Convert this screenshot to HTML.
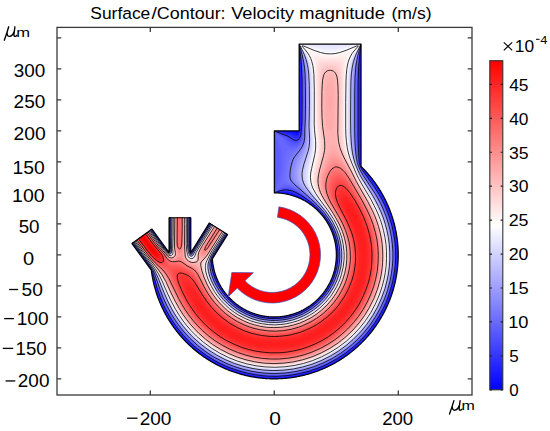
<!DOCTYPE html>
<html><head><meta charset="utf-8"><style>
html,body{margin:0;padding:0;background:#fff;}
svg{display:block;}
text{font-family:"Liberation Sans",sans-serif;fill:#000;}
</style></head><body>
<svg width="550" height="431" viewBox="0 0 550 431">
<rect width="550" height="431" fill="#fff"/>
<clipPath id="dom"><path d="M299.10 44.10 L361.10 44.10 L361.10 166.35 L361.66 166.90 L362.22 167.46 L362.78 168.02 L363.33 168.59 L363.87 169.15 L364.42 169.73 L364.96 170.30 L365.50 170.88 L366.03 171.46 L366.56 172.05 L367.08 172.64 L367.61 173.23 L368.12 173.83 L368.64 174.42 L369.15 175.03 L369.66 175.63 L370.16 176.24 L370.66 176.85 L371.15 177.47 L371.64 178.09 L372.13 178.71 L372.61 179.33 L373.09 179.96 L373.57 180.59 L374.04 181.22 L374.51 181.86 L374.97 182.50 L375.43 183.14 L375.88 183.79 L376.33 184.44 L376.78 185.09 L377.22 185.74 L377.66 186.40 L378.09 187.06 L378.52 187.72 L378.95 188.38 L379.37 189.05 L379.79 189.72 L380.20 190.40 L380.61 191.07 L381.01 191.75 L381.41 192.43 L381.81 193.11 L382.20 193.80 L382.59 194.49 L382.97 195.18 L383.35 195.87 L383.72 196.57 L384.09 197.26 L384.46 197.96 L384.82 198.67 L385.17 199.37 L385.52 200.08 L385.87 200.79 L386.21 201.50 L386.55 202.21 L386.88 202.93 L387.21 203.65 L387.54 204.37 L387.86 205.09 L388.17 205.81 L388.48 206.54 L388.79 207.27 L389.09 208.00 L389.38 208.73 L389.67 209.46 L389.96 210.20 L390.24 210.93 L390.52 211.67 L390.79 212.41 L391.06 213.16 L391.33 213.90 L391.58 214.65 L391.84 215.39 L392.09 216.14 L392.33 216.89 L392.57 217.65 L392.81 218.40 L393.04 219.16 L393.26 219.91 L393.48 220.67 L393.70 221.43 L393.91 222.19 L394.11 222.95 L394.32 223.72 L394.51 224.48 L394.70 225.25 L394.89 226.01 L395.07 226.78 L395.25 227.55 L395.42 228.32 L395.59 229.10 L395.75 229.87 L395.90 230.64 L396.06 231.42 L396.20 232.19 L396.35 232.97 L396.48 233.75 L396.61 234.52 L396.74 235.30 L396.86 236.08 L396.98 236.86 L397.09 237.65 L397.20 238.43 L397.30 239.21 L397.40 239.99 L397.49 240.78 L397.58 241.56 L397.66 242.35 L397.74 243.13 L397.81 243.92 L397.88 244.71 L397.94 245.49 L398.00 246.28 L398.05 247.07 L398.10 247.86 L398.14 248.65 L398.18 249.43 L398.21 250.22 L398.24 251.01 L398.26 251.80 L398.28 252.59 L398.29 253.38 L398.30 254.17 L398.30 254.96 L398.30 255.75 L398.29 256.54 L398.28 257.33 L398.26 258.12 L398.24 258.91 L398.21 259.69 L398.17 260.48 L398.14 261.27 L398.09 262.06 L398.04 262.85 L397.99 263.64 L397.93 264.42 L397.87 265.21 L397.80 266.00 L397.73 266.78 L397.65 267.57 L397.57 268.35 L397.48 269.14 L397.39 269.92 L397.29 270.71 L397.19 271.49 L397.08 272.27 L396.96 273.05 L396.85 273.83 L396.72 274.61 L396.60 275.39 L396.46 276.17 L396.32 276.95 L396.18 277.72 L396.03 278.50 L395.88 279.27 L395.72 280.05 L395.56 280.82 L395.39 281.59 L395.22 282.36 L395.04 283.13 L394.86 283.90 L394.67 284.67 L394.48 285.43 L394.29 286.20 L394.08 286.96 L393.88 287.72 L393.67 288.48 L393.45 289.24 L393.23 290.00 L393.00 290.76 L392.77 291.51 L392.54 292.27 L392.30 293.02 L392.05 293.77 L391.80 294.52 L391.55 295.26 L391.29 296.01 L391.02 296.75 L390.75 297.50 L390.48 298.24 L390.20 298.98 L389.92 299.71 L389.63 300.45 L389.34 301.18 L389.04 301.91 L388.74 302.64 L388.43 303.37 L388.12 304.10 L387.81 304.82 L387.49 305.54 L387.16 306.26 L386.83 306.98 L386.50 307.69 L386.16 308.41 L385.82 309.12 L385.47 309.83 L385.12 310.53 L384.76 311.24 L384.40 311.94 L384.04 312.64 L383.67 313.34 L383.29 314.03 L382.91 314.73 L382.53 315.42 L382.14 316.10 L381.75 316.79 L381.35 317.47 L380.95 318.15 L380.55 318.83 L380.14 319.51 L379.73 320.18 L379.31 320.85 L378.89 321.52 L378.46 322.18 L378.03 322.84 L377.60 323.50 L377.16 324.16 L376.71 324.81 L376.27 325.46 L375.82 326.11 L375.36 326.75 L374.90 327.40 L374.44 328.03 L373.97 328.67 L373.50 329.30 L373.02 329.93 L372.54 330.56 L372.06 331.19 L371.57 331.81 L371.08 332.42 L370.58 333.04 L370.08 333.65 L369.58 334.26 L369.07 334.86 L368.56 335.46 L368.05 336.06 L367.53 336.66 L367.01 337.25 L366.48 337.84 L365.95 338.42 L365.42 339.01 L364.88 339.58 L364.34 340.16 L363.79 340.73 L363.24 341.30 L362.69 341.86 L362.14 342.42 L361.58 342.98 L361.02 343.54 L360.45 344.09 L359.88 344.63 L359.31 345.18 L358.73 345.72 L358.15 346.25 L357.57 346.78 L356.98 347.31 L356.39 347.84 L355.80 348.36 L355.20 348.87 L354.60 349.39 L354.00 349.90 L353.39 350.40 L352.78 350.90 L352.17 351.40 L351.55 351.90 L350.93 352.39 L350.31 352.87 L349.69 353.35 L349.06 353.83 L348.43 354.30 L347.79 354.77 L347.15 355.24 L346.51 355.70 L345.87 356.16 L345.22 356.61 L344.58 357.06 L343.92 357.51 L343.27 357.95 L342.61 358.39 L341.95 358.82 L341.29 359.25 L340.62 359.67 L339.95 360.09 L339.28 360.51 L338.61 360.92 L337.93 361.33 L337.25 361.73 L336.57 362.13 L335.89 362.52 L335.20 362.91 L334.51 363.30 L333.82 363.68 L333.13 364.06 L332.43 364.43 L331.73 364.80 L331.03 365.16 L330.33 365.52 L329.62 365.87 L328.92 366.22 L328.21 366.57 L327.49 366.91 L326.78 367.25 L326.06 367.58 L325.34 367.91 L324.62 368.23 L323.90 368.55 L323.18 368.86 L322.45 369.17 L321.72 369.47 L320.99 369.77 L320.26 370.07 L319.52 370.36 L318.79 370.64 L318.05 370.93 L317.31 371.20 L316.57 371.47 L315.83 371.74 L315.08 372.00 L314.34 372.26 L313.59 372.51 L312.84 372.76 L312.09 373.00 L311.33 373.24 L310.58 373.47 L309.82 373.70 L309.07 373.93 L308.31 374.15 L307.55 374.36 L306.79 374.57 L306.02 374.77 L305.26 374.97 L304.50 375.17 L303.73 375.36 L302.96 375.54 L302.19 375.72 L301.42 375.90 L300.65 376.07 L299.88 376.23 L299.11 376.39 L298.33 376.55 L297.56 376.70 L296.78 376.84 L296.01 376.99 L295.23 377.12 L294.45 377.25 L293.67 377.38 L292.89 377.50 L292.11 377.61 L291.33 377.73 L290.54 377.83 L289.76 377.93 L288.98 378.03 L288.19 378.12 L287.41 378.21 L286.62 378.29 L285.84 378.36 L285.05 378.43 L284.26 378.50 L283.48 378.56 L282.69 378.62 L281.90 378.67 L281.11 378.71 L280.33 378.75 L279.54 378.79 L278.75 378.82 L277.96 378.85 L277.17 378.87 L276.38 378.88 L275.59 378.89 L274.80 378.90 L274.01 378.90 L273.22 378.90 L272.43 378.89 L271.64 378.87 L270.85 378.85 L270.06 378.83 L269.28 378.80 L268.49 378.76 L267.70 378.72 L266.91 378.68 L266.12 378.63 L265.33 378.58 L264.55 378.52 L263.76 378.45 L262.97 378.38 L262.19 378.31 L261.40 378.23 L260.62 378.14 L259.83 378.05 L259.05 377.96 L258.27 377.86 L257.48 377.75 L256.70 377.64 L255.92 377.53 L255.14 377.41 L254.36 377.29 L253.58 377.16 L252.80 377.02 L252.03 376.88 L251.25 376.74 L250.48 376.59 L249.70 376.44 L248.93 376.28 L248.16 376.11 L247.38 375.94 L246.61 375.77 L245.85 375.59 L245.08 375.41 L244.31 375.22 L243.55 375.03 L242.78 374.83 L242.02 374.62 L241.26 374.42 L240.50 374.20 L239.74 373.99 L238.98 373.76 L238.22 373.54 L237.47 373.30 L236.72 373.07 L235.96 372.83 L235.21 372.58 L234.47 372.33 L233.72 372.07 L232.97 371.81 L232.23 371.55 L231.49 371.28 L230.75 371.00 L230.01 370.72 L229.27 370.44 L228.54 370.15 L227.81 369.85 L227.08 369.56 L226.35 369.25 L225.62 368.94 L224.89 368.63 L224.17 368.32 L223.45 367.99 L222.73 367.67 L222.01 367.34 L221.30 367.00 L220.59 366.66 L219.88 366.32 L219.17 365.97 L218.46 365.62 L217.76 365.26 L217.06 364.90 L216.36 364.53 L215.66 364.16 L214.97 363.78 L214.27 363.40 L213.58 363.02 L212.90 362.63 L212.21 362.24 L211.53 361.84 L210.85 361.44 L210.17 361.03 L209.50 360.62 L208.83 360.21 L208.16 359.79 L207.49 359.36 L206.83 358.94 L206.17 358.50 L205.51 358.07 L204.85 357.63 L204.20 357.18 L203.55 356.74 L202.90 356.28 L202.26 355.83 L201.62 355.37 L200.98 354.90 L200.34 354.43 L199.71 353.96 L199.08 353.48 L198.46 353.00 L197.83 352.52 L197.21 352.03 L196.60 351.53 L195.98 351.04 L195.37 350.54 L194.77 350.03 L194.16 349.52 L193.56 349.01 L192.96 348.50 L192.37 347.98 L191.78 347.45 L191.19 346.93 L190.61 346.40 L190.03 345.86 L189.45 345.32 L188.87 344.78 L188.30 344.23 L187.74 343.68 L187.17 343.13 L186.61 342.58 L186.06 342.02 L185.50 341.45 L184.95 340.88 L184.41 340.31 L183.87 339.74 L183.33 339.16 L182.79 338.58 L182.26 338.00 L181.74 337.41 L181.21 336.82 L180.69 336.22 L180.18 335.63 L179.66 335.03 L179.16 334.42 L178.65 333.81 L178.15 333.20 L177.65 332.59 L177.16 331.97 L176.67 331.35 L176.19 330.73 L175.71 330.10 L175.23 329.47 L174.76 328.84 L174.29 328.21 L173.82 327.57 L173.36 326.93 L172.91 326.28 L172.45 325.64 L172.01 324.99 L171.56 324.33 L171.12 323.68 L170.69 323.02 L170.26 322.36 L169.83 321.69 L169.40 321.03 L168.99 320.36 L168.57 319.69 L168.16 319.01 L167.75 318.34 L167.35 317.66 L166.96 316.97 L166.56 316.29 L166.17 315.60 L165.79 314.91 L165.41 314.22 L165.03 313.53 L164.66 312.83 L164.30 312.13 L163.93 311.43 L163.58 310.72 L163.22 310.02 L162.87 309.31 L162.53 308.60 L162.19 307.89 L161.86 307.17 L161.53 306.45 L161.20 305.74 L160.88 305.01 L160.56 304.29 L160.25 303.57 L159.94 302.84 L159.64 302.11 L159.34 301.38 L159.05 300.65 L158.76 299.91 L158.47 299.17 L158.19 298.44 L157.92 297.70 L157.65 296.95 L157.38 296.21 L157.12 295.47 L156.87 294.72 L156.62 293.97 L156.37 293.22 L156.13 292.47 L155.89 291.72 L155.66 290.96 L155.43 290.20 L155.21 289.45 L154.99 288.69 L154.78 287.93 L154.57 287.17 L154.37 286.40 L154.17 285.64 L153.98 284.87 L153.79 284.11 L153.61 283.34 L153.43 282.57 L153.25 281.80 L153.08 281.03 L152.92 280.26 L152.76 279.48 L152.61 278.71 L152.46 277.93 L152.31 277.16 L152.17 276.38 L152.04 275.60 L151.91 274.82 L151.79 274.04 L151.67 273.26 L151.55 272.48 L151.44 271.70 L151.34 270.92 L151.24 270.13 L131.93 243.56 L152.00 228.98 L169.02 252.42 L169.02 217.70 L190.85 217.70 L190.85 252.42 L209.17 223.09 L227.58 234.59 L212.43 258.84 L212.46 259.32 L212.49 259.80 L212.53 260.28 L212.58 260.76 L212.62 261.24 L212.68 261.71 L212.73 262.19 L212.79 262.67 L212.85 263.15 L212.92 263.62 L212.99 264.10 L213.06 264.58 L213.14 265.05 L213.22 265.53 L213.30 266.00 L213.39 266.47 L213.48 266.94 L213.58 267.42 L213.68 267.89 L213.78 268.36 L213.88 268.83 L213.99 269.29 L214.11 269.76 L214.22 270.23 L214.35 270.69 L214.47 271.16 L214.60 271.62 L214.73 272.09 L214.86 272.55 L215.00 273.01 L215.15 273.47 L215.29 273.93 L215.44 274.38 L215.59 274.84 L215.75 275.30 L215.91 275.75 L216.07 276.20 L216.24 276.65 L216.41 277.10 L216.59 277.55 L216.76 278.00 L216.94 278.44 L217.13 278.89 L217.32 279.33 L217.51 279.77 L217.70 280.21 L217.90 280.65 L218.10 281.09 L218.31 281.52 L218.52 281.96 L218.73 282.39 L218.94 282.82 L219.16 283.25 L219.38 283.68 L219.61 284.10 L219.84 284.53 L220.07 284.95 L220.30 285.37 L220.54 285.79 L220.78 286.20 L221.03 286.62 L221.27 287.03 L221.53 287.44 L221.78 287.85 L222.04 288.25 L222.30 288.66 L222.56 289.06 L222.83 289.46 L223.10 289.86 L223.37 290.26 L223.65 290.65 L223.92 291.04 L224.21 291.43 L224.49 291.82 L224.78 292.21 L225.07 292.59 L225.36 292.97 L225.66 293.35 L225.96 293.73 L226.26 294.10 L226.57 294.47 L226.88 294.84 L227.19 295.21 L227.50 295.57 L227.82 295.93 L228.14 296.29 L228.46 296.65 L228.79 297.00 L229.12 297.36 L229.45 297.71 L229.78 298.05 L230.12 298.40 L230.46 298.74 L230.80 299.08 L231.14 299.41 L231.49 299.75 L231.84 300.08 L232.19 300.41 L232.55 300.73 L232.90 301.05 L233.26 301.37 L233.62 301.69 L233.99 302.01 L234.35 302.32 L234.72 302.63 L235.10 302.93 L235.47 303.23 L235.85 303.53 L236.22 303.83 L236.61 304.12 L236.99 304.42 L237.37 304.70 L237.76 304.99 L238.15 305.27 L238.54 305.55 L238.94 305.83 L239.33 306.10 L239.73 306.37 L240.13 306.64 L240.53 306.90 L240.94 307.16 L241.35 307.42 L241.75 307.67 L242.17 307.92 L242.58 308.17 L242.99 308.41 L243.41 308.66 L243.83 308.89 L244.25 309.13 L244.67 309.36 L245.09 309.59 L245.52 309.81 L245.94 310.04 L246.37 310.25 L246.80 310.47 L247.24 310.68 L247.67 310.89 L248.10 311.09 L248.54 311.30 L248.98 311.49 L249.42 311.69 L249.86 311.88 L250.30 312.07 L250.75 312.25 L251.19 312.43 L251.64 312.61 L252.09 312.79 L252.54 312.96 L252.99 313.12 L253.44 313.29 L253.90 313.45 L254.35 313.60 L254.81 313.76 L255.27 313.91 L255.72 314.05 L256.18 314.19 L256.65 314.33 L257.11 314.47 L257.57 314.60 L258.03 314.73 L258.50 314.85 L258.96 314.97 L259.43 315.09 L259.90 315.20 L260.37 315.31 L260.84 315.42 L261.31 315.52 L261.78 315.62 L262.25 315.72 L262.72 315.81 L263.19 315.90 L263.67 315.98 L264.14 316.06 L264.62 316.14 L265.09 316.21 L265.57 316.28 L266.05 316.35 L266.52 316.41 L267.00 316.47 L267.48 316.52 L267.96 316.57 L268.44 316.62 L268.91 316.67 L269.39 316.71 L269.87 316.74 L270.35 316.77 L270.83 316.80 L271.32 316.83 L271.80 316.85 L272.28 316.87 L272.76 316.88 L273.24 316.89 L273.72 316.90 L274.20 316.90 L274.68 316.90 L275.16 316.89 L275.64 316.89 L276.13 316.87 L276.61 316.86 L277.09 316.84 L277.57 316.81 L278.05 316.79 L278.53 316.76 L279.01 316.72 L279.49 316.68 L279.97 316.64 L280.45 316.59 L280.92 316.55 L281.40 316.49 L281.88 316.43 L282.36 316.37 L282.84 316.31 L283.31 316.24 L283.79 316.17 L284.26 316.09 L284.74 316.02 L285.21 315.93 L285.68 315.85 L286.16 315.76 L286.63 315.66 L287.10 315.56 L287.57 315.46 L288.04 315.36 L288.51 315.25 L288.98 315.14 L289.44 315.02 L289.91 314.90 L290.38 314.78 L290.84 314.65 L291.30 314.52 L291.76 314.39 L292.23 314.25 L292.69 314.11 L293.15 313.97 L293.60 313.82 L294.06 313.67 L294.52 313.51 L294.97 313.35 L295.42 313.19 L295.87 313.03 L296.32 312.86 L296.77 312.68 L297.22 312.51 L297.67 312.33 L298.11 312.14 L298.56 311.96 L299.00 311.77 L299.44 311.57 L299.88 311.38 L300.32 311.18 L300.75 310.97 L301.19 310.77 L301.62 310.56 L302.05 310.34 L302.48 310.13 L302.91 309.91 L303.33 309.68 L303.76 309.45 L304.18 309.22 L304.60 308.99 L305.02 308.75 L305.44 308.51 L305.85 308.27 L306.27 308.02 L306.68 307.77 L307.09 307.52 L307.49 307.27 L307.90 307.01 L308.30 306.74 L308.70 306.48 L309.10 306.21 L309.50 305.94 L309.89 305.66 L310.29 305.39 L310.68 305.11 L311.07 304.82 L311.45 304.53 L311.84 304.25 L312.22 303.95 L312.60 303.66 L312.98 303.36 L313.35 303.06 L313.72 302.75 L314.09 302.44 L314.46 302.13 L314.83 301.82 L315.19 301.50 L315.55 301.19 L315.91 300.86 L316.26 300.54 L316.62 300.21 L316.97 299.88 L317.31 299.55 L317.66 299.22 L318.00 298.88 L318.34 298.54 L318.68 298.19 L319.01 297.85 L319.35 297.50 L319.68 297.15 L320.00 296.80 L320.33 296.44 L320.65 296.08 L320.97 295.72 L321.28 295.36 L321.59 294.99 L321.90 294.62 L322.21 294.25 L322.51 293.88 L322.82 293.50 L323.11 293.13 L323.41 292.75 L323.70 292.36 L323.99 291.98 L324.28 291.59 L324.56 291.20 L324.84 290.81 L325.12 290.42 L325.39 290.02 L325.66 289.63 L325.93 289.23 L326.19 288.83 L326.46 288.42 L326.72 288.02 L326.97 287.61 L327.22 287.20 L327.47 286.79 L327.72 286.37 L327.96 285.96 L328.20 285.54 L328.44 285.12 L328.67 284.70 L328.90 284.28 L329.13 283.85 L329.35 283.43 L329.57 283.00 L329.78 282.57 L330.00 282.14 L330.21 281.70 L330.41 281.27 L330.62 280.83 L330.82 280.39 L331.01 279.96 L331.20 279.51 L331.39 279.07 L331.58 278.63 L331.76 278.18 L331.94 277.74 L332.12 277.29 L332.29 276.84 L332.46 276.39 L332.62 275.94 L332.78 275.48 L332.94 275.03 L333.10 274.57 L333.25 274.12 L333.39 273.66 L333.54 273.20 L333.68 272.74 L333.82 272.28 L333.95 271.81 L334.08 271.35 L334.20 270.89 L334.33 270.42 L334.44 269.95 L334.56 269.49 L334.67 269.02 L334.78 268.55 L334.88 268.08 L334.98 267.61 L335.08 267.14 L335.17 266.67 L335.26 266.19 L335.35 265.72 L335.43 265.25 L335.51 264.77 L335.58 264.30 L335.65 263.82 L335.72 263.34 L335.79 262.87 L335.85 262.39 L335.90 261.91 L335.95 261.43 L336.00 260.95 L336.05 260.48 L336.09 260.00 L336.13 259.52 L336.16 259.04 L336.19 258.56 L336.22 258.08 L336.24 257.60 L336.26 257.11 L336.28 256.63 L336.29 256.15 L336.30 255.67 L336.30 255.19 L336.30 254.71 L336.30 254.23 L336.29 253.75 L336.28 253.27 L336.26 252.78 L336.25 252.30 L336.22 251.82 L336.20 251.34 L336.17 250.86 L336.14 250.38 L336.10 249.90 L336.06 249.42 L336.01 248.94 L335.97 248.47 L335.91 247.99 L335.86 247.51 L335.80 247.03 L335.74 246.55 L335.67 246.08 L335.60 245.60 L335.52 245.13 L335.45 244.65 L335.37 244.18 L335.28 243.70 L335.19 243.23 L335.10 242.76 L335.00 242.29 L334.90 241.82 L334.80 241.35 L334.69 240.88 L334.58 240.41 L334.47 239.94 L334.35 239.47 L334.23 239.01 L334.10 238.54 L333.98 238.08 L333.84 237.62 L333.71 237.16 L333.57 236.70 L333.42 236.24 L333.28 235.78 L333.13 235.32 L332.97 234.87 L332.82 234.41 L332.66 233.96 L332.49 233.50 L332.32 233.05 L332.15 232.60 L331.98 232.16 L331.80 231.71 L331.62 231.26 L331.43 230.82 L331.24 230.38 L331.05 229.94 L330.86 229.50 L330.66 229.06 L330.46 228.62 L330.25 228.19 L330.04 227.75 L329.83 227.32 L329.61 226.89 L329.39 226.46 L329.17 226.04 L328.95 225.61 L328.72 225.19 L328.48 224.77 L328.25 224.35 L328.01 223.93 L327.77 223.51 L327.52 223.10 L327.27 222.69 L327.02 222.28 L326.77 221.87 L326.51 221.46 L326.25 221.06 L325.98 220.66 L325.72 220.26 L325.45 219.86 L325.17 219.46 L324.90 219.07 L324.62 218.68 L324.33 218.29 L324.05 217.90 L323.76 217.51 L323.47 217.13 L323.17 216.75 L322.88 216.37 L322.58 216.00 L322.27 215.62 L321.97 215.25 L321.66 214.88 L321.35 214.52 L321.03 214.15 L320.71 213.79 L320.39 213.43 L320.07 213.08 L319.74 212.72 L319.41 212.37 L319.08 212.02 L318.75 211.68 L318.41 211.33 L318.07 210.99 L317.73 210.65 L317.39 210.32 L317.04 209.98 L316.69 209.65 L316.34 209.33 L315.98 209.00 L315.62 208.68 L315.26 208.36 L314.90 208.04 L314.54 207.73 L314.17 207.42 L313.80 207.11 L313.43 206.81 L313.05 206.50 L312.68 206.20 L312.30 205.91 L311.92 205.61 L311.53 205.32 L311.15 205.04 L310.76 204.75 L310.37 204.47 L309.98 204.19 L309.58 203.92 L309.18 203.65 L308.79 203.38 L308.38 203.11 L307.98 202.85 L307.58 202.59 L307.17 202.33 L306.76 202.08 L306.35 201.83 L305.94 201.58 L305.52 201.34 L305.11 201.09 L304.69 200.86 L304.27 200.62 L303.84 200.39 L303.42 200.16 L303.00 199.94 L302.57 199.72 L302.14 199.50 L301.71 199.29 L301.28 199.08 L300.84 198.87 L300.41 198.66 L299.97 198.46 L299.53 198.27 L299.09 198.07 L298.65 197.88 L298.20 197.69 L297.76 197.51 L297.31 197.33 L296.87 197.15 L296.42 196.98 L295.97 196.81 L295.52 196.64 L295.06 196.48 L294.61 196.32 L294.15 196.16 L293.70 196.01 L293.24 195.86 L292.78 195.72 L292.32 195.58 L291.86 195.44 L291.40 195.30 L290.93 195.17 L290.47 195.05 L290.01 194.92 L289.54 194.80 L289.07 194.69 L288.61 194.57 L288.14 194.46 L287.67 194.36 L287.20 194.26 L286.73 194.16 L286.25 194.06 L285.78 193.97 L285.31 193.89 L284.83 193.80 L284.36 193.72 L283.88 193.65 L283.41 193.57 L282.93 193.50 L282.46 193.44 L281.98 193.38 L281.50 193.32 L281.02 193.27 L280.54 193.22 L280.07 193.17 L279.59 193.13 L279.11 193.09 L278.63 193.05 L278.15 193.02 L277.67 192.99 L277.19 192.97 L276.71 192.95 L276.22 192.93 L275.74 192.92 L275.26 192.91 L274.78 192.90 L274.30 192.90 L274.30 130.90 L299.10 130.90Z"/></clipPath>
<g clip-path="url(#dom)">
<path d="M299.10 44.10 L361.10 44.10 L361.10 166.35 L361.66 166.90 L362.22 167.46 L362.78 168.02 L363.33 168.59 L363.87 169.15 L364.42 169.73 L364.96 170.30 L365.50 170.88 L366.03 171.46 L366.56 172.05 L367.08 172.64 L367.61 173.23 L368.12 173.83 L368.64 174.42 L369.15 175.03 L369.66 175.63 L370.16 176.24 L370.66 176.85 L371.15 177.47 L371.64 178.09 L372.13 178.71 L372.61 179.33 L373.09 179.96 L373.57 180.59 L374.04 181.22 L374.51 181.86 L374.97 182.50 L375.43 183.14 L375.88 183.79 L376.33 184.44 L376.78 185.09 L377.22 185.74 L377.66 186.40 L378.09 187.06 L378.52 187.72 L378.95 188.38 L379.37 189.05 L379.79 189.72 L380.20 190.40 L380.61 191.07 L381.01 191.75 L381.41 192.43 L381.81 193.11 L382.20 193.80 L382.59 194.49 L382.97 195.18 L383.35 195.87 L383.72 196.57 L384.09 197.26 L384.46 197.96 L384.82 198.67 L385.17 199.37 L385.52 200.08 L385.87 200.79 L386.21 201.50 L386.55 202.21 L386.88 202.93 L387.21 203.65 L387.54 204.37 L387.86 205.09 L388.17 205.81 L388.48 206.54 L388.79 207.27 L389.09 208.00 L389.38 208.73 L389.67 209.46 L389.96 210.20 L390.24 210.93 L390.52 211.67 L390.79 212.41 L391.06 213.16 L391.33 213.90 L391.58 214.65 L391.84 215.39 L392.09 216.14 L392.33 216.89 L392.57 217.65 L392.81 218.40 L393.04 219.16 L393.26 219.91 L393.48 220.67 L393.70 221.43 L393.91 222.19 L394.11 222.95 L394.32 223.72 L394.51 224.48 L394.70 225.25 L394.89 226.01 L395.07 226.78 L395.25 227.55 L395.42 228.32 L395.59 229.10 L395.75 229.87 L395.90 230.64 L396.06 231.42 L396.20 232.19 L396.35 232.97 L396.48 233.75 L396.61 234.52 L396.74 235.30 L396.86 236.08 L396.98 236.86 L397.09 237.65 L397.20 238.43 L397.30 239.21 L397.40 239.99 L397.49 240.78 L397.58 241.56 L397.66 242.35 L397.74 243.13 L397.81 243.92 L397.88 244.71 L397.94 245.49 L398.00 246.28 L398.05 247.07 L398.10 247.86 L398.14 248.65 L398.18 249.43 L398.21 250.22 L398.24 251.01 L398.26 251.80 L398.28 252.59 L398.29 253.38 L398.30 254.17 L398.30 254.96 L398.30 255.75 L398.29 256.54 L398.28 257.33 L398.26 258.12 L398.24 258.91 L398.21 259.69 L398.17 260.48 L398.14 261.27 L398.09 262.06 L398.04 262.85 L397.99 263.64 L397.93 264.42 L397.87 265.21 L397.80 266.00 L397.73 266.78 L397.65 267.57 L397.57 268.35 L397.48 269.14 L397.39 269.92 L397.29 270.71 L397.19 271.49 L397.08 272.27 L396.96 273.05 L396.85 273.83 L396.72 274.61 L396.60 275.39 L396.46 276.17 L396.32 276.95 L396.18 277.72 L396.03 278.50 L395.88 279.27 L395.72 280.05 L395.56 280.82 L395.39 281.59 L395.22 282.36 L395.04 283.13 L394.86 283.90 L394.67 284.67 L394.48 285.43 L394.29 286.20 L394.08 286.96 L393.88 287.72 L393.67 288.48 L393.45 289.24 L393.23 290.00 L393.00 290.76 L392.77 291.51 L392.54 292.27 L392.30 293.02 L392.05 293.77 L391.80 294.52 L391.55 295.26 L391.29 296.01 L391.02 296.75 L390.75 297.50 L390.48 298.24 L390.20 298.98 L389.92 299.71 L389.63 300.45 L389.34 301.18 L389.04 301.91 L388.74 302.64 L388.43 303.37 L388.12 304.10 L387.81 304.82 L387.49 305.54 L387.16 306.26 L386.83 306.98 L386.50 307.69 L386.16 308.41 L385.82 309.12 L385.47 309.83 L385.12 310.53 L384.76 311.24 L384.40 311.94 L384.04 312.64 L383.67 313.34 L383.29 314.03 L382.91 314.73 L382.53 315.42 L382.14 316.10 L381.75 316.79 L381.35 317.47 L380.95 318.15 L380.55 318.83 L380.14 319.51 L379.73 320.18 L379.31 320.85 L378.89 321.52 L378.46 322.18 L378.03 322.84 L377.60 323.50 L377.16 324.16 L376.71 324.81 L376.27 325.46 L375.82 326.11 L375.36 326.75 L374.90 327.40 L374.44 328.03 L373.97 328.67 L373.50 329.30 L373.02 329.93 L372.54 330.56 L372.06 331.19 L371.57 331.81 L371.08 332.42 L370.58 333.04 L370.08 333.65 L369.58 334.26 L369.07 334.86 L368.56 335.46 L368.05 336.06 L367.53 336.66 L367.01 337.25 L366.48 337.84 L365.95 338.42 L365.42 339.01 L364.88 339.58 L364.34 340.16 L363.79 340.73 L363.24 341.30 L362.69 341.86 L362.14 342.42 L361.58 342.98 L361.02 343.54 L360.45 344.09 L359.88 344.63 L359.31 345.18 L358.73 345.72 L358.15 346.25 L357.57 346.78 L356.98 347.31 L356.39 347.84 L355.80 348.36 L355.20 348.87 L354.60 349.39 L354.00 349.90 L353.39 350.40 L352.78 350.90 L352.17 351.40 L351.55 351.90 L350.93 352.39 L350.31 352.87 L349.69 353.35 L349.06 353.83 L348.43 354.30 L347.79 354.77 L347.15 355.24 L346.51 355.70 L345.87 356.16 L345.22 356.61 L344.58 357.06 L343.92 357.51 L343.27 357.95 L342.61 358.39 L341.95 358.82 L341.29 359.25 L340.62 359.67 L339.95 360.09 L339.28 360.51 L338.61 360.92 L337.93 361.33 L337.25 361.73 L336.57 362.13 L335.89 362.52 L335.20 362.91 L334.51 363.30 L333.82 363.68 L333.13 364.06 L332.43 364.43 L331.73 364.80 L331.03 365.16 L330.33 365.52 L329.62 365.87 L328.92 366.22 L328.21 366.57 L327.49 366.91 L326.78 367.25 L326.06 367.58 L325.34 367.91 L324.62 368.23 L323.90 368.55 L323.18 368.86 L322.45 369.17 L321.72 369.47 L320.99 369.77 L320.26 370.07 L319.52 370.36 L318.79 370.64 L318.05 370.93 L317.31 371.20 L316.57 371.47 L315.83 371.74 L315.08 372.00 L314.34 372.26 L313.59 372.51 L312.84 372.76 L312.09 373.00 L311.33 373.24 L310.58 373.47 L309.82 373.70 L309.07 373.93 L308.31 374.15 L307.55 374.36 L306.79 374.57 L306.02 374.77 L305.26 374.97 L304.50 375.17 L303.73 375.36 L302.96 375.54 L302.19 375.72 L301.42 375.90 L300.65 376.07 L299.88 376.23 L299.11 376.39 L298.33 376.55 L297.56 376.70 L296.78 376.84 L296.01 376.99 L295.23 377.12 L294.45 377.25 L293.67 377.38 L292.89 377.50 L292.11 377.61 L291.33 377.73 L290.54 377.83 L289.76 377.93 L288.98 378.03 L288.19 378.12 L287.41 378.21 L286.62 378.29 L285.84 378.36 L285.05 378.43 L284.26 378.50 L283.48 378.56 L282.69 378.62 L281.90 378.67 L281.11 378.71 L280.33 378.75 L279.54 378.79 L278.75 378.82 L277.96 378.85 L277.17 378.87 L276.38 378.88 L275.59 378.89 L274.80 378.90 L274.01 378.90 L273.22 378.90 L272.43 378.89 L271.64 378.87 L270.85 378.85 L270.06 378.83 L269.28 378.80 L268.49 378.76 L267.70 378.72 L266.91 378.68 L266.12 378.63 L265.33 378.58 L264.55 378.52 L263.76 378.45 L262.97 378.38 L262.19 378.31 L261.40 378.23 L260.62 378.14 L259.83 378.05 L259.05 377.96 L258.27 377.86 L257.48 377.75 L256.70 377.64 L255.92 377.53 L255.14 377.41 L254.36 377.29 L253.58 377.16 L252.80 377.02 L252.03 376.88 L251.25 376.74 L250.48 376.59 L249.70 376.44 L248.93 376.28 L248.16 376.11 L247.38 375.94 L246.61 375.77 L245.85 375.59 L245.08 375.41 L244.31 375.22 L243.55 375.03 L242.78 374.83 L242.02 374.62 L241.26 374.42 L240.50 374.20 L239.74 373.99 L238.98 373.76 L238.22 373.54 L237.47 373.30 L236.72 373.07 L235.96 372.83 L235.21 372.58 L234.47 372.33 L233.72 372.07 L232.97 371.81 L232.23 371.55 L231.49 371.28 L230.75 371.00 L230.01 370.72 L229.27 370.44 L228.54 370.15 L227.81 369.85 L227.08 369.56 L226.35 369.25 L225.62 368.94 L224.89 368.63 L224.17 368.32 L223.45 367.99 L222.73 367.67 L222.01 367.34 L221.30 367.00 L220.59 366.66 L219.88 366.32 L219.17 365.97 L218.46 365.62 L217.76 365.26 L217.06 364.90 L216.36 364.53 L215.66 364.16 L214.97 363.78 L214.27 363.40 L213.58 363.02 L212.90 362.63 L212.21 362.24 L211.53 361.84 L210.85 361.44 L210.17 361.03 L209.50 360.62 L208.83 360.21 L208.16 359.79 L207.49 359.36 L206.83 358.94 L206.17 358.50 L205.51 358.07 L204.85 357.63 L204.20 357.18 L203.55 356.74 L202.90 356.28 L202.26 355.83 L201.62 355.37 L200.98 354.90 L200.34 354.43 L199.71 353.96 L199.08 353.48 L198.46 353.00 L197.83 352.52 L197.21 352.03 L196.60 351.53 L195.98 351.04 L195.37 350.54 L194.77 350.03 L194.16 349.52 L193.56 349.01 L192.96 348.50 L192.37 347.98 L191.78 347.45 L191.19 346.93 L190.61 346.40 L190.03 345.86 L189.45 345.32 L188.87 344.78 L188.30 344.23 L187.74 343.68 L187.17 343.13 L186.61 342.58 L186.06 342.02 L185.50 341.45 L184.95 340.88 L184.41 340.31 L183.87 339.74 L183.33 339.16 L182.79 338.58 L182.26 338.00 L181.74 337.41 L181.21 336.82 L180.69 336.22 L180.18 335.63 L179.66 335.03 L179.16 334.42 L178.65 333.81 L178.15 333.20 L177.65 332.59 L177.16 331.97 L176.67 331.35 L176.19 330.73 L175.71 330.10 L175.23 329.47 L174.76 328.84 L174.29 328.21 L173.82 327.57 L173.36 326.93 L172.91 326.28 L172.45 325.64 L172.01 324.99 L171.56 324.33 L171.12 323.68 L170.69 323.02 L170.26 322.36 L169.83 321.69 L169.40 321.03 L168.99 320.36 L168.57 319.69 L168.16 319.01 L167.75 318.34 L167.35 317.66 L166.96 316.97 L166.56 316.29 L166.17 315.60 L165.79 314.91 L165.41 314.22 L165.03 313.53 L164.66 312.83 L164.30 312.13 L163.93 311.43 L163.58 310.72 L163.22 310.02 L162.87 309.31 L162.53 308.60 L162.19 307.89 L161.86 307.17 L161.53 306.45 L161.20 305.74 L160.88 305.01 L160.56 304.29 L160.25 303.57 L159.94 302.84 L159.64 302.11 L159.34 301.38 L159.05 300.65 L158.76 299.91 L158.47 299.17 L158.19 298.44 L157.92 297.70 L157.65 296.95 L157.38 296.21 L157.12 295.47 L156.87 294.72 L156.62 293.97 L156.37 293.22 L156.13 292.47 L155.89 291.72 L155.66 290.96 L155.43 290.20 L155.21 289.45 L154.99 288.69 L154.78 287.93 L154.57 287.17 L154.37 286.40 L154.17 285.64 L153.98 284.87 L153.79 284.11 L153.61 283.34 L153.43 282.57 L153.25 281.80 L153.08 281.03 L152.92 280.26 L152.76 279.48 L152.61 278.71 L152.46 277.93 L152.31 277.16 L152.17 276.38 L152.04 275.60 L151.91 274.82 L151.79 274.04 L151.67 273.26 L151.55 272.48 L151.44 271.70 L151.34 270.92 L151.24 270.13 L131.93 243.56 L152.00 228.98 L169.02 252.42 L169.02 217.70 L190.85 217.70 L190.85 252.42 L209.17 223.09 L227.58 234.59 L212.43 258.84 L212.46 259.32 L212.49 259.80 L212.53 260.28 L212.58 260.76 L212.62 261.24 L212.68 261.71 L212.73 262.19 L212.79 262.67 L212.85 263.15 L212.92 263.62 L212.99 264.10 L213.06 264.58 L213.14 265.05 L213.22 265.53 L213.30 266.00 L213.39 266.47 L213.48 266.94 L213.58 267.42 L213.68 267.89 L213.78 268.36 L213.88 268.83 L213.99 269.29 L214.11 269.76 L214.22 270.23 L214.35 270.69 L214.47 271.16 L214.60 271.62 L214.73 272.09 L214.86 272.55 L215.00 273.01 L215.15 273.47 L215.29 273.93 L215.44 274.38 L215.59 274.84 L215.75 275.30 L215.91 275.75 L216.07 276.20 L216.24 276.65 L216.41 277.10 L216.59 277.55 L216.76 278.00 L216.94 278.44 L217.13 278.89 L217.32 279.33 L217.51 279.77 L217.70 280.21 L217.90 280.65 L218.10 281.09 L218.31 281.52 L218.52 281.96 L218.73 282.39 L218.94 282.82 L219.16 283.25 L219.38 283.68 L219.61 284.10 L219.84 284.53 L220.07 284.95 L220.30 285.37 L220.54 285.79 L220.78 286.20 L221.03 286.62 L221.27 287.03 L221.53 287.44 L221.78 287.85 L222.04 288.25 L222.30 288.66 L222.56 289.06 L222.83 289.46 L223.10 289.86 L223.37 290.26 L223.65 290.65 L223.92 291.04 L224.21 291.43 L224.49 291.82 L224.78 292.21 L225.07 292.59 L225.36 292.97 L225.66 293.35 L225.96 293.73 L226.26 294.10 L226.57 294.47 L226.88 294.84 L227.19 295.21 L227.50 295.57 L227.82 295.93 L228.14 296.29 L228.46 296.65 L228.79 297.00 L229.12 297.36 L229.45 297.71 L229.78 298.05 L230.12 298.40 L230.46 298.74 L230.80 299.08 L231.14 299.41 L231.49 299.75 L231.84 300.08 L232.19 300.41 L232.55 300.73 L232.90 301.05 L233.26 301.37 L233.62 301.69 L233.99 302.01 L234.35 302.32 L234.72 302.63 L235.10 302.93 L235.47 303.23 L235.85 303.53 L236.22 303.83 L236.61 304.12 L236.99 304.42 L237.37 304.70 L237.76 304.99 L238.15 305.27 L238.54 305.55 L238.94 305.83 L239.33 306.10 L239.73 306.37 L240.13 306.64 L240.53 306.90 L240.94 307.16 L241.35 307.42 L241.75 307.67 L242.17 307.92 L242.58 308.17 L242.99 308.41 L243.41 308.66 L243.83 308.89 L244.25 309.13 L244.67 309.36 L245.09 309.59 L245.52 309.81 L245.94 310.04 L246.37 310.25 L246.80 310.47 L247.24 310.68 L247.67 310.89 L248.10 311.09 L248.54 311.30 L248.98 311.49 L249.42 311.69 L249.86 311.88 L250.30 312.07 L250.75 312.25 L251.19 312.43 L251.64 312.61 L252.09 312.79 L252.54 312.96 L252.99 313.12 L253.44 313.29 L253.90 313.45 L254.35 313.60 L254.81 313.76 L255.27 313.91 L255.72 314.05 L256.18 314.19 L256.65 314.33 L257.11 314.47 L257.57 314.60 L258.03 314.73 L258.50 314.85 L258.96 314.97 L259.43 315.09 L259.90 315.20 L260.37 315.31 L260.84 315.42 L261.31 315.52 L261.78 315.62 L262.25 315.72 L262.72 315.81 L263.19 315.90 L263.67 315.98 L264.14 316.06 L264.62 316.14 L265.09 316.21 L265.57 316.28 L266.05 316.35 L266.52 316.41 L267.00 316.47 L267.48 316.52 L267.96 316.57 L268.44 316.62 L268.91 316.67 L269.39 316.71 L269.87 316.74 L270.35 316.77 L270.83 316.80 L271.32 316.83 L271.80 316.85 L272.28 316.87 L272.76 316.88 L273.24 316.89 L273.72 316.90 L274.20 316.90 L274.68 316.90 L275.16 316.89 L275.64 316.89 L276.13 316.87 L276.61 316.86 L277.09 316.84 L277.57 316.81 L278.05 316.79 L278.53 316.76 L279.01 316.72 L279.49 316.68 L279.97 316.64 L280.45 316.59 L280.92 316.55 L281.40 316.49 L281.88 316.43 L282.36 316.37 L282.84 316.31 L283.31 316.24 L283.79 316.17 L284.26 316.09 L284.74 316.02 L285.21 315.93 L285.68 315.85 L286.16 315.76 L286.63 315.66 L287.10 315.56 L287.57 315.46 L288.04 315.36 L288.51 315.25 L288.98 315.14 L289.44 315.02 L289.91 314.90 L290.38 314.78 L290.84 314.65 L291.30 314.52 L291.76 314.39 L292.23 314.25 L292.69 314.11 L293.15 313.97 L293.60 313.82 L294.06 313.67 L294.52 313.51 L294.97 313.35 L295.42 313.19 L295.87 313.03 L296.32 312.86 L296.77 312.68 L297.22 312.51 L297.67 312.33 L298.11 312.14 L298.56 311.96 L299.00 311.77 L299.44 311.57 L299.88 311.38 L300.32 311.18 L300.75 310.97 L301.19 310.77 L301.62 310.56 L302.05 310.34 L302.48 310.13 L302.91 309.91 L303.33 309.68 L303.76 309.45 L304.18 309.22 L304.60 308.99 L305.02 308.75 L305.44 308.51 L305.85 308.27 L306.27 308.02 L306.68 307.77 L307.09 307.52 L307.49 307.27 L307.90 307.01 L308.30 306.74 L308.70 306.48 L309.10 306.21 L309.50 305.94 L309.89 305.66 L310.29 305.39 L310.68 305.11 L311.07 304.82 L311.45 304.53 L311.84 304.25 L312.22 303.95 L312.60 303.66 L312.98 303.36 L313.35 303.06 L313.72 302.75 L314.09 302.44 L314.46 302.13 L314.83 301.82 L315.19 301.50 L315.55 301.19 L315.91 300.86 L316.26 300.54 L316.62 300.21 L316.97 299.88 L317.31 299.55 L317.66 299.22 L318.00 298.88 L318.34 298.54 L318.68 298.19 L319.01 297.85 L319.35 297.50 L319.68 297.15 L320.00 296.80 L320.33 296.44 L320.65 296.08 L320.97 295.72 L321.28 295.36 L321.59 294.99 L321.90 294.62 L322.21 294.25 L322.51 293.88 L322.82 293.50 L323.11 293.13 L323.41 292.75 L323.70 292.36 L323.99 291.98 L324.28 291.59 L324.56 291.20 L324.84 290.81 L325.12 290.42 L325.39 290.02 L325.66 289.63 L325.93 289.23 L326.19 288.83 L326.46 288.42 L326.72 288.02 L326.97 287.61 L327.22 287.20 L327.47 286.79 L327.72 286.37 L327.96 285.96 L328.20 285.54 L328.44 285.12 L328.67 284.70 L328.90 284.28 L329.13 283.85 L329.35 283.43 L329.57 283.00 L329.78 282.57 L330.00 282.14 L330.21 281.70 L330.41 281.27 L330.62 280.83 L330.82 280.39 L331.01 279.96 L331.20 279.51 L331.39 279.07 L331.58 278.63 L331.76 278.18 L331.94 277.74 L332.12 277.29 L332.29 276.84 L332.46 276.39 L332.62 275.94 L332.78 275.48 L332.94 275.03 L333.10 274.57 L333.25 274.12 L333.39 273.66 L333.54 273.20 L333.68 272.74 L333.82 272.28 L333.95 271.81 L334.08 271.35 L334.20 270.89 L334.33 270.42 L334.44 269.95 L334.56 269.49 L334.67 269.02 L334.78 268.55 L334.88 268.08 L334.98 267.61 L335.08 267.14 L335.17 266.67 L335.26 266.19 L335.35 265.72 L335.43 265.25 L335.51 264.77 L335.58 264.30 L335.65 263.82 L335.72 263.34 L335.79 262.87 L335.85 262.39 L335.90 261.91 L335.95 261.43 L336.00 260.95 L336.05 260.48 L336.09 260.00 L336.13 259.52 L336.16 259.04 L336.19 258.56 L336.22 258.08 L336.24 257.60 L336.26 257.11 L336.28 256.63 L336.29 256.15 L336.30 255.67 L336.30 255.19 L336.30 254.71 L336.30 254.23 L336.29 253.75 L336.28 253.27 L336.26 252.78 L336.25 252.30 L336.22 251.82 L336.20 251.34 L336.17 250.86 L336.14 250.38 L336.10 249.90 L336.06 249.42 L336.01 248.94 L335.97 248.47 L335.91 247.99 L335.86 247.51 L335.80 247.03 L335.74 246.55 L335.67 246.08 L335.60 245.60 L335.52 245.13 L335.45 244.65 L335.37 244.18 L335.28 243.70 L335.19 243.23 L335.10 242.76 L335.00 242.29 L334.90 241.82 L334.80 241.35 L334.69 240.88 L334.58 240.41 L334.47 239.94 L334.35 239.47 L334.23 239.01 L334.10 238.54 L333.98 238.08 L333.84 237.62 L333.71 237.16 L333.57 236.70 L333.42 236.24 L333.28 235.78 L333.13 235.32 L332.97 234.87 L332.82 234.41 L332.66 233.96 L332.49 233.50 L332.32 233.05 L332.15 232.60 L331.98 232.16 L331.80 231.71 L331.62 231.26 L331.43 230.82 L331.24 230.38 L331.05 229.94 L330.86 229.50 L330.66 229.06 L330.46 228.62 L330.25 228.19 L330.04 227.75 L329.83 227.32 L329.61 226.89 L329.39 226.46 L329.17 226.04 L328.95 225.61 L328.72 225.19 L328.48 224.77 L328.25 224.35 L328.01 223.93 L327.77 223.51 L327.52 223.10 L327.27 222.69 L327.02 222.28 L326.77 221.87 L326.51 221.46 L326.25 221.06 L325.98 220.66 L325.72 220.26 L325.45 219.86 L325.17 219.46 L324.90 219.07 L324.62 218.68 L324.33 218.29 L324.05 217.90 L323.76 217.51 L323.47 217.13 L323.17 216.75 L322.88 216.37 L322.58 216.00 L322.27 215.62 L321.97 215.25 L321.66 214.88 L321.35 214.52 L321.03 214.15 L320.71 213.79 L320.39 213.43 L320.07 213.08 L319.74 212.72 L319.41 212.37 L319.08 212.02 L318.75 211.68 L318.41 211.33 L318.07 210.99 L317.73 210.65 L317.39 210.32 L317.04 209.98 L316.69 209.65 L316.34 209.33 L315.98 209.00 L315.62 208.68 L315.26 208.36 L314.90 208.04 L314.54 207.73 L314.17 207.42 L313.80 207.11 L313.43 206.81 L313.05 206.50 L312.68 206.20 L312.30 205.91 L311.92 205.61 L311.53 205.32 L311.15 205.04 L310.76 204.75 L310.37 204.47 L309.98 204.19 L309.58 203.92 L309.18 203.65 L308.79 203.38 L308.38 203.11 L307.98 202.85 L307.58 202.59 L307.17 202.33 L306.76 202.08 L306.35 201.83 L305.94 201.58 L305.52 201.34 L305.11 201.09 L304.69 200.86 L304.27 200.62 L303.84 200.39 L303.42 200.16 L303.00 199.94 L302.57 199.72 L302.14 199.50 L301.71 199.29 L301.28 199.08 L300.84 198.87 L300.41 198.66 L299.97 198.46 L299.53 198.27 L299.09 198.07 L298.65 197.88 L298.20 197.69 L297.76 197.51 L297.31 197.33 L296.87 197.15 L296.42 196.98 L295.97 196.81 L295.52 196.64 L295.06 196.48 L294.61 196.32 L294.15 196.16 L293.70 196.01 L293.24 195.86 L292.78 195.72 L292.32 195.58 L291.86 195.44 L291.40 195.30 L290.93 195.17 L290.47 195.05 L290.01 194.92 L289.54 194.80 L289.07 194.69 L288.61 194.57 L288.14 194.46 L287.67 194.36 L287.20 194.26 L286.73 194.16 L286.25 194.06 L285.78 193.97 L285.31 193.89 L284.83 193.80 L284.36 193.72 L283.88 193.65 L283.41 193.57 L282.93 193.50 L282.46 193.44 L281.98 193.38 L281.50 193.32 L281.02 193.27 L280.54 193.22 L280.07 193.17 L279.59 193.13 L279.11 193.09 L278.63 193.05 L278.15 193.02 L277.67 192.99 L277.19 192.97 L276.71 192.95 L276.22 192.93 L275.74 192.92 L275.26 192.91 L274.78 192.90 L274.30 192.90 L274.30 130.90 L299.10 130.90Z" fill="#0000ff"/>
<path d="M266.2 378.6l16.3 -0.0l1.5 -0.2l0.8 -0.3l4.6 -0.3l1.6 -0.2l0.8 -0.3l3.1 -0.3l1.5 -0.5l3.1 -0.4l0.8 -0.4l3.1 -0.4l0.8 -0.4l2.3 -0.4l13.9 -4.6l3.9 -1.9l1.6 -0.4l7.7 -3.9l1.6 -1.2l2.3 -1.1l1.5 -1.2l2.4 -1.1l3.8 -2.8l0.8 -0.3l2.3 -2.1l0.8 -0.3l3.1 -2.7l0.8 -0.4l3.9 -3.5l0.7 -0.3l3.9 -3.8l4.6 -4.7l0.3 -0.8l3.6 -3.8l0.3 -0.8l2.8 -3.1l0.3 -0.8l2.0 -2.3l0.3 -0.8l2.8 -3.9l1.1 -2.3l1.2 -1.5l1.1 -2.4l1.2 -1.5l3.2 -6.2l0.7 -1.6l0.4 -1.5l1.9 -3.9l4.7 -13.9l0.4 -2.4l0.3 -0.7l0.5 -3.1l0.3 -0.8l0.5 -3.1l0.3 -0.8l0.4 -3.9l0.4 -0.7l0.2 -1.6l0.1 -3.9l0.6 -3.1l0.1 -8.5l-0.1 -7.7l-0.6 -3.1l-0.1 -3.9l-0.2 -1.6l-0.4 -0.7l-0.4 -3.9l-0.4 -0.8l-0.4 -3.1l-0.3 -0.8l-0.5 -3.1l-0.3 -0.7l-0.4 -2.4l-4.7 -13.9l-1.9 -3.9l-0.4 -1.5l-0.7 -1.6l-3.2 -6.2l-1.2 -1.5l-1.1 -2.4l-1.2 -1.5l-1.1 -2.3l-2.8 -3.9l-0.3 -0.8l-2.0 -2.3l-0.4 -0.8l-2.7 -3.1l-0.3 -0.8l-3.6 -3.8l-0.3 -0.8l-4.6 -4.9l-0.4 -0.5l-0.1 -7.8l-0.1 -33.3l0.0 -52.7l0.2 -31.0l-0.4 -0.4l-61.2 0.0l-0.4 0.4l0.3 45.7l-0.0 37.2l-0.2 6.2l-0.5 0.7l-0.7 0.8l-2.4 -0.6l-2.3 -0.1l-18.6 -0.4l-0.3 0.4l-0.0 61.2l0.3 0.4l5.4 -0.1l1.6 0.3l3.9 0.4l0.7 0.3l3.1 0.5l4.7 1.5l4.6 1.6l6.2 3.1l3.9 2.8l0.8 0.3l1.5 1.3l0.8 0.3l3.9 3.6l0.8 0.3l0.6 0.5l2.5 2.5l0.4 0.6l0.3 0.7l3.6 3.9l0.2 0.8l1.4 1.5l0.2 0.8l1.3 1.6l0.2 0.7l1.3 1.6l0.2 0.8l0.6 0.7l0.2 0.8l0.6 0.8l0.2 0.8l1.3 2.3l0.3 1.5l0.5 0.8l0.3 1.6l0.5 0.7l0.3 1.6l0.4 0.8l0.4 1.5l0.4 0.8l0.2 2.3l0.6 1.6l0.2 3.1l0.6 2.3l0.1 5.4l-0.1 6.2l-0.6 2.3l-0.2 3.1l-0.6 1.6l-0.2 2.3l-0.4 0.8l-0.4 1.5l-1.1 3.1l-0.4 1.6l-0.4 0.8l-0.4 1.5l-1.3 2.3l-0.2 0.8l-0.6 0.8l-0.2 0.8l-0.5 0.7l-0.3 0.8l-1.2 1.6l-0.3 0.7l-1.3 1.6l-0.2 0.8l-1.3 1.5l-0.3 0.8l-3.6 3.9l-0.2 0.7l-0.5 0.6l-2.5 2.5l-0.6 0.5l-0.8 0.3l-3.9 3.6l-0.8 0.2l-1.5 1.3l-0.8 0.3l-1.5 1.3l-0.8 0.2l-1.6 1.3l-0.7 0.2l-0.8 0.6l-0.8 0.2l-0.8 0.6l-0.7 0.2l-2.4 1.3l-1.5 0.3l-0.8 0.4l-1.5 0.4l-3.1 1.2l-1.6 0.3l-0.8 0.4l-2.3 0.3l-1.5 0.5l-3.1 0.3l-2.4 0.6l-11.6 -0.0l-2.3 -0.6l-3.1 -0.3l-1.6 -0.5l-2.3 -0.3l-0.8 -0.4l-1.5 -0.3l-3.1 -1.2l-1.6 -0.4l-0.7 -0.4l-1.6 -0.3l-2.3 -1.3l-0.8 -0.2l-0.8 -0.6l-0.7 -0.2l-0.8 -0.6l-0.8 -0.2l-1.5 -1.3l-0.8 -0.2l-1.6 -1.3l-0.7 -0.3l-1.6 -1.3l-0.8 -0.2l-3.8 -3.6l-0.8 -0.3l-0.6 -0.5l-2.5 -2.5l-0.5 -0.6l-0.2 -0.7l-3.6 -3.9l-0.3 -0.8l-1.3 -1.5l-0.3 -0.8l-1.2 -1.6l-0.3 -0.7l-1.3 -1.6l-0.2 -0.8l-0.6 -0.7l-0.2 -0.8l-2.0 -3.9l-0.4 -1.5l-0.4 -0.8l-0.4 -1.6l-0.4 -0.7l-0.4 -1.6l-1.1 -3.1l-0.3 -2.3l-0.5 -1.6l-0.2 -3.1l-0.6 -2.3l0.1 -1.5l0.6 -0.8l0.1 -0.8l0.6 -0.8l0.2 -0.7l1.4 -1.6l0.1 -0.8l0.4 -0.5l1.0 -1.0l0.2 -0.8l0.6 -0.8l0.1 -0.7l1.4 -1.6l0.2 -0.8l1.4 -1.5l0.1 -0.8l0.7 -0.8l0.1 -0.7l1.4 -1.6l0.2 -0.8l1.4 -1.5l0.1 -0.8l0.7 -0.8l0.1 -0.7l1.4 -1.6l0.1 -0.8l1.6 -1.5l-0.0 -0.8l0.8 -0.8l-0.4 -0.3l-0.8 -0.0l-1.5 -1.6l-0.8 0.0l-1.5 -1.6l-0.8 0.1l-0.8 -0.8l-0.8 -0.0l-1.5 -1.6l-0.8 0.0l-1.5 -1.5l-0.8 -0.0l-0.8 -0.8l-0.8 -0.0l-1.5 -1.5l-0.8 -0.1l-1.5 -1.4l-0.8 -0.0l-1.9 1.8l-0.0 0.8l-1.4 1.6l-0.2 0.7l-0.6 0.8l-0.2 0.8l-1.4 1.5l-0.1 0.8l-1.4 1.6l-0.2 0.7l-0.6 0.8l-0.1 0.8l-1.4 1.5l-0.2 0.8l-0.4 0.5l-1.0 1.1l-0.1 0.7l-0.7 0.8l-0.1 0.8l-1.4 1.5l-0.2 0.8l-0.4 0.5l-1.0 1.1l-0.1 0.7l-0.7 0.8l-0.1 0.8l-1.4 1.5l-0.1 0.8l-0.4 0.5l-1.1 1.1l-0.1 0.7l-0.6 0.8l-0.1 0.8l-0.5 0.5l-0.3 -0.5l-0.1 -1.6l0.0 -35.6l-0.3 -0.4l-21.0 0.0l-0.3 0.4l-0.0 36.4l-0.4 0.4l-1.2 -1.2l-0.1 -0.7l-1.5 -1.6l-0.1 -0.8l-2.2 -2.3l-0.1 -0.8l-2.2 -2.3l-0.2 -0.8l-1.4 -1.5l-0.1 -0.8l-2.2 -2.3l-0.1 -0.8l-1.5 -1.5l-0.1 -0.8l-1.8 -1.8l-0.4 -0.5l-0.1 -0.8l-2.2 -2.3l-0.0 -0.8l-0.4 -0.4l-1.5 0.0l-1.6 1.5l-0.8 0.0l-2.3 2.4l-0.7 -0.0l-2.4 2.3l-0.7 -0.0l-1.6 1.5l-0.8 0.0l-2.3 2.4l-0.8 -0.0l-2.3 2.3l-0.8 0.0l-1.9 1.9l1.6 1.6l0.1 0.8l2.2 2.3l0.1 0.8l1.4 1.5l0.2 0.8l2.2 2.3l0.1 0.8l2.2 2.3l0.1 0.8l1.4 1.5l0.2 0.8l2.2 2.3l0.1 0.8l2.2 2.3l0.1 0.8l1.4 1.6l0.2 0.7l2.1 2.4l0.2 0.7l0.6 0.8l0.2 1.6l0.6 0.7l0.2 3.1l0.6 1.6l0.2 2.3l0.6 1.6l0.2 2.3l0.5 1.5l0.5 2.4l1.1 3.1l0.4 1.5l0.4 0.8l0.4 1.5l0.4 0.8l0.3 1.6l0.5 0.7l0.3 1.6l0.4 0.8l0.4 1.5l2.0 3.9l0.4 1.5l0.7 1.6l3.1 6.2l1.2 1.5l1.1 2.4l1.3 1.5l1.1 2.3l2.8 3.9l0.3 0.8l2.0 2.3l0.3 0.8l2.8 3.1l0.3 0.8l3.0 3.2l0.6 0.6l0.3 0.8l2.1 2.3l6.3 6.2l0.8 0.3l3.9 3.5l0.8 0.4l3.1 2.7l0.7 0.3l2.4 2.1l0.7 0.3l3.9 2.8l2.3 1.1l1.6 1.2l2.3 1.1l1.6 1.2l7.7 3.9l1.6 0.4l3.8 1.9l14.0 4.6l2.3 0.4l0.8 0.4l3.1 0.4l0.8 0.4l3.1 0.4l1.5 0.5l3.1 0.3l0.8 0.3l1.5 0.2l4.7 0.3l0.8 0.3l1.5 0.2z" fill="#0808ff" fill-rule="evenodd"/>
<path d="M261.5 377.7l6.2 0.7l14.7 -0.1l3.1 -0.5l4.7 -0.3l5.4 -0.9l10.9 -2.4l13.9 -4.6l7.0 -3.0l6.2 -3.2l1.5 -1.1l6.2 -3.6l4.7 -3.1l7.7 -6.1l2.2 -2.0l2.5 -1.9l3.1 -3.0l4.2 -4.4l1.2 -1.7l2.7 -3.0l5.4 -7.0l3.1 -4.6l3.6 -6.2l1.1 -1.6l3.2 -6.2l3.0 -6.9l4.7 -14.0l1.6 -7.0l1.6 -9.3l0.3 -4.6l0.6 -3.9l0.1 -7.7l-0.1 -7.0l-0.6 -3.9l-0.3 -4.6l-1.7 -9.3l-1.6 -7.0l-4.6 -14.0l-3.1 -6.9l-3.2 -6.2l-4.6 -7.8l-3.2 -4.6l-5.3 -7.0l-2.7 -3.0l-1.8 -2.4l-3.6 -4.0l-0.5 -0.7l-0.2 -3.9l-0.1 -12.4l-0.1 -55.0l0.1 -26.3l0.4 -27.2l-0.4 -0.3l-61.2 -0.0l-0.4 0.3l0.5 41.1l-0.1 40.3l-0.3 7.8l-0.5 1.2l-0.8 1.0l-0.7 0.2l-1.6 -0.8l-2.3 -0.3l-17.8 -0.9l-0.8 0.0l-0.4 0.3l0.0 61.3l0.4 0.3l5.4 -0.2l4.7 0.6l4.6 0.8l3.9 1.2l5.4 2.0l4.7 2.3l1.5 0.8l7.0 4.7l3.9 3.5l1.5 1.0l2.3 2.4l1.0 1.5l3.5 3.9l0.3 0.7l2.8 3.9l0.3 0.8l1.2 1.5l3.1 6.2l3.0 9.3l0.5 3.1l0.3 0.8l0.5 3.9l0.4 1.5l0.1 5.5l-0.1 6.2l-0.4 1.5l-0.5 3.9l-0.3 0.8l-0.5 3.1l-3.0 9.3l-3.1 6.2l-2.7 3.8l-0.3 0.8l-1.3 1.6l-0.3 0.7l-3.5 3.9l-1.0 1.5l-2.3 2.4l-1.5 1.0l-3.9 3.5l-0.8 0.3l-3.9 2.8l-0.7 0.3l-1.6 1.2l-6.2 3.0l-9.3 3.1l-3.1 0.5l-0.8 0.3l-3.8 0.5l-1.6 0.4l-11.6 -0.0l-1.6 -0.4l-3.8 -0.5l-0.8 -0.3l-3.1 -0.5l-9.3 -3.1l-1.6 -0.7l-4.6 -2.3l-3.9 -2.7l-0.8 -0.4l-1.5 -1.2l-0.8 -0.3l-3.9 -3.5l-1.5 -1.0l-2.3 -2.4l-1.0 -1.5l-3.5 -3.9l-0.4 -0.7l-1.2 -1.6l-0.3 -0.8l-2.7 -3.8l-3.1 -6.2l-3.1 -9.3l-1.5 -9.3l0.1 -1.6l1.2 -2.3l0.3 -0.8l1.2 -1.5l0.3 -0.8l1.3 -1.6l1.0 -2.3l1.3 -1.5l0.3 -0.8l1.2 -1.6l1.1 -2.3l1.3 -1.5l0.2 -0.8l1.3 -1.6l1.1 -2.3l1.3 -1.5l0.2 -0.8l1.6 -1.6l-0.0 -0.7l0.8 -0.8l-0.3 -0.3l-0.8 -0.0l-1.6 -1.6l-0.7 0.0l-1.6 -1.6l-0.8 0.0l-0.7 -0.8l-0.8 0.0l-1.6 -1.5l-0.7 -0.0l-1.6 -1.6l-0.8 0.0l-0.7 -0.7l-0.8 -0.0l-1.6 -1.6l-0.7 -0.0l-1.6 -1.4l-0.8 0.0l-1.8 1.8l0.0 0.8l-1.3 1.5l-0.3 0.8l-0.5 0.8l-0.3 0.7l-1.2 1.6l-0.3 0.8l-1.3 1.5l-1.0 2.3l-1.3 1.6l-0.3 0.8l-1.3 1.5l-0.2 0.8l-0.6 0.8l-0.2 0.7l-1.3 1.6l-0.3 0.8l-1.2 1.5l-0.3 0.8l-0.6 0.8l-0.2 0.7l-1.3 1.6l-0.2 0.8l-1.4 1.5l-0.2 0.8l-0.6 0.8l-0.1 0.7l-0.5 0.6l-0.4 -0.6l-0.1 -2.3l0.0 -34.9l-0.3 -0.3l-20.9 0.0l-0.4 0.3l0.1 36.5l-0.5 0.4l-1.2 -1.2l-0.2 -0.8l-1.4 -1.5l-0.2 -0.8l-2.1 -2.3l-0.2 -0.8l-2.1 -2.3l-0.3 -0.8l-1.3 -1.6l-0.2 -0.7l-2.1 -2.4l-0.2 -0.7l-1.4 -1.6l-0.2 -0.8l-1.6 -1.7l-0.5 -0.6l-0.2 -0.8l-2.1 -2.3l-0.0 -0.8l-0.3 -0.3l-1.6 0.0l-1.5 1.5l-0.8 0.0l-2.3 2.3l-0.8 0.0l-2.3 2.4l-0.8 -0.0l-1.5 1.5l-0.8 0.0l-2.3 2.3l-0.8 0.0l-2.3 2.4l-0.8 -0.0l-1.9 1.9l1.6 1.5l0.3 0.8l2.0 2.3l0.2 0.8l1.3 1.6l0.3 0.7l1.6 1.8l0.5 0.6l0.2 0.7l2.1 2.4l0.2 0.7l1.3 1.6l0.3 0.8l2.1 2.3l0.2 0.8l2.1 2.3l0.2 0.8l1.4 1.5l0.2 0.8l2.1 2.3l0.2 0.8l0.5 0.8l0.4 1.5l0.4 0.8l0.5 3.9l0.3 0.7l0.5 3.1l0.3 0.8l0.5 3.1l0.8 3.1l4.7 14.0l1.9 3.8l1.2 3.1l3.2 6.2l6.2 10.1l3.9 5.4l8.3 10.1l6.0 5.9l2.4 1.9l3.0 2.7l7.0 5.4l8.5 5.5l5.5 3.1l3.1 1.6l8.5 3.8l13.9 4.6l10.9 2.4l5.4 0.9l3.1 0.2z" fill="#0d0dff" fill-rule="evenodd"/>
<path d="M263.8 377.8l2.3 0.3l3.1 0.2l8.5 0.0l4.7 -0.2l7.7 -0.8l5.5 -0.9l10.8 -2.3l11.6 -3.8l9.3 -3.9l4.7 -2.4l7.7 -4.6l4.7 -3.0l4.6 -3.4l4.7 -3.7l4.6 -3.9l2.4 -2.3l4.0 -4.1l4.6 -5.4l5.4 -7.0l2.6 -3.9l3.8 -6.2l2.3 -3.8l2.3 -4.7l3.9 -9.3l3.8 -11.6l1.6 -7.0l1.6 -9.3l0.9 -8.5l0.1 -7.8l-0.1 -6.9l-1.0 -9.3l-1.5 -8.6l-1.6 -6.9l-4.7 -14.0l-3.1 -7.0l-2.3 -4.6l-4.6 -7.8l-3.0 -4.6l-7.1 -9.3l-7.2 -8.5l-0.5 -0.8l-0.1 -0.8l-0.3 -10.1l-0.2 -24.0l0.1 -58.1l0.6 -28.7l0.0 -3.1l-0.3 -0.3l-61.3 -0.0l-0.3 0.3l0.5 23.3l0.2 17.0l-0.1 41.1l-0.1 5.4l-0.3 2.3l-0.6 1.9l-0.8 1.0l-0.8 0.3l-2.3 -1.0l-2.3 -0.4l-17.1 -1.3l-0.7 0.0l-0.4 0.3l0.0 61.2l0.4 0.4l5.4 -0.3l4.6 0.3l3.9 0.7l4.7 1.3l5.4 2.1l4.6 2.3l3.9 2.4l5.4 3.8l3.1 2.9l1.7 1.2l2.2 2.2l1.2 1.7l3.3 3.8l3.2 4.7l1.5 2.3l3.0 6.2l3.1 9.3l1.7 9.3l0.1 5.4l-0.1 6.2l-1.7 9.3l-3.1 9.3l-3.0 6.2l-5.3 7.9l-2.7 3.0l-1.2 1.7l-2.2 2.2l-1.7 1.2l-3.8 3.3l-4.7 3.2l-2.3 1.5l-6.2 3.0l-9.3 3.1l-3.9 0.8l-6.2 0.9l-10.8 -0.1l-9.3 -1.6l-9.3 -3.1l-1.6 -0.7l-4.6 -2.3l-7.0 -4.6l-3.9 -3.4l-1.7 -1.2l-2.2 -2.2l-1.2 -1.7l-3.4 -3.9l-4.6 -7.0l-3.0 -6.2l-2.4 -6.9l-0.7 -2.4l-1.4 -8.5l0.0 -2.3l1.5 -3.1l2.7 -3.9l1.1 -2.3l2.8 -3.9l1.1 -2.3l2.8 -3.9l1.1 -2.3l1.3 -1.7l0.2 -0.6l1.6 -1.6l0.0 -0.8l0.8 -0.7l-0.3 -0.3l-0.7 -0.0l-1.6 -1.6l-0.8 -0.0l-1.5 -1.6l-0.8 0.0l-0.8 -0.8l-0.7 0.0l-1.6 -1.5l-0.8 -0.0l-1.5 -1.6l-0.8 0.0l-0.8 -0.7l-0.7 -0.1l-1.6 -1.5l-0.8 -0.0l-1.5 -1.3l-0.8 -0.0l-1.7 1.7l-0.0 0.7l-1.3 1.6l-1.1 2.3l-2.8 3.9l-1.1 2.3l-2.8 3.9l-1.1 2.3l-2.7 3.9l-1.2 2.3l-2.8 3.9l-0.8 1.5l-0.2 0.8l-0.5 0.7l-0.5 -0.7l-0.1 -3.1l-0.0 -31.0l0.1 -3.1l-0.3 -0.3l-19.4 -0.0l-1.5 0.0l-0.4 0.3l0.2 3.1l-0.1 30.2l-0.0 3.1l-0.5 0.5l-1.3 -1.2l-0.2 -0.8l-1.4 -1.6l-0.2 -0.7l-1.6 -1.7l-0.5 -0.7l-0.3 -0.7l-2.0 -2.4l-0.3 -0.7l-1.3 -1.6l-0.3 -0.8l-2.0 -2.3l-0.2 -0.7l-1.4 -1.6l-0.3 -0.8l-1.4 -1.6l-0.6 -0.7l-0.3 -0.8l-2.0 -2.3l0.0 -0.8l-0.2 -0.3l-1.6 0.0l-1.5 1.5l-0.8 0.0l-2.3 2.3l-0.8 0.0l-2.3 2.3l-0.8 0.0l-1.6 1.6l-0.7 -0.0l-2.4 2.3l-0.7 0.0l-2.4 2.4l-0.7 -0.0l-1.9 1.9l1.6 1.5l0.3 0.7l2.0 2.4l0.3 0.7l1.3 1.6l0.3 0.8l1.5 1.7l0.5 0.6l0.3 0.8l2.0 2.3l0.3 0.8l1.3 1.6l0.3 0.7l2.0 2.4l0.3 0.7l2.0 2.4l0.3 0.6l1.3 1.7l0.3 0.8l2.0 2.3l0.7 1.5l0.8 2.4l0.6 3.8l2.5 10.9l3.9 11.6l3.9 9.3l2.3 4.7l4.6 7.7l3.1 4.7l3.4 4.6l3.7 4.7l5.4 6.2l4.9 4.8l5.4 4.5l7.0 5.4l3.9 2.7l6.2 3.8l3.8 2.2l4.7 2.4l9.3 3.9l11.6 3.8l10.9 2.3l6.2 1.0l4.6 0.4z" fill="#1212ff" fill-rule="evenodd"/>
<path d="M265.4 377.8l7.8 0.3l9.2 -0.2l8.6 -1.0l4.6 -0.7l10.9 -2.4l11.6 -3.8l9.3 -3.9l7.0 -3.7l10.2 -6.3l9.1 -7.1l4.7 -4.0l3.1 -2.9l2.9 -3.1l4.0 -4.6l7.2 -9.3l6.2 -10.1l3.7 -7.0l3.9 -9.3l3.8 -11.6l1.6 -7.0l1.5 -8.5l1.0 -9.3l0.2 -7.8l-0.2 -6.9l-1.0 -9.3l-1.5 -8.6l-1.6 -6.9l-2.3 -7.0l-2.5 -7.0l-3.0 -7.0l-2.4 -4.6l-3.6 -6.2l-4.0 -6.2l-5.4 -7.2l-8.5 -10.4l-0.6 -1.0l-0.1 -0.8l-0.3 -3.9l-0.2 -7.7l-0.2 -28.7l0.1 -52.7l0.9 -27.9l-0.0 -3.1l-0.4 -0.3l-61.2 -0.0l-0.4 0.3l0.8 23.3l0.2 16.2l-0.1 41.1l-0.2 6.2l-0.3 2.3l-0.8 2.6l-0.8 1.0l-0.7 0.3l-0.8 -0.1l-2.3 -1.1l-2.3 -0.5l-15.5 -1.6l-1.6 -0.1l-0.3 0.3l0.0 61.2l0.3 0.3l5.4 -0.4l4.7 0.3l3.9 0.5l4.6 1.3l5.4 2.2l4.7 2.4l3.9 2.4l4.6 3.3l5.7 4.8l2.1 2.0l4.0 5.0l3.7 5.4l1.5 2.3l3.1 6.2l3.1 9.3l1.6 9.3l0.2 5.4l-0.2 6.2l-1.6 9.3l-3.1 9.3l-3.0 6.2l-5.5 8.1l-3.8 4.6l-2.1 2.1l-4.6 3.8l-3.4 2.5l-4.7 3.0l-4.6 2.3l-3.9 1.5l-7.0 2.3l-4.6 0.9l-5.4 0.8l-6.2 0.1l-4.7 -0.2l-9.3 -1.6l-7.0 -2.3l-3.8 -1.5l-4.7 -2.3l-7.0 -4.6l-5.7 -4.7l-2.0 -2.1l-4.8 -5.7l-4.6 -7.0l-3.0 -6.2l-2.4 -6.9l-0.7 -2.4l-0.7 -3.8l-0.7 -4.7l0.1 -2.3l1.5 -3.1l2.6 -3.9l1.2 -2.3l2.7 -3.9l1.2 -2.3l2.7 -3.9l1.2 -2.3l1.2 -1.6l0.3 -0.7l1.6 -1.6l0.1 -0.8l0.7 -0.7l-0.2 -0.3l-0.8 -0.0l-1.5 -1.6l-0.8 -0.0l-1.6 -1.6l-0.7 0.0l-0.8 -0.8l-0.8 0.0l-1.5 -1.5l-0.8 -0.0l-1.6 -1.6l-0.7 0.0l-0.8 -0.7l-0.8 -0.1l-1.5 -1.5l-0.8 -0.0l-1.6 -1.3l-0.7 0.0l-1.7 1.7l0.0 0.7l-1.2 1.6l-1.2 2.3l-2.7 3.9l-1.2 2.3l-2.7 3.9l-1.2 2.3l-2.7 3.9l-1.1 2.3l-2.8 3.9l-1.1 2.3l-0.6 0.7l-0.5 -0.7l-0.1 -3.1l-0.1 -31.0l0.2 -3.1l-0.3 -0.3l-18.6 -0.0l-2.3 0.0l-0.3 0.3l0.2 3.1l-0.1 29.5l-0.0 3.8l-0.6 0.5l-1.3 -1.2l-0.2 -0.8l-1.4 -1.6l-0.3 -0.7l-4.3 -5.5l-0.3 -0.7l-1.3 -1.6l-0.3 -0.8l-2.0 -2.3l-0.3 -0.8l-1.3 -1.5l-0.3 -0.8l-4.3 -5.4l0.0 -0.8l-0.2 -0.2l-1.5 -0.0l-1.6 1.4l-0.8 0.0l-2.3 2.3l-0.8 0.0l-2.3 2.3l-0.8 0.0l-1.5 1.6l-0.8 -0.0l-2.3 2.3l-0.8 0.0l-2.3 2.4l-0.8 -0.0l-1.8 1.9l1.6 1.5l0.2 0.6l2.1 2.5l0.4 0.8l1.2 1.5l0.3 0.8l4.3 5.4l0.4 0.8l1.2 1.6l0.4 0.7l1.9 2.4l0.4 0.7l1.9 2.4l2.0 3.1l1.9 2.3l0.7 1.5l0.8 2.4l0.7 3.8l1.7 7.8l1.6 5.4l4.0 11.6l3.8 8.6l3.9 6.9l5.5 8.8l7.0 9.1l6.2 6.9l3.8 3.7l4.7 4.0l9.1 7.1l10.3 6.3l6.9 3.7l9.3 3.9l11.7 3.8l10.8 2.4l4.7 0.7l7.7 0.9z" fill="#1818ff" fill-rule="evenodd"/>
<path d="M267.7 377.7l11.6 0.1l9.3 -0.9l10.9 -1.7l3.8 -0.9l5.5 -1.5l9.3 -3.1l5.4 -2.2l5.4 -2.4l9.3 -5.3l3.9 -2.4l5.3 -3.7l8.7 -7.0l3.1 -2.7l3.4 -3.5l7.4 -8.5l5.3 -7.0l6.3 -10.1l3.6 -7.0l4.0 -9.3l3.8 -11.6l1.6 -7.0l1.5 -8.5l1.0 -10.1l0.2 -6.9l-0.2 -7.0l-1.0 -9.3l-1.6 -8.5l-1.6 -7.0l-2.2 -7.0l-2.5 -7.0l-3.1 -6.9l-2.4 -4.7l-3.6 -6.2l-4.0 -6.2l-5.1 -6.8l-8.5 -10.6l-0.7 -1.2l-0.2 -1.5l-0.4 -7.0l-0.3 -13.2l-0.0 -51.9l0.2 -25.6l0.9 -22.5l0.0 -3.1l-0.3 -0.3l-61.2 -0.0l-0.4 0.3l1.0 27.9l0.2 31.8l-0.2 24.8l-0.3 3.9l-0.7 3.1l-0.4 0.9l-0.8 1.0l-0.8 0.4l-0.7 -0.0l-3.1 -1.5l-2.3 -0.5l-14.8 -2.0l-1.5 -0.1l-0.3 0.2l0.0 61.3l0.3 0.2l5.4 -0.5l3.9 0.0l3.9 0.5l3.8 0.9l4.7 1.7l5.4 2.6l5.2 3.1l4.9 3.5l5.9 5.0l1.8 1.9l4.8 5.9l3.2 4.6l1.4 2.3l2.4 4.7l1.8 4.6l1.9 6.2l1.0 4.7l0.7 4.6l0.2 7.8l-0.3 4.6l-0.7 4.7l-1.3 5.4l-2.6 7.8l-3.0 6.2l-4.6 6.9l-4.9 5.9l-1.8 1.9l-4.6 3.9l-3.6 2.6l-4.7 3.0l-4.6 2.3l-4.7 1.8l-6.2 1.9l-4.6 1.0l-5.5 0.8l-6.2 0.1l-4.6 -0.2l-4.7 -0.7l-6.2 -1.4l-6.9 -2.3l-3.9 -1.7l-3.1 -1.6l-7.0 -4.6l-5.9 -4.9l-1.8 -1.8l-5.0 -6.0l-4.5 -6.9l-3.1 -6.2l-2.4 -7.0l-0.8 -3.1l-1.2 -7.8l0.1 -2.3l1.5 -3.1l2.6 -3.9l1.2 -2.3l2.7 -3.9l1.2 -2.3l2.7 -3.9l2.7 -4.6l1.7 -1.6l0.0 -0.7l0.8 -0.8l-0.2 -0.2l-0.8 -0.1l-1.6 -1.6l-0.7 0.0l-1.6 -1.6l-0.8 0.0l-0.7 -0.7l-0.8 -0.0l-1.6 -1.6l-0.7 0.0l-1.6 -1.5l-0.8 -0.1l-0.7 -0.7l-0.8 -0.0l-1.6 -1.5l-0.7 -0.1l-0.8 -0.7l-0.8 -0.5l-0.8 0.0l-1.5 1.6l-0.0 0.8l-1.2 1.5l-1.3 2.3l-2.6 3.9l-1.2 2.3l-2.7 3.9l-1.2 2.3l-2.7 3.9l-1.2 2.3l-2.7 3.9l-1.2 2.3l-0.6 0.8l-0.5 -0.8l-0.3 -3.8l0.0 -30.3l0.3 -3.1l-0.3 -0.2l-17.8 -0.1l-3.1 0.1l-0.3 0.2l0.2 3.1l-0.0 28.7l-0.1 4.7l-0.6 0.5l-1.3 -1.3l-0.2 -0.6l-1.4 -1.7l-0.4 -0.8l-4.3 -5.4l-0.4 -0.8l-1.6 -2.3l-1.9 -2.4l-2.0 -3.1l-4.1 -5.4l-0.0 -0.8l-0.2 -0.2l-1.6 0.0l-1.5 1.4l-0.8 0.0l-2.3 2.3l-0.8 0.1l-2.3 2.3l-0.8 -0.0l-1.5 1.5l-0.8 0.0l-2.3 2.4l-0.8 -0.0l-2.3 2.3l-0.8 0.0l-1.8 1.9l1.6 1.5l0.2 0.5l2.2 2.6l1.9 3.1l4.3 5.5l1.9 3.1l4.3 5.4l2.0 3.1l1.8 2.3l0.8 1.6l0.8 2.3l2.5 11.6l1.5 5.4l2.4 7.0l1.7 4.7l2.4 5.4l2.2 4.6l2.2 3.9l4.7 7.8l3.8 5.3l7.0 8.6l4.9 5.4l2.8 2.7l7.0 5.9l7.0 5.3l10.0 6.2l3.9 2.2l4.7 2.2l5.4 2.3l4.6 1.7l7.0 2.3l5.4 1.5l7.8 1.6l4.6 0.8l10.1 1.0z" fill="#1d1dff" fill-rule="evenodd"/>
<path d="M262.3 377.0l7.8 0.6l10.8 -0.1l10.1 -1.0l5.4 -0.9l7.0 -1.5l10.0 -3.0l4.7 -1.6l5.4 -2.2l8.6 -4.1l10.0 -6.0l5.0 -3.5l4.0 -3.1l8.1 -6.9l3.9 -4.0l3.1 -3.4l6.9 -8.6l3.5 -5.0l2.4 -3.9l5.3 -9.3l2.5 -5.4l2.1 -5.4l3.2 -9.3l2.1 -8.6l1.6 -8.5l0.9 -7.7l0.3 -6.2l-0.0 -9.3l-0.8 -7.8l-1.1 -7.7l-1.8 -8.6l-2.1 -6.9l-2.4 -7.0l-2.2 -5.4l-3.3 -7.0l-4.4 -7.8l-4.1 -6.2l-4.8 -6.5l-8.5 -10.7l-0.7 -1.4l-0.3 -1.5l-0.5 -7.0l-0.3 -13.9l-0.0 -54.3l0.2 -23.2l1.2 -21.7l-0.0 -3.1l-0.4 -0.4l-61.2 0.0l-0.3 0.4l-0.0 3.8l1.1 21.0l0.3 20.9l-0.2 37.2l-0.2 4.6l-0.8 3.9l-0.7 1.7l-0.8 0.9l-0.7 0.4l-0.8 0.0l-0.8 -0.2l-2.3 -1.2l-2.5 -0.8l-14.0 -2.3l-2.1 -0.3l-0.2 0.3l-0.0 61.2l0.2 0.2l5.4 -0.7l3.9 -0.0l3.9 0.3l4.6 1.2l3.9 1.5l5.4 2.6l5.5 3.3l4.6 3.4l4.7 4.0l3.1 3.0l4.9 6.0l3.1 4.6l2.3 3.9l2.2 4.7l1.9 5.4l1.4 4.6l1.5 8.6l0.1 8.5l-0.1 3.1l-0.7 4.6l-0.8 3.9l-0.8 3.1l-3.1 8.5l-3.4 6.5l-4.7 6.7l-3.8 4.6l-3.1 2.9l-4.7 3.8l-4.6 3.1l-2.4 1.4l-4.6 2.4l-4.7 1.8l-6.2 1.9l-4.6 0.9l-6.2 0.9l-5.4 0.0l-4.7 -0.1l-4.6 -0.8l-6.2 -1.3l-7.0 -2.4l-3.9 -1.6l-4.9 -2.8l-5.2 -3.4l-6.1 -5.1l-2.9 -3.1l-3.8 -4.6l-4.6 -7.0l-3.0 -6.2l-2.4 -7.0l-1.1 -4.6l-0.8 -6.2l0.1 -2.4l1.4 -3.1l10.4 -16.2l1.3 -2.4l1.5 -2.3l1.7 -1.5l-0.0 -0.8l0.8 -0.8l-0.2 -0.2l-0.8 -0.0l-1.5 -1.7l-0.8 0.1l-1.6 -1.6l-0.7 -0.0l-0.8 -0.8l-0.8 -0.0l-1.5 -1.6l-0.8 0.0l-1.6 -1.5l-0.7 -0.0l-0.8 -0.8l-0.8 0.0l-1.5 -1.5l-0.8 -0.0l-0.8 -0.8l-0.8 -0.3l-2.3 2.3l-1.1 1.4l-5.2 8.6l-2.6 3.8l-1.2 2.4l-2.7 3.8l-1.2 2.4l-4.6 7.0l-0.5 -0.8l-0.3 -4.7l-0.0 -29.4l0.2 -0.8l0.1 -2.3l-0.3 -0.3l-17.8 -0.1l-3.1 0.1l-0.2 0.3l0.0 2.3l0.2 0.8l-0.0 28.6l-0.2 4.7l-0.6 0.5l-1.3 -1.3l-0.2 -0.5l-1.9 -2.6l-4.2 -5.4l-5.9 -8.5l-4.2 -5.5l0.1 -0.7l-0.2 -0.2l-1.5 -0.0l-1.6 1.3l-0.8 0.1l-2.3 2.3l-0.8 -0.0l-2.3 2.3l-0.8 0.0l-1.5 1.6l-0.8 -0.0l-2.3 2.3l-0.8 -0.0l-2.3 2.4l-0.8 -0.1l-1.8 1.9l1.7 1.6l1.7 2.1l2.7 4.1l4.1 5.4l2.1 3.1l4.2 5.4l3.8 5.4l1.6 3.9l2.6 11.6l2.3 7.8l3.4 9.3l3.8 8.5l5.2 9.3l4.1 6.2l5.0 6.7l3.9 4.7l3.7 4.1l6.7 6.2l4.6 3.9l6.7 5.0l10.1 6.3l6.9 3.7l9.3 3.9l11.7 3.8l10.8 2.4l9.3 1.3z" fill="#2222ff" fill-rule="evenodd"/>
<path d="M263.8 377.0l5.4 0.4l5.4 0.1l5.5 -0.2l4.6 -0.3l7.0 -0.8l4.6 -0.8l10.1 -2.3l11.6 -3.8l9.3 -3.9l7.0 -3.7l10.1 -6.3l7.0 -5.3l4.0 -3.3l5.3 -4.9l5.4 -5.9l3.9 -4.6l4.7 -6.3l6.4 -10.1l3.6 -7.0l4.0 -9.3l3.8 -11.6l1.5 -6.2l1.5 -8.5l0.9 -7.8l0.4 -7.7l-0.1 -7.8l-0.7 -7.7l-1.3 -8.6l-1.7 -7.7l-2.0 -7.0l-2.5 -7.0l-2.2 -5.4l-3.3 -7.0l-4.5 -7.7l-3.9 -6.0l-4.7 -6.4l-8.5 -10.9l-0.7 -1.5l-0.5 -2.3l-0.5 -7.8l-0.3 -13.9l-0.0 -55.8l0.3 -21.0l1.3 -20.9l-0.0 -3.1l-0.3 -0.3l-61.3 -0.0l-0.3 0.3l0.1 3.9l1.2 20.9l0.4 20.2l-0.2 37.2l-0.3 5.4l-0.9 4.6l-0.7 1.7l-0.8 0.8l-0.8 0.4l-0.8 0.1l-1.5 -0.5l-2.3 -1.3l-2.4 -0.8l-13.7 -2.7l-1.8 -0.2l-0.2 0.2l0.0 61.2l0.2 0.2l4.7 -0.7l4.6 -0.3l3.9 0.3l3.9 0.9l4.6 1.8l5.5 2.7l5.4 3.3l4.6 3.4l4.7 4.0l3.1 3.0l5.1 6.2l3.2 4.7l2.2 3.9l2.2 4.6l1.9 5.4l1.4 4.7l1.4 8.5l0.2 8.5l-0.1 3.1l-0.7 4.7l-0.8 3.9l-0.8 3.1l-3.1 8.5l-1.5 3.1l-2.1 3.6l-3.3 4.9l-1.3 1.7l-3.9 4.6l-3.1 2.9l-4.6 3.8l-4.7 3.1l-2.3 1.4l-4.7 2.4l-4.6 1.7l-6.2 1.9l-4.7 1.0l-6.2 0.8l-5.4 0.1l-4.6 -0.2l-7.0 -1.1l-3.9 -1.0l-7.0 -2.3l-3.8 -1.7l-5.2 -2.8l-4.9 -3.3l-6.2 -5.2l-3.0 -3.1l-3.8 -4.7l-4.6 -7.0l-2.3 -4.6l-2.4 -6.2l-1.5 -5.4l-0.8 -4.7l-0.2 -4.6l0.1 -0.8l1.4 -3.1l12.4 -19.8l0.8 -1.2l1.7 -1.5l0.0 -0.8l0.8 -0.7l-0.2 -0.2l-0.7 -0.1l-1.6 -1.6l-0.8 0.0l-1.5 -1.6l-0.8 0.0l-0.8 -0.8l-0.7 0.0l-1.6 -1.5l-0.8 -0.0l-1.5 -1.6l-0.8 0.0l-0.8 -0.7l-0.7 -0.0l-1.6 -1.6l-0.8 -0.0l-0.7 -0.7l-0.8 -0.3l-2.3 2.4l-1.0 1.3l-13.0 20.9l-4.6 7.1l-0.6 -0.9l-0.3 -4.6l-0.0 -29.5l0.2 -0.8l0.1 -2.3l-0.2 -0.2l-17.1 -0.1l-3.8 0.1l-0.3 0.2l0.1 2.3l0.3 0.8l-0.1 27.9l-0.2 5.4l-0.6 0.6l-1.4 -1.3l-2.1 -3.1l-4.2 -5.5l-6.0 -8.5l-4.0 -5.4l-0.1 -0.9l-1.6 -0.0l-1.5 1.3l-0.8 0.0l-2.3 2.3l-0.8 0.0l-2.3 2.3l-0.8 0.0l-1.6 1.6l-0.7 -0.0l-2.4 2.3l-0.7 0.0l-2.4 2.4l-0.7 -0.0l-1.8 1.9l1.7 1.5l1.6 2.0l2.8 4.2l3.4 4.4l10.8 15.0l1.6 3.9l2.7 11.6l2.4 7.7l3.4 9.3l3.8 8.6l5.2 9.3l4.1 6.2l4.8 6.3l3.8 4.7l4.7 5.0l6.0 5.7l4.7 3.8l6.3 4.8l10.1 6.3l7.0 3.7l9.3 3.9l11.6 3.8l10.1 2.3l4.6 0.8l7.0 0.8z" fill="#2727ff" fill-rule="evenodd"/>
<path d="M266.9 377.0l10.1 0.2l9.3 -0.6l10.0 -1.5l7.0 -1.4l5.4 -1.5l9.4 -3.1l5.4 -2.2l5.4 -2.6l9.3 -5.2l8.5 -5.7l8.6 -6.8l6.4 -6.1l4.2 -4.6l3.9 -4.7l5.2 -6.9l5.8 -9.3l3.7 -7.0l3.9 -9.3l3.8 -11.6l1.6 -6.2l1.5 -8.6l0.9 -7.7l0.4 -8.5l-0.2 -7.8l-1.0 -10.1l-0.9 -5.4l-1.7 -7.7l-2.1 -7.0l-2.4 -7.0l-2.2 -5.4l-3.4 -7.0l-4.2 -7.3l-3.9 -6.0l-4.9 -6.8l-8.2 -10.7l-0.9 -1.7l-0.5 -2.4l-0.6 -7.7l-0.3 -14.0l-0.1 -56.5l0.4 -21.0l1.5 -20.1l-0.0 -3.1l-0.3 -0.3l-61.2 -0.0l-0.4 0.3l0.1 3.9l1.4 20.1l0.4 17.8l-0.1 39.6l-0.3 5.4l-0.9 5.4l-0.2 1.0l-0.8 1.4l-0.8 0.8l-0.8 0.4l-0.7 0.1l-1.6 -0.4l-3.1 -1.7l-2.2 -0.8l-13.4 -3.1l-1.4 -0.2l-0.2 0.2l-0.0 61.2l0.2 0.2l0.7 -0.1l3.9 -0.8l4.7 -0.4l3.8 0.2l3.9 0.9l4.7 1.8l5.4 2.8l5.4 3.4l4.7 3.4l4.6 4.0l3.1 3.0l5.3 6.4l3.1 4.7l2.2 3.8l2.2 4.7l1.9 5.4l1.4 4.7l1.5 8.5l0.2 3.9l-0.1 5.4l-0.4 4.6l-0.8 4.7l-1.7 6.2l-2.6 7.0l-1.4 3.1l-2.3 3.8l-3.1 4.7l-3.8 4.6l-2.4 2.6l-2.3 2.2l-4.6 3.7l-4.7 3.2l-3.9 2.2l-4.6 2.1l-5.4 1.9l-4.7 1.4l-5.4 1.0l-5.4 0.6l-5.5 0.0l-3.8 -0.2l-7.0 -1.1l-4.7 -1.2l-6.2 -2.1l-3.8 -1.6l-5.5 -3.0l-4.6 -3.2l-4.7 -3.7l-3.1 -3.0l-3.8 -4.5l-3.2 -4.2l-2.9 -4.7l-2.4 -4.6l-1.8 -4.7l-1.5 -4.6l-0.8 -3.9l-0.7 -6.2l0.2 -2.3l0.6 -1.6l1.6 -2.9l10.7 -17.2l1.7 -2.6l1.7 -1.3l-0.0 -0.8l0.8 -0.8l-0.9 -0.2l-1.6 -1.6l-0.8 -0.0l-1.5 -1.6l-0.8 0.0l-0.8 -0.8l-0.7 0.0l-1.6 -1.5l-0.8 -0.0l-1.5 -1.6l-0.8 0.0l-0.8 -0.8l-0.7 0.0l-1.6 -1.5l-0.8 -0.0l-0.7 -0.7l-0.8 -0.2l-2.7 2.8l-13.5 21.7l-4.7 7.1l-0.6 -0.9l-0.4 -4.7l-0.0 -29.4l0.3 -0.8l0.1 -2.3l-0.2 -0.2l-16.3 -0.1l-4.6 0.1l-0.2 0.2l0.1 2.3l0.2 0.8l-0.0 27.9l-0.3 5.4l-0.6 0.6l-1.5 -1.4l-2.1 -3.1l-4.2 -5.4l-6.0 -8.5l-2.9 -3.9l-1.1 -1.5l-0.0 -0.9l-1.6 -0.0l-1.5 1.3l-0.8 0.0l-2.3 2.3l-0.8 0.0l-2.3 2.3l-0.8 0.0l-1.6 1.6l-0.7 -0.0l-2.4 2.3l-0.7 0.0l-2.4 2.4l-0.7 -0.0l-1.8 1.8l1.7 1.6l1.6 1.9l2.9 4.3l10.4 13.9l3.8 5.5l1.5 3.8l3.1 12.4l3.8 11.7l3.1 7.7l2.5 5.4l3.0 5.5l4.7 7.5l3.3 4.9l6.7 8.3l5.5 5.9l5.4 5.0l4.6 3.8l7.0 5.2l9.3 5.9l5.4 2.9l5.5 2.5l10.0 3.8l10.1 3.0l11.6 2.2l10.1 1.1z" fill="#2d2dff" fill-rule="evenodd"/>
<path d="M270.8 377.0l9.3 -0.1l4.6 -0.3l7.0 -0.9l4.7 -0.7l6.9 -1.5l7.8 -2.2l4.6 -1.6l6.2 -2.4l7.0 -3.2l9.3 -5.2l8.6 -5.7l8.5 -6.9l6.2 -5.8l4.2 -4.6l3.8 -4.6l5.2 -7.0l5.9 -9.3l3.7 -7.0l2.0 -4.4l1.9 -4.9l2.4 -7.0l1.4 -4.6l1.6 -6.2l1.5 -8.5l0.8 -7.0l0.5 -9.3l-0.1 -6.2l-0.7 -7.8l-1.3 -9.3l-1.7 -7.7l-2.1 -7.0l-2.4 -7.0l-2.3 -5.4l-3.0 -6.2l-4.3 -7.7l-4.0 -6.2l-13.0 -17.5l-1.0 -1.9l-0.6 -3.1l-0.6 -8.5l-0.4 -14.0l0.0 -56.6l0.5 -19.3l1.6 -20.2l0.0 -3.1l-0.3 -0.3l-61.2 -0.0l-0.3 0.3l0.0 3.9l1.6 19.4l0.5 17.8l-0.2 40.3l-0.3 5.4l-0.9 6.2l-0.6 1.6l-0.6 0.8l-0.8 0.7l-0.7 0.4l-1.6 0.1l-1.5 -0.7l-3.1 -1.7l-2.4 -0.9l-12.7 -3.4l-1.2 -0.2l-0.2 0.2l0.0 61.2l0.2 0.2l1.2 -0.2l4.2 -1.0l3.9 -0.4l3.9 0.2l3.8 0.9l4.7 1.7l5.4 2.9l5.4 3.4l4.7 3.5l4.6 4.0l3.1 3.0l5.5 6.6l3.1 4.7l2.2 3.9l2.2 4.6l1.9 5.4l1.3 4.7l1.1 5.4l0.5 3.9l0.1 8.5l-0.5 4.7l-0.8 4.6l-1.6 6.2l-2.6 7.0l-1.5 3.1l-2.2 3.9l-3.1 4.6l-3.8 4.7l-2.5 2.7l-2.4 2.2l-4.6 3.7l-4.7 3.2l-3.8 2.2l-4.7 2.1l-5.4 1.9l-5.4 1.5l-5.5 1.0l-4.6 0.4l-5.4 0.1l-3.9 -0.2l-7.0 -1.1l-4.6 -1.2l-6.2 -2.1l-3.9 -1.7l-5.4 -2.9l-4.7 -3.2l-4.6 -3.7l-3.1 -2.9l-3.9 -4.5l-3.4 -4.5l-2.9 -4.7l-2.3 -4.6l-1.8 -4.7l-1.5 -4.6l-0.9 -3.9l-0.5 -4.6l-0.0 -3.1l0.7 -2.4l1.7 -3.1l12.2 -19.3l1.8 -1.6l0.1 -0.8l0.8 -0.7l-0.9 -0.2l-1.6 -1.7l-0.7 0.0l-1.6 -1.6l-0.8 0.0l-0.7 -0.8l-0.8 0.0l-1.6 -1.5l-0.7 -0.0l-1.6 -1.6l-0.8 0.0l-0.7 -0.7l-0.8 -0.0l-1.6 -1.5l-0.7 -0.1l-0.8 -0.7l-0.8 -0.1l-2.5 2.7l-13.6 21.7l-4.8 7.2l-0.6 -1.0l-0.4 -2.3l-0.1 -3.1l0.0 -28.7l0.4 -0.8l0.1 -2.3l-0.2 -0.2l-16.3 -0.1l-4.6 0.1l-0.2 0.2l0.1 2.3l0.3 0.8l-0.0 27.1l-0.3 6.2l-0.7 0.6l-1.5 -1.3l-15.3 -21.0l-1.0 -1.5l-0.0 -0.8l-1.6 -0.1l-1.5 1.3l-0.8 0.0l-2.3 2.3l-0.8 0.0l-2.3 2.3l-0.8 0.0l-1.5 1.6l-0.8 0.0l-2.3 2.3l-0.8 0.0l-2.3 2.4l-0.8 0.0l-1.7 1.9l1.7 1.5l1.5 1.8l17.2 23.8l1.6 3.9l3.1 12.4l3.8 11.6l3.1 7.7l2.6 5.5l2.9 5.4l4.5 7.2l3.9 5.5l6.6 8.2l5.8 6.2l4.6 4.2l4.7 3.9l3.8 3.0l4.7 3.2l8.5 5.2l4.7 2.5l5.9 2.8l4.9 1.9l7.0 2.5l4.6 1.4l6.2 1.5l9.3 1.6l6.2 0.8l7.0 0.4z" fill="#3232ff" fill-rule="evenodd"/>
<path d="M263.1 376.3l6.2 0.4l4.7 0.1l4.6 -0.0l6.2 -0.4l10.9 -1.5l8.5 -1.8l9.3 -2.8l10.1 -3.9l5.4 -2.5l4.6 -2.5l4.7 -2.7l5.1 -3.4l7.3 -5.4l4.6 -3.9l4.3 -3.9l5.8 -6.2l7.0 -8.6l5.7 -8.4l5.2 -9.3l2.5 -5.5l2.2 -5.4l3.2 -9.3l2.2 -8.5l1.5 -8.5l0.9 -7.0l0.4 -7.8l-0.0 -6.9l-0.5 -7.0l-1.5 -10.1l-1.6 -7.7l-1.5 -5.5l-2.4 -7.2l-2.7 -6.7l-3.0 -6.2l-2.9 -5.4l-4.8 -7.8l-3.3 -4.6l-10.5 -14.2l-1.3 -2.9l-0.5 -3.1l-0.6 -9.3l-0.4 -13.9l0.0 -55.8l0.2 -10.9l0.4 -8.5l1.7 -19.4l0.0 -3.1l-0.2 -0.3l-61.3 0.0l-0.3 0.3l0.1 3.9l1.2 11.6l0.5 7.8l0.5 16.2l-0.0 40.3l-0.3 6.2l-0.9 7.0l-0.8 2.1l-0.7 1.1l-1.6 1.0l-1.5 0.2l-1.6 -0.6l-3.1 -1.9l-2.5 -1.1l-12.8 -3.9l-1.0 -0.1l-0.1 0.1l-0.0 61.2l0.1 0.2l1.0 -0.2l3.7 -1.0l4.6 -0.8l3.9 0.2l3.9 0.9l4.6 1.8l5.5 2.9l5.4 3.5l4.6 3.5l4.7 4.0l5.0 5.2l3.7 4.6l3.1 4.7l2.2 3.9l2.5 5.4l1.6 4.6l1.5 5.5l0.9 4.6l0.5 3.9l0.1 3.9l-0.0 4.6l-0.5 4.7l-0.8 4.6l-1.6 6.2l-2.6 7.0l-1.5 3.1l-2.2 3.9l-3.1 4.6l-3.7 4.7l-2.8 2.9l-2.3 2.2l-4.7 3.7l-4.6 3.1l-3.9 2.2l-4.6 2.2l-5.5 1.9l-5.4 1.5l-5.4 0.9l-4.7 0.5l-6.2 0.0l-5.4 -0.5l-5.4 -0.9l-3.9 -1.0l-6.2 -2.1l-3.9 -1.7l-5.4 -3.0l-4.6 -3.1l-4.7 -3.7l-3.1 -2.9l-3.9 -4.5l-3.5 -4.7l-2.9 -4.7l-1.6 -3.1l-1.7 -3.8l-2.1 -6.2l-1.1 -4.7l-0.5 -4.6l0.1 -3.1l0.7 -2.4l1.8 -3.2l12.0 -19.2l0.4 -0.5l1.6 -1.1l-0.0 -0.8l0.8 -0.7l-0.9 -0.2l-1.5 -1.7l-0.8 0.0l-1.5 -1.6l-0.8 0.0l-0.8 -0.7l-0.8 -0.0l-1.5 -1.6l-0.8 -0.0l-1.5 -1.5l-0.8 -0.1l-0.8 -0.7l-0.8 -0.0l-1.5 -1.5l-0.8 -0.1l-0.8 -0.6l-0.7 -0.1l-2.5 2.6l-13.6 21.7l-4.9 7.3l-0.6 -1.1l-0.2 -0.8l-0.3 -4.6l0.0 -28.7l0.4 -0.8l0.1 -2.3l-0.1 -0.1l-15.5 -0.2l-5.5 0.2l-0.1 0.1l0.1 2.3l0.4 0.8l-0.1 27.1l-0.3 6.2l-0.7 0.7l-1.6 -1.4l-6.4 -8.6l-6.6 -9.3l-3.0 -3.8l-0.5 -0.8l0.2 -0.8l-1.5 -0.0l-1.6 1.2l-0.7 0.1l-2.4 2.2l-0.7 0.0l-2.4 2.4l-0.7 -0.0l-1.6 1.5l-0.8 0.0l-2.3 2.4l-0.8 -0.0l-2.3 2.3l-0.8 0.0l-1.6 1.9l2.4 2.2l14.2 19.5l3.8 5.4l1.6 3.9l3.2 12.4l3.0 9.3l3.7 9.3l2.9 6.2l5.2 9.3l5.8 8.5l6.2 7.7l5.0 5.5l5.9 5.4l8.5 7.0l9.3 6.1l3.9 2.3l6.2 3.2l4.6 2.2l4.7 1.8l6.2 2.2l5.4 1.6l10.1 2.3l10.8 1.6z" fill="#3737ff" fill-rule="evenodd"/>
<path d="M264.6 376.2l10.1 0.4l10.0 -0.5l7.0 -0.8l4.7 -0.8l10.1 -2.3l10.0 -3.2l5.4 -2.2l5.1 -2.2l7.3 -3.9l9.3 -5.9l7.0 -5.2l4.4 -3.6l4.9 -4.6l5.4 -5.8l7.0 -8.7l5.9 -8.8l5.2 -9.3l2.2 -4.7l2.2 -5.4l3.3 -10.1l2.0 -7.7l1.6 -8.6l0.8 -6.9l0.4 -7.8l-0.0 -7.0l-0.5 -6.9l-1.4 -10.1l-1.7 -7.8l-1.5 -5.4l-2.4 -7.0l-2.7 -6.9l-3.0 -6.2l-3.0 -5.5l-4.8 -7.7l-3.2 -4.7l-7.9 -10.5l-2.3 -3.3l-1.2 -2.4l-0.8 -3.9l-0.7 -9.3l-0.4 -14.0l0.0 -56.5l0.2 -10.1l0.4 -8.5l2.0 -19.4l-0.0 -3.1l-0.3 -0.3l-61.2 0.0l-0.3 0.3l0.0 3.9l1.4 11.6l0.6 7.7l0.5 16.3l-0.0 40.3l-0.3 6.2l-1.0 7.8l-0.9 2.1l-0.8 1.1l-1.6 1.0l-1.5 0.1l-1.6 -0.5l-3.6 -2.3l-3.5 -1.5l-11.5 -3.9l-0.8 -0.0l-0.0 61.2l0.8 0.0l3.2 -1.0l3.1 -0.8l2.3 -0.3l3.9 0.1l3.8 0.8l4.7 1.9l5.4 2.9l5.4 3.6l4.7 3.6l4.6 4.0l5.2 5.4l3.7 4.6l3.1 4.7l2.2 3.8l2.5 5.5l1.6 4.6l1.5 5.4l0.9 4.7l0.4 3.9l0.2 3.8l-0.0 4.7l-0.5 4.6l-0.8 4.7l-1.6 6.2l-2.6 7.0l-1.5 3.1l-2.1 3.8l-3.2 4.7l-3.0 3.9l-2.9 3.1l-3.1 3.0l-4.6 3.7l-4.7 3.1l-3.8 2.2l-4.7 2.1l-5.4 1.9l-5.4 1.5l-4.7 0.8l-5.4 0.6l-6.2 0.0l-5.4 -0.4l-5.5 -1.0l-3.8 -1.0l-6.2 -2.1l-3.9 -1.7l-5.4 -2.9l-4.7 -3.1l-4.6 -3.7l-3.2 -3.0l-3.8 -4.4l-3.7 -4.9l-2.9 -4.7l-1.6 -3.1l-2.3 -5.4l-1.5 -4.7l-1.1 -4.6l-0.5 -4.7l0.1 -3.1l0.8 -2.3l1.8 -3.4l12.0 -19.1l0.4 -0.6l1.6 -1.0l0.0 -0.7l0.8 -0.8l-0.8 -0.1l-1.6 -1.7l-0.7 0.0l-1.6 -1.6l-0.8 0.0l-0.7 -0.8l-0.8 0.0l-1.6 -1.5l-0.7 -0.0l-1.6 -1.6l-0.8 0.0l-0.7 -0.7l-0.8 -0.0l-1.6 -1.5l-0.7 -0.1l-0.8 -0.6l-0.8 0.0l-2.4 2.5l-13.6 21.7l-4.9 7.4l-0.7 -1.2l-0.2 -0.8l-0.3 -4.6l-0.0 -28.7l0.4 -0.9l0.1 -2.2l-0.1 -0.1l-14.7 -0.2l-4.7 0.1l-1.7 0.2l0.2 2.2l0.4 0.9l-0.1 27.1l-0.3 6.2l-0.8 0.7l-1.6 -1.5l-6.4 -8.5l-7.5 -10.4l-1.5 -2.0l-2.2 -2.3l-0.9 0.5l-0.8 0.7l-0.8 0.0l-2.3 2.3l-0.8 0.0l-2.3 2.4l-0.8 -0.0l-1.5 1.5l-0.8 0.0l-2.3 2.3l-0.8 0.0l-2.3 2.4l-0.8 0.0l-1.6 1.8l2.4 2.1l9.3 13.0l5.0 6.6l3.7 5.5l1.6 3.8l3.4 12.4l3.0 9.3l3.4 8.8l3.2 6.7l5.2 9.3l5.6 8.2l6.5 8.1l5.1 5.5l6.6 6.1l4.2 3.5l6.2 4.6l9.3 5.9l7.8 4.0l4.6 2.1l6.2 2.4l9.3 3.0l10.1 2.3l4.7 0.8l7.7 0.9z" fill="#3c3cff" fill-rule="evenodd"/>
<path d="M268.5 376.2l8.5 0.1l9.3 -0.6l5.4 -0.7l7.8 -1.4l9.3 -2.3l9.3 -3.2l5.0 -2.0l5.1 -2.4l9.3 -5.1l8.5 -5.7l8.7 -7.0l6.0 -5.6l4.7 -5.0l3.3 -4.1l5.3 -7.0l5.9 -9.3l4.1 -7.8l2.0 -4.6l2.1 -5.4l3.3 -10.1l1.7 -6.9l1.4 -7.8l0.8 -7.0l0.5 -9.3l-0.2 -6.2l-0.5 -6.9l-1.4 -9.3l-1.6 -7.8l-1.9 -6.6l-2.3 -6.6l-2.5 -6.2l-2.9 -6.2l-3.0 -5.4l-4.8 -7.7l-13.2 -18.3l-1.3 -2.7l-0.6 -2.3l-0.3 -2.3l-0.7 -9.3l-0.4 -14.0l-0.0 -55.8l0.5 -16.2l0.8 -9.3l1.4 -11.7l0.1 -3.8l-0.3 -0.3l-61.2 -0.0l-0.3 0.3l0.1 3.8l1.3 10.9l0.8 8.5l0.6 16.3l0.1 22.5l-0.2 17.8l-0.3 6.2l-0.6 6.2l-0.5 2.3l-1.0 2.3l-1.6 1.5l-1.5 0.6l-1.6 -0.1l-1.5 -0.7l-3.1 -2.1l-2.8 -1.5l-12.1 -4.6l-0.7 -0.0l0.0 61.2l0.7 -0.0l2.5 -1.0l3.1 -0.9l3.1 -0.6l3.1 -0.1l3.9 0.7l3.8 1.4l4.7 2.4l4.6 2.9l6.2 4.5l6.2 5.2l3.1 3.1l3.1 3.6l4.5 5.9l2.8 4.7l2.3 4.6l2.4 6.2l1.8 6.2l0.9 4.7l0.4 3.8l0.2 3.9l-0.1 4.7l-0.4 4.6l-0.8 4.7l-1.9 6.9l-1.3 3.9l-1.7 3.9l-1.6 3.1l-2.8 4.6l-1.7 2.4l-3.7 4.6l-2.9 3.1l-2.6 2.4l-4.6 3.7l-4.7 3.1l-3.8 2.2l-5.5 2.4l-6.2 2.1l-4.6 1.2l-4.7 0.8l-6.9 0.5l-5.5 -0.1l-4.6 -0.5l-5.4 -1.1l-7.0 -2.0l-4.7 -1.8l-4.6 -2.3l-4.7 -2.9l-5.1 -3.8l-4.4 -3.9l-3.6 -3.9l-4.7 -6.2l-2.8 -4.6l-3.0 -6.2l-2.0 -5.4l-1.3 -5.5l-0.6 -4.6l0.1 -3.9l0.7 -2.3l0.8 -1.6l13.0 -20.9l2.9 -3.1l-0.8 -0.1l-1.6 -1.7l-0.7 0.0l-1.6 -1.6l-0.8 0.0l-0.7 -0.8l-0.8 0.0l-1.6 -1.5l-0.7 -0.0l-1.6 -1.6l-0.8 0.0l-0.7 -0.7l-0.8 -0.0l-1.6 -1.5l-0.7 -0.1l-0.8 -0.6l-0.8 0.1l-2.2 2.4l-13.7 21.7l-4.0 6.2l-1.0 1.2l-0.7 -1.2l-0.2 -0.8l-0.4 -4.7l0.0 -28.6l0.5 -1.3l0.0 -1.9l-3.9 -0.2l-10.0 -0.0l-4.7 0.0l-2.4 0.3l0.1 1.8l0.5 1.3l-0.1 27.1l-0.3 6.2l-0.9 0.7l-0.9 -0.7l-0.7 -0.8l-4.2 -5.4l-10.7 -14.7l-2.9 -3.1l-1.5 1.2l-0.8 0.0l-2.3 2.3l-0.8 0.0l-2.3 2.3l-0.8 0.0l-1.5 1.6l-0.8 -0.0l-2.3 2.3l-0.8 0.0l-2.3 2.4l-0.8 0.0l-1.6 1.8l0.8 0.8l0.8 0.4l0.8 0.8l9.3 12.9l5.1 6.8l3.7 5.4l1.7 3.9l4.1 14.7l3.2 9.5l3.1 7.6l2.6 5.4l3.0 5.4l4.3 7.0l3.8 5.4l6.4 8.0l5.7 6.0l5.0 4.6l4.1 3.4l8.5 6.3l8.5 5.3l5.4 2.8l5.1 2.4l5.8 2.3l6.2 2.2l10.1 2.7l9.3 1.7l6.2 0.8l5.4 0.4z" fill="#4242ff" fill-rule="evenodd"/>
<path d="M261.5 375.4l7.0 0.6l4.6 0.1l4.7 -0.0l6.2 -0.4l8.5 -1.0l7.0 -1.3l3.9 -0.9l10.0 -3.0l9.3 -3.5l5.5 -2.5l5.3 -2.9l7.8 -4.8l8.6 -6.2l4.6 -3.8l4.1 -3.8l6.6 -6.9l6.8 -8.6l5.7 -8.5l5.2 -9.3l2.5 -5.4l1.9 -4.7l3.2 -9.3l2.2 -8.5l1.4 -7.7l0.9 -7.0l0.5 -7.8l-0.0 -6.9l-0.5 -7.8l-1.0 -7.0l-1.6 -8.5l-1.9 -7.0l-2.0 -6.2l-3.0 -7.7l-2.6 -5.4l-3.6 -6.8l-4.5 -7.2l-3.7 -5.4l-7.3 -9.9l-2.3 -3.5l-1.7 -3.7l-0.8 -4.6l-0.8 -10.1l-0.3 -13.2l0.0 -55.8l0.6 -16.2l0.9 -9.3l1.5 -10.9l0.1 -3.9l-0.3 -0.2l-61.2 -0.0l-0.3 0.2l0.1 3.9l1.5 10.9l0.7 7.7l0.5 7.0l0.2 8.5l0.1 20.9l-0.1 20.2l-0.3 6.2l-1.0 9.3l-0.9 2.3l-1.3 1.7l-1.5 1.0l-0.8 0.2l-1.6 -0.1l-1.5 -0.6l-4.4 -3.0l-2.9 -1.5l-10.9 -4.7l-0.5 0.0l0.0 61.3l0.5 -0.0l5.0 -2.0l3.1 -0.8l3.9 -0.2l3.1 0.5l3.9 1.2l4.6 2.4l5.4 3.4l6.2 4.5l6.2 5.3l3.1 3.1l3.1 3.5l4.6 6.2l3.7 6.2l2.1 4.6l2.0 5.5l1.5 5.4l0.9 4.6l0.4 3.9l0.2 3.9l-0.0 4.6l-0.5 4.7l-0.8 4.6l-1.8 7.0l-1.4 3.9l-1.7 3.9l-1.6 3.1l-2.8 4.6l-5.3 7.0l-2.9 3.1l-2.8 2.6l-4.6 3.7l-4.7 3.1l-4.6 2.5l-4.7 2.1l-4.6 1.6l-6.2 1.6l-4.7 0.8l-6.9 0.5l-4.7 -0.1l-5.4 -0.5l-5.4 -1.0l-7.0 -2.1l-4.7 -1.8l-4.6 -2.3l-4.7 -2.8l-5.4 -4.0l-4.3 -3.9l-3.6 -3.9l-4.5 -5.9l-3.0 -4.9l-3.0 -6.2l-2.0 -5.5l-1.3 -5.4l-0.6 -4.6l0.2 -3.9l0.7 -2.3l0.8 -1.6l13.0 -20.9l2.9 -3.1l-0.7 -0.1l-1.6 -1.7l-0.8 0.0l-1.5 -1.6l-0.8 0.0l-0.7 -0.8l-0.8 0.0l-1.6 -1.5l-0.7 -0.0l-1.6 -1.6l-0.8 0.0l-0.8 -0.8l-0.7 0.0l-1.6 -1.5l-0.8 0.0l-0.7 -0.6l-0.7 0.1l-2.3 2.3l-15.1 24.1l-2.6 3.8l-1.0 1.4l-0.4 -0.6l-0.6 -1.5l-0.4 -4.7l0.0 -28.7l0.6 -1.5l0.0 -1.6l-3.9 -0.2l-9.3 -0.1l-5.4 0.1l-2.4 0.2l0.1 1.6l0.5 1.5l-0.1 27.2l-0.3 6.2l-0.1 0.3l-0.8 0.4l-1.0 -0.7l-0.7 -0.8l-6.5 -8.5l-7.3 -10.3l-1.7 -2.1l-2.2 -2.2l-0.7 0.4l-0.8 0.7l-0.8 0.0l-2.3 2.3l-0.8 -0.0l-2.3 2.3l-0.8 0.0l-1.5 1.6l-0.8 -0.0l-2.3 2.3l-0.8 0.0l-2.3 2.4l-0.8 -0.0l-1.6 1.8l1.6 1.0l0.8 0.8l9.3 13.0l5.2 6.9l3.7 5.4l1.6 3.9l3.5 12.4l3.1 9.3l3.7 9.3l2.9 6.2l4.9 8.6l5.5 8.1l6.9 8.7l4.7 5.1l6.3 5.9l4.5 3.7l4.3 3.3l8.1 5.4l4.0 2.3l6.1 3.2l4.7 2.2l5.4 2.1l9.3 3.2l4.6 1.2l6.2 1.4l10.1 1.5z" fill="#4747ff" fill-rule="evenodd"/>
<path d="M263.8 375.5l10.8 0.5l10.1 -0.5l10.9 -1.5l8.5 -1.9l9.7 -2.9l9.7 -3.7l5.1 -2.5l4.9 -2.6l8.6 -5.3l8.1 -6.0l4.3 -3.5l4.5 -4.3l6.3 -6.7l6.4 -8.0l5.8 -8.5l2.2 -3.9l2.9 -5.4l2.5 -5.4l1.9 -4.7l3.2 -9.3l2.2 -8.5l1.5 -7.8l0.9 -6.9l0.4 -7.8l0.0 -7.0l-0.5 -7.7l-0.9 -7.0l-1.7 -8.5l-1.8 -7.0l-1.8 -5.4l-3.0 -7.8l-2.5 -5.4l-3.7 -7.0l-4.3 -6.9l-3.6 -5.5l-8.0 -10.8l-1.9 -3.0l-1.8 -4.0l-1.0 -5.4l-0.8 -10.1l-0.3 -13.2l0.0 -55.8l0.3 -8.5l0.4 -7.0l1.0 -9.3l1.6 -10.8l0.0 -3.9l-0.2 -0.2l-61.2 -0.0l-0.3 0.2l0.1 3.9l1.5 10.1l0.9 8.5l0.5 7.0l0.3 8.5l0.1 20.9l-0.2 20.2l-0.2 5.4l-0.8 8.5l-0.4 2.3l-0.8 2.0l-1.5 2.1l-1.6 0.9l-0.8 0.3l-1.5 0.0l-2.3 -0.9l-3.8 -2.8l-2.4 -1.6l-11.7 -5.4l0.0 61.2l4.7 -1.9l3.9 -1.3l3.1 -0.3l3.9 0.5l3.8 1.3l3.9 2.0l5.4 3.4l6.2 4.5l6.2 5.2l3.9 3.9l3.3 3.7l4.5 6.2l3.7 6.2l2.1 4.6l2.0 5.4l1.5 5.5l0.9 4.6l0.4 3.9l0.2 3.9l-0.0 4.6l-0.4 4.7l-0.8 4.6l-1.9 7.0l-1.4 3.9l-1.6 3.8l-1.6 3.1l-2.8 4.7l-5.3 7.0l-2.9 3.1l-3.0 2.8l-4.6 3.6l-4.7 3.1l-4.6 2.5l-4.7 2.1l-4.6 1.6l-6.2 1.6l-4.7 0.8l-7.0 0.5l-4.6 -0.1l-5.4 -0.5l-5.5 -1.0l-6.9 -2.1l-5.5 -2.1l-3.8 -2.0l-4.7 -2.8l-5.4 -4.0l-4.6 -4.0l-3.5 -3.9l-4.3 -5.7l-3.2 -5.2l-3.0 -6.2l-1.7 -4.6l-1.6 -6.2l-0.5 -3.9l0.2 -4.6l0.7 -2.4l0.8 -1.5l13.0 -20.9l2.8 -3.1l-0.5 -0.1l-1.6 -1.7l-0.8 -0.0l-1.5 -1.6l-0.8 -0.0l-0.8 -0.8l-0.7 -0.0l-1.6 -1.6l-0.8 0.0l-1.5 -1.5l-0.8 -0.0l-0.8 -0.8l-0.7 0.0l-1.6 -1.5l-0.8 -0.0l-0.7 -0.6l-0.6 0.1l-2.3 2.3l-15.1 24.0l-2.6 3.9l-1.1 1.4l-0.5 -0.6l-0.6 -1.6l-0.4 -5.4l0.0 -27.9l0.1 -0.8l0.6 -1.1l-0.0 -1.2l-3.9 -0.3l-8.5 0.0l-5.4 0.1l-3.2 0.2l0.1 1.2l0.5 1.1l0.1 0.8l-0.1 26.4l-0.2 5.4l-0.3 2.1l-0.8 0.2l-1.1 -0.8l-0.7 -0.7l-6.5 -8.6l-7.2 -10.1l-1.9 -2.3l-2.0 -2.0l-0.8 0.3l-0.7 0.7l-0.8 -0.0l-2.3 2.3l-0.8 -0.0l-2.3 2.3l-0.8 -0.0l-1.6 1.5l-0.7 0.0l-2.4 2.4l-0.7 -0.0l-2.4 2.4l-0.7 -0.0l-0.3 0.2l-1.1 1.6l0.6 0.2l1.5 1.5l9.3 13.0l5.3 7.0l3.7 5.4l1.1 2.3l1.1 3.1l3.8 13.2l3.5 10.1l4.0 9.2l4.5 8.6l4.4 7.0l3.8 5.4l5.9 7.3l5.4 5.8l5.5 5.1l3.8 3.2l7.7 5.7l4.7 3.1l4.7 2.8l8.2 4.2l3.4 1.5l6.2 2.5l9.5 3.0l9.9 2.3l4.6 0.7l7.0 0.9z" fill="#4c4cff" fill-rule="evenodd"/>
<path d="M266.9 375.4l8.5 0.3l10.1 -0.6l10.8 -1.5l6.1 -1.3l5.6 -1.5l9.3 -3.1l4.6 -1.9l4.7 -2.1l7.7 -4.1l3.9 -2.3l5.4 -3.6l5.4 -4.0l4.6 -3.8l5.9 -5.4l5.8 -6.3l3.2 -3.8l3.8 -5.1l5.4 -8.1l5.0 -9.3l2.2 -4.6l2.2 -5.4l1.6 -4.7l1.7 -5.4l2.0 -7.8l1.4 -7.7l0.8 -7.0l0.4 -8.5l-0.1 -6.2l-0.5 -7.8l-1.4 -9.3l-1.5 -6.9l-1.7 -6.2l-2.1 -6.2l-2.8 -7.0l-2.5 -5.4l-3.4 -6.2l-4.3 -7.0l-3.6 -5.4l-7.9 -10.9l-1.7 -2.7l-2.0 -4.3l-1.0 -5.4l-0.7 -9.3l-0.5 -13.9l0.1 -55.8l0.2 -8.6l0.5 -6.9l0.9 -8.6l1.8 -11.6l0.1 -3.9l-0.2 -0.2l-61.2 -0.0l-0.3 0.2l0.1 3.9l1.6 10.1l1.0 8.5l0.5 7.0l0.3 8.5l0.1 20.9l-0.1 20.2l-0.9 13.9l-0.6 3.1l-1.0 2.3l-1.5 1.9l-0.8 0.5l-1.6 0.7l-0.7 0.1l-1.6 -0.1l-2.3 -1.1l-4.3 -3.5l-2.4 -1.5l-10.4 -5.5l0.0 61.3l3.9 -2.0l4.7 -1.7l3.1 -0.3l3.8 0.5l3.9 1.3l3.9 2.0l5.4 3.5l6.2 4.6l6.2 5.2l3.9 3.9l3.4 3.9l4.6 6.2l3.2 5.4l2.6 5.4l2.0 5.5l1.5 5.4l0.8 4.6l0.5 3.9l0.2 3.9l-0.0 3.9l-0.7 6.9l-0.8 3.9l-1.6 6.2l-1.4 3.9l-1.7 3.9l-1.6 3.1l-2.8 4.6l-5.2 7.0l-3.0 3.2l-3.1 2.9l-4.6 3.6l-4.7 3.1l-4.6 2.5l-4.7 2.1l-4.6 1.6l-6.2 1.6l-4.7 0.8l-7.0 0.5l-5.4 -0.1l-5.4 -0.6l-4.7 -1.0l-6.9 -2.0l-5.5 -2.1l-3.8 -2.0l-4.7 -2.8l-5.4 -4.0l-4.7 -4.1l-3.6 -4.0l-4.1 -5.4l-3.4 -5.4l-3.0 -6.2l-1.7 -4.7l-1.5 -6.2l-0.5 -3.9l0.2 -4.6l0.7 -2.3l0.8 -1.6l13.0 -20.9l2.8 -3.1l-0.4 -0.1l-1.6 -1.7l-0.8 0.0l-1.5 -1.6l-0.8 0.0l-0.8 -0.8l-0.7 0.0l-1.6 -1.5l-0.8 -0.0l-1.5 -1.6l-0.8 0.0l-0.8 -0.7l-0.7 -0.0l-1.6 -1.5l-0.8 -0.1l-0.7 -0.6l-0.5 0.1l-2.3 2.3l-15.1 24.1l-2.6 3.8l-1.2 1.5l-0.6 -0.7l-0.5 -1.5l-0.5 -5.5l0.1 -28.6l0.7 -1.6l-0.0 -0.8l-3.9 -0.2l-7.7 -0.1l-6.2 0.1l-3.2 0.2l0.1 0.8l0.7 1.6l-0.0 0.7l-0.1 27.2l-0.4 6.2l-0.2 0.7l-0.8 0.1l-1.8 -1.6l-6.6 -8.5l-7.2 -10.1l-1.9 -2.3l-1.9 -2.0l-0.8 0.2l-0.7 0.7l-0.8 0.0l-2.3 2.3l-0.8 0.0l-2.3 2.3l-0.8 0.0l-1.6 1.6l-0.7 -0.0l-2.4 2.3l-0.7 0.0l-2.4 2.4l-0.7 0.0l-0.9 1.0l0.0 0.8l1.6 1.6l5.5 7.7l9.2 12.4l3.7 5.4l1.1 2.3l1.1 3.1l4.1 14.0l3.2 9.0l3.1 7.3l2.4 4.9l2.7 5.1l4.3 7.0l4.4 6.2l5.6 7.0l5.8 6.2l5.1 4.7l4.5 3.8l7.9 5.8l8.5 5.3l5.4 2.9l5.0 2.3l10.0 3.9l4.9 1.5l5.7 1.5l5.4 1.2l5.4 1.0l6.2 0.7l3.9 0.3z" fill="#5252ff" fill-rule="evenodd"/>
<path d="M270.8 375.4l9.3 -0.1l5.4 -0.4l6.2 -0.8l8.6 -1.5l10.0 -2.7l4.7 -1.6l6.2 -2.4l7.7 -3.6l8.6 -4.8l8.5 -5.7l8.2 -6.6l6.5 -6.2l3.9 -4.2l3.6 -4.4l5.7 -7.7l5.4 -8.6l2.8 -5.4l2.2 -4.6l3.5 -8.8l2.8 -9.0l1.6 -6.2l1.3 -7.8l0.9 -7.0l0.4 -9.3l-0.1 -5.4l-0.5 -7.7l-1.4 -9.3l-1.7 -7.8l-1.7 -6.0l-1.9 -5.6l-2.8 -6.9l-2.3 -4.9l-3.6 -6.8l-3.4 -5.5l-4.6 -6.9l-7.8 -10.8l-1.5 -2.5l-2.1 -4.5l-0.6 -2.4l-0.5 -3.8l-0.8 -10.1l-0.4 -13.2l-0.1 -32.5l0.1 -23.3l0.3 -8.5l0.5 -7.0l1.0 -7.7l2.0 -11.7l0.0 -3.8l-0.2 -0.3l-61.2 0.0l-0.3 0.3l0.2 4.6l1.8 10.1l1.0 7.7l0.5 7.0l0.3 7.8l0.1 17.8l-0.1 22.5l-0.9 15.5l-0.5 3.1l-0.6 1.7l-0.7 1.4l-1.6 1.8l-0.8 0.6l-1.5 0.7l-2.3 0.1l-1.6 -0.5l-1.5 -0.9l-3.9 -3.4l-3.3 -2.3l-6.5 -3.9l-2.6 -1.3l-0.0 60.8l6.2 -3.1l2.3 -0.9l3.1 -0.4l3.1 0.3l3.9 1.3l3.9 1.9l6.2 4.0l6.2 4.7l6.9 6.0l3.1 3.2l3.6 4.1l4.6 6.2l3.2 5.4l2.6 5.5l1.9 5.4l1.5 5.4l0.9 4.7l0.4 3.8l0.3 3.9l-0.1 3.9l-0.7 7.0l-0.7 3.8l-1.7 6.2l-1.3 3.9l-1.7 3.9l-1.6 3.1l-2.8 4.6l-5.2 7.0l-3.2 3.4l-3.1 2.9l-4.6 3.6l-4.7 3.1l-3.8 2.1l-5.5 2.4l-4.6 1.7l-6.2 1.6l-4.7 0.8l-6.9 0.5l-5.5 -0.2l-5.4 -0.6l-4.6 -0.9l-7.0 -2.0l-4.7 -1.8l-4.6 -2.3l-4.7 -2.8l-5.4 -3.9l-4.6 -4.2l-3.3 -3.4l-4.7 -6.2l-3.3 -5.4l-3.0 -6.2l-1.7 -4.7l-1.4 -5.4l-0.6 -4.6l0.0 -2.4l0.3 -2.3l0.7 -2.3l0.7 -1.6l13.0 -20.9l2.8 -3.1l-0.3 -0.0l-1.6 -1.8l-0.7 0.0l-1.6 -1.6l-0.8 0.0l-0.7 -0.8l-0.8 0.0l-1.6 -1.5l-0.7 -0.0l-1.6 -1.6l-0.8 0.0l-0.7 -0.7l-0.8 -0.0l-1.6 -1.5l-0.7 -0.0l-0.8 -0.6l-0.4 0.0l-2.3 2.4l-15.1 24.0l-2.6 3.9l-1.3 1.5l-0.6 -0.8l-0.6 -1.5l-0.4 -5.4l-0.0 -28.7l0.8 -2.3l-3.9 -0.3l-6.9 -0.0l-7.0 0.0l-3.1 0.3l0.8 2.3l-0.1 27.9l-0.4 6.2l-0.3 0.8l-0.8 0.0l-1.9 -1.6l-6.5 -8.5l-7.2 -10.1l-1.9 -2.3l-1.9 -1.9l-0.7 0.2l-0.8 0.6l-0.8 0.1l-2.3 2.2l-0.8 0.0l-2.3 2.3l-0.8 0.0l-1.5 1.6l-0.8 -0.0l-2.3 2.3l-0.8 0.0l-2.3 2.4l-0.8 0.0l-0.8 1.0l0.4 0.8l1.2 1.4l5.4 7.8l11.0 14.8l2.0 3.1l1.1 2.4l1.2 3.1l4.1 13.5l3.1 8.9l3.2 7.8l2.3 4.6l3.0 5.6l4.8 7.6l5.6 7.8l4.5 5.4l6.0 6.2l4.2 3.9l4.3 3.6l8.6 6.2l8.5 5.3l5.2 2.7l5.6 2.6l6.2 2.4l4.7 1.6l10.8 3.0l7.0 1.3l6.2 0.8l9.3 0.7z" fill="#5757ff" fill-rule="evenodd"/>
<path d="M262.3 374.6l11.6 0.6l10.9 -0.5l10.8 -1.5l7.8 -1.6l10.0 -3.0l9.3 -3.6l5.5 -2.6l4.6 -2.4l8.5 -5.3l8.6 -6.2l4.0 -3.4l4.2 -3.8l6.5 -6.9l6.3 -7.9l6.1 -8.9l4.9 -8.9l2.6 -5.4l1.8 -4.5l3.3 -9.5l2.2 -8.5l1.4 -7.7l0.9 -7.0l0.5 -7.8l-0.0 -6.2l-0.5 -8.5l-1.0 -7.0l-1.7 -8.5l-1.8 -7.0l-1.8 -5.2l-2.4 -6.4l-2.2 -5.0l-3.8 -7.4l-3.2 -5.4l-5.1 -7.8l-8.1 -11.2l-1.6 -2.7l-1.1 -2.3l-1.2 -3.1l-1.1 -6.2l-0.8 -10.1l-0.4 -14.0l-0.1 -35.6l0.2 -19.4l0.3 -7.7l0.6 -7.0l1.1 -8.5l2.0 -10.9l0.1 -3.9l-0.3 -0.2l-61.2 0.0l-0.2 0.2l-0.0 3.1l0.2 1.9l1.7 9.0l1.1 7.7l0.6 7.0l0.4 8.5l0.1 17.9l-0.1 22.4l-0.9 16.3l-0.6 3.1l-1.4 3.1l-1.7 2.0l-2.3 1.4l-1.6 0.2l-1.5 -0.1l-1.6 -0.5l-1.5 -1.0l-4.5 -4.3l-3.0 -2.3l-7.1 -4.7l-0.9 -0.3l-0.0 60.3l0.9 -0.3l4.5 -2.7l3.1 -1.3l3.1 -0.4l3.1 0.3l3.9 1.3l3.9 2.1l5.4 3.5l6.2 4.7l7.0 6.0l3.8 3.9l3.9 4.3l4.5 6.2l3.6 6.2l2.1 4.6l2.0 5.5l1.5 5.4l0.9 4.6l0.5 4.7l0.1 3.9l-0.0 3.8l-0.6 5.5l-0.6 3.8l-2.1 7.8l-1.5 3.9l-1.7 3.8l-4.0 7.1l-5.2 6.9l-3.4 3.6l-3.1 2.9l-4.6 3.6l-4.6 3.0l-4.7 2.6l-5.4 2.3l-4.7 1.5l-5.4 1.4l-4.7 0.8l-7.7 0.5l-4.7 -0.1l-5.4 -0.6l-7.0 -1.5l-5.4 -1.7l-5.4 -2.3l-5.4 -2.9l-3.9 -2.5l-4.7 -3.5l-4.3 -4.0l-3.6 -3.9l-4.1 -5.4l-3.3 -5.4l-3.0 -6.2l-1.7 -4.7l-1.3 -5.4l-0.6 -4.7l0.0 -2.3l0.3 -2.3l0.7 -2.3l0.8 -1.6l12.9 -20.9l2.8 -3.1l-0.2 -0.0l-1.6 -1.8l-0.7 0.0l-1.6 -1.6l-0.8 0.0l-0.7 -0.8l-0.8 0.0l-1.6 -1.5l-0.7 -0.0l-1.6 -1.6l-0.8 0.0l-0.7 -0.7l-0.8 -0.0l-1.6 -1.5l-0.7 -0.0l-0.8 -0.6l-0.2 0.0l-2.3 2.3l-15.2 24.1l-2.6 3.8l-1.4 1.7l-0.6 -0.9l-0.6 -1.5l-0.5 -5.5l0.0 -28.6l0.1 -0.9l0.7 -1.5l-3.8 -0.2l-6.2 -0.1l-6.9 0.1l-3.8 0.2l0.7 1.5l0.1 0.9l-0.0 16.2l-0.2 14.0l-0.3 3.9l-0.4 0.9l-0.8 -0.0l-1.9 -1.7l-6.6 -8.5l-7.2 -10.1l-3.7 -4.1l-0.7 0.1l-0.8 0.6l-0.8 0.0l-2.3 2.3l-0.8 0.0l-2.3 2.3l-0.8 0.0l-1.5 1.6l-0.8 -0.0l-2.3 2.3l-0.8 0.0l-2.3 2.4l-0.8 0.0l-0.3 0.2l-0.4 0.8l6.9 9.8l11.1 15.0l2.0 3.1l1.2 2.3l1.1 3.1l4.3 14.0l3.0 8.5l3.3 7.8l5.2 10.0l4.5 7.2l4.2 6.0l5.7 7.0l4.8 5.1l6.9 6.5l3.9 3.2l4.7 3.5l8.7 5.7l9.1 4.9l4.7 2.1l5.4 2.2l9.3 3.0l10.5 2.5l10.4 1.6z" fill="#5c5cff" fill-rule="evenodd"/>
<path d="M265.4 374.7l10.1 0.3l10.1 -0.5l10.8 -1.5l9.3 -2.2l8.5 -2.6l9.3 -3.7l4.7 -2.2l5.4 -2.9l8.9 -5.7l7.4 -5.4l3.9 -3.3l4.7 -4.4l6.1 -6.4l3.7 -4.5l3.3 -4.4l5.4 -8.1l5.0 -9.2l2.2 -4.6l2.1 -5.2l3.2 -9.6l2.2 -8.5l1.3 -7.0l1.0 -7.7l0.4 -7.8l-0.1 -6.2l-0.5 -7.7l-1.0 -7.8l-1.6 -7.7l-1.7 -6.2l-1.7 -5.4l-2.3 -6.1l-2.3 -5.3l-3.9 -7.6l-3.4 -5.8l-4.6 -7.0l-8.2 -11.7l-1.9 -3.0l-1.1 -2.4l-1.1 -3.1l-0.7 -3.1l-0.6 -3.8l-0.8 -10.1l-0.4 -14.0l-0.0 -35.6l0.2 -18.6l0.3 -7.8l0.5 -6.9l1.2 -8.6l2.2 -10.8l0.1 -3.9l-0.3 -0.2l-61.2 -0.0l-0.2 0.2l-0.0 3.1l0.2 1.7l1.9 9.2l1.1 7.7l0.6 7.0l0.4 7.7l0.2 16.3l-0.1 23.3l-0.9 17.8l-0.5 3.1l-1.1 3.1l-0.8 1.2l-1.6 1.7l-1.5 1.1l-1.6 0.6l-1.5 0.2l-1.6 -0.1l-1.5 -0.6l-1.6 -1.0l-4.4 -4.7l-2.6 -2.3l-6.0 -4.6l-1.7 -0.8l0.0 1.7l0.4 2.2l3.3 16.2l0.4 3.9l0.1 4.7l-0.2 6.2l-0.5 5.4l-0.9 5.4l-2.4 10.9l-0.2 1.3l0.0 1.8l1.7 -0.8l3.0 -2.0l3.1 -1.7l1.5 -0.4l1.6 -0.2l3.1 0.2l3.8 1.2l3.9 2.0l4.7 3.0l6.2 4.6l4.6 3.9l5.4 4.9l5.5 5.9l3.7 4.9l3.1 4.7l2.9 5.4l2.6 6.2l2.1 7.0l1.0 5.4l0.5 3.9l0.2 3.9l-0.1 3.8l-0.8 7.8l-0.7 3.9l-1.5 5.4l-1.4 3.9l-2.0 4.6l-4.0 7.0l-5.2 7.0l-3.5 3.7l-3.1 2.9l-4.7 3.6l-4.6 3.1l-4.7 2.5l-5.4 2.3l-4.7 1.6l-5.4 1.3l-4.6 0.8l-7.8 0.5l-4.6 -0.1l-5.5 -0.6l-6.9 -1.5l-5.5 -1.7l-6.2 -2.6l-4.6 -2.5l-4.7 -3.1l-3.8 -2.9l-4.6 -4.2l-3.6 -3.9l-4.0 -5.4l-3.4 -5.5l-2.6 -5.4l-1.8 -4.6l-1.6 -6.2l-0.5 -3.9l-0.0 -2.3l0.2 -2.4l0.6 -2.3l1.0 -2.3l12.9 -20.9l2.8 -3.1l-1.6 -1.8l-0.8 0.0l-1.6 -1.6l-0.7 -0.0l-0.8 -0.8l-0.8 0.0l-1.5 -1.6l-0.8 0.0l-1.6 -1.5l-0.7 -0.0l-0.8 -0.8l-0.8 0.0l-1.5 -1.4l-0.8 -0.1l-0.8 -0.5l-2.4 2.3l-15.2 24.0l-2.6 3.9l-1.5 1.8l-0.7 -1.0l-0.6 -1.6l-0.5 -4.6l0.0 -29.5l0.3 -1.4l0.3 -0.9l-3.4 -0.2l-6.2 -0.1l-7.0 0.1l-3.5 0.2l0.4 0.9l0.2 1.4l-0.1 23.3l-0.4 10.8l-0.2 0.8l-0.3 0.3l-0.8 -0.1l-2.0 -1.7l-6.6 -8.6l-7.2 -10.0l-3.5 -4.0l-0.8 -0.1l-0.8 0.7l-0.8 0.0l-2.3 2.3l-0.8 -0.0l-2.3 2.3l-0.8 0.0l-1.5 1.6l-0.8 -0.0l-2.3 2.3l-0.8 -0.0l-2.3 2.4l-0.8 0.0l-0.2 0.2l-0.4 0.8l6.8 9.7l11.2 15.1l2.0 3.1l1.2 2.3l1.1 3.1l4.7 14.8l3.1 8.5l3.8 8.8l4.7 8.8l4.5 7.2l4.8 6.5l4.8 5.9l5.1 5.4l4.9 4.6l3.8 3.2l8.1 6.1l8.9 5.7l5.5 2.9l4.6 2.2l10.1 4.0l10.1 2.9l4.6 1.1l6.2 1.1l9.3 1.1z" fill="#6161ff" fill-rule="evenodd"/>
<path d="M269.3 374.7l9.3 0.0l6.2 -0.3l5.4 -0.7l9.3 -1.6l10.1 -2.6l5.3 -1.8l5.6 -2.1l7.7 -3.6l8.5 -4.7l8.5 -5.7l8.0 -6.4l6.8 -6.4l4.1 -4.4l3.3 -3.9l5.7 -7.8l5.4 -8.5l4.7 -9.2l3.9 -9.4l2.7 -8.5l1.7 -7.0l1.4 -7.7l0.9 -7.0l0.4 -8.5l-0.1 -5.5l-0.5 -7.7l-1.1 -7.8l-1.5 -7.7l-3.1 -10.9l-2.3 -6.1l-2.4 -5.5l-3.5 -7.0l-3.6 -6.2l-4.5 -6.9l-8.5 -12.2l-2.0 -3.3l-2.3 -5.5l-0.7 -3.1l-0.7 -4.6l-0.7 -10.1l-0.4 -13.2l-0.1 -35.6l0.2 -18.6l0.3 -7.8l0.6 -6.9l1.3 -8.6l2.3 -10.8l0.1 -3.9l-0.2 -0.2l-61.3 0.0l-0.2 0.2l0.0 3.1l0.2 1.6l2.0 9.3l1.3 8.5l0.7 7.0l0.3 6.9l0.2 16.3l-0.1 23.3l-0.2 6.2l-0.6 6.9l-0.0 4.7l-0.6 3.9l-0.6 1.8l-1.1 2.0l-1.3 1.7l-1.5 1.3l-1.6 0.9l-1.5 0.6l-2.3 0.2l-1.6 -0.2l-1.5 -0.6l-1.6 -1.0l-1.3 -1.3l-2.8 -3.9l-2.0 -2.3l-4.2 -3.9l-2.0 -1.5l-0.2 -0.0l0.1 1.5l0.8 2.3l4.4 10.9l0.7 2.3l0.6 3.1l0.2 4.7l-0.5 9.3l-1.0 6.9l-1.4 5.5l-3.8 10.1l-0.1 1.5l0.2 -0.0l1.2 -0.8l3.4 -2.6l2.3 -1.2l1.5 -0.5l1.6 -0.1l3.1 0.3l3.9 1.4l4.6 2.5l5.4 3.8l6.2 4.9l7.8 6.8l3.1 3.2l3.5 4.0l4.6 6.2l3.7 6.2l2.6 5.4l1.9 5.4l1.5 5.5l0.9 4.6l0.5 4.7l0.2 3.8l-0.1 3.9l-0.5 5.4l-0.7 3.9l-2.1 7.8l-1.4 3.8l-1.7 3.9l-2.5 4.7l-2.0 3.1l-5.3 6.9l-6.2 6.1l-4.7 3.6l-4.6 3.1l-4.7 2.5l-5.4 2.3l-4.6 1.5l-6.2 1.5l-4.7 0.7l-7.0 0.5l-4.6 -0.2l-5.4 -0.5l-7.0 -1.5l-5.4 -1.7l-6.2 -2.6l-4.7 -2.5l-3.9 -2.5l-4.6 -3.5l-3.9 -3.5l-3.8 -4.0l-3.6 -4.7l-2.1 -3.1l-2.7 -4.6l-2.2 -4.7l-1.6 -3.9l-1.3 -4.6l-0.8 -3.9l-0.3 -3.9l0.3 -3.1l0.9 -3.1l2.0 -3.8l11.7 -18.6l2.7 -3.1l-1.5 -1.8l-0.8 0.0l-1.5 -1.6l-0.8 0.0l-0.8 -0.8l-0.8 0.0l-1.5 -1.5l-0.8 -0.0l-1.5 -1.6l-0.8 0.0l-0.8 -0.7l-0.8 -0.0l-1.5 -1.5l-0.8 -0.0l-0.8 -0.6l-2.3 2.3l-15.2 24.0l-3.4 5.0l-0.8 0.8l-0.7 -1.1l-0.6 -1.6l-0.5 -4.6l-0.0 -29.5l0.4 -2.3l-3.2 -0.2l-6.2 -0.1l-7.0 0.1l-3.2 0.2l0.4 2.3l-0.1 25.6l-0.4 8.5l-0.2 0.8l-0.4 0.3l-0.7 -0.0l-2.1 -1.8l-6.6 -8.6l-7.2 -10.0l-3.5 -3.9l-0.8 -0.1l-0.8 0.6l-0.7 0.0l-2.4 2.3l-0.7 -0.0l-2.4 2.3l-0.7 0.0l-1.6 1.6l-0.8 -0.0l-2.3 2.3l-0.8 0.0l-2.3 2.4l-0.8 0.0l-0.2 0.2l-0.3 0.8l1.3 1.6l1.6 2.5l3.8 5.4l11.4 15.3l1.9 3.1l1.2 2.3l1.2 3.1l4.5 14.2l3.1 8.5l3.9 8.9l4.6 8.9l4.7 7.3l5.4 7.5l4.6 5.5l5.5 5.7l4.6 4.3l3.9 3.3l8.5 6.3l8.5 5.2l5.2 2.8l4.9 2.3l10.9 4.1l10.8 3.1l10.1 1.8l5.4 0.7l6.2 0.4z" fill="#6767ff" fill-rule="evenodd"/>
<path d="M262.3 374.0l10.8 0.6l10.9 -0.4l9.3 -1.2l9.3 -1.9l9.4 -2.6l10.1 -3.9l9.9 -4.9l8.6 -5.2l8.5 -6.2l4.6 -3.8l3.4 -3.1l6.7 -7.0l6.3 -7.8l6.1 -9.0l4.9 -8.8l3.9 -8.5l2.1 -5.4l1.8 -5.5l2.2 -8.5l1.3 -7.0l1.0 -7.7l0.5 -7.8l-0.0 -6.2l-0.5 -8.5l-1.0 -7.0l-1.5 -7.7l-1.6 -6.2l-1.7 -5.4l-2.0 -5.5l-2.4 -5.5l-3.8 -7.6l-3.6 -6.2l-4.5 -7.0l-8.2 -11.9l-2.2 -3.6l-1.7 -3.9l-0.8 -2.3l-0.6 -3.1l-0.7 -4.7l-0.8 -10.0l-0.4 -14.0l0.0 -36.4l0.2 -17.1l0.4 -7.7l0.7 -7.0l1.4 -8.5l2.1 -9.4l0.2 -4.6l-0.2 -0.2l-61.2 0.0l-0.2 0.2l0.2 4.6l2.0 8.6l1.4 8.5l0.7 6.2l0.4 7.0l0.3 14.0l-0.1 23.2l-0.2 8.5l-0.8 15.5l-0.6 2.6l-1.2 2.9l-1.6 2.3l-1.8 1.7l-1.6 1.0l-2.3 1.0l-2.3 0.5l-3.9 0.6l-1.1 0.6l-0.6 0.8l-0.5 1.5l-0.4 2.4l-1.6 13.1l-0.8 5.5l-1.1 4.6l-1.9 6.2l0.2 0.3l3.9 -0.5l2.3 0.1l3.1 0.8l3.1 1.3l3.9 2.2l4.7 3.3l6.9 5.4l4.7 4.0l4.6 4.3l4.7 5.1l2.0 2.4l3.4 4.6l2.5 3.9l2.5 4.7l2.1 4.6l1.7 4.7l1.4 5.4l0.9 4.6l0.5 4.7l0.2 3.9l-0.1 3.8l-0.5 5.5l-0.8 4.6l-1.2 4.7l-1.6 4.6l-1.9 4.7l-1.6 3.1l-2.7 4.6l-5.3 7.1l-3.5 3.8l-3.3 3.1l-4.8 3.6l-4.6 3.0l-4.7 2.5l-5.4 2.4l-4.7 1.5l-6.2 1.5l-4.6 0.7l-7.0 0.5l-4.6 -0.2l-5.5 -0.6l-6.9 -1.5l-5.5 -1.7l-6.2 -2.6l-4.6 -2.4l-3.9 -2.5l-4.6 -3.5l-3.9 -3.5l-3.4 -3.4l-3.7 -4.7l-2.6 -3.9l-2.7 -4.6l-1.9 -3.9l-1.9 -4.6l-1.3 -4.7l-0.8 -3.9l-0.2 -3.8l0.3 -3.1l0.9 -3.1l2.0 -3.9l11.6 -18.6l1.2 -1.6l1.5 -1.5l-1.1 -1.6l-0.2 -0.2l-0.8 0.0l-1.6 -1.6l-0.7 0.0l-0.8 -0.8l-0.8 0.0l-1.5 -1.5l-0.8 -0.0l-1.6 -1.6l-0.7 0.0l-0.8 -0.7l-0.8 -0.0l-1.5 -1.5l-0.8 -0.0l-0.8 -0.5l-2.3 2.2l-15.1 24.1l-3.5 5.1l-0.8 0.7l-0.8 -1.0l-0.6 -1.7l-0.5 -4.7l-0.0 -29.4l0.3 -2.4l-3.0 -0.2l-6.2 -0.1l-7.0 0.1l-3.0 0.2l0.3 2.4l-0.2 26.3l-0.4 7.8l-0.1 0.7l-0.5 0.4l-0.8 -0.0l-2.1 -1.9l-6.6 -8.5l-7.3 -10.1l-3.4 -3.9l-0.7 -0.1l-0.8 0.6l-0.8 0.1l-2.3 2.2l-0.8 0.0l-2.3 2.3l-0.8 0.0l-1.5 1.6l-0.8 -0.0l-2.3 2.3l-0.8 0.0l-2.3 2.4l-0.8 0.0l-0.2 0.2l-0.2 0.8l1.3 1.6l1.4 2.4l15.3 20.8l2.8 4.7l1.8 4.6l4.5 14.0l2.8 7.4l3.4 8.1l5.1 9.7l3.9 6.3l4.6 6.6l5.4 6.7l4.7 5.0l7.1 6.7l3.7 3.1l4.7 3.6l8.7 5.7l9.1 4.9l4.7 2.2l5.4 2.2l9.3 3.0l10.1 2.5l10.8 1.6z" fill="#6c6cff" fill-rule="evenodd"/>
<path d="M263.8 373.9l10.1 0.5l10.8 -0.5l10.9 -1.5l8.5 -1.9l9.3 -2.8l9.3 -3.6l10.1 -5.1l8.5 -5.3l8.3 -6.2l3.7 -3.1l4.2 -3.8l6.6 -7.0l6.2 -7.8l5.8 -8.5l4.7 -8.5l3.9 -8.5l2.3 -6.1l1.6 -4.8l2.2 -8.5l1.3 -7.0l1.1 -7.7l0.4 -7.8l0.0 -6.2l-0.5 -8.5l-1.1 -7.8l-1.4 -6.9l-2.0 -7.6l-1.9 -5.6l-2.8 -7.1l-3.1 -6.6l-5.4 -9.7l-4.5 -6.8l-7.9 -11.5l-2.7 -4.8l-1.6 -3.9l-0.7 -2.3l-0.7 -3.9l-0.5 -3.9l-0.8 -10.0l-0.4 -13.2l-0.0 -36.4l0.2 -17.1l0.4 -7.7l0.7 -7.0l1.7 -9.3l2.1 -8.7l0.2 -4.5l-0.2 -0.2l-61.3 0.0l-0.1 0.2l0.1 4.5l2.0 7.9l1.6 8.5l0.7 6.2l0.5 7.8l0.3 13.9l-0.1 22.5l-0.2 8.5l-0.5 9.3l-0.2 7.0l-0.7 3.1l-0.8 2.3l-1.0 1.8l-1.6 2.0l-1.5 1.4l-1.6 1.2l-4.6 2.5l-1.6 1.0l-0.9 1.0l-0.9 1.5l-1.1 3.1l-0.7 3.9l-2.4 15.5l-0.0 3.1l0.2 0.8l0.7 0.8l5.9 2.7l3.9 2.2l3.9 2.6l5.4 4.2l7.0 5.8l5.4 5.0l7.0 7.7l3.5 4.6l3.0 4.7l2.5 4.6l2.1 4.7l1.7 4.6l1.4 5.5l0.9 4.6l0.6 5.4l0.0 6.2l-0.7 7.8l-0.8 3.9l-1.2 4.6l-2.3 6.2l-2.5 5.4l-2.3 3.9l-2.1 3.1l-4.2 5.4l-6.3 6.2l-4.9 3.9l-3.9 2.5l-4.7 2.6l-6.2 2.7l-5.4 1.8l-5.4 1.2l-4.7 0.7l-7.0 0.5l-4.6 -0.2l-6.2 -0.7l-6.2 -1.3l-5.4 -1.7l-5.5 -2.2l-4.6 -2.4l-4.7 -2.9l-4.6 -3.5l-3.1 -2.8l-4.3 -4.4l-3.7 -4.6l-2.2 -3.1l-2.8 -4.7l-2.2 -4.6l-1.9 -4.7l-1.3 -4.6l-0.8 -3.9l-0.2 -3.9l0.4 -3.1l0.8 -3.1l2.0 -3.8l11.7 -18.6l1.1 -1.6l1.6 -1.5l-1.1 -1.6l-0.2 -0.2l-0.8 0.0l-1.5 -1.6l-0.8 0.0l-0.8 -0.8l-0.8 0.0l-1.5 -1.5l-0.8 -0.0l-1.5 -1.6l-0.8 0.0l-0.8 -0.7l-0.7 -0.0l-1.6 -1.5l-0.8 -0.0l-0.8 -0.5l-2.1 2.2l-15.2 24.0l-3.6 5.4l-0.8 0.5l-0.7 -0.9l-0.7 -1.9l-0.6 -4.6l0.0 -29.5l0.3 -2.3l-2.9 -0.2l-6.2 -0.1l-7.0 0.1l-2.9 0.2l0.3 2.3l-0.2 27.2l-0.4 6.9l-0.1 0.8l-0.6 0.5l-0.7 -0.1l-2.2 -1.9l-4.4 -5.5l-9.5 -13.1l-1.2 -1.6l-2.3 -2.3l-0.6 -0.1l-0.8 0.6l-0.7 0.0l-2.4 2.3l-0.7 0.0l-2.4 2.3l-0.7 0.0l-1.6 1.6l-0.8 -0.0l-2.3 2.3l-0.8 0.0l-2.3 2.4l-0.8 0.0l-0.2 0.2l-0.0 0.8l1.2 1.5l1.4 2.4l15.4 20.9l2.7 4.6l1.9 4.7l4.8 14.5l3.0 8.0l3.4 7.7l4.9 9.3l4.2 6.7l4.6 6.5l5.0 6.2l5.1 5.4l6.7 6.2l4.1 3.4l4.8 3.6l9.2 5.9l9.4 4.9l3.8 1.7l6.2 2.5l9.0 2.8l10.0 2.3l11.2 1.6z" fill="#7171ff" fill-rule="evenodd"/>
<path d="M267.7 373.9l8.5 0.2l10.1 -0.6l10.8 -1.6l10.9 -2.7l9.0 -3.1l4.9 -2.0l4.7 -2.1l8.5 -4.6l8.6 -5.6l4.6 -3.5l3.8 -3.1l6.6 -6.2l6.6 -7.2l6.2 -8.1l5.5 -8.3l4.6 -8.7l1.9 -4.1l2.2 -5.4l3.1 -9.3l2.0 -7.8l1.2 -7.0l1.0 -7.7l0.4 -7.8l-0.0 -6.2l-0.5 -7.7l-1.2 -8.3l-1.5 -7.2l-1.9 -7.0l-2.0 -6.0l-2.9 -7.2l-3.0 -6.2l-5.2 -9.3l-12.5 -18.6l-2.6 -4.6l-1.5 -3.9l-0.7 -2.3l-0.8 -3.9l-0.6 -4.6l-0.8 -10.1l-0.4 -13.2l0.0 -36.4l0.3 -17.1l0.4 -6.9l0.7 -7.0l1.4 -7.8l2.6 -10.3l0.2 -4.4l-0.2 -0.2l-61.2 0.0l-0.2 0.2l0.2 4.4l2.1 8.0l1.6 8.5l0.8 6.2l0.5 7.0l0.3 13.2l-0.0 21.7l-0.2 9.3l-0.6 10.1l-0.1 7.7l-0.4 2.3l-0.7 2.4l-1.8 3.6l-1.5 2.0l-1.6 1.6l-4.6 3.6l-1.6 1.5l-1.2 1.6l-0.7 1.6l-1.3 3.8l-1.0 5.5l-1.2 8.5l-0.1 2.3l0.2 1.6l0.5 1.5l1.5 1.6l6.4 4.2l4.7 3.3l6.2 5.1l6.9 6.0l4.7 4.4l3.1 3.4l3.1 3.5l3.1 4.1l2.7 3.9l2.6 4.7l1.9 3.9l1.6 3.8l1.5 4.7l1.2 4.6l0.7 3.9l0.6 5.4l0.0 6.2l-0.6 7.0l-0.7 3.9l-1.0 3.9l-2.4 6.9l-2.8 6.2l-2.3 3.9l-2.0 3.1l-4.3 5.4l-6.2 6.2l-5.2 4.1l-3.9 2.5l-5.4 3.0l-5.5 2.3l-5.4 1.7l-5.4 1.3l-4.7 0.7l-6.9 0.4l-4.7 -0.1l-6.2 -0.7l-6.2 -1.4l-5.4 -1.7l-5.4 -2.2l-4.7 -2.4l-4.6 -2.8l-4.7 -3.5l-3.1 -2.8l-4.5 -4.6l-3.7 -4.6l-2.2 -3.1l-3.1 -5.4l-2.2 -4.7l-1.8 -4.6l-1.3 -4.7l-0.5 -3.1l-0.2 -3.9l0.4 -3.1l0.9 -3.1l2.0 -3.8l11.6 -18.6l1.1 -1.6l1.6 -1.5l-0.3 -0.8l-0.9 -1.0l-0.8 0.0l-1.5 -1.6l-0.8 0.0l-0.8 -0.8l-0.7 0.0l-1.6 -1.5l-0.8 -0.0l-1.5 -1.6l-0.8 0.0l-0.8 -0.7l-0.7 -0.0l-1.6 -1.5l-0.8 -0.0l-0.7 -0.4l-2.1 2.1l-15.2 24.0l-3.6 5.5l-0.8 0.5l-0.7 -0.5l-0.6 -1.6l-0.5 -2.3l-0.3 -3.1l-0.0 -29.5l0.2 -2.3l-2.8 -0.2l-6.2 -0.1l-7.0 0.1l-2.7 0.2l0.2 2.3l-0.2 27.2l-0.4 6.9l-0.1 0.8l-0.6 0.6l-0.8 -0.1l-1.4 -1.3l-2.8 -3.1l-4.7 -6.2l-7.3 -10.0l-1.2 -1.6l-2.3 -2.3l-0.5 -0.1l-0.7 0.6l-0.8 0.0l-2.3 2.3l-0.8 -0.0l-2.3 2.3l-0.8 0.0l-1.6 1.6l-0.7 -0.0l-2.4 2.3l-0.7 -0.0l-2.4 2.4l-0.7 0.0l-0.2 0.2l-0.0 0.8l1.2 1.5l1.4 2.4l15.4 20.9l2.8 4.6l1.9 4.7l4.9 14.7l2.8 7.4l3.9 8.8l4.6 8.7l4.3 6.9l5.0 6.9l4.7 5.6l5.4 5.7l4.6 4.4l3.9 3.3l8.5 6.3l8.6 5.3l10.1 5.1l10.0 3.9l4.8 1.5l6.1 1.6l10.0 2.0l6.2 0.8l4.7 0.3z" fill="#7676ff" fill-rule="evenodd"/>
<path d="M273.9 373.9l10.8 -0.5l8.6 -1.1l9.3 -1.9l10.0 -2.9l9.5 -3.7l9.5 -4.6l7.7 -4.7l8.2 -5.8l7.0 -5.9l3.9 -3.8l4.4 -4.6l5.6 -6.8l5.5 -7.7l4.6 -7.7l4.7 -9.4l3.7 -9.5l2.5 -8.5l1.6 -7.0l1.1 -7.0l0.7 -6.2l0.4 -8.5l-0.1 -6.2l-0.6 -7.4l-1.2 -8.1l-1.6 -7.0l-1.9 -6.9l-1.9 -5.5l-2.8 -7.0l-3.0 -6.2l-5.2 -9.3l-11.9 -17.7l-2.7 -4.7l-1.6 -3.9l-1.0 -3.1l-0.8 -3.9l-0.7 -4.6l-0.8 -10.1l-0.4 -14.0l0.0 -36.4l0.3 -16.3l0.5 -7.7l0.7 -6.2l1.6 -8.5l2.6 -9.7l0.2 -4.3l-0.2 -0.2l-59.7 0.0l-1.5 0.0l-0.2 0.2l0.2 4.3l2.6 9.7l1.5 7.7l0.7 6.2l0.4 6.2l0.4 12.4l-0.0 20.2l-0.2 12.4l-0.6 10.0l-0.0 7.0l-0.4 2.3l-0.5 2.4l-0.8 2.0l-1.0 1.8l-2.1 3.0l-6.2 6.3l-1.1 1.6l-1.1 2.3l-1.2 3.9l-1.2 6.2l-0.7 5.4l-0.0 2.3l0.2 1.6l0.9 2.3l1.4 1.6l8.2 6.4l6.2 5.1l6.2 5.4l6.2 5.9l6.0 6.6l4.1 5.4l2.5 3.9l2.6 4.7l2.1 4.6l1.2 3.1l1.3 3.9l1.1 4.6l0.8 3.9l0.5 5.4l0.1 6.2l-0.8 7.8l-1.8 7.7l-2.4 7.0l-3.0 6.2l-3.8 6.2l-4.3 5.5l-6.2 6.2l-5.4 4.2l-3.9 2.5l-5.4 2.9l-5.5 2.4l-4.6 1.5l-6.2 1.5l-4.7 0.7l-6.2 0.4l-4.6 -0.1l-6.2 -0.6l-5.4 -1.1l-6.2 -1.8l-5.5 -2.1l-4.6 -2.3l-4.7 -2.8l-5.4 -4.0l-3.1 -2.7l-4.7 -4.9l-3.7 -4.6l-2.1 -3.1l-2.8 -4.7l-2.3 -4.6l-1.8 -4.7l-1.4 -4.6l-0.7 -3.9l-0.1 -3.9l0.4 -3.1l0.9 -3.1l2.0 -4.0l11.7 -18.6l1.0 -1.4l1.5 -1.5l-0.2 -0.8l-0.8 -1.0l-0.8 0.1l-1.5 -1.7l-0.8 0.0l-0.8 -0.8l-0.7 0.0l-1.6 -1.5l-0.8 -0.0l-1.5 -1.6l-0.8 0.0l-0.8 -0.7l-0.7 -0.0l-1.6 -1.5l-0.8 0.0l-0.7 -0.4l-2.0 2.1l-15.2 24.0l-3.6 5.5l-0.9 0.6l-0.8 -0.6l-0.6 -1.6l-0.5 -2.3l-0.3 -2.3l-0.0 -30.3l0.1 -2.3l-8.8 -0.2l-6.2 -0.0l-3.4 0.2l0.2 2.3l-0.2 27.9l-0.5 7.0l-0.7 0.7l-0.8 -0.2l-1.5 -1.3l-2.8 -3.1l-4.7 -6.2l-7.3 -10.0l-1.2 -1.6l-2.2 -2.3l-0.5 -0.1l-0.7 0.6l-0.8 0.1l-2.3 2.2l-0.8 0.0l-2.3 2.3l-0.8 0.0l-1.6 1.6l-0.7 -0.0l-2.4 2.3l-0.7 0.0l-2.4 2.4l-0.7 0.1l-0.2 0.1l0.1 0.8l1.2 1.5l1.4 2.4l15.4 20.9l2.8 4.6l1.9 4.7l5.3 15.5l3.1 8.0l3.8 8.5l4.7 8.5l4.6 7.2l5.5 7.3l4.6 5.4l6.2 6.2l3.4 3.1l4.7 3.9l5.1 3.8l4.8 3.2l4.5 2.8l5.0 2.6l5.1 2.5l4.6 2.0l5.4 2.0l4.7 1.5l6.2 1.7l5.4 1.2l5.4 1.0l6.2 0.8l10.9 0.5z" fill="#7c7cff" fill-rule="evenodd"/>
<path d="M263.1 373.1l10.9 0.5l10.0 -0.4l10.1 -1.3l9.2 -1.9l9.4 -2.8l9.3 -3.6l10.1 -5.0l8.0 -4.9l8.2 -6.0l7.0 -6.0l7.8 -7.9l6.2 -7.6l6.0 -8.9l4.8 -8.6l3.9 -8.5l2.3 -5.9l1.6 -4.9l2.3 -8.5l1.3 -7.0l1.0 -7.8l0.5 -7.7l-0.0 -6.2l-0.6 -8.5l-0.9 -7.0l-1.4 -7.0l-1.8 -7.0l-2.0 -6.2l-3.1 -7.7l-2.5 -5.4l-2.9 -5.5l-2.7 -4.6l-12.0 -18.2l-2.9 -5.1l-1.9 -4.6l-0.9 -3.1l-0.8 -3.9l-0.7 -5.4l-0.8 -10.1l-0.3 -13.2l-0.0 -35.6l0.3 -16.3l0.5 -7.7l0.8 -7.0l1.6 -7.8l2.7 -9.7l0.2 -4.2l-0.2 -0.2l-59.6 0.0l-1.6 0.0l-0.1 0.2l0.1 4.2l2.6 9.0l1.6 7.7l0.8 6.2l0.6 7.0l0.3 11.6l0.0 19.4l-0.2 13.2l-0.5 10.0l-0.0 7.8l-0.3 2.3l-0.5 2.3l-1.5 3.9l-2.1 3.3l-5.7 6.8l-1.4 2.3l-1.0 2.3l-1.2 3.9l-1.0 5.4l-0.4 4.7l0.1 3.1l0.8 2.3l1.6 2.3l17.5 15.3l7.7 7.3l6.3 6.9l4.5 6.2l2.0 3.1l2.6 4.6l2.1 4.7l1.5 3.9l1.4 4.6l0.9 3.9l0.7 3.9l0.4 4.6l0.1 6.2l-0.8 7.8l-1.7 7.7l-2.5 7.0l-3.0 6.2l-3.8 6.2l-4.5 5.7l-6.2 6.2l-4.6 3.6l-3.9 2.6l-5.4 3.0l-5.4 2.4l-4.7 1.6l-6.2 1.5l-4.6 0.8l-7.0 0.5l-4.7 -0.1l-6.2 -0.6l-5.4 -1.1l-6.2 -1.8l-5.4 -2.1l-4.7 -2.3l-5.4 -3.3l-4.6 -3.4l-3.1 -2.7l-4.7 -4.7l-3.4 -4.3l-2.7 -3.8l-2.7 -4.7l-2.3 -4.6l-1.9 -4.7l-1.3 -4.6l-0.7 -3.9l-0.1 -3.9l0.6 -3.9l1.1 -3.1l3.0 -5.4l10.4 -16.6l0.9 -1.2l1.6 -1.6l-0.1 -0.7l-0.8 -1.0l-0.8 0.0l-1.6 -1.6l-0.7 0.0l-0.8 -0.8l-0.8 0.0l-1.5 -1.5l-0.8 -0.0l-1.6 -1.6l-0.7 0.0l-0.8 -0.7l-0.8 -0.0l-1.5 -1.5l-0.8 -0.0l-0.8 -0.3l-1.9 2.0l-15.1 24.0l-3.6 5.4l-0.3 0.4l-0.8 0.4l-0.8 -0.6l-0.6 -1.7l-0.5 -2.3l-0.3 -2.4l0.1 -32.5l-8.7 -0.3l-6.2 0.1l-3.3 0.2l0.1 17.0l-0.2 13.2l-0.4 7.0l-0.9 0.8l-0.8 -0.2l-2.3 -2.1l-2.0 -2.4l-4.7 -6.2l-7.3 -10.1l-1.2 -1.5l-2.3 -2.3l-0.3 -0.1l-0.8 0.6l-0.8 0.0l-2.3 2.3l-0.8 -0.0l-2.3 2.3l-0.8 -0.0l-1.5 1.6l-0.8 -0.0l-2.3 2.3l-0.8 -0.0l-2.3 2.4l-0.9 0.2l0.1 0.8l1.3 1.5l1.8 3.1l14.9 20.2l2.8 4.6l2.0 4.7l5.1 14.9l3.1 8.0l3.9 8.6l4.3 8.0l4.2 6.6l4.7 6.5l4.6 5.7l4.7 4.9l6.9 6.6l4.6 3.8l4.2 3.1l9.1 5.9l9.3 4.9l9.3 3.9l9.3 3.0l10.0 2.4l10.9 1.6z" fill="#8181ff" fill-rule="evenodd"/>
<path d="M266.2 373.1l9.3 0.3l10.8 -0.6l10.1 -1.5l10.1 -2.4l8.6 -2.8l9.3 -3.9l9.2 -4.7l8.3 -5.3l8.0 -6.0l7.1 -6.4l6.8 -7.3l6.2 -7.8l5.5 -8.2l2.3 -3.9l2.8 -5.4l2.2 -4.6l2.0 -4.8l3.1 -9.2l2.0 -7.7l1.4 -7.0l1.0 -7.8l0.4 -7.7l0.0 -6.2l-0.5 -8.5l-1.1 -7.8l-1.4 -7.0l-1.9 -6.9l-2.1 -6.2l-2.8 -7.0l-2.8 -5.9l-5.3 -9.6l-12.5 -19.0l-2.3 -4.3l-1.8 -4.6l-1.0 -3.1l-0.8 -3.9l-0.8 -5.4l-0.8 -10.1l-0.3 -13.9l-0.0 -35.7l0.3 -16.3l0.6 -7.7l0.8 -6.2l1.8 -8.5l2.7 -9.1l0.2 -4.1l-0.2 -0.2l-58.9 0.0l-2.3 0.0l-0.1 0.2l0.1 4.1l2.7 9.1l1.7 7.7l0.8 5.4l0.6 7.0l0.4 10.9l0.0 17.8l-0.1 14.7l-0.6 11.6l0.1 7.8l-0.7 4.6l-0.8 2.4l-1.0 2.3l-1.5 2.7l-5.9 8.1l-1.2 2.4l-0.9 2.3l-1.1 3.9l-0.8 4.6l-0.3 3.9l0.3 3.1l0.4 1.5l0.8 1.6l1.8 2.3l3.2 3.1l13.7 12.5l6.2 6.0l6.5 7.1l5.0 7.0l1.9 3.1l2.6 4.6l1.7 3.9l1.5 3.9l1.4 4.6l0.9 3.9l0.6 3.9l0.5 4.6l0.0 6.2l-0.7 7.8l-0.8 3.8l-1.2 4.7l-2.2 6.2l-1.8 3.9l-1.6 3.1l-4.0 6.2l-4.1 5.1l-6.1 6.2l-4.7 3.6l-4.6 3.1l-4.7 2.5l-6.2 2.7l-4.6 1.5l-6.2 1.5l-4.7 0.7l-7.0 0.4l-4.6 -0.2l-6.2 -0.7l-6.2 -1.3l-5.4 -1.6l-5.5 -2.3l-5.4 -2.8l-4.6 -2.9l-4.7 -3.6l-3.8 -3.4l-3.7 -3.9l-3.7 -4.6l-2.1 -3.1l-2.7 -4.7l-2.3 -4.6l-1.8 -4.7l-1.4 -4.6l-0.6 -3.9l-0.1 -3.9l0.6 -3.9l1.1 -3.1l3.0 -5.4l10.5 -16.7l2.4 -2.8l-0.0 -0.6l-0.8 -1.0l-0.8 0.0l-1.5 -1.6l-0.8 0.0l-0.8 -0.8l-0.8 0.0l-1.5 -1.5l-0.8 -0.0l-1.5 -1.6l-0.8 0.0l-0.8 -0.7l-0.8 -0.0l-1.5 -1.5l-1.6 -0.3l-1.8 2.0l-15.1 24.0l-3.6 5.4l-0.4 0.6l-0.8 0.3l-0.7 -0.6l-0.8 -1.8l-0.5 -2.3l-0.3 -2.4l0.0 -32.5l-8.5 -0.3l-9.4 0.3l-0.1 30.2l-0.4 7.0l-0.8 0.8l-0.9 -0.2l-2.5 -2.2l-2.0 -2.3l-13.2 -17.8l-2.3 -2.3l-0.2 -0.1l-0.8 0.6l-0.7 0.1l-2.4 2.2l-0.7 0.0l-2.4 2.3l-0.7 0.0l-1.6 1.6l-0.8 -0.0l-2.3 2.3l-0.8 0.0l-2.3 2.4l-0.9 0.2l0.1 0.7l1.3 1.6l1.4 2.3l15.4 21.0l2.4 3.8l2.4 5.5l5.8 16.4l3.1 7.8l3.5 7.5l4.3 7.9l4.3 6.9l5.0 6.7l4.6 5.6l5.3 5.5l4.0 3.9l3.9 3.3l8.5 6.4l8.5 5.3l10.1 5.1l10.1 4.0l10.1 2.9l4.6 1.1l5.4 1.0l6.2 0.8l3.9 0.3z" fill="#8686ff" fill-rule="evenodd"/>
<path d="M270.8 373.1l4.7 0.1l5.4 -0.3l4.6 -0.3l5.5 -0.7l9.2 -1.7l9.6 -2.5l9.8 -3.6l8.6 -4.0l8.5 -4.8l8.0 -5.5l7.5 -5.9l6.9 -6.7l3.5 -3.6l3.3 -3.9l5.8 -7.8l5.3 -8.4l4.6 -9.0l3.9 -9.5l2.8 -8.7l1.8 -7.8l1.2 -6.9l0.8 -6.2l0.4 -8.6l-0.1 -6.2l-0.6 -7.7l-1.0 -7.0l-1.4 -7.0l-1.9 -6.9l-2.0 -6.0l-2.9 -7.2l-2.6 -5.4l-5.4 -9.8l-11.6 -17.7l-1.6 -2.8l-1.6 -3.1l-1.9 -4.6l-0.9 -3.1l-1.0 -4.7l-0.8 -5.4l-0.8 -10.8l-0.3 -13.2l0.0 -35.7l0.4 -15.5l0.5 -6.9l0.9 -7.0l1.9 -8.5l2.9 -9.2l0.2 -4.0l-0.2 -0.2l-58.9 0.0l-2.3 0.0l-0.2 0.2l0.2 4.0l2.6 8.4l1.9 7.7l0.9 6.2l0.7 7.0l0.3 10.9l0.1 15.5l-0.2 16.2l-0.5 12.4l0.1 7.8l-0.6 4.6l-1.4 4.4l-2.4 4.4l-4.5 6.7l-1.2 2.4l-1.2 3.1l-1.0 3.8l-0.8 4.7l-0.2 3.1l0.3 3.1l0.5 1.5l0.7 1.6l2.3 3.1l22.2 21.3l5.8 6.6l5.1 7.0l1.9 3.1l2.5 4.6l2.0 4.7l1.2 3.1l1.2 3.8l1.1 4.7l0.6 3.9l0.5 4.6l0.0 7.0l-0.8 7.7l-1.9 7.8l-2.5 7.0l-3.1 6.2l-3.9 6.2l-4.3 5.4l-6.2 6.1l-4.7 3.6l-4.6 3.1l-5.4 2.8l-5.5 2.3l-5.4 1.8l-6.2 1.4l-5.4 0.7l-5.4 0.3l-4.7 -0.2l-6.2 -0.7l-6.2 -1.3l-5.4 -1.7l-6.2 -2.5l-4.7 -2.5l-4.6 -2.9l-4.7 -3.5l-3.8 -3.6l-3.9 -4.0l-3.6 -4.6l-2.1 -3.1l-3.2 -5.5l-2.2 -4.6l-1.7 -4.7l-1.1 -3.8l-0.6 -3.9l-0.1 -3.9l0.5 -3.1l1.2 -3.9l3.0 -5.4l11.4 -18.1l1.5 -2.0l-0.7 -0.9l-0.8 -0.0l-1.5 -1.7l-0.8 0.0l-0.8 -0.8l-0.7 0.0l-1.6 -1.5l-0.8 -0.0l-1.5 -1.6l-0.8 0.0l-0.8 -0.7l-0.7 -0.0l-1.6 -1.5l-1.5 -0.2l-1.8 1.9l-8.6 13.9l-10.0 15.5l-0.6 0.7l-0.7 0.4l-0.8 -0.6l-0.3 -0.5l-0.7 -2.3l-0.6 -4.6l-0.0 -31.8l-8.5 -0.3l-9.2 0.3l-0.2 29.4l-0.4 7.8l-0.6 0.8l-0.4 0.1l-0.8 -0.2l-2.5 -2.3l-4.5 -5.4l-10.7 -14.7l-2.3 -2.3l-0.9 0.6l-0.8 -0.0l-2.3 2.2l-0.8 0.0l-2.3 2.3l-0.8 0.0l-1.6 1.6l-0.7 -0.0l-2.4 2.3l-0.7 0.0l-2.4 2.4l-0.9 0.2l0.2 0.7l1.4 1.6l1.4 2.3l3.8 5.5l11.6 15.5l2.3 3.8l2.5 5.5l5.8 16.2l3.7 9.2l3.8 7.9l4.0 7.2l4.4 6.7l4.9 6.6l4.6 5.5l5.6 5.8l4.2 3.8l4.2 3.5l4.6 3.5l4.5 3.1l4.0 2.6l4.7 2.6l5.0 2.6l5.1 2.3l6.0 2.3l4.6 1.6l11.1 2.9l5.4 1.0l5.4 0.8l10.1 0.7z" fill="#8b8bff" fill-rule="evenodd"/>
<path d="M263.1 372.4l10.9 0.5l10.0 -0.4l10.1 -1.3l9.3 -2.0l9.3 -2.7l9.3 -3.6l9.3 -4.7l3.9 -2.2l4.6 -2.9l7.8 -5.6l7.1 -6.2l7.6 -7.7l6.3 -7.8l6.1 -8.8l4.6 -8.3l4.0 -8.4l2.2 -5.9l1.7 -5.0l2.0 -7.7l1.5 -7.0l1.0 -8.1l0.5 -7.4l0.0 -7.0l-0.4 -7.7l-1.1 -7.8l-1.3 -7.0l-1.9 -6.9l-2.0 -6.1l-2.8 -7.1l-2.6 -5.6l-5.4 -9.9l-12.4 -19.1l-2.6 -4.9l-2.2 -5.5l-0.9 -3.1l-0.9 -4.6l-0.8 -5.4l-0.7 -10.1l-0.4 -13.2l0.1 -35.6l0.3 -15.5l0.6 -7.8l0.9 -6.2l1.8 -7.7l3.2 -10.1l0.2 -3.9l-0.2 -0.1l-58.9 -0.0l-2.3 -0.0l-0.1 0.1l0.1 3.9l2.8 8.5l2.1 8.5l0.9 6.2l0.6 6.2l0.4 10.1l0.1 14.0l-0.2 17.8l-0.5 13.2l0.1 7.7l-0.5 4.7l-1.4 4.6l-2.1 4.2l-4.4 7.4l-1.4 3.1l-0.9 2.4l-1.0 3.8l-0.6 3.9l-0.1 3.1l0.3 3.1l1.1 3.1l1.0 1.6l1.8 2.3l4.5 4.6l10.6 10.2l6.0 6.1l5.6 6.4l5.4 7.6l2.7 4.6l1.6 3.1l1.6 3.9l1.5 3.9l1.5 5.4l0.6 3.1l1.0 7.7l0.0 7.0l-0.8 7.8l-1.9 7.7l-2.5 7.0l-3.0 6.2l-4.0 6.2l-4.2 5.4l-6.3 6.2l-4.8 3.7l-4.7 3.1l-5.4 2.8l-5.4 2.3l-5.4 1.8l-6.2 1.4l-5.5 0.6l-5.4 0.3l-4.6 -0.1l-6.2 -0.7l-6.2 -1.3l-5.5 -1.7l-6.2 -2.6l-4.6 -2.4l-4.7 -2.9l-4.6 -3.5l-3.4 -3.1l-4.4 -4.5l-3.2 -4.0l-2.7 -3.9l-3.1 -5.4l-2.2 -4.7l-1.5 -3.9l-1.3 -4.6l-0.7 -3.9l-0.0 -3.9l0.5 -3.1l1.3 -3.8l1.6 -3.1l1.9 -3.1l11.0 -17.7l1.4 -1.7l-0.6 -0.9l-0.8 -0.0l-1.6 -1.7l-0.7 0.0l-0.8 -0.8l-0.8 0.0l-1.5 -1.5l-0.8 -0.0l-1.6 -1.5l-0.7 -0.1l-0.8 -0.7l-0.8 0.0l-1.5 -1.5l-1.6 -0.1l-1.7 1.8l-8.6 14.0l-10.0 15.5l-0.6 0.8l-0.8 0.3l-0.8 -0.5l-0.3 -0.6l-0.9 -3.1l-0.4 -3.1l-0.2 -4.7l0.1 -27.9l-8.3 -0.2l-9.1 0.2l-0.2 27.9l-0.4 9.3l-0.5 0.8l-0.7 0.2l-0.8 -0.2l-2.6 -2.3l-4.4 -5.5l-10.8 -14.7l-2.3 -2.3l-0.8 0.6l-0.8 -0.0l-2.3 2.2l-0.8 0.0l-2.3 2.3l-0.8 0.0l-1.5 1.6l-0.8 -0.0l-2.3 2.3l-0.8 0.0l-2.3 2.5l-0.9 0.1l0.1 0.6l1.5 1.7l1.4 2.4l3.9 5.4l11.5 15.5l2.4 3.9l2.8 6.2l6.0 16.5l3.1 7.6l3.6 7.6l4.1 7.5l3.9 6.1l4.8 6.6l4.5 5.4l4.6 4.9l7.2 6.7l3.8 3.1l4.5 3.4l8.6 5.6l9.4 5.0l9.2 3.9l4.6 1.6l4.8 1.5l9.9 2.3l10.9 1.6z" fill="#9191ff" fill-rule="evenodd"/>
<path d="M265.4 372.3l10.1 0.3l10.1 -0.5l10.0 -1.4l9.8 -2.3l8.0 -2.5l9.3 -3.7l9.3 -4.7l8.7 -5.4l8.3 -6.2l6.9 -6.2l7.1 -7.4l6.2 -7.8l5.9 -8.8l4.7 -8.5l4.1 -9.3l3.2 -9.3l2.1 -7.8l1.3 -6.9l1.0 -7.8l0.5 -7.7l-0.1 -7.0l-0.5 -7.8l-0.9 -6.9l-1.4 -7.0l-1.9 -7.0l-1.7 -5.4l-2.8 -7.0l-2.8 -6.2l-5.2 -9.6l-12.4 -19.1l-1.6 -2.7l-1.3 -2.7l-2.1 -5.4l-0.9 -3.1l-1.0 -4.7l-0.8 -6.2l-0.8 -10.0l-0.3 -14.0l0.0 -34.9l0.5 -15.5l0.6 -7.7l1.0 -6.2l1.7 -7.0l3.4 -10.1l0.2 -3.8l-0.2 -0.2l-58.9 0.0l-2.3 0.0l-0.1 0.2l0.1 3.8l2.9 8.6l2.1 7.7l0.9 5.4l0.7 7.0l0.4 9.3l0.2 13.2l-0.2 18.6l-0.5 14.7l0.2 8.5l-0.6 4.7l-1.4 4.6l-1.6 3.5l-4.5 8.2l-2.1 5.4l-0.9 3.9l-0.6 3.8l-0.0 3.1l0.3 2.4l1.0 3.1l0.9 1.5l1.8 2.3l4.9 5.5l15.5 15.4l5.4 6.3l5.5 7.7l2.7 4.7l1.6 3.1l1.7 3.8l1.4 3.9l1.3 4.7l0.9 3.8l0.9 7.8l0.1 6.2l-0.8 7.7l-1.7 7.8l-2.4 7.0l-2.9 6.2l-2.3 3.8l-2.1 3.1l-4.3 5.5l-6.2 6.2l-5.0 3.9l-4.7 3.0l-5.4 2.9l-5.4 2.3l-4.7 1.5l-6.2 1.4l-5.4 0.8l-6.2 0.4l-4.6 -0.2l-6.2 -0.7l-5.5 -1.1l-6.2 -1.9l-6.2 -2.5l-4.6 -2.4l-4.7 -3.0l-4.6 -3.5l-3.1 -2.7l-4.7 -4.8l-3.4 -4.3l-2.7 -3.9l-2.7 -4.6l-2.6 -5.4l-1.5 -3.9l-1.3 -4.7l-0.7 -3.8l0.0 -3.9l0.6 -3.1l1.3 -3.9l3.4 -6.2l11.2 -17.8l1.2 -1.6l-0.3 -0.7l-0.9 -0.2l-1.6 -1.6l-0.8 0.0l-0.7 -0.8l-0.8 0.0l-1.6 -1.6l-0.7 0.0l-1.6 -1.5l-0.8 0.0l-0.7 -0.7l-0.8 -0.0l-1.6 -1.5l-1.5 -0.1l-1.6 1.8l-5.2 8.5l-13.4 20.9l-0.7 1.0l-0.8 0.3l-0.8 -0.5l-0.4 -0.8l-0.9 -3.1l-0.5 -3.1l-0.1 -4.6l0.1 -27.9l-8.3 -0.3l-9.0 0.3l-0.1 27.9l-0.5 9.3l-0.4 0.8l-0.8 0.3l-0.8 -0.3l-2.7 -2.4l-4.4 -5.4l-10.8 -14.7l-2.2 -2.3l-0.8 0.5l-0.8 0.1l-2.3 2.2l-0.8 -0.0l-2.3 2.3l-0.8 -0.0l-1.5 1.5l-0.8 0.0l-2.3 2.4l-0.8 -0.0l-2.3 2.4l-0.9 0.2l0.1 0.5l1.6 1.8l1.4 2.3l3.9 5.4l11.5 15.5l2.8 4.7l2.4 5.4l5.9 16.0l3.1 7.6l3.8 8.2l3.9 7.0l3.9 6.2l5.1 6.9l4.5 5.5l5.2 5.4l7.6 7.0l3.9 3.1l4.7 3.4l8.5 5.4l10.1 5.1l9.7 3.9l9.7 2.9l4.6 1.1l5.4 1.0l10.1 1.2z" fill="#9696ff" fill-rule="evenodd"/>
<path d="M270.0 372.3l4.6 0.1l5.5 -0.2l5.4 -0.4l4.6 -0.5l9.3 -1.7l10.1 -2.6l4.9 -1.7l5.2 -2.0l8.5 -4.0l7.8 -4.4l8.5 -5.8l7.7 -6.2l7.0 -6.8l6.2 -6.9l6.0 -8.1l4.9 -7.7l4.8 -9.3l3.8 -9.3l2.7 -8.5l1.9 -7.7l1.2 -7.1l0.8 -6.9l0.3 -7.8l-0.1 -6.2l-0.6 -7.7l-1.0 -7.0l-1.4 -7.0l-1.7 -6.2l-2.0 -6.2l-2.5 -6.3l-2.9 -6.1l-5.0 -9.3l-12.0 -18.6l-3.0 -5.4l-2.4 -6.2l-1.0 -3.1l-1.1 -5.4l-0.8 -6.2l-0.8 -10.9l-0.3 -13.2l0.1 -34.1l0.4 -15.5l0.6 -6.9l1.1 -7.0l2.0 -7.8l3.4 -9.4l0.1 -3.7l-0.1 -0.2l-58.9 0.0l-2.5 0.2l0.1 3.7l3.4 9.4l1.8 7.0l1.1 6.2l0.7 6.2l0.4 8.5l0.1 12.4l-0.1 19.4l-0.5 14.7l0.2 9.3l-0.5 4.7l-1.1 4.3l-1.6 3.8l-4.5 8.9l-1.2 3.1l-1.0 3.1l-0.7 3.1l-0.4 3.1l-0.0 3.1l0.2 2.4l0.7 2.3l0.8 1.5l2.6 3.9l4.9 5.4l14.9 15.3l5.4 6.3l3.5 4.8l1.9 3.1l3.8 7.0l2.0 4.6l1.1 3.1l1.3 4.7l0.9 3.8l0.9 7.8l0.1 7.0l-0.9 7.7l-1.8 7.8l-2.2 6.2l-3.3 6.9l-3.9 6.2l-4.3 5.5l-6.2 6.2l-4.9 3.8l-4.2 2.8l-5.5 3.0l-5.4 2.3l-5.4 1.8l-6.2 1.5l-5.5 0.8l-6.2 0.3l-5.4 -0.2l-6.2 -0.8l-5.4 -1.2l-5.4 -1.6l-5.5 -2.2l-5.4 -2.8l-4.6 -2.9l-4.7 -3.4l-3.1 -2.8l-4.6 -4.6l-3.1 -3.9l-2.8 -3.9l-3.2 -5.4l-2.2 -4.7l-1.9 -4.6l-1.3 -4.7l-0.6 -3.8l-0.0 -3.1l0.4 -3.1l1.2 -3.9l1.5 -3.1l1.8 -3.1l11.6 -18.6l1.2 -1.6l-0.2 -0.7l-0.9 -0.2l-1.5 -1.6l-0.8 0.0l-0.8 -0.8l-0.8 0.0l-1.5 -1.6l-0.8 0.0l-1.5 -1.5l-0.8 0.0l-0.8 -0.7l-0.8 -0.0l-1.5 -1.5l-1.6 -0.0l-1.4 1.7l-5.2 8.5l-13.5 21.1l-0.8 1.0l-0.8 0.2l-0.7 -0.5l-0.6 -0.9l-0.9 -3.1l-0.4 -3.1l-0.1 -4.6l0.0 -27.9l-8.1 -0.3l-8.9 0.3l-0.2 28.6l-0.4 8.6l-0.6 0.9l-0.8 0.3l-0.7 -0.3l-2.8 -2.5l-4.4 -5.4l-10.8 -14.7l-2.2 -2.3l-0.8 0.5l-0.7 0.0l-2.4 2.3l-0.7 -0.0l-2.4 2.3l-0.7 -0.0l-1.6 1.5l-0.8 0.0l-2.3 2.4l-0.8 -0.0l-2.3 2.4l-0.9 0.2l0.1 0.5l1.7 1.8l1.4 2.3l3.9 5.4l11.0 14.8l3.4 5.4l2.4 5.4l6.0 16.3l3.6 8.5l3.7 7.8l4.0 7.1l4.5 6.8l4.8 6.4l4.7 5.4l5.9 6.0l4.1 3.9l3.8 3.1l8.6 6.3l4.7 2.9l3.9 2.2l5.0 2.6l5.1 2.3l10.0 3.7l10.9 2.9l5.4 1.1l5.4 0.8l10.1 0.8z" fill="#9b9bff" fill-rule="evenodd"/>
<path d="M262.3 371.6l10.8 0.6l10.1 -0.3l9.3 -1.1l9.3 -1.9l9.7 -2.8l9.7 -3.7l9.7 -4.8l7.7 -4.6l8.2 -5.9l6.8 -5.8l7.9 -7.9l6.2 -7.6l6.2 -8.9l4.7 -8.3l4.2 -9.1l2.0 -5.1l1.6 -5.0l2.1 -7.7l1.4 -7.0l1.1 -7.8l0.5 -7.7l-0.0 -7.0l-0.5 -7.7l-0.9 -7.0l-1.5 -7.5l-1.7 -6.5l-2.0 -6.2l-2.5 -6.4l-2.7 -6.0l-5.5 -10.0l-11.4 -17.9l-2.1 -3.4l-1.3 -2.8l-2.4 -6.2l-1.2 -3.8l-1.1 -5.5l-0.9 -6.2l-0.7 -10.0l-0.3 -14.0l0.1 -34.1l0.5 -15.5l0.7 -7.0l1.0 -6.2l2.1 -7.7l3.5 -9.5l0.0 -3.8l-58.9 -0.0l-2.4 0.1l0.1 3.7l3.5 9.5l2.1 7.7l1.0 5.5l0.6 6.2l0.4 8.5l0.2 11.6l-0.1 19.4l-0.5 15.5l0.3 9.3l-0.5 4.6l-1.1 4.7l-1.5 3.9l-4.4 9.3l-1.8 5.4l-0.7 3.1l-0.4 3.1l-0.1 3.1l0.3 2.3l0.6 2.3l0.7 1.6l1.4 2.3l1.7 2.3l4.1 4.7l12.8 13.2l4.6 5.3l4.3 5.5l3.7 5.4l3.7 7.0l1.7 3.9l1.4 3.9l2.1 7.7l0.6 3.9l0.4 4.6l0.1 7.0l-0.8 7.8l-1.9 7.7l-2.5 7.0l-3.0 6.2l-3.9 6.2l-4.3 5.5l-6.2 6.2l-4.8 3.8l-4.5 3.0l-5.4 2.9l-5.5 2.4l-4.6 1.6l-6.2 1.5l-4.7 0.7l-6.9 0.5l-5.5 -0.1l-6.2 -0.7l-6.2 -1.3l-5.4 -1.6l-5.4 -2.2l-5.4 -2.8l-4.7 -2.9l-4.6 -3.5l-3.4 -2.9l-4.5 -4.7l-3.2 -3.9l-2.7 -3.8l-2.8 -4.7l-2.7 -5.4l-1.8 -4.7l-1.3 -4.6l-0.6 -3.9l0.0 -3.9l0.9 -3.8l1.1 -3.1l2.9 -5.5l9.5 -15.0l2.1 -3.6l1.2 -1.5l-0.0 -0.8l-0.9 -0.1l-1.6 -1.6l-0.8 -0.0l-0.7 -0.8l-0.8 -0.0l-1.6 -1.6l-0.7 0.0l-1.6 -1.5l-0.8 -0.0l-0.7 -0.8l-0.8 0.0l-1.6 -1.4l-1.5 -0.0l-1.4 1.6l-5.2 8.5l-13.6 21.4l-0.7 0.9l-0.8 0.2l-0.8 -0.4l-0.6 -1.1l-0.9 -3.1l-0.4 -3.1l-0.2 -4.7l0.1 -27.9l-8.1 -0.2l-8.8 0.2l-0.2 28.7l-0.4 8.5l-0.3 0.8l-0.3 0.3l-0.8 0.2l-0.8 -0.3l-2.8 -2.5l-1.8 -2.1l-5.0 -6.5l-8.4 -11.6l-2.1 -2.1l-0.8 0.4l-0.8 0.0l-2.3 2.3l-0.8 -0.0l-2.3 2.3l-0.8 -0.0l-1.5 1.5l-0.8 0.0l-2.3 2.4l-0.8 -0.0l-2.3 2.4l-0.9 0.1l0.1 0.5l1.7 1.8l1.4 2.3l6.2 8.6l8.8 11.6l3.3 5.4l2.9 6.2l5.9 16.1l3.1 7.4l3.9 8.0l3.9 7.0l3.8 5.9l4.7 6.4l4.6 5.6l4.7 4.9l7.5 6.9l8.0 6.2l8.4 5.5l8.9 4.6l9.0 3.9l9.3 3.1l10.1 2.4l10.1 1.5z" fill="#a0a0ff" fill-rule="evenodd"/>
<path d="M265.4 371.6l10.1 0.3l10.1 -0.5l10.0 -1.4l9.9 -2.3l8.7 -2.8l9.3 -3.8l9.3 -4.8l7.8 -4.9l8.2 -6.2l6.9 -6.2l7.3 -7.7l6.1 -7.8l5.6 -8.4l4.7 -8.6l4.0 -9.3l3.2 -9.3l2.0 -7.8l1.3 -7.0l0.9 -6.9l0.4 -7.8l-0.0 -7.0l-0.5 -7.7l-1.0 -7.0l-1.4 -7.0l-1.9 -6.9l-1.7 -5.5l-2.5 -6.2l-2.9 -6.3l-5.4 -9.9l-11.6 -18.3l-3.1 -5.8l-2.4 -6.2l-1.2 -3.8l-1.3 -6.2l-0.8 -6.2l-0.7 -10.1l-0.3 -14.0l0.1 -34.1l0.5 -14.7l0.7 -7.0l1.1 -6.2l2.1 -7.7l3.7 -9.6l0.0 -3.7l-61.3 0.1l0.1 3.6l3.4 8.8l2.3 7.8l1.0 5.4l0.7 6.2l0.5 7.7l0.2 10.9l-0.1 20.1l-0.4 17.1l0.3 9.3l-0.5 5.4l-1.2 4.7l-1.6 4.1l-3.9 9.0l-1.7 5.5l-0.7 3.1l-0.3 3.1l-0.0 2.3l0.2 2.3l0.6 2.3l0.7 1.6l1.3 2.3l1.6 2.3l4.6 5.5l11.6 12.1l5.4 6.2l4.7 6.2l3.1 4.9l3.7 7.0l1.6 3.9l1.3 3.8l2.0 7.8l0.9 7.7l0.1 7.0l-0.9 7.8l-0.8 3.8l-1.2 4.7l-2.3 6.2l-3.4 7.0l-4.0 6.2l-4.4 5.4l-5.8 5.7l-4.7 3.7l-4.6 3.1l-5.4 2.9l-5.5 2.3l-5.4 1.8l-5.4 1.3l-4.7 0.8l-6.9 0.5l-5.5 -0.2l-6.2 -0.6l-6.2 -1.4l-5.4 -1.6l-6.2 -2.5l-4.6 -2.4l-4.7 -2.9l-4.6 -3.5l-3.6 -3.1l-4.6 -4.7l-3.1 -3.9l-2.7 -3.8l-3.2 -5.5l-2.3 -4.6l-1.8 -4.7l-1.3 -4.6l-0.6 -3.9l0.1 -3.9l0.9 -3.8l1.1 -3.1l2.9 -5.5l9.6 -15.2l2.0 -3.4l1.2 -1.5l0.1 -0.8l-0.9 -0.1l-1.6 -1.6l-0.8 -0.0l-0.7 -0.8l-0.8 -0.0l-1.6 -1.6l-0.7 -0.0l-1.6 -1.5l-0.8 -0.0l-0.7 -0.8l-0.8 0.0l-1.6 -1.4l-1.5 0.0l-1.3 1.6l-5.1 8.5l-13.8 21.6l-0.7 0.8l-0.8 0.2l-0.8 -0.4l-0.7 -1.2l-1.0 -3.9l-0.3 -2.3l-0.2 -4.7l0.1 -27.9l-8.0 -0.2l-8.7 0.2l-0.2 29.5l-0.4 7.7l-0.2 0.8l-0.5 0.4l-0.8 0.2l-0.8 -0.3l-2.9 -2.6l-1.7 -2.0l-5.1 -6.6l-8.4 -11.6l-2.0 -2.1l-0.8 0.4l-0.8 0.0l-2.3 2.2l-0.8 0.0l-2.3 2.3l-0.8 0.0l-1.5 1.6l-0.8 -0.0l-2.3 2.3l-0.8 0.0l-2.3 2.5l-0.9 0.1l0.1 0.4l1.8 1.9l1.3 2.1l4.0 5.7l11.1 14.7l3.3 5.4l2.9 6.2l5.8 15.5l3.3 7.8l3.7 7.7l4.4 7.8l4.1 6.3l4.7 6.3l4.4 5.2l4.9 5.1l3.8 3.7l3.9 3.4l8.5 6.4l8.6 5.3l9.3 4.7l9.7 4.0l9.6 2.8l10.1 2.2l10.1 1.2z" fill="#a6a6ff" fill-rule="evenodd"/>
<path d="M269.3 371.6l9.3 0.0l10.3 -0.8l9.9 -1.7l10.0 -2.6l9.6 -3.4l8.5 -3.9l8.3 -4.6l8.2 -5.5l7.8 -6.2l7.2 -7.0l6.3 -6.9l5.8 -7.8l5.0 -7.9l4.7 -9.1l3.8 -9.1l2.8 -8.8l1.7 -6.9l1.3 -7.0l0.8 -7.0l0.4 -7.7l-0.1 -7.0l-0.6 -7.8l-1.0 -6.9l-1.4 -7.0l-1.7 -6.2l-2.1 -6.2l-2.4 -6.1l-2.6 -5.5l-5.0 -9.3l-11.8 -18.6l-1.8 -3.1l-1.5 -3.1l-2.4 -6.2l-1.4 -4.7l-1.2 -5.4l-0.8 -6.2l-0.7 -10.1l-0.3 -13.9l0.1 -34.1l0.5 -14.8l0.7 -6.9l1.3 -7.0l2.4 -7.8l3.5 -8.8l0.0 -3.7l-61.3 0.1l0.1 3.6l3.6 8.8l2.2 7.0l1.1 5.4l0.9 7.0l0.4 7.8l0.2 10.0l-0.0 20.2l-0.5 17.8l0.4 9.3l-0.4 5.4l-1.1 4.7l-1.3 4.0l-4.2 9.9l-1.6 5.5l-0.8 5.4l-0.0 2.3l0.2 2.3l0.6 2.4l1.0 2.3l1.3 2.3l1.7 2.3l4.5 5.5l10.4 11.1l5.8 6.7l4.7 6.2l2.9 4.6l3.3 6.2l1.7 3.9l1.4 3.9l1.3 4.6l0.9 3.9l0.9 7.8l0.1 6.9l-0.9 7.8l-1.8 7.7l-2.2 6.2l-2.9 6.2l-2.2 3.9l-2.0 3.1l-4.8 6.0l-6.2 6.2l-4.6 3.6l-4.7 3.1l-5.4 2.9l-5.4 2.4l-5.4 1.7l-6.2 1.5l-4.7 0.7l-6.2 0.4l-5.4 -0.2l-6.2 -0.6l-5.5 -1.2l-6.2 -1.8l-6.2 -2.5l-4.6 -2.4l-4.7 -2.9l-4.6 -3.4l-3.8 -3.4l-4.6 -4.7l-3.1 -3.8l-2.7 -3.9l-3.2 -5.4l-2.2 -4.7l-1.9 -4.6l-1.2 -4.7l-0.6 -3.9l0.1 -3.8l0.6 -3.1l1.4 -3.9l2.9 -5.4l9.8 -15.5l1.8 -3.1l1.3 -1.7l0.1 -0.7l-0.9 -0.1l-1.6 -1.6l-0.7 -0.0l-0.8 -0.8l-0.8 -0.0l-1.5 -1.6l-0.8 0.0l-1.6 -1.5l-0.7 -0.0l-0.8 -0.8l-0.8 0.1l-1.5 -1.5l-1.5 0.1l-1.2 1.5l-1.3 2.4l-16.8 26.3l-0.8 1.6l-0.9 0.8l-0.8 0.2l-0.8 -0.4l-0.8 -1.4l-0.8 -3.1l-0.5 -3.1l-0.1 -4.7l0.0 -27.9l-7.8 -0.2l-8.6 0.2l-0.3 29.5l-0.3 7.7l-0.3 0.8l-0.6 0.6l-0.8 0.1l-0.8 -0.3l-2.9 -2.7l-1.7 -1.9l-5.2 -6.6l-8.3 -11.7l-2.0 -2.0l-0.8 0.3l-0.8 0.0l-2.3 2.3l-0.7 -0.0l-2.4 2.3l-0.8 -0.0l-1.5 1.5l-0.8 0.0l-2.3 2.4l-0.8 -0.0l-2.3 2.4l-0.9 0.1l0.1 0.4l1.9 2.0l1.2 1.9l6.2 8.6l9.0 11.9l2.9 4.7l3.1 6.2l6.7 17.6l3.1 7.2l3.9 7.9l3.9 6.8l4.6 7.0l4.7 6.2l4.6 5.4l5.5 5.5l3.8 3.6l3.9 3.2l8.6 6.3l4.6 2.9l4.5 2.5l9.6 4.7l9.9 3.7l10.9 3.0l10.0 1.7l4.7 0.6l5.4 0.3z" fill="#ababff" fill-rule="evenodd"/>
<path d="M262.3 370.8l10.8 0.6l10.1 -0.3l9.3 -1.1l9.3 -1.9l9.7 -2.8l9.7 -3.8l9.3 -4.5l8.0 -4.9l8.3 -5.9l6.9 -6.1l7.8 -7.9l6.2 -7.6l6.0 -8.9l4.7 -8.5l4.0 -8.9l2.0 -5.1l1.5 -4.6l2.0 -7.8l1.4 -6.9l1.0 -7.8l0.4 -7.0l0.0 -6.9l-0.5 -7.8l-0.9 -7.0l-1.5 -7.3l-1.7 -6.6l-2.0 -6.2l-2.4 -6.2l-2.5 -5.4l-5.3 -9.9l-11.6 -18.4l-2.0 -3.5l-1.5 -3.1l-2.4 -6.2l-1.5 -4.7l-1.3 -6.2l-0.9 -6.9l-0.7 -10.9l-0.2 -14.7l0.1 -31.8l0.6 -14.7l0.8 -7.0l1.0 -5.4l1.3 -4.7l1.1 -3.1l4.0 -9.7l0.0 -3.5l-61.3 0.1l0.1 3.4l2.9 6.6l2.0 5.5l1.5 5.4l0.9 4.6l0.7 5.5l0.4 6.2l0.4 17.8l-0.1 16.3l-0.4 15.5l0.4 10.0l-0.3 4.7l-0.5 3.1l-1.0 3.9l-4.7 12.4l-1.6 5.4l-0.6 3.1l-0.3 3.1l0.1 2.3l0.3 2.3l0.7 2.4l1.0 2.3l3.1 4.6l3.8 4.7l10.7 11.7l5.4 6.3l4.4 6.0l3.4 5.4l3.6 7.0l2.6 7.0l1.9 7.7l1.0 7.8l0.0 7.0l-0.8 7.7l-1.8 7.8l-2.5 6.9l-3.4 7.0l-4.0 6.2l-4.4 5.5l-6.2 6.1l-4.7 3.7l-4.6 3.0l-5.4 2.9l-5.5 2.4l-4.6 1.5l-6.2 1.6l-5.4 0.8l-6.2 0.4l-5.5 -0.1l-6.2 -0.7l-5.4 -1.1l-5.4 -1.6l-5.4 -2.1l-5.5 -2.6l-4.6 -2.8l-5.4 -4.0l-3.3 -2.8l-4.6 -4.7l-3.2 -3.8l-3.3 -4.7l-3.2 -5.4l-2.3 -4.7l-1.8 -4.6l-1.3 -4.7l-0.5 -3.8l0.1 -3.9l0.7 -3.1l1.4 -3.9l2.9 -5.4l9.8 -15.6l1.7 -3.0l1.4 -1.7l0.1 -0.6l-0.8 -0.1l-1.6 -1.7l-0.8 0.0l-0.7 -0.8l-0.8 0.0l-1.6 -1.5l-0.7 -0.0l-1.6 -1.6l-0.8 0.0l-0.7 -0.7l-0.8 0.0l-1.6 -1.4l-1.3 0.0l-1.2 1.6l-5.2 8.5l-12.4 19.4l-1.3 2.3l-1.0 1.0l-0.8 0.2l-0.8 -0.4l-0.6 -0.8l-1.2 -3.9l-0.3 -2.3l-0.2 -4.7l-0.0 -28.6l-7.8 -0.2l-8.5 0.2l-0.1 24.0l-0.5 13.2l-0.2 0.7l-0.7 0.7l-0.8 0.1l-0.8 -0.3l-3.0 -2.8l-2.1 -2.3l-5.9 -7.8l-7.2 -10.0l-1.9 -2.0l-0.8 0.3l-0.8 -0.0l-2.3 2.2l-0.8 0.0l-2.3 2.3l-0.8 0.0l-1.5 1.6l-0.8 -0.0l-2.3 2.3l-0.8 0.0l-2.3 2.5l-0.9 0.1l0.1 0.3l1.9 2.0l7.7 10.8l8.8 11.7l2.9 4.6l3.1 6.2l6.6 17.0l3.1 7.3l3.9 7.9l3.9 6.9l3.8 5.9l4.7 6.4l3.9 4.6l4.9 5.2l7.4 7.0l7.8 6.0l8.5 5.6l8.9 4.7l9.0 3.9l9.3 3.1l10.0 2.4l10.1 1.5z" fill="#b0b0ff" fill-rule="evenodd"/>
<path d="M264.6 370.8l10.1 0.4l10.0 -0.5l9.3 -1.2l9.3 -2.0l9.3 -2.8l9.3 -3.7l9.3 -4.7l8.0 -4.9l7.5 -5.5l7.1 -6.1l7.7 -7.9l6.1 -7.6l5.8 -8.5l4.7 -8.6l4.2 -9.3l3.3 -9.3l2.0 -7.7l1.4 -7.0l1.0 -7.7l0.4 -7.0l0.0 -7.0l-0.5 -7.7l-0.9 -7.0l-1.3 -7.0l-1.9 -7.0l-1.9 -5.7l-2.3 -6.0l-2.8 -6.1l-4.9 -9.3l-11.7 -18.5l-2.2 -4.0l-1.4 -3.1l-2.8 -6.9l-1.2 -3.9l-1.3 -6.2l-0.9 -7.0l-0.7 -10.8l-0.3 -14.0l0.2 -32.5l0.6 -14.8l0.8 -6.9l1.2 -6.2l2.2 -7.0l4.3 -9.8l-0.0 -3.5l-61.3 0.1l0.1 3.4l2.6 5.9l2.5 6.2l1.4 4.7l1.0 4.6l0.6 4.7l0.6 6.2l0.4 14.7l-0.1 18.6l-0.4 17.8l0.5 10.1l-0.2 4.6l-0.6 3.9l-1.0 3.9l-4.5 12.4l-1.5 5.4l-0.7 5.4l-0.0 2.4l0.3 2.3l0.7 2.3l0.9 2.3l1.4 2.4l2.1 3.1l3.8 4.6l9.5 10.6l6.2 7.2l4.4 6.2l2.9 4.7l3.5 7.0l2.6 6.9l2.0 7.8l0.9 7.7l0.0 7.0l-0.8 7.8l-1.8 7.7l-2.5 7.0l-3.4 7.0l-3.9 6.2l-4.6 5.7l-6.2 6.1l-4.7 3.6l-4.6 3.1l-5.5 2.9l-5.4 2.3l-5.4 1.8l-6.2 1.4l-5.4 0.8l-6.2 0.3l-5.5 -0.2l-5.4 -0.6l-6.2 -1.3l-5.4 -1.6l-5.4 -2.2l-5.5 -2.7l-4.6 -2.9l-4.7 -3.4l-3.5 -3.1l-4.6 -4.6l-3.2 -3.9l-3.3 -4.6l-2.7 -4.7l-2.7 -5.4l-1.8 -4.7l-1.3 -4.6l-0.5 -3.9l0.1 -3.9l0.7 -3.1l1.4 -3.8l3.4 -6.2l9.5 -15.1l1.6 -2.8l1.5 -1.7l0.1 -0.6l-0.9 -0.1l-1.5 -1.6l-0.8 -0.0l-0.8 -0.8l-0.7 -0.0l-1.6 -1.6l-0.8 0.0l-1.5 -1.5l-0.8 -0.0l-0.8 -0.8l-0.7 0.1l-1.6 -1.5l-1.2 0.1l-1.2 1.5l-5.2 8.5l-12.4 19.4l-1.3 2.3l-0.4 0.6l-0.8 0.6l-0.7 0.1l-0.8 -0.3l-0.7 -1.0l-1.2 -3.8l-0.3 -2.4l-0.3 -4.6l0.1 -28.7l-7.7 -0.2l-8.4 0.2l-0.2 24.0l-0.4 13.2l-0.3 1.0l-0.8 0.6l-0.7 0.1l-0.8 -0.4l-3.1 -2.8l-2.1 -2.4l-6.0 -7.7l-7.1 -10.1l-1.9 -1.9l-0.7 0.2l-0.8 0.0l-2.3 2.3l-0.8 -0.0l-2.3 2.3l-0.8 -0.0l-1.6 1.5l-0.7 0.0l-2.4 2.4l-0.7 -0.0l-2.4 2.4l-0.8 0.1l0.1 0.3l2.0 2.0l7.7 10.9l8.8 11.6l3.4 5.4l3.3 7.0l5.8 14.9l3.8 9.0l3.9 7.7l3.7 6.4l4.1 6.2l4.6 6.2l4.0 4.6l5.2 5.5l7.6 6.9l8.3 6.2l8.2 5.3l9.3 4.7l9.8 4.0l8.8 2.7l10.1 2.2l10.1 1.3z" fill="#b5b5ff" fill-rule="evenodd"/>
<path d="M268.5 370.8l9.3 0.1l10.1 -0.7l10.0 -1.7l9.4 -2.4l9.1 -3.1l8.8 -3.8l8.6 -4.7l8.3 -5.4l7.8 -6.1l6.9 -6.6l6.2 -6.7l6.2 -8.1l5.3 -8.2l4.5 -8.5l4.0 -9.3l2.8 -8.5l1.9 -7.8l1.2 -6.2l0.9 -6.9l0.4 -7.8l-0.0 -7.0l-0.6 -7.7l-0.9 -7.0l-1.5 -7.0l-1.7 -6.3l-2.0 -6.1l-2.4 -6.2l-2.5 -5.4l-5.0 -9.3l-11.3 -18.1l-2.1 -3.6l-1.5 -3.1l-3.1 -7.7l-1.4 -4.7l-1.3 -6.2l-0.9 -7.0l-0.7 -10.8l-0.2 -14.7l0.2 -31.0l0.5 -14.8l0.9 -6.9l1.3 -6.2l1.1 -3.9l1.5 -3.9l4.1 -9.1l0.0 -3.4l-61.3 0.1l0.1 3.3l2.8 6.0l2.2 5.4l1.6 4.7l0.9 3.9l0.8 4.6l0.6 5.4l0.5 14.0l0.0 19.4l-0.4 19.3l0.5 10.9l-0.1 4.6l-0.6 3.9l-0.9 3.9l-4.3 12.4l-1.5 5.4l-0.7 5.4l0.0 2.4l0.3 2.3l0.6 2.3l1.0 2.3l1.2 2.4l2.1 3.1l3.6 4.6l9.9 11.2l5.5 6.5l4.6 6.3l3.2 5.5l3.4 6.9l2.3 6.2l2.0 7.8l0.9 7.7l0.1 7.0l-0.9 7.8l-1.8 7.7l-2.4 7.0l-3.4 7.0l-3.9 6.2l-4.9 6.0l-6.2 6.1l-4.7 3.6l-4.6 3.0l-5.4 2.9l-6.2 2.6l-5.5 1.7l-6.2 1.3l-5.4 0.7l-5.4 0.3l-4.7 -0.1l-6.2 -0.7l-6.2 -1.3l-5.4 -1.6l-5.4 -2.2l-5.4 -2.7l-4.7 -2.8l-5.4 -4.1l-3.8 -3.4l-4.0 -4.1l-3.6 -4.5l-2.7 -3.8l-3.1 -5.5l-2.3 -4.6l-1.8 -4.7l-1.2 -4.6l-0.6 -3.9l0.2 -3.9l0.7 -3.1l1.4 -3.8l3.4 -6.2l9.3 -14.8l1.8 -3.1l1.6 -1.8l0.1 -0.5l-0.8 -0.0l-1.6 -1.7l-0.8 0.0l-0.7 -0.8l-0.8 -0.0l-1.6 -1.6l-0.7 0.0l-1.6 -1.5l-0.8 0.0l-0.7 -0.7l-0.8 -0.0l-1.6 -1.5l-1.0 0.1l-1.3 1.5l-5.2 8.5l-12.4 19.4l-1.2 2.3l-0.6 0.8l-0.7 0.6l-0.8 0.1l-0.8 -0.3l-0.8 -1.2l-1.1 -3.8l-0.5 -3.1l-0.2 -4.7l0.1 -27.9l-7.6 -0.2l-8.2 0.2l-0.2 23.3l-0.4 13.9l-0.5 1.2l-0.7 0.5l-0.8 0.1l-0.8 -0.4l-3.2 -2.9l-2.1 -2.4l-5.9 -7.7l-7.2 -10.1l-1.7 -1.9l-1.6 0.3l-2.3 2.2l-0.8 -0.0l-2.3 2.3l-0.8 -0.0l-1.5 1.5l-0.8 0.0l-2.3 2.4l-0.8 -0.0l-2.3 2.4l-0.8 0.1l2.1 2.3l7.7 10.9l8.3 10.8l3.9 6.2l3.4 7.0l6.4 16.2l3.1 7.1l3.8 7.8l4.0 6.9l4.6 6.8l4.6 6.2l4.7 5.3l5.4 5.5l3.9 3.6l3.8 3.2l8.6 6.2l8.5 5.0l9.6 4.7l9.8 3.7l10.0 2.8l10.1 1.9l4.7 0.5l5.4 0.4z" fill="#bbbbff" fill-rule="evenodd"/>
<path d="M262.3 370.1l10.1 0.6l10.0 -0.3l10.1 -1.1l9.3 -1.9l9.3 -2.7l9.3 -3.6l4.7 -2.1l5.4 -2.8l7.7 -4.7l7.8 -5.6l7.0 -6.1l7.7 -7.8l6.2 -7.6l5.9 -8.6l4.8 -8.5l4.1 -9.0l1.8 -5.0l1.6 -4.6l2.0 -7.8l1.4 -7.0l0.9 -6.9l0.5 -7.8l0.0 -7.0l-0.4 -7.7l-1.0 -7.0l-1.4 -7.0l-1.6 -6.2l-2.0 -6.2l-2.4 -6.2l-2.6 -5.6l-3.0 -6.0l-2.7 -4.6l-11.5 -18.6l-1.7 -3.1l-1.4 -3.1l-2.8 -7.0l-1.4 -4.7l-1.4 -6.2l-1.0 -7.7l-0.6 -10.9l-0.2 -15.5l0.1 -31.0l0.3 -7.7l0.4 -6.2l0.9 -7.0l1.4 -6.2l2.5 -7.0l4.3 -9.1l0.0 -3.3l-61.3 0.0l0.1 3.3l3.3 6.8l1.7 3.9l1.6 4.6l1.2 4.7l0.8 4.6l0.5 4.7l0.6 12.4l0.1 20.1l-0.4 21.0l0.5 10.8l-0.1 4.7l-0.4 3.8l-0.9 3.9l-4.3 13.2l-1.4 5.4l-0.6 5.4l0.1 2.4l0.4 2.3l0.6 2.3l1.0 2.3l1.3 2.4l2.1 3.1l3.6 4.6l8.8 10.1l5.8 7.0l4.5 6.2l3.2 5.4l3.4 7.0l2.3 6.2l1.9 7.7l1.0 7.8l0.0 6.9l-0.4 4.7l-0.5 3.9l-1.9 7.7l-2.6 7.0l-3.5 7.0l-4.0 6.2l-4.4 5.4l-6.3 6.1l-4.7 3.6l-4.6 3.0l-5.4 2.9l-6.2 2.6l-5.5 1.7l-6.2 1.3l-5.4 0.7l-5.4 0.3l-5.4 -0.2l-6.2 -0.7l-6.2 -1.4l-5.5 -1.7l-5.4 -2.2l-5.4 -2.8l-4.7 -2.9l-4.6 -3.5l-3.3 -2.9l-4.5 -4.7l-3.2 -3.9l-3.3 -4.6l-3.1 -5.4l-2.3 -4.7l-1.8 -4.6l-1.3 -4.7l-0.5 -3.9l0.2 -3.8l1.0 -3.9l1.6 -3.9l3.0 -5.4l9.3 -14.7l1.8 -3.1l1.7 -1.9l0.1 -0.5l-0.8 -0.0l-1.6 -1.7l-0.8 0.0l-0.7 -0.8l-0.8 0.0l-1.6 -1.5l-0.7 -0.0l-1.6 -1.6l-0.8 0.0l-0.7 -0.7l-0.8 -0.0l-1.6 -1.4l-0.9 -0.0l-1.4 1.7l-5.1 8.4l-11.8 18.6l-2.2 3.8l-1.0 0.8l-0.8 0.1l-0.8 -0.3l-1.0 -1.3l-1.0 -3.9l-0.5 -3.1l-0.2 -4.7l0.1 -27.9l-7.5 -0.2l-8.1 0.2l-0.2 23.3l-0.4 13.9l-0.2 0.8l-0.4 0.6l-0.7 0.5l-0.8 -0.0l-0.8 -0.4l-3.3 -3.0l-2.1 -2.3l-5.9 -7.8l-6.5 -8.9l-0.6 -1.2l-1.7 -1.8l-1.6 0.2l-2.3 2.2l-0.8 -0.0l-2.3 2.3l-0.8 -0.0l-1.5 1.5l-0.8 0.0l-2.3 2.4l-0.8 0.0l-2.3 2.5l-0.8 0.0l2.1 2.4l7.8 10.8l8.3 10.9l3.9 6.2l2.1 3.8l1.7 3.9l5.9 14.8l3.3 7.7l3.6 7.3l4.3 7.4l4.1 6.2l4.1 5.4l3.9 4.7l5.1 5.4l7.2 6.7l7.8 5.9l8.0 5.2l9.0 4.8l8.6 3.8l9.3 3.1l10.0 2.4l10.1 1.5z" fill="#c0c0ff" fill-rule="evenodd"/>
<path d="M264.6 370.0l10.1 0.4l10.0 -0.5l9.3 -1.2l9.3 -2.0l9.3 -2.9l9.3 -3.7l9.3 -4.7l7.8 -4.8l7.7 -5.7l7.0 -6.2l7.3 -7.5l6.2 -7.7l5.8 -8.5l4.6 -8.6l4.2 -9.3l3.2 -9.3l2.0 -7.7l1.2 -6.2l1.0 -7.8l0.5 -6.9l-0.0 -7.0l-0.5 -7.8l-1.0 -6.9l-1.4 -7.0l-1.6 -6.2l-2.0 -6.2l-2.4 -6.1l-2.5 -5.5l-4.9 -9.3l-11.5 -18.6l-2.2 -3.9l-1.4 -3.1l-3.4 -8.5l-1.4 -4.7l-1.3 -6.2l-0.9 -7.0l-0.7 -10.8l-0.2 -15.5l0.1 -30.2l0.3 -8.6l0.4 -6.2l0.8 -6.2l1.3 -6.2l2.5 -6.9l4.9 -10.1l-0.0 -3.2l-61.3 0.1l0.1 3.1l3.5 7.0l1.7 3.8l1.4 3.9l1.3 4.7l0.9 4.6l0.6 4.7l0.6 11.6l0.1 19.4l-0.3 23.2l0.5 10.9l-0.0 4.6l-0.4 3.9l-1.0 4.6l-3.9 12.4l-1.4 5.5l-0.6 5.4l0.0 2.3l0.4 2.3l0.6 2.4l0.9 2.3l1.3 2.3l2.0 3.1l3.5 4.7l8.4 9.7l6.2 7.6l4.2 5.9l3.7 6.2l3.3 7.0l2.2 6.2l1.7 7.0l0.9 7.7l0.1 7.0l-0.8 7.7l-1.8 7.8l-2.5 7.0l-3.3 6.9l-3.9 6.2l-4.6 5.7l-6.2 6.2l-5.4 4.3l-4.6 3.0l-5.5 2.8l-5.4 2.4l-4.6 1.5l-6.2 1.5l-5.5 0.8l-6.2 0.4l-5.4 -0.1l-6.2 -0.7l-5.4 -1.1l-5.4 -1.5l-5.5 -2.1l-5.4 -2.6l-5.4 -3.2l-4.7 -3.4l-3.8 -3.4l-4.7 -4.7l-3.5 -4.2l-2.7 -3.9l-3.3 -5.4l-2.6 -5.4l-1.8 -4.7l-1.3 -4.6l-0.5 -3.9l0.2 -3.9l1.1 -3.9l1.5 -3.8l2.6 -4.7l11.6 -18.6l1.8 -2.0l0.1 -0.3l-0.9 -0.1l-1.5 -1.6l-0.8 -0.0l-0.8 -0.8l-0.7 -0.0l-1.6 -1.6l-0.8 0.0l-1.5 -1.5l-0.8 -0.0l-0.8 -0.8l-0.7 0.0l-1.6 -1.4l-0.8 0.0l-1.5 2.0l-16.3 25.8l-2.7 4.8l-1.2 0.9l-0.7 0.1l-0.8 -0.3l-0.8 -0.8l-0.3 -0.7l-0.9 -3.1l-0.5 -3.1l-0.3 -4.6l0.1 -28.7l-7.4 -0.2l-8.1 0.2l-0.1 22.5l-0.4 14.7l-0.2 0.8l-0.5 0.7l-0.8 0.4l-0.7 0.0l-0.8 -0.4l-3.4 -3.1l-1.4 -1.5l-6.6 -8.5l-6.4 -8.9l-0.7 -1.2l-1.7 -1.8l-1.5 0.1l-2.3 2.2l-0.8 0.0l-2.3 2.3l-0.8 0.0l-1.6 1.6l-0.7 -0.0l-2.4 2.3l-0.7 0.1l-2.4 2.4l-0.7 0.1l2.2 2.3l7.8 10.9l8.3 10.8l3.9 6.2l2.1 3.9l1.8 3.9l5.9 14.7l3.6 8.3l3.9 7.6l3.9 6.7l4.0 6.1l4.5 5.9l4.2 4.9l5.1 5.3l7.0 6.3l3.9 3.1l4.6 3.4l8.3 5.2l9.1 4.6l9.5 3.9l9.5 2.9l9.3 2.0l10.1 1.3z" fill="#c5c5ff" fill-rule="evenodd"/>
<path d="M268.5 370.0l9.3 0.1l10.1 -0.7l10.0 -1.7l9.3 -2.4l9.1 -3.1l8.8 -3.9l8.5 -4.6l8.3 -5.4l7.2 -5.7l7.2 -6.7l6.4 -7.0l5.9 -7.7l5.3 -8.3l4.6 -8.8l3.9 -9.2l2.8 -8.6l1.9 -7.6l1.1 -6.4l0.9 -6.9l0.4 -7.8l-0.1 -7.0l-0.6 -6.9l-0.9 -7.0l-1.5 -7.0l-1.6 -6.1l-1.8 -5.5l-2.5 -6.2l-2.7 -6.0l-5.4 -10.0l-11.2 -18.1l-3.1 -6.2l-3.1 -7.8l-1.5 -4.6l-1.6 -7.0l-1.0 -7.0l-0.7 -10.8l-0.2 -16.3l0.2 -31.0l0.3 -7.7l0.4 -6.2l0.9 -6.2l1.5 -6.2l2.3 -6.2l5.1 -10.1l0.0 -3.2l-61.2 0.1l0.0 3.1l5.1 10.1l1.6 3.8l1.4 4.7l0.8 3.9l0.7 4.6l0.8 11.6l0.1 19.4l-0.3 24.8l0.6 10.9l-0.0 5.4l-0.5 3.9l-0.8 3.8l-4.0 13.2l-1.3 5.4l-0.5 4.7l0.1 2.3l0.3 2.3l0.6 2.4l0.9 2.3l1.2 2.3l1.9 3.1l4.1 5.4l8.1 9.6l6.1 7.5l4.3 6.2l3.1 5.4l3.3 7.0l2.2 6.2l1.7 7.0l0.9 7.7l0.1 7.0l-0.8 7.7l-1.8 7.8l-2.4 7.0l-3.4 6.9l-4.0 6.4l-4.6 5.8l-6.2 6.2l-4.7 3.7l-4.6 3.0l-5.5 3.0l-6.2 2.7l-4.6 1.5l-6.2 1.5l-5.4 0.8l-6.2 0.4l-5.5 -0.1l-6.2 -0.7l-6.2 -1.3l-5.4 -1.6l-6.2 -2.5l-5.4 -2.8l-4.7 -2.8l-4.6 -3.5l-3.8 -3.4l-4.5 -4.6l-3.2 -3.9l-2.7 -3.9l-3.3 -5.4l-2.3 -4.7l-2.1 -5.4l-1.3 -4.6l-0.5 -3.9l0.1 -3.1l0.7 -3.1l1.8 -4.7l2.9 -5.4l11.6 -18.6l1.9 -2.0l0.1 -0.3l-0.8 -0.0l-1.6 -1.7l-0.8 -0.0l-0.7 -0.8l-0.8 -0.0l-1.6 -1.6l-0.7 0.0l-1.6 -1.5l-0.8 -0.0l-0.7 -0.7l-0.8 -0.0l-1.6 -1.5l-0.2 0.0l-2.1 2.3l-16.2 25.6l-2.6 4.7l-0.6 0.7l-0.7 0.4l-0.8 0.1l-0.8 -0.3l-0.8 -0.9l-0.4 -0.8l-0.8 -3.1l-0.6 -3.1l-0.3 -4.6l0.1 -28.7l-7.3 -0.2l-7.9 0.2l-0.2 22.5l-0.5 12.4l0.1 2.3l-0.1 0.8l-0.7 0.9l-0.7 0.4l-0.8 -0.1l-0.8 -0.3l-3.5 -3.3l-1.4 -1.5l-6.6 -8.5l-6.3 -8.7l-0.8 -1.4l-1.5 -1.7l-1.6 0.1l-2.3 2.2l-0.8 -0.0l-2.3 2.3l-0.8 -0.0l-1.5 1.5l-0.8 0.0l-2.3 2.4l-0.8 -0.0l-2.3 2.4l-0.8 0.1l2.3 2.3l7.8 10.8l8.3 10.9l4.0 6.2l3.6 7.0l6.5 16.2l3.1 7.0l4.0 7.8l4.5 7.7l4.2 6.2l4.4 5.8l4.5 5.1l5.6 5.6l3.8 3.6l3.9 3.2l8.5 6.1l8.0 4.7l9.9 4.8l9.3 3.6l10.0 2.8l10.1 1.9l10.1 0.9z" fill="#cacaff" fill-rule="evenodd"/>
<path d="M262.3 369.3l10.1 0.6l10.0 -0.3l9.3 -1.0l9.3 -1.9l10.1 -2.8l8.5 -3.3l9.4 -4.5l8.5 -5.1l8.0 -5.8l6.7 -5.7l7.7 -7.8l6.2 -7.6l5.8 -8.3l4.8 -8.6l4.2 -9.1l3.4 -9.5l2.0 -7.6l1.4 -7.1l1.0 -7.0l0.5 -7.7l-0.0 -7.0l-0.5 -7.7l-1.0 -7.0l-1.4 -7.0l-1.6 -6.2l-2.0 -6.2l-2.5 -6.2l-2.4 -5.3l-5.5 -10.2l-11.4 -18.6l-3.1 -6.2l-3.4 -8.5l-1.6 -5.4l-1.5 -7.0l-0.9 -7.0l-0.6 -11.6l-0.1 -17.1l0.2 -27.9l0.2 -7.7l0.5 -6.2l1.0 -7.0l1.6 -6.2l2.5 -6.2l5.0 -9.5l0.0 -2.9l-61.2 0.0l0.0 2.9l5.7 11.1l1.6 3.8l0.9 3.1l0.9 3.9l0.8 4.7l0.8 10.8l0.2 18.6l-0.3 26.4l0.7 12.4l-0.1 4.6l-0.4 3.9l-0.9 4.6l-3.8 13.2l-1.1 4.7l-0.5 5.4l0.1 2.3l0.4 2.3l0.6 2.4l1.0 2.3l1.2 2.3l1.9 3.1l4.1 5.4l12.8 15.5l4.4 6.2l3.6 6.2l3.3 7.0l2.2 6.2l1.7 7.0l0.9 7.7l0.1 7.0l-0.8 7.8l-1.8 7.7l-2.4 7.0l-3.4 7.0l-2.3 3.8l-2.1 3.1l-4.4 5.5l-6.2 6.1l-4.7 3.7l-4.6 3.1l-5.4 2.9l-5.5 2.4l-5.4 1.8l-6.2 1.5l-5.4 0.8l-6.2 0.4l-5.5 -0.1l-6.2 -0.7l-6.2 -1.3l-5.4 -1.6l-5.4 -2.1l-5.4 -2.7l-4.7 -2.8l-5.4 -3.9l-3.9 -3.5l-4.0 -4.0l-3.2 -3.9l-3.4 -4.7l-3.2 -5.4l-2.6 -5.4l-1.8 -4.7l-1.3 -4.6l-0.5 -3.9l0.1 -3.1l0.8 -3.1l1.8 -4.6l2.9 -5.5l11.6 -18.6l2.1 -2.3l-0.8 -0.0l-1.6 -1.7l-0.8 0.0l-0.7 -0.8l-0.8 0.0l-1.6 -1.5l-0.7 -0.0l-1.6 -1.6l-0.8 0.0l-0.7 -0.7l-0.8 -0.0l-1.6 -1.4l-2.2 2.3l-15.7 24.8l-1.9 3.1l-1.1 2.3l-0.8 0.9l-0.7 0.4l-0.8 0.1l-0.8 -0.3l-1.0 -1.1l-1.1 -3.9l-0.6 -3.1l-0.3 -4.6l0.1 -28.7l-7.2 -0.2l-7.8 0.2l-0.2 22.5l-0.5 12.4l0.1 2.3l-0.1 0.8l-0.8 1.1l-0.7 0.3l-0.8 -0.0l-0.8 -0.4l-5.0 -4.9l-5.5 -7.0l-7.3 -10.1l-0.9 -1.5l-1.4 -1.6l-1.6 -0.0l-2.3 2.2l-0.8 -0.0l-2.3 2.3l-0.8 -0.0l-1.5 1.5l-0.8 0.0l-2.3 2.4l-0.8 0.0l-2.3 2.5l-0.8 0.0l2.9 3.1l7.2 9.9l9.0 11.8l2.5 3.9l2.7 4.6l1.9 3.9l6.4 15.7l3.1 7.0l3.1 6.3l3.1 5.6l4.0 6.5l5.0 7.0l4.5 5.4l5.1 5.4l6.9 6.4l7.8 6.1l8.2 5.3l8.8 4.8l8.8 3.8l9.2 3.1l9.9 2.4l10.1 1.5z" fill="#d0d0ff" fill-rule="evenodd"/>
<path d="M264.6 369.2l10.1 0.4l10.0 -0.5l9.3 -1.2l9.3 -2.1l9.3 -2.8l8.6 -3.4l9.3 -4.7l8.2 -5.1l8.0 -5.9l7.0 -6.3l7.0 -7.2l6.1 -7.7l5.5 -8.2l4.7 -8.5l4.0 -8.9l3.2 -9.3l2.0 -7.7l1.2 -6.2l1.0 -7.8l0.5 -7.0l-0.0 -6.9l-0.5 -7.8l-1.0 -7.0l-1.4 -6.9l-1.6 -6.2l-2.0 -6.1l-2.2 -5.6l-2.5 -5.4l-5.4 -10.2l-11.6 -19.1l-3.1 -6.3l-3.4 -8.6l-1.7 -5.4l-1.5 -7.0l-0.9 -6.9l-0.7 -12.4l-0.1 -18.6l0.2 -27.2l0.3 -6.9l0.5 -6.2l0.9 -6.2l1.4 -5.5l2.5 -6.2l5.6 -10.5l-0.0 -2.7l-61.3 0.1l0.1 2.6l6.0 11.3l1.6 3.9l1.2 3.9l0.8 3.8l0.6 3.9l0.8 10.1l0.3 17.8l-0.4 27.9l0.8 12.4l0.0 4.7l-0.3 3.8l-0.9 4.7l-3.7 13.2l-1.2 5.4l-0.4 4.6l0.1 2.4l0.3 2.3l0.7 2.3l0.9 2.3l1.1 2.4l1.9 3.1l4.0 5.4l13.2 16.3l4.2 6.2l3.6 6.2l3.2 6.9l2.1 6.2l1.6 7.0l0.8 7.0l0.0 7.0l-0.3 4.6l-0.6 3.9l-1.8 7.7l-2.6 7.0l-3.4 7.0l-4.0 6.2l-4.7 5.7l-6.2 6.1l-4.6 3.7l-4.7 3.0l-5.4 3.0l-5.4 2.3l-5.4 1.9l-6.2 1.4l-5.5 0.8l-6.2 0.5l-5.4 -0.2l-6.2 -0.6l-5.4 -1.1l-6.2 -1.8l-5.4 -2.2l-5.5 -2.6l-5.4 -3.3l-4.6 -3.5l-3.9 -3.4l-4.3 -4.3l-3.2 -3.9l-3.3 -4.6l-3.2 -5.4l-2.7 -5.5l-1.8 -4.6l-1.2 -4.7l-0.5 -3.8l0.1 -3.1l0.8 -3.1l1.8 -4.7l3.4 -6.2l11.2 -17.8l2.1 -2.3l-0.8 -0.1l-1.5 -1.6l-0.8 -0.0l-0.8 -0.8l-0.7 -0.0l-1.6 -1.6l-0.8 0.0l-1.5 -1.5l-0.8 -0.0l-0.8 -0.8l-0.7 0.1l-1.6 -1.3l-2.1 2.1l-15.7 24.8l-1.8 3.1l-1.3 2.7l-0.8 0.8l-0.8 0.4l-0.7 0.0l-0.8 -0.3l-1.2 -1.2l-0.5 -1.6l-1.1 -5.4l-0.3 -4.7l0.0 -28.6l-7.0 -0.2l-7.8 0.2l-0.2 23.2l-0.4 11.6l0.1 2.4l-0.2 1.0l-0.8 1.0l-0.8 0.3l-0.7 -0.1l-0.8 -0.4l-5.1 -4.9l-6.1 -7.8l-6.6 -9.2l-1.0 -1.6l-1.4 -1.6l-1.5 -0.1l-2.3 2.3l-0.8 -0.1l-2.3 2.3l-0.8 0.0l-1.6 1.6l-0.7 -0.0l-2.4 2.3l-0.7 0.1l-2.4 2.4l-0.6 0.1l2.9 3.1l7.0 9.7l9.2 12.0l3.5 5.4l2.1 3.9l1.9 3.8l6.6 16.1l3.1 6.9l3.9 7.6l3.9 6.6l4.2 6.2l4.3 5.7l4.4 5.2l4.9 4.9l7.4 6.7l8.1 6.0l7.7 4.9l9.3 4.7l9.3 3.8l9.3 2.8l9.3 2.1l10.1 1.3z" fill="#d5d5ff" fill-rule="evenodd"/>
<path d="M269.3 369.2l9.3 0.0l10.1 -0.8l9.3 -1.6l9.3 -2.3l8.8 -3.1l9.0 -4.0l8.3 -4.5l8.2 -5.4l7.5 -6.0l7.0 -6.6l6.2 -6.8l5.9 -7.8l5.0 -7.7l4.6 -8.8l3.8 -9.0l2.8 -8.6l1.9 -7.7l1.2 -6.2l0.8 -7.0l0.4 -7.7l-0.1 -7.0l-0.5 -7.0l-1.0 -7.0l-1.5 -6.9l-1.6 -5.9l-1.9 -5.8l-2.1 -5.4l-2.9 -6.2l-5.4 -10.1l-11.0 -17.9l-1.9 -3.8l-1.4 -3.1l-3.4 -8.5l-2.0 -6.2l-1.4 -7.0l-0.9 -6.9l-0.7 -12.4l-0.1 -20.2l0.3 -25.6l0.3 -6.9l0.4 -5.5l1.1 -6.9l1.5 -5.5l1.6 -3.8l1.5 -3.1l4.4 -7.4l0.7 -1.8l0.0 -2.5l-61.2 0.0l0.0 2.5l0.8 1.8l5.1 8.9l1.8 3.9l1.3 3.9l0.9 3.8l0.7 3.9l0.8 10.1l0.3 17.0l-0.3 29.5l0.8 12.4l0.0 5.4l-0.3 3.9l-0.9 4.6l-3.6 13.2l-1.0 4.7l-0.5 4.6l0.1 2.3l0.4 2.4l0.5 2.3l1.3 3.1l3.1 5.4l3.9 5.4l12.5 15.5l4.2 6.2l3.5 6.2l3.2 7.0l2.1 6.2l1.6 7.0l0.8 7.0l0.1 3.8l-0.1 3.9l-0.9 7.8l-1.8 7.7l-2.5 7.0l-3.5 7.0l-4.2 6.5l-4.6 5.7l-6.2 6.1l-4.7 3.6l-4.6 3.0l-6.2 3.3l-5.4 2.3l-5.5 1.8l-5.4 1.2l-5.4 0.8l-6.2 0.4l-5.4 -0.1l-6.2 -0.7l-5.5 -1.0l-6.2 -1.8l-5.4 -2.2l-6.2 -3.1l-4.6 -2.8l-4.7 -3.4l-3.9 -3.4l-4.5 -4.6l-3.2 -3.9l-3.3 -4.6l-3.2 -5.5l-2.6 -5.4l-1.8 -4.6l-1.3 -4.7l-0.5 -3.9l0.2 -3.1l0.8 -3.1l1.8 -4.6l3.4 -6.2l10.7 -17.1l0.5 -0.7l2.3 -2.4l-0.8 0.0l-1.6 -1.6l-0.7 -0.0l-0.8 -0.8l-0.8 -0.0l-1.5 -1.6l-0.8 -0.0l-1.6 -1.5l-0.7 -0.0l-0.8 -0.8l-0.8 0.0l-0.8 -0.7l-0.7 -0.5l-2.0 2.1l-15.9 25.1l-1.6 2.8l-1.5 2.9l-0.7 0.8l-0.8 0.4l-0.8 -0.0l-0.8 -0.3l-0.7 -0.6l-0.6 -0.9l-1.2 -4.6l-0.4 -2.3l-0.2 -4.7l-0.0 -28.7l-6.9 -0.1l-7.7 0.1l-0.2 23.3l-0.4 10.8l0.1 3.1l-0.4 1.6l-0.7 0.7l-0.8 0.2l-0.8 -0.1l-0.8 -0.4l-5.1 -5.1l-6.1 -7.7l-6.6 -9.0l-1.1 -1.9l-1.2 -1.5l-1.6 -0.1l-2.3 2.2l-0.8 0.0l-2.3 2.3l-0.8 0.0l-1.5 1.6l-0.8 -0.0l-2.3 2.3l-0.8 0.0l-2.3 2.5l-0.5 0.0l2.3 2.4l7.5 10.3l8.7 11.4l4.0 6.2l2.2 3.8l1.9 3.9l6.4 15.5l3.9 8.5l3.9 7.4l3.9 6.5l4.3 6.3l4.2 5.4l4.6 5.3l5.6 5.6l4.3 3.8l3.8 3.1l8.8 6.2l8.1 4.7l9.7 4.6l9.3 3.4l10.1 2.7l9.9 1.7l9.5 0.8z" fill="#dadaff" fill-rule="evenodd"/>
<path d="M262.3 368.5l10.1 0.6l9.3 -0.2l9.3 -1.0l9.3 -1.8l10.0 -2.8l8.8 -3.4l9.7 -4.6l7.9 -4.7l7.7 -5.5l7.2 -6.1l7.6 -7.7l6.2 -7.4l5.6 -8.1l4.8 -8.6l4.3 -9.3l3.3 -9.3l2.1 -7.7l1.4 -7.0l1.0 -7.0l0.4 -6.9l0.1 -7.0l-0.5 -7.8l-0.9 -6.9l-1.5 -7.6l-1.5 -5.8l-2.0 -6.0l-2.1 -5.4l-2.7 -6.2l-5.4 -10.1l-11.3 -18.6l-1.6 -3.1l-1.8 -3.9l-3.7 -9.3l-1.7 -5.4l-1.5 -7.0l-1.0 -7.7l-0.4 -6.2l-0.3 -7.8l0.0 -25.6l0.3 -19.3l0.8 -11.7l1.2 -6.9l1.6 -5.5l2.5 -5.4l5.0 -8.3l0.8 -2.2l0.0 -1.9l-61.2 0.0l-0.0 1.9l0.8 2.2l5.0 8.3l1.9 3.9l1.4 3.9l1.0 3.8l0.7 3.9l0.6 4.7l0.3 5.4l0.4 17.0l-0.3 29.5l0.2 4.6l0.7 8.6l0.0 5.4l-0.3 3.9l-0.8 4.6l-3.5 13.2l-1.1 5.4l-0.4 4.7l0.2 2.3l0.3 2.3l0.7 2.3l0.9 2.4l1.2 2.3l1.8 3.1l3.9 5.4l12.8 16.3l3.7 5.4l3.9 7.0l3.1 7.0l1.8 5.4l1.6 7.0l0.8 6.9l0.1 3.9l-0.1 3.9l-0.9 7.7l-1.8 7.8l-2.6 7.0l-3.4 6.9l-2.3 3.9l-2.2 3.1l-4.5 5.6l-6.2 6.0l-4.7 3.6l-4.6 3.0l-5.5 2.9l-6.2 2.7l-4.6 1.5l-6.2 1.5l-5.4 0.8l-6.2 0.4l-5.5 -0.2l-6.2 -0.6l-6.2 -1.3l-5.4 -1.6l-5.4 -2.1l-5.4 -2.6l-4.7 -2.8l-5.4 -3.9l-4.1 -3.6l-4.6 -4.6l-3.2 -3.9l-3.3 -4.7l-3.2 -5.4l-2.6 -5.4l-1.8 -4.7l-1.2 -4.6l-0.5 -3.9l0.2 -3.1l0.7 -3.1l2.3 -5.4l3.0 -5.4l10.8 -17.1l0.5 -0.8l2.2 -2.3l-0.6 0.0l-1.6 -1.7l-0.8 0.0l-0.7 -0.8l-0.8 0.0l-1.6 -1.5l-0.7 -0.0l-1.6 -1.6l-0.8 0.0l-0.7 -0.7l-0.8 0.0l-0.8 -0.7l-0.8 -0.4l-1.9 2.0l-15.9 25.2l-1.5 2.7l-1.5 3.1l-0.9 0.8l-0.7 0.3l-0.8 0.1l-0.8 -0.3l-0.8 -0.6l-0.7 -1.1l-1.2 -4.6l-0.3 -2.4l-0.3 -4.6l0.1 -28.7l-6.9 -0.2l-7.5 0.2l-0.2 23.3l-0.4 10.8l0.1 3.1l-0.4 1.6l-0.9 0.8l-0.7 0.2l-0.8 -0.1l-0.8 -0.4l-5.3 -5.2l-6.1 -7.7l-6.4 -8.9l-1.2 -2.0l-1.3 -1.5l-1.4 -0.1l-2.3 2.2l-0.8 0.0l-2.3 2.3l-0.8 0.0l-1.5 1.6l-0.8 -0.0l-2.3 2.3l-0.8 0.0l-2.3 2.5l-0.4 0.0l2.2 2.3l7.5 10.3l8.8 11.4l4.5 7.0l1.8 3.1l2.3 4.7l5.8 14.1l3.9 8.5l3.9 7.5l3.9 6.5l3.8 5.7l3.9 5.1l3.9 4.6l5.1 5.3l7.3 6.7l7.7 5.9l8.3 5.2l8.8 4.6l8.5 3.6l8.5 2.8l9.3 2.3l10.1 1.5z" fill="#dfdfff" fill-rule="evenodd"/>
<path d="M265.4 368.5l9.3 0.3l10.1 -0.4l10.1 -1.4l9.2 -2.1l8.6 -2.7l9.3 -3.8l9.0 -4.7l8.0 -5.0l7.7 -5.8l6.9 -6.2l7.1 -7.5l5.7 -7.2l5.2 -7.8l4.7 -8.5l4.1 -9.3l3.2 -9.3l1.9 -7.5l1.4 -7.2l0.8 -7.0l0.4 -7.0l-0.1 -7.0l-0.4 -6.9l-1.0 -7.0l-1.4 -7.0l-1.7 -6.2l-1.8 -5.4l-2.1 -5.4l-2.4 -5.5l-5.6 -10.7l-9.1 -14.8l-3.1 -5.5l-1.9 -3.8l-3.5 -8.6l-1.7 -4.6l-1.5 -5.4l-1.2 -6.2l-0.8 -6.2l-0.6 -13.2l-0.1 -24.8l0.3 -20.9l0.3 -6.2l0.5 -5.5l1.2 -6.9l1.6 -5.5l1.4 -3.1l1.6 -3.1l5.0 -7.6l0.2 -0.9l-0.2 -0.8l0.7 -2.3l-61.2 0.0l0.8 2.3l-0.3 0.8l0.3 0.9l3.5 5.3l2.3 3.9l1.5 3.1l1.4 3.9l0.9 3.1l0.7 3.8l1.0 9.3l0.4 17.1l-0.3 31.0l0.2 4.6l0.8 8.6l0.0 5.4l-0.3 3.9l-0.7 4.6l-3.6 14.0l-0.9 4.6l-0.4 4.7l0.5 4.6l0.6 2.3l0.9 2.4l1.1 2.3l1.8 3.1l3.8 5.4l9.8 12.4l3.4 4.7l3.6 5.4l3.4 6.2l3.1 7.0l2.0 6.2l1.5 6.9l0.7 6.2l0.0 7.0l-0.3 4.7l-0.6 3.8l-1.8 7.8l-2.5 7.0l-1.8 3.8l-2.1 3.9l-4.0 6.2l-4.8 5.8l-6.0 5.8l-4.9 3.8l-4.6 3.1l-5.4 2.9l-5.5 2.3l-5.4 1.8l-6.2 1.5l-5.4 0.8l-6.2 0.4l-5.4 -0.2l-6.2 -0.6l-6.2 -1.3l-5.5 -1.6l-5.4 -2.1l-5.4 -2.6l-5.4 -3.3l-4.7 -3.4l-3.9 -3.3l-4.6 -4.7l-3.6 -4.3l-3.3 -4.7l-3.2 -5.4l-2.6 -5.4l-1.8 -4.7l-1.2 -4.6l-0.5 -3.9l0.2 -3.1l0.8 -3.1l1.6 -3.9l1.5 -3.1l2.2 -3.8l11.4 -18.2l1.5 -2.0l-1.5 -1.7l-0.7 0.0l-0.8 -0.8l-0.8 0.0l-1.5 -1.5l-0.8 -0.0l-1.6 -1.6l-0.7 0.0l-0.8 -0.7l-0.8 0.0l-0.8 -0.7l-0.7 -0.3l-1.8 1.9l-15.2 24.0l-2.2 3.9l-1.5 3.1l-1.0 1.1l-0.8 0.2l-0.8 0.0l-0.8 -0.2l-0.7 -0.6l-0.8 -1.1l-0.6 -1.7l-1.0 -5.5l-0.3 -4.6l0.2 -20.9l-0.2 -7.8l-6.6 -0.2l-7.5 0.2l-0.2 22.5l-0.4 11.6l0.1 3.1l-0.3 1.6l-1.0 1.0l-0.8 0.1l-0.8 -0.1l-0.8 -0.4l-5.4 -5.3l-6.1 -7.7l-6.3 -8.8l-1.3 -2.1l-1.3 -1.5l-1.3 -0.1l-2.3 2.2l-0.8 0.0l-2.3 2.3l-0.8 -0.0l-1.5 1.6l-0.8 -0.0l-2.3 2.3l-0.8 0.0l-2.3 2.5l-0.3 0.0l2.3 2.3l7.3 10.1l8.9 11.6l4.6 7.0l2.2 3.9l1.9 3.9l6.4 15.2l3.7 8.0l4.1 7.7l3.7 6.3l4.0 5.7l3.9 5.1l4.0 4.7l5.3 5.4l7.0 6.2l8.3 6.2l7.9 4.9l9.3 4.7l9.3 3.8l9.3 2.8l9.3 2.0l10.1 1.2z" fill="#e5e5ff" fill-rule="evenodd"/>
<path d="M270.0 368.5l9.3 -0.0l10.1 -0.9l9.3 -1.7l9.3 -2.4l9.3 -3.4l8.8 -4.0l8.2 -4.7l7.8 -5.2l6.9 -5.7l7.8 -7.5l6.2 -7.0l5.2 -7.1l4.9 -7.8l4.6 -9.1l3.6 -8.7l2.6 -8.5l1.7 -7.0l1.2 -7.0l0.7 -6.9l0.3 -7.0l-0.2 -7.0l-0.5 -7.0l-1.0 -6.2l-1.4 -6.9l-1.6 -5.5l-2.0 -6.2l-2.2 -5.4l-2.4 -5.4l-5.0 -9.4l-11.1 -18.5l-3.5 -7.0l-4.1 -10.1l-1.8 -5.4l-1.6 -7.0l-1.0 -6.9l-0.6 -10.9l-0.2 -17.0l0.2 -28.7l0.3 -7.8l0.5 -6.2l0.6 -4.6l0.7 -3.1l0.8 -3.1l1.2 -3.1l2.8 -5.4l5.2 -8.0l0.1 -0.6l-0.4 -0.7l-0.3 -2.4l-3.8 0.0l0.5 3.1l-13.2 1.6l-9.3 0.9l-4.6 0.1l-4.4 -0.2l-20.4 -2.4l0.5 -3.1l-3.8 0.0l-0.2 2.4l-0.5 0.7l0.2 0.8l5.6 8.5l1.7 3.1l1.5 3.9l0.9 3.1l0.9 3.9l0.6 4.6l0.4 5.5l0.4 16.2l-0.2 31.8l1.1 14.0l-0.0 5.4l-0.3 3.9l-0.8 4.6l-3.3 13.2l-1.0 4.6l-0.4 4.7l0.5 4.6l0.6 2.4l1.1 3.1l3.0 5.4l3.8 5.4l9.4 12.1l3.1 4.2l3.5 5.4l3.4 6.2l2.8 6.2l2.3 7.0l1.4 6.2l0.8 7.0l0.1 3.8l-0.1 3.9l-0.8 7.8l-1.9 7.7l-2.5 7.0l-1.8 3.9l-2.0 3.8l-4.0 6.2l-4.4 5.5l-6.1 5.9l-4.7 3.7l-4.6 3.1l-5.4 3.0l-6.2 2.7l-5.5 1.8l-6.2 1.5l-5.4 0.8l-6.2 0.4l-5.4 -0.1l-6.2 -0.7l-5.4 -1.1l-6.2 -1.7l-6.2 -2.5l-5.5 -2.7l-4.6 -2.8l-4.9 -3.6l-3.6 -3.1l-4.7 -4.7l-3.2 -3.8l-3.4 -4.7l-3.2 -5.4l-2.7 -5.4l-1.9 -4.7l-1.5 -5.4l-0.5 -3.9l0.2 -3.1l0.8 -3.1l1.7 -3.8l3.7 -7.0l11.6 -18.5l1.3 -1.7l-0.5 -0.7l-0.8 -0.9l-0.8 -0.0l-0.8 -0.8l-0.8 -0.0l-1.5 -1.6l-0.8 -0.0l-1.5 -1.5l-0.8 -0.0l-0.8 -0.8l-0.8 0.0l-0.7 -0.7l-0.8 -0.2l-1.7 1.8l-16.0 25.6l-1.3 2.3l-1.4 3.1l-0.5 0.7l-0.8 0.6l-0.8 0.3l-1.5 -0.3l-0.8 -0.5l-0.8 -1.1l-0.5 -1.2l-1.2 -6.2l-0.2 -4.7l0.1 -20.9l-0.1 -7.8l-6.6 -0.1l-7.4 0.1l-0.2 22.5l-0.3 11.6l0.1 3.1l-0.3 1.6l-0.4 0.6l-0.8 0.5l-0.8 0.2l-0.8 -0.2l-0.7 -0.4l-5.5 -5.4l-6.1 -7.7l-6.3 -8.6l-1.4 -2.3l-1.2 -1.5l-1.2 -0.1l-2.4 2.2l-0.7 0.0l-2.4 2.3l-0.7 0.0l-1.6 1.6l-0.8 -0.0l-2.3 2.3l-0.8 0.0l-2.4 2.5l2.2 2.4l7.9 10.8l8.4 10.9l5.1 7.7l1.7 3.1l2.3 4.7l5.8 13.8l3.9 8.4l3.9 7.4l4.1 6.8l4.3 6.2l4.2 5.4l4.9 5.4l5.5 5.5l7.3 6.2l8.7 6.2l8.3 4.7l9.6 4.6l5.1 1.9l4.6 1.6l10.1 2.6l9.4 1.6l10.0 0.8z" fill="#eaeaff" fill-rule="evenodd"/>
<path d="M263.1 367.7l10.1 0.5l10.1 -0.3l9.2 -1.1l9.3 -2.0l9.3 -2.7l9.3 -3.7l9.3 -4.6l7.8 -4.8l7.7 -5.6l7.0 -6.2l7.4 -7.5l5.8 -7.3l5.6 -8.2l4.7 -8.6l4.2 -9.3l3.2 -9.3l1.8 -6.9l1.4 -7.6l0.9 -7.2l0.4 -6.9l-0.1 -7.0l-0.5 -7.0l-0.9 -7.0l-1.5 -6.9l-1.4 -5.5l-1.8 -5.4l-2.0 -5.4l-2.4 -5.4l-5.4 -10.4l-9.7 -16.0l-2.6 -4.6l-1.9 -3.9l-3.9 -9.3l-1.8 -4.7l-1.6 -5.4l-1.3 -6.2l-0.8 -6.2l-0.6 -10.8l-0.1 -17.1l0.2 -27.9l0.3 -7.7l0.4 -6.2l1.1 -7.0l0.8 -3.1l1.1 -3.1l1.4 -3.1l1.3 -2.3l2.5 -3.9l2.8 -3.7l0.8 -1.6l-0.0 -0.2l-0.8 -1.0l-0.8 -0.6l-0.2 0.9l0.1 0.8l-19.6 3.8l-4.3 0.6l-3.1 0.2l-3.9 -0.0l-5.4 -0.7l-20.0 -3.9l0.0 -0.8l-0.2 -0.9l-0.7 0.6l-0.8 1.1l0.8 1.7l3.3 4.5l2.4 3.8l1.6 3.1l1.0 2.4l1.2 3.8l0.8 3.9l0.6 4.7l0.4 4.6l0.4 16.3l-0.2 31.8l0.2 4.6l0.9 10.1l0.1 5.4l-0.3 3.9l-0.7 4.6l-3.4 14.0l-0.9 4.6l-0.3 4.7l0.5 4.6l1.5 4.7l2.9 5.4l3.7 5.4l12.4 16.3l3.5 5.4l3.4 6.2l2.8 6.2l2.1 6.2l1.4 6.2l0.9 7.0l0.2 3.9l-0.1 3.9l-0.7 7.7l-1.8 7.8l-2.4 6.9l-1.7 3.9l-2.0 3.9l-3.9 6.2l-4.9 6.2l-6.3 6.2l-4.9 3.9l-5.2 3.4l-5.4 2.8l-5.5 2.4l-5.4 1.8l-6.2 1.4l-5.4 0.8l-6.2 0.4l-5.4 -0.1l-6.2 -0.7l-5.5 -1.0l-6.2 -1.8l-5.4 -2.1l-6.2 -3.0l-5.4 -3.4l-4.4 -3.3l-4.1 -3.5l-4.7 -4.8l-3.3 -4.1l-3.3 -4.6l-3.1 -5.4l-2.3 -4.7l-2.1 -5.4l-1.3 -4.7l-0.4 -3.8l0.2 -3.1l0.5 -2.4l1.7 -3.8l1.5 -3.1l2.6 -4.7l11.6 -18.6l1.2 -1.5l-0.3 -0.8l-0.9 -0.9l-0.7 0.0l-0.8 -0.8l-0.8 -0.0l-1.5 -1.6l-0.8 0.0l-1.6 -1.5l-0.7 0.0l-0.8 -0.7l-0.8 -0.0l-0.8 -0.8l-0.7 -0.1l-1.6 1.7l-4.2 7.0l-11.4 17.8l-1.7 3.1l-1.3 3.1l-0.8 1.0l-0.7 0.6l-0.8 0.2l-1.6 -0.2l-0.7 -0.5l-0.8 -1.1l-0.6 -1.5l-1.3 -6.2l-0.2 -4.7l0.2 -20.9l-0.2 -7.7l-6.4 -0.2l-7.3 0.2l-0.2 22.4l-0.4 11.7l0.2 3.1l-0.2 1.5l-0.5 0.8l-0.9 0.5l-0.8 0.1l-0.8 -0.1l-0.8 -0.5l-5.5 -5.4l-6.1 -7.8l-6.2 -8.5l-1.5 -2.3l-1.3 -1.6l-1.1 -0.0l-2.3 2.2l-0.8 -0.0l-2.3 2.3l-0.8 -0.0l-1.5 1.5l-0.8 0.0l-2.3 2.4l-0.8 -0.0l-2.3 2.5l2.2 2.3l7.9 10.8l8.4 10.9l5.1 7.7l2.2 3.9l1.9 3.9l6.4 15.0l3.1 6.7l3.9 7.4l3.9 6.5l3.8 5.7l4.0 5.2l4.0 4.6l5.2 5.4l7.0 6.3l7.7 5.9l7.8 4.9l8.9 4.7l8.9 3.7l8.5 2.7l9.3 2.2l10.1 1.5z" fill="#efefff" fill-rule="evenodd"/>
<path d="M266.2 367.7l9.3 0.3l10.1 -0.6l9.3 -1.3l10.0 -2.3l9.3 -3.1l8.6 -3.6l8.5 -4.5l8.0 -5.1l7.5 -5.7l7.0 -6.4l6.7 -7.3l5.7 -7.2l5.4 -8.3l4.6 -8.5l3.9 -9.2l2.9 -8.6l1.8 -7.0l1.3 -7.0l0.8 -6.9l0.4 -7.0l-0.1 -7.0l-0.5 -7.0l-0.9 -6.9l-1.5 -7.0l-1.7 -6.2l-1.7 -5.3l-1.9 -4.8l-2.4 -5.4l-5.2 -10.1l-9.3 -15.5l-3.1 -5.4l-1.9 -3.9l-4.2 -10.1l-2.0 -5.4l-1.5 -5.4l-1.2 -6.2l-0.7 -5.4l-0.4 -6.2l-0.2 -7.0l-0.0 -25.6l0.3 -20.1l0.7 -11.7l1.3 -6.9l1.8 -5.5l1.5 -3.1l1.4 -2.3l5.3 -7.0l0.3 -0.7l-0.3 -0.7l-20.2 5.1l-4.6 0.8l-3.9 0.3l-3.9 -0.2l-4.6 -0.7l-20.2 -5.2l-0.7 -0.1l-0.4 0.7l0.4 0.7l3.6 4.7l2.1 3.1l1.7 3.1l1.4 3.1l1.0 3.1l0.8 3.9l0.6 3.8l0.5 5.5l0.4 16.2l-0.1 32.6l0.2 4.6l0.9 10.1l0.2 5.4l-0.3 3.9l-0.7 4.7l-3.4 13.9l-0.8 4.7l-0.3 4.6l0.4 4.7l0.6 2.3l1.2 3.1l2.9 5.4l3.8 5.4l8.8 11.7l3.3 4.6l3.5 5.4l2.9 5.5l2.8 6.2l2.1 6.2l1.6 6.9l0.8 7.0l0.1 3.9l-0.1 3.9l-0.9 7.7l-1.8 7.8l-2.5 6.9l-1.7 3.9l-2.1 3.9l-4.0 6.2l-4.7 5.9l-6.2 6.0l-4.7 3.7l-5.4 3.5l-5.4 2.9l-5.5 2.3l-5.4 1.8l-6.2 1.5l-5.4 0.7l-6.2 0.4l-5.4 -0.1l-6.2 -0.6l-6.2 -1.3l-5.5 -1.5l-6.2 -2.5l-5.4 -2.7l-5.4 -3.3l-4.7 -3.4l-3.8 -3.4l-4.7 -4.8l-3.6 -4.3l-3.2 -4.7l-3.2 -5.4l-2.6 -5.4l-2.0 -5.5l-1.2 -4.6l-0.3 -3.1l0.2 -3.1l0.9 -3.1l1.4 -3.1l4.1 -7.8l10.3 -16.2l1.3 -2.4l1.2 -1.5l-0.1 -0.8l-0.9 -0.9l-0.7 0.0l-0.8 -0.8l-0.8 0.0l-1.5 -1.5l-0.8 -0.0l-1.6 -1.6l-0.7 0.0l-0.8 -0.7l-0.8 0.0l-0.8 -0.7l-0.7 -0.1l-1.5 1.7l-5.2 8.5l-10.3 16.3l-1.7 3.1l-1.5 3.4l-0.8 1.0l-0.7 0.5l-0.8 0.2l-1.6 -0.3l-0.7 -0.5l-1.0 -1.2l-0.6 -1.6l-1.2 -6.2l-0.2 -4.6l0.1 -20.2l-0.1 -8.5l-6.3 -0.2l-7.2 0.2l-0.2 22.5l-0.3 11.6l0.1 3.9l-0.2 0.7l-0.4 0.8l-1.1 0.7l-1.6 -0.1l-0.8 -0.4l-5.6 -5.6l-6.2 -7.8l-8.9 -12.4l-1.0 0.0l-2.3 2.2l-0.8 -0.0l-2.3 2.3l-0.8 -0.0l-1.5 1.5l-0.8 0.0l-2.3 2.4l-0.8 0.0l-2.2 2.5l2.8 3.1l7.2 9.9l8.5 11.0l5.7 8.5l1.7 3.1l2.3 4.7l5.8 13.6l3.8 8.1l3.9 7.5l3.9 6.3l3.9 5.6l4.2 5.4l4.3 4.9l5.1 5.2l7.3 6.4l8.3 6.0l8.0 4.8l9.0 4.5l8.8 3.4l9.3 2.8l9.3 1.9l10.1 1.2z" fill="#f5f5ff" fill-rule="evenodd"/>
<path d="M271.6 367.7l9.3 -0.2l9.3 -0.9l9.3 -1.7l9.3 -2.6l8.6 -3.1l8.4 -3.9l8.2 -4.7l8.0 -5.4l7.1 -5.8l7.0 -6.8l6.0 -6.8l5.6 -7.6l4.6 -7.4l4.6 -9.0l3.5 -8.5l2.7 -8.5l1.7 -7.0l1.2 -7.0l0.7 -7.0l0.3 -6.9l-0.2 -7.0l-0.5 -7.0l-1.0 -6.2l-1.5 -7.0l-1.5 -5.4l-1.8 -5.4l-2.0 -5.0l-2.3 -5.2l-5.2 -10.0l-9.3 -15.5l-3.0 -5.4l-2.2 -4.6l-3.9 -9.3l-2.1 -5.5l-1.5 -5.4l-1.1 -5.4l-0.8 -6.2l-0.5 -6.2l-0.2 -7.0l0.0 -27.1l0.3 -19.4l0.3 -6.2l0.5 -5.4l0.6 -3.9l0.7 -3.1l0.7 -2.3l1.3 -3.1l2.6 -4.7l5.0 -6.3l0.9 -1.4l-0.1 -0.3l-2.0 0.3l-17.4 5.5l-4.7 1.0l-4.6 0.3l-3.9 -0.1l-4.6 -0.8l-5.5 -1.5l-13.9 -4.5l-1.6 -0.2l-0.1 0.3l0.9 1.4l5.0 6.3l1.9 3.1l1.4 3.1l1.3 3.9l0.7 3.1l0.7 4.7l0.4 4.6l0.4 16.3l-0.1 32.5l0.3 5.5l1.0 10.8l0.1 5.4l-0.3 3.9l-0.7 4.7l-3.2 13.1l-0.9 4.7l-0.3 4.6l0.4 4.7l0.6 2.3l1.1 3.1l2.9 5.4l3.6 5.5l8.8 11.6l3.3 4.6l3.8 6.2l2.9 5.5l2.7 6.2l2.0 6.2l1.5 6.9l0.6 6.2l0.2 3.9l-0.1 3.9l-0.9 7.7l-1.8 7.8l-2.5 7.0l-1.7 3.8l-2.1 3.9l-3.9 6.2l-2.4 3.1l-2.7 3.1l-6.2 6.0l-4.6 3.7l-4.7 3.0l-5.4 3.0l-6.2 2.7l-5.4 1.7l-6.2 1.5l-5.4 0.8l-6.2 0.4l-6.2 -0.2l-6.2 -0.7l-6.2 -1.3l-5.5 -1.7l-5.4 -2.1l-6.2 -3.2l-4.6 -2.8l-4.7 -3.5l-3.9 -3.4l-4.6 -4.7l-3.8 -4.6l-3.3 -4.7l-3.1 -5.4l-2.6 -5.4l-2.1 -5.4l-1.1 -4.7l-0.3 -3.1l0.1 -2.3l0.4 -2.3l1.3 -3.1l2.7 -5.5l2.2 -3.8l9.6 -15.3l1.9 -3.3l1.2 -1.6l0.1 -0.8l-0.9 -0.8l-0.8 -0.0l-0.7 -0.8l-0.8 -0.0l-1.6 -1.6l-0.7 -0.0l-1.6 -1.5l-0.8 -0.0l-0.7 -0.8l-0.8 0.1l-0.8 -0.8l-0.8 0.0l-1.2 1.6l-5.2 8.5l-9.8 15.4l-2.3 4.0l-1.6 3.8l-0.8 0.9l-0.8 0.5l-0.7 0.1l-1.6 -0.2l-0.7 -0.5l-1.2 -1.5l-0.6 -1.6l-1.0 -5.4l-0.3 -5.4l0.1 -20.2l-0.1 -8.5l-6.3 -0.1l-7.0 0.1l-0.2 21.7l-0.3 11.6l0.2 4.7l-0.4 1.2l-0.8 0.9l-0.8 0.3l-0.7 0.0l-1.6 -0.6l-5.1 -4.9l-6.2 -7.8l-9.5 -13.1l-0.9 -0.0l-2.3 2.1l-0.8 0.0l-2.3 2.3l-0.8 0.0l-1.5 1.6l-0.8 -0.0l-2.3 2.3l-0.8 0.0l-2.1 2.5l2.1 2.2l7.7 10.7l8.7 11.1l5.7 8.6l3.7 6.9l6.7 15.5l3.1 6.6l4.4 8.2l4.2 6.7l4.0 5.7l4.5 5.6l4.7 5.2l5.4 5.2l3.7 3.3l4.0 3.2l4.1 3.0l4.8 3.1l8.2 4.7l4.8 2.3l5.2 2.2l9.3 3.2l10.1 2.6l9.3 1.4l10.1 0.7z" fill="#fafaff" fill-rule="evenodd"/>
<path d="M263.8 367.0l10.1 0.5l10.0 -0.4l9.3 -1.2l9.3 -2.0l8.6 -2.6l9.2 -3.7l9.2 -4.6l7.6 -4.7l7.4 -5.4l7.1 -6.2l6.8 -7.0l3.0 -3.6l3.3 -4.1l5.3 -7.8l4.7 -8.5l4.2 -9.3l3.2 -9.3l1.8 -7.0l1.4 -6.9l0.9 -7.0l0.4 -7.0l0.0 -7.0l-0.5 -7.7l-1.0 -7.0l-1.4 -7.0l-1.5 -5.4l-1.8 -5.4l-1.9 -5.0l-2.3 -5.3l-5.5 -10.5l-8.9 -14.9l-3.0 -5.4l-2.3 -4.6l-4.6 -10.9l-1.8 -4.6l-1.6 -5.5l-1.2 -6.2l-0.8 -6.2l-0.4 -6.2l-0.2 -7.7l0.0 -29.5l0.3 -17.0l0.9 -10.9l1.1 -6.2l1.0 -3.1l0.9 -2.3l2.7 -4.6l5.6 -6.8l0.3 -1.0l-0.5 0.0l-2.2 0.8l-9.3 3.6l-6.2 2.1l-5.4 1.2l-4.7 0.4l-4.6 -0.3l-5.4 -1.1l-5.5 -1.7l-10.8 -4.2l-2.2 -0.8l-0.5 0.0l0.4 1.0l4.4 5.2l1.7 2.3l1.3 2.4l1.5 3.1l1.0 3.1l0.7 3.1l0.7 3.8l0.5 5.5l0.4 15.5l-0.0 34.1l0.2 5.4l1.1 10.8l0.1 5.5l-0.3 3.8l-0.6 4.7l-3.3 13.9l-0.8 4.7l-0.3 4.6l0.5 4.7l0.6 2.3l1.2 3.1l2.9 5.4l3.7 5.5l8.4 11.2l3.5 5.0l3.3 5.5l2.9 5.4l2.6 6.2l2.0 6.2l1.4 6.2l0.8 7.0l0.1 3.8l-0.1 3.9l-0.8 7.8l-0.8 3.8l-1.2 4.7l-2.6 7.0l-1.8 3.8l-2.1 3.9l-4.1 6.2l-4.7 5.7l-6.2 6.0l-4.6 3.7l-4.7 3.0l-5.4 2.9l-6.2 2.7l-5.4 1.8l-6.2 1.4l-5.5 0.8l-6.2 0.4l-6.2 -0.2l-6.2 -0.7l-6.2 -1.3l-5.4 -1.6l-5.4 -2.2l-5.4 -2.7l-5.5 -3.3l-4.6 -3.4l-4.3 -3.7l-4.5 -4.6l-3.9 -4.7l-3.2 -4.6l-3.1 -5.5l-3.0 -6.2l-1.7 -4.6l-1.1 -4.7l-0.4 -3.1l0.1 -2.3l0.5 -2.3l0.9 -2.3l3.2 -6.2l2.2 -3.9l9.8 -15.5l1.7 -3.1l1.4 -1.6l0.0 -0.7l-0.8 -0.9l-0.8 -0.0l-0.8 -0.8l-0.7 -0.0l-1.6 -1.6l-0.8 0.0l-1.5 -1.5l-0.8 -0.0l-0.8 -0.7l-0.7 -0.0l-0.8 -0.8l-0.7 0.1l-1.2 1.5l-15.1 24.0l-2.1 3.9l-1.6 3.9l-1.0 1.1l-1.6 0.6l-1.5 -0.3l-0.8 -0.4l-0.8 -0.8l-0.6 -1.0l-0.5 -1.5l-1.0 -5.5l-0.3 -5.4l0.2 -19.4l-0.2 -9.3l-6.1 -0.1l-6.9 0.1l-0.2 21.7l-0.4 11.7l0.3 4.6l-0.5 1.6l-0.8 0.7l-0.8 0.3l-0.8 0.0l-1.5 -0.6l-5.2 -5.1l-6.3 -7.7l-9.6 -13.2l-0.6 -0.0l-2.3 2.2l-0.8 -0.0l-2.3 2.2l-0.8 0.0l-1.6 1.6l-0.7 -0.0l-2.4 2.4l-0.7 -0.0l-1.6 1.7l-0.4 0.7l2.0 2.1l7.7 10.6l8.8 11.4l6.2 9.3l4.0 7.7l5.8 13.3l3.1 6.6l3.9 7.4l4.1 6.8l3.7 5.4l4.2 5.5l4.1 4.6l4.8 5.0l7.0 6.3l7.7 5.8l7.8 4.9l8.5 4.4l9.3 3.8l8.5 2.8l9.3 2.1l10.1 1.4z" fill="#ffffff" fill-rule="evenodd"/>
<path d="M266.9 366.9l9.3 0.2l10.1 -0.6l9.3 -1.4l9.3 -2.2l9.0 -3.0l8.8 -3.8l8.5 -4.5l7.8 -5.0l7.7 -6.0l7.0 -6.4l6.3 -6.8l6.0 -7.8l5.0 -7.7l4.5 -8.6l3.8 -8.7l3.0 -9.1l1.7 -7.0l1.3 -6.9l0.7 -7.0l0.4 -7.0l-0.1 -7.0l-0.6 -6.9l-1.0 -7.0l-1.5 -7.0l-1.5 -5.4l-1.7 -4.8l-2.0 -5.3l-2.4 -5.4l-4.9 -9.3l-9.3 -15.6l-2.9 -5.3l-1.9 -3.9l-5.0 -11.6l-2.1 -5.5l-1.5 -5.4l-1.2 -5.4l-0.7 -5.4l-0.6 -10.9l-0.1 -16.3l0.2 -30.2l0.3 -7.7l0.5 -6.2l1.2 -7.0l0.9 -3.1l0.9 -2.3l1.6 -3.1l1.5 -2.4l4.8 -5.4l-0.5 -0.4l-1.3 0.4l-9.6 4.2l-4.6 1.7l-5.4 1.3l-5.4 0.5l-4.7 -0.2l-5.4 -1.2l-6.2 -2.1l-9.6 -4.2l-1.3 -0.4l-0.5 0.4l3.5 3.9l1.8 2.3l1.9 3.1l1.4 3.1l0.9 3.1l0.7 3.1l0.7 4.7l0.4 4.6l0.4 15.5l-0.0 34.1l0.3 5.4l1.1 10.9l0.1 5.4l-0.2 3.9l-0.7 4.6l-3.2 14.0l-0.9 4.6l-0.3 4.7l0.5 4.6l0.6 2.4l1.1 3.1l2.8 5.4l3.6 5.4l8.6 11.6l3.2 4.7l3.3 5.4l2.9 5.4l2.6 6.2l2.0 6.2l1.4 6.2l0.8 7.0l0.1 3.9l-0.1 3.9l-0.8 7.7l-1.8 7.8l-1.3 3.8l-1.5 3.9l-1.8 3.9l-2.1 3.9l-4.0 6.2l-5.0 6.0l-5.8 5.6l-4.9 3.9l-4.8 3.1l-5.4 2.9l-6.2 2.7l-5.5 1.7l-6.2 1.5l-5.4 0.8l-6.2 0.4l-6.2 -0.2l-6.2 -0.7l-5.4 -1.1l-5.4 -1.6l-5.5 -2.1l-6.2 -3.0l-5.4 -3.2l-4.8 -3.6l-4.4 -3.8l-4.5 -4.7l-3.8 -4.6l-3.2 -4.7l-3.2 -5.4l-2.6 -5.4l-2.0 -5.5l-1.2 -4.6l-0.3 -3.1l0.1 -2.3l0.8 -3.1l1.0 -2.4l5.0 -9.3l10.7 -16.9l0.9 -1.7l1.4 -1.7l0.1 -0.6l-0.8 -0.8l-0.8 -0.0l-0.8 -0.9l-0.8 0.0l-1.5 -1.5l-0.8 -0.0l-1.5 -1.5l-0.8 -0.0l-0.8 -0.8l-0.8 0.0l-0.7 -0.7l-0.5 0.0l-1.3 1.6l-14.6 23.2l-2.2 3.9l-1.8 4.6l-0.6 0.8l-0.7 0.7l-0.8 0.4l-0.8 0.1l-1.5 -0.3l-0.8 -0.4l-1.1 -1.3l-0.9 -2.3l-0.9 -4.6l-0.4 -6.2l0.1 -20.2l-0.1 -8.5l-6.0 -0.1l-6.8 0.1l-0.2 21.7l-0.3 11.6l0.2 4.7l-0.4 1.5l-1.0 0.9l-0.8 0.3l-0.8 0.0l-1.5 -0.6l-5.3 -5.2l-6.3 -7.8l-7.8 -10.8l-2.3 -2.3l-2.3 2.1l-0.8 0.0l-2.3 2.3l-0.8 -0.0l-1.6 1.6l-0.7 -0.1l-2.4 2.4l-0.7 0.0l-1.6 1.7l-0.3 0.8l1.9 1.9l7.7 10.6l8.9 11.5l6.3 9.3l3.7 7.0l5.9 13.4l3.9 8.2l3.9 7.3l3.8 6.3l4.1 5.9l4.3 5.4l4.2 4.6l5.3 5.3l7.3 6.4l8.2 5.9l8.3 4.9l8.7 4.2l9.3 3.6l8.5 2.4l10.1 2.0l9.3 1.0zM302.6 46.2l0.1 -0.1l-0.2 -0.0l0.1 0.1zM357.6 46.2l0.1 -0.1l-0.2 -0.0l0.1 0.1z" fill="#fffafa" fill-rule="evenodd"/>
<path d="M261.5 366.1l10.1 0.7l9.3 -0.2l10.1 -1.0l9.2 -1.8l9.3 -2.7l9.3 -3.5l9.3 -4.6l8.0 -4.7l8.3 -6.1l7.0 -6.2l7.0 -7.2l6.2 -7.7l5.4 -8.1l4.6 -8.5l4.0 -8.9l3.2 -9.3l1.8 -7.0l1.3 -7.0l0.8 -7.0l0.4 -6.9l-0.1 -7.0l-0.5 -7.2l-1.0 -6.8l-1.4 -6.9l-1.5 -5.5l-1.8 -5.4l-2.1 -5.3l-2.3 -5.2l-5.4 -10.4l-8.8 -14.7l-3.0 -5.5l-1.9 -3.8l-5.4 -12.4l-1.7 -4.7l-1.4 -4.6l-1.3 -5.5l-0.7 -4.6l-0.7 -8.5l-0.2 -11.7l0.2 -34.1l0.5 -15.5l0.9 -7.7l1.2 -5.4l1.8 -4.7l2.8 -4.6l-0.1 -0.7l-2.1 0.7l-6.5 2.5l-3.8 1.1l-4.7 1.0l-4.6 0.4l-3.9 -0.2l-4.7 -0.8l-5.4 -1.5l-7.7 -3.0l-0.8 -0.2l-0.1 0.7l2.0 3.1l1.5 3.1l0.9 2.3l0.8 3.1l0.7 3.9l0.5 3.8l0.6 10.1l0.1 13.2l-0.0 30.2l0.3 6.2l1.2 10.9l0.1 6.2l-0.3 3.8l-0.7 4.7l-3.0 13.2l-0.9 4.6l-0.3 4.7l0.4 4.6l0.6 2.3l1.1 3.1l2.7 5.5l3.5 5.4l11.7 16.3l3.3 5.4l3.2 6.2l2.6 6.2l2.1 7.0l1.2 6.2l0.6 6.9l-0.1 7.8l-1.0 7.7l-2.0 7.8l-2.7 7.0l-3.5 6.9l-4.0 6.2l-2.4 3.1l-2.8 3.1l-5.5 5.5l-4.7 3.6l-5.4 3.6l-6.2 3.3l-5.4 2.3l-5.4 1.7l-6.2 1.5l-5.5 0.7l-6.2 0.4l-5.4 -0.1l-6.2 -0.6l-6.2 -1.3l-5.4 -1.5l-6.2 -2.4l-5.4 -2.7l-5.5 -3.2l-4.6 -3.4l-4.1 -3.5l-4.6 -4.6l-3.9 -4.7l-3.3 -4.6l-3.2 -5.5l-3.0 -6.2l-2.0 -5.4l-1.2 -4.6l-0.4 -3.1l0.2 -2.4l0.5 -2.3l1.3 -3.1l5.6 -10.1l10.3 -16.4l0.8 -1.4l1.6 -1.8l0.0 -0.5l-0.8 -0.9l-0.8 0.0l-0.8 -0.8l-0.7 0.0l-1.6 -1.5l-0.8 -0.0l-1.5 -1.6l-0.8 0.0l-0.8 -0.7l-0.7 0.0l-0.8 -0.7l-0.3 -0.0l-1.3 1.5l-14.7 23.4l-2.1 3.8l-1.4 3.8l-0.8 1.6l-1.1 1.0l-0.8 0.3l-1.5 0.1l-0.8 -0.2l-1.6 -1.2l-0.5 -0.8l-0.7 -1.5l-1.0 -5.5l-0.4 -5.4l0.1 -21.7l-0.1 -7.7l-5.9 -0.2l-6.6 0.2l-0.3 20.9l-0.3 12.4l0.3 4.6l-0.4 1.6l-1.2 1.1l-1.6 0.2l-1.5 -0.6l-5.4 -5.4l-5.7 -6.9l-8.3 -11.4l-2.3 -2.4l-2.3 2.0l-0.8 -0.0l-2.3 2.3l-0.8 -0.0l-1.6 1.5l-0.7 0.0l-2.4 2.4l-0.7 -0.0l-1.6 1.7l-0.1 0.8l1.7 1.7l7.7 10.6l9.1 11.7l6.8 10.1l3.7 6.9l6.0 13.8l3.1 6.5l3.9 7.3l3.8 6.3l3.9 5.6l3.6 4.7l4.0 4.7l4.0 4.1l7.0 6.5l7.3 5.6l8.2 5.4l7.8 4.1l8.5 3.8l8.8 3.0l9.3 2.3l9.8 1.6z" fill="#fff4f4" fill-rule="evenodd"/>
<path d="M264.6 366.1l10.1 0.4l10.0 -0.5l10.1 -1.4l9.3 -2.1l8.5 -2.8l9.3 -3.9l8.6 -4.5l8.4 -5.4l7.8 -6.1l7.0 -6.5l6.2 -6.8l3.1 -3.8l3.1 -4.3l2.8 -4.3l2.6 -4.4l4.5 -8.7l3.5 -8.6l2.8 -9.3l1.6 -6.9l1.0 -6.2l0.7 -7.0l0.2 -7.0l-0.2 -7.0l-0.7 -6.9l-1.0 -6.3l-1.5 -6.9l-1.6 -5.3l-1.6 -4.8l-2.2 -5.4l-2.1 -4.7l-4.9 -9.4l-11.7 -20.0l-1.9 -3.9l-5.5 -12.4l-1.6 -3.9l-1.5 -4.6l-1.2 -4.7l-0.9 -4.6l-0.9 -7.8l-0.4 -8.5l0.2 -39.5l0.2 -12.4l0.6 -8.5l0.8 -6.2l1.5 -7.0l-0.2 -0.8l-0.8 -0.3l-1.5 0.1l-8.5 1.9l-5.5 0.6l-3.1 -0.1l-3.8 -0.3l-10.1 -2.2l-0.8 -0.0l-0.8 0.3l-0.1 0.8l1.8 9.3l0.9 9.3l0.3 14.7l0.0 34.9l0.3 5.4l1.2 10.9l0.2 5.4l-0.2 4.6l-0.6 4.7l-0.9 4.6l-2.4 10.1l-0.8 4.7l-0.3 4.6l0.4 3.9l0.5 2.3l1.1 3.1l2.6 5.4l3.5 5.5l8.3 11.6l3.7 5.4l3.2 5.4l3.2 6.2l2.5 6.2l2.0 7.0l1.1 6.2l0.6 7.0l-0.2 7.0l-1.0 7.7l-2.0 7.8l-2.6 6.9l-1.9 3.9l-2.1 3.9l-4.1 6.2l-4.6 5.4l-5.8 5.7l-4.7 3.7l-5.4 3.5l-5.4 2.9l-5.4 2.4l-5.5 1.8l-6.2 1.5l-6.2 0.9l-6.2 0.4l-6.2 -0.1l-6.2 -0.7l-6.2 -1.3l-5.4 -1.6l-6.2 -2.5l-5.4 -2.8l-5.4 -3.3l-4.7 -3.5l-4.4 -3.9l-4.5 -4.6l-3.7 -4.7l-3.2 -4.6l-3.2 -5.5l-2.9 -6.2l-1.9 -5.4l-1.1 -4.6l-0.2 -2.4l0.1 -2.3l0.5 -2.3l1.0 -2.3l6.0 -10.9l10.5 -16.6l0.6 -1.2l1.8 -1.9l0.0 -0.4l-0.8 -0.9l-0.8 0.0l-0.8 -0.8l-0.7 0.0l-1.6 -1.6l-0.8 0.0l-1.5 -1.5l-0.8 0.0l-0.8 -0.7l-0.7 0.0l-0.8 -0.7l-0.8 0.7l-0.8 1.1l-15.4 24.5l-1.6 3.1l-1.0 3.1l-0.7 1.6l-0.6 0.7l-1.6 0.9l-0.8 0.1l-1.5 -0.3l-1.6 -1.1l-0.7 -1.0l-0.7 -1.7l-0.9 -5.4l-0.5 -5.4l0.2 -21.7l-0.1 -7.8l-5.8 -0.1l-6.5 0.1l-0.2 21.0l-0.4 11.6l0.4 5.4l-0.4 1.6l-0.6 0.7l-0.8 0.6l-1.6 0.1l-1.5 -0.6l-5.5 -5.5l-5.7 -7.0l-8.2 -11.2l-2.3 -2.4l-0.8 0.4l-1.5 1.5l-0.8 -0.0l-2.3 2.3l-0.8 -0.0l-1.6 1.5l-0.7 0.0l-2.4 2.4l-0.7 -0.0l-1.6 1.7l-0.0 0.7l1.6 1.6l7.7 10.7l9.2 11.8l4.4 6.2l2.5 3.8l3.7 7.0l5.8 13.1l3.1 6.5l3.9 7.4l3.8 6.4l3.9 5.6l4.0 5.2l4.5 5.2l4.7 4.7l7.1 6.4l4.0 3.1l4.4 3.1l7.5 4.6l8.8 4.4l8.5 3.5l9.3 2.9l9.3 2.0l9.3 1.2z" fill="#ffefef" fill-rule="evenodd"/>
<path d="M269.3 366.1l10.1 -0.0l9.3 -0.8l9.0 -1.6l9.0 -2.3l8.8 -3.1l8.8 -3.9l8.3 -4.6l8.0 -5.4l7.7 -6.2l7.0 -6.9l6.2 -7.1l5.4 -7.5l4.9 -8.0l4.4 -8.9l3.5 -8.9l2.8 -9.3l1.4 -7.0l1.0 -6.2l0.5 -7.0l0.2 -6.9l-0.3 -7.0l-0.8 -7.0l-1.3 -7.0l-1.5 -6.2l-3.1 -9.3l-4.0 -9.3l-4.8 -9.3l-8.7 -14.7l-3.0 -5.4l-7.1 -15.5l-2.0 -4.7l-1.6 -4.6l-1.1 -3.9l-0.9 -4.6l-0.7 -4.7l-0.5 -6.2l-0.3 -14.7l0.3 -41.1l0.4 -9.3l0.8 -10.8l-0.2 -1.6l-1.0 -0.8l-2.0 -0.0l-7.8 0.9l-4.6 0.2l-3.9 -0.2l-7.0 -0.9l-2.3 -0.1l-0.8 0.2l-0.7 0.7l-0.2 0.8l-0.0 2.3l0.8 10.9l0.3 9.3l0.1 42.6l0.4 6.2l1.2 10.8l0.2 5.5l-0.2 4.6l-0.7 4.7l-3.2 13.9l-0.8 4.7l-0.3 4.6l0.3 3.9l0.5 2.3l1.0 3.1l2.6 5.4l3.9 6.2l8.0 11.2l3.4 5.1l3.6 6.2l3.1 6.2l2.4 6.2l1.9 7.0l1.0 6.2l0.5 7.0l-0.3 7.7l-1.2 7.8l-1.9 6.9l-2.7 7.0l-3.6 7.0l-4.1 6.2l-4.5 5.4l-6.1 6.0l-4.7 3.7l-4.6 3.0l-5.5 3.0l-6.2 2.7l-6.2 2.1l-6.2 1.4l-5.4 0.8l-6.2 0.4l-6.2 -0.2l-6.2 -0.7l-5.4 -1.1l-6.2 -1.8l-6.2 -2.5l-5.4 -2.7l-5.5 -3.3l-4.6 -3.5l-4.7 -4.1l-4.5 -4.7l-3.8 -4.7l-3.1 -4.6l-3.6 -6.2l-2.5 -5.5l-2.0 -5.4l-1.0 -4.6l-0.3 -2.4l0.1 -2.3l0.6 -2.3l1.0 -2.3l6.6 -11.7l10.7 -17.0l1.8 -2.0l0.1 -0.3l-0.8 -0.9l-0.8 0.0l-0.8 -0.8l-0.8 0.0l-1.5 -1.5l-0.8 -0.0l-1.5 -1.6l-0.8 0.0l-0.8 -0.7l-0.8 0.0l-0.7 -0.5l-0.3 0.5l-1.3 1.4l-15.3 24.2l-1.5 3.1l-1.3 3.9l-0.5 1.1l-0.8 0.8l-1.5 0.8l-1.6 -0.0l-0.7 -0.2l-1.5 -1.0l-0.9 -1.0l-0.8 -2.1l-0.9 -5.4l-0.4 -5.4l0.1 -20.9l-0.1 -8.6l-5.6 -0.1l-6.4 0.1l-0.3 21.0l-0.3 11.6l0.4 5.4l-0.4 1.7l-0.8 1.0l-0.7 0.4l-1.6 0.1l-1.5 -0.7l-2.4 -2.5l-3.3 -3.1l-6.2 -7.7l-7.5 -10.3l-2.3 -2.4l-0.8 0.2l-1.6 1.5l-0.7 -0.0l-2.4 2.3l-0.7 -0.0l-1.6 1.5l-0.8 0.0l-2.3 2.4l-0.8 -0.0l-1.5 1.7l0.4 0.7l1.1 1.4l7.8 10.7l9.9 12.7l6.4 9.3l3.4 6.2l6.6 15.0l3.1 6.4l3.9 7.2l3.9 6.3l3.9 5.5l4.6 5.9l4.4 4.9l4.9 4.8l7.0 6.1l4.1 3.0l4.5 3.1l8.4 5.0l9.2 4.3l8.7 3.3l10.0 2.7l10.0 1.8l9.4 0.8z" fill="#ffeaea" fill-rule="evenodd"/>
<path d="M263.1 365.4l10.1 0.5l10.1 -0.3l9.2 -1.1l10.1 -2.2l9.3 -2.9l8.5 -3.5l9.0 -4.5l8.6 -5.4l4.2 -3.1l3.8 -3.1l7.0 -6.5l6.2 -6.7l3.1 -3.8l3.1 -4.3l5.4 -8.6l4.6 -8.9l3.8 -9.3l2.6 -8.5l1.4 -6.4l1.2 -6.8l0.6 -7.0l0.3 -6.9l-0.2 -7.0l-0.7 -7.0l-1.2 -7.0l-1.5 -6.6l-1.5 -5.0l-1.6 -4.7l-2.2 -5.4l-2.1 -4.6l-4.9 -9.3l-11.2 -19.4l-2.3 -4.6l-5.7 -12.4l-1.6 -3.9l-1.7 -4.7l-1.3 -4.6l-0.8 -3.9l-1.0 -8.5l-0.5 -11.6l0.3 -40.3l0.4 -22.5l-0.3 -2.6l-0.8 -1.2l-0.8 -0.4l-2.3 -0.3l-10.1 0.5l-8.5 -0.4l-2.3 0.0l-1.4 0.5l-0.7 0.8l-0.3 0.8l-0.2 1.5l0.3 24.0l0.0 35.7l0.5 7.0l1.3 11.6l0.2 6.2l-0.3 3.9l-0.6 4.6l-3.2 14.0l-0.8 4.6l-0.4 4.7l0.3 3.8l0.5 2.4l0.9 3.1l1.3 3.1l1.7 3.1l3.4 5.4l8.2 11.6l3.5 5.4l3.2 5.5l3.0 6.2l2.4 6.2l1.7 6.2l1.3 6.9l0.5 7.0l-0.3 7.8l-1.2 7.7l-1.9 7.0l-1.4 3.9l-1.7 3.8l-3.7 7.0l-4.2 6.2l-4.6 5.4l-5.8 5.5l-4.6 3.7l-5.4 3.5l-6.2 3.2l-5.5 2.3l-5.4 1.7l-6.2 1.5l-5.4 0.7l-6.2 0.4l-6.2 -0.2l-6.2 -0.7l-5.4 -1.0l-6.2 -1.8l-5.5 -2.2l-6.2 -3.0l-5.4 -3.3l-4.6 -3.5l-4.3 -3.7l-4.5 -4.6l-3.9 -4.7l-3.2 -4.6l-3.2 -5.4l-3.0 -6.2l-2.3 -6.2l-1.1 -4.7l-0.3 -2.3l0.1 -2.3l0.5 -2.4l0.7 -1.5l7.1 -12.4l10.8 -17.1l1.9 -2.0l0.0 -0.3l-0.8 -0.8l-0.7 -0.0l-0.8 -0.8l-0.8 -0.0l-1.5 -1.6l-0.8 -0.0l-1.6 -1.5l-0.7 -0.0l-0.8 -0.8l-1.4 0.1l-1.7 1.7l-14.7 23.2l-1.6 3.0l-1.5 4.6l-0.8 1.6l-0.8 0.8l-1.5 0.6l-1.6 0.0l-0.8 -0.2l-1.5 -1.0l-0.8 -1.0l-1.0 -2.3l-0.9 -5.4l-0.4 -5.5l0.2 -20.9l-0.1 -8.5l-11.8 -0.0l-0.5 32.5l0.4 5.5l-0.1 0.7l-0.5 1.4l-1.2 1.0l-1.1 0.3l-0.8 -0.1l-1.6 -0.7l-2.4 -2.6l-3.3 -3.1l-6.3 -7.8l-7.3 -10.1l-2.4 -2.4l-0.7 0.1l-1.6 1.4l-0.8 0.0l-2.3 2.3l-0.8 0.0l-1.5 1.6l-0.8 -0.0l-2.3 2.3l-0.8 0.0l-1.4 1.7l9.2 12.7l9.4 12.1l7.1 10.1l3.8 7.0l6.0 13.4l3.2 6.7l3.8 7.0l3.9 6.4l3.8 5.5l3.9 5.0l3.9 4.5l4.6 4.7l7.0 6.4l7.3 5.5l7.4 4.7l8.7 4.6l9.1 3.8l8.6 2.8l9.3 2.2l9.3 1.3z" fill="#ffe5e5" fill-rule="evenodd"/>
<path d="M266.2 365.4l9.3 0.3l10.1 -0.6l9.3 -1.3l10.0 -2.4l9.0 -3.0l8.9 -3.9l8.6 -4.6l8.2 -5.5l4.1 -3.1l3.7 -3.1l7.1 -6.9l6.2 -7.0l5.7 -7.8l5.2 -8.5l4.5 -9.3l3.3 -8.5l2.6 -9.3l1.3 -6.2l1.0 -7.0l0.6 -7.0l0.0 -6.9l-0.3 -7.0l-0.7 -6.2l-1.3 -7.0l-1.6 -6.2l-3.0 -9.3l-4.1 -9.3l-4.6 -8.9l-11.5 -19.8l-8.3 -17.8l-3.0 -7.7l-1.4 -4.7l-0.8 -3.9l-1.1 -7.7l-0.4 -10.1l0.2 -62.0l-0.2 -2.3l-0.7 -1.8l-0.7 -0.9l-1.6 -0.7l-3.1 -0.3l-13.9 0.0l-2.4 0.3l-1.5 0.6l-0.8 0.9l-0.4 1.1l-0.4 2.3l-0.2 5.5l0.1 50.3l0.4 7.0l1.5 13.2l0.2 5.4l-0.3 4.7l-0.7 4.6l-3.1 13.2l-0.9 4.6l-0.3 4.7l0.2 3.9l0.4 2.3l0.9 3.1l1.3 3.1l1.6 3.1l3.8 6.2l7.5 10.7l3.7 5.6l3.5 6.2l2.6 5.4l2.4 6.2l1.9 7.0l1.1 6.2l0.5 6.9l-0.3 7.8l-1.1 7.0l-2.0 7.7l-2.7 7.0l-3.6 7.0l-4.1 6.2l-4.9 6.0l-5.8 5.6l-4.3 3.4l-5.4 3.6l-6.2 3.4l-5.5 2.3l-5.4 1.8l-7.0 1.6l-6.2 0.9l-6.2 0.3l-6.2 -0.3l-6.2 -0.7l-6.2 -1.4l-5.4 -1.6l-5.4 -2.2l-6.2 -3.2l-5.5 -3.3l-4.6 -3.6l-4.6 -4.1l-4.4 -4.7l-3.7 -4.6l-3.2 -4.7l-3.1 -5.4l-2.9 -6.2l-2.0 -5.4l-1.2 -5.4l-0.2 -2.4l0.2 -2.3l0.7 -2.3l0.8 -1.6l6.4 -10.8l11.2 -17.8l2.1 -2.2l0.0 -0.2l-0.8 -0.8l-0.7 0.0l-0.8 -0.8l-0.8 0.0l-1.5 -1.6l-0.8 0.0l-1.6 -1.5l-0.7 0.0l-0.8 -0.7l-1.2 0.0l-1.9 2.0l-14.9 23.6l-1.5 3.1l-1.1 3.9l-0.7 1.5l-1.2 1.2l-1.5 0.6l-0.8 0.0l-1.6 -0.3l-1.5 -0.9l-0.8 -0.9l-0.7 -1.2l-0.7 -2.4l-0.7 -5.4l-0.3 -3.9l0.2 -22.4l-0.1 -7.8l-11.6 0.0l-0.5 32.6l0.5 5.4l-0.3 1.5l-0.4 0.8l-0.9 0.8l-1.5 0.5l-0.8 -0.1l-1.6 -0.7l-2.5 -2.8l-2.6 -2.3l-2.7 -3.1l-3.7 -4.7l-7.9 -10.8l-2.3 -2.4l-0.7 0.0l-1.6 1.5l-0.8 -0.0l-2.3 2.3l-0.8 -0.1l-1.5 1.6l-0.8 0.0l-2.3 2.4l-0.8 -0.0l-0.8 0.9l-0.5 0.7l9.1 12.6l9.6 12.2l7.2 10.1l3.8 7.0l5.7 12.8l3.9 8.0l3.9 7.1l3.8 6.2l3.9 5.5l3.9 4.9l4.5 5.1l4.7 4.6l7.0 6.2l7.4 5.5l7.6 4.6l9.3 4.7l9.1 3.6l8.6 2.6l10.0 2.0l9.3 1.1z" fill="#ffdfdf" fill-rule="evenodd"/>
<path d="M273.1 365.3l9.3 -0.3l9.3 -1.1l9.3 -1.9l9.3 -2.7l8.5 -3.4l9.2 -4.6l7.7 -4.6l7.4 -5.4l7.5 -6.6l7.0 -7.3l5.7 -7.1l5.1 -7.6l4.7 -8.5l3.9 -8.7l3.1 -8.8l2.2 -9.0l1.2 -6.2l0.7 -7.0l0.4 -6.9l-0.1 -6.2l-0.5 -7.0l-0.8 -5.9l-1.4 -6.5l-1.6 -6.2l-3.2 -9.3l-3.9 -8.7l-4.5 -8.4l-11.2 -19.3l-8.7 -18.6l-3.1 -7.8l-1.8 -7.0l-1.2 -7.7l-0.5 -9.3l0.2 -49.6l-0.2 -10.9l-0.4 -3.1l-0.8 -2.3l-1.1 -1.2l-1.6 -0.7l-2.3 -0.3l-5.4 -0.1l-5.5 0.0l-3.1 0.4l-1.5 0.6l-0.8 0.7l-0.8 1.3l-0.4 1.6l-0.4 3.1l-0.2 6.2l-0.1 44.2l0.4 7.8l1.6 13.9l0.2 6.2l-0.4 4.7l-0.6 3.8l-3.9 17.1l-0.4 3.9l-0.1 3.1l0.3 3.1l0.7 3.1l1.1 3.1l1.7 3.8l3.7 6.2l8.0 11.7l4.0 6.2l3.9 6.9l3.1 7.0l2.2 7.0l1.6 7.7l0.7 7.8l-0.1 7.0l-0.8 6.2l-1.5 6.9l-2.0 6.2l-3.1 7.0l-3.5 6.2l-3.8 5.4l-4.1 4.8l-5.5 5.3l-4.6 3.7l-5.4 3.6l-5.4 3.0l-6.2 2.7l-6.2 2.0l-5.5 1.2l-6.2 1.0l-6.2 0.3l-6.2 -0.1l-6.2 -0.7l-6.2 -1.3l-6.2 -1.9l-5.4 -2.1l-6.2 -3.2l-5.4 -3.3l-4.4 -3.3l-4.4 -3.9l-4.5 -4.7l-3.8 -4.6l-3.7 -5.4l-3.6 -6.2l-2.5 -5.5l-2.2 -6.2l-1.0 -4.6l-0.2 -2.3l0.2 -2.4l0.4 -1.5l0.7 -1.6l6.9 -11.6l10.8 -17.0l0.6 -0.8l2.2 -2.2l-0.8 -1.0l-0.8 0.0l-0.8 -0.8l-0.7 0.0l-1.6 -1.5l-0.8 -0.0l-1.5 -1.6l-0.8 0.0l-0.8 -0.7l-0.9 0.0l-2.2 2.3l-13.8 21.8l-2.4 4.6l-1.0 3.9l-0.6 1.6l-0.8 1.0l-0.6 0.5l-1.7 0.5l-1.5 -0.0l-0.8 -0.3l-1.7 -1.0l-0.7 -0.8l-0.7 -1.1l-0.5 -1.2l-0.3 -1.5l-0.8 -5.5l-0.2 -3.8l0.2 -22.5l-0.2 -7.8l-11.2 0.0l-0.5 31.8l0.0 2.3l0.5 3.9l-0.2 1.6l-0.4 0.7l-1.1 1.1l-0.8 0.3l-1.6 -0.0l-1.5 -0.7l-2.7 -3.0l-2.5 -2.3l-2.2 -2.3l-3.7 -4.7l-8.5 -11.6l-2.3 -2.3l-0.6 -0.1l-1.5 1.5l-0.8 -0.0l-2.3 2.3l-0.8 -0.0l-1.6 1.5l-0.7 0.0l-2.4 2.4l-0.7 0.0l-0.9 0.9l-0.3 0.8l8.9 12.3l9.7 12.5l4.7 6.2l3.1 4.6l3.7 7.0l5.9 13.0l3.9 7.9l3.9 7.0l3.9 6.1l3.9 5.5l4.4 5.4l4.8 5.2l5.1 4.9l7.5 6.2l8.4 5.8l4.6 2.7l4.5 2.4l8.7 3.9l9.3 3.2l10.1 2.5l4.6 0.8l5.4 0.7l10.1 0.5z" fill="#ffdada" fill-rule="evenodd"/>
<path d="M264.6 364.6l10.1 0.4l10.0 -0.5l10.1 -1.4l9.3 -2.2l9.3 -3.1l9.3 -4.0l8.5 -4.6l7.8 -5.2l7.4 -5.8l7.3 -7.0l6.2 -7.0l3.1 -4.0l3.1 -4.5l4.7 -7.7l4.6 -9.4l3.5 -9.2l2.6 -9.3l1.4 -7.0l0.8 -6.2l0.5 -7.0l0.1 -7.0l-0.4 -6.2l-0.8 -6.9l-1.4 -7.0l-1.6 -6.2l-3.1 -9.2l-3.9 -8.8l-4.7 -8.9l-11.3 -19.6l-9.2 -19.4l-3.0 -7.7l-1.7 -6.2l-1.2 -7.8l-0.5 -8.5l0.2 -45.7l-0.4 -13.2l-0.5 -3.9l-1.0 -2.3l-0.8 -1.0l-0.8 -0.5l-1.5 -0.6l-2.4 -0.4l-3.8 -0.1l-4.7 0.1l-2.3 0.4l-1.6 0.6l-0.7 0.5l-0.8 0.8l-0.8 1.6l-0.4 1.7l-0.5 3.9l-0.2 6.9l-0.1 38.8l0.4 9.3l1.7 13.9l0.1 6.2l-0.3 4.7l-0.6 3.9l-4.0 17.0l-0.5 3.9l-0.0 3.9l0.4 3.1l0.7 3.1l1.1 3.1l1.4 3.1l4.1 6.9l8.0 11.7l3.9 6.2l3.7 6.9l2.7 6.2l2.3 7.0l1.5 7.0l0.7 7.7l-0.0 7.0l-0.8 7.0l-1.5 7.0l-2.0 6.2l-2.7 6.2l-3.4 6.2l-4.3 6.2l-4.4 5.1l-5.4 5.2l-4.7 3.7l-5.4 3.6l-5.4 2.9l-5.5 2.4l-6.2 2.1l-6.2 1.5l-6.2 0.9l-6.2 0.4l-6.2 -0.2l-6.2 -0.7l-6.2 -1.3l-6.2 -1.8l-6.2 -2.5l-5.4 -2.8l-5.4 -3.3l-4.7 -3.5l-4.4 -4.0l-4.5 -4.6l-3.8 -4.7l-3.7 -5.4l-3.5 -6.2l-2.8 -6.2l-1.9 -5.4l-1.1 -4.7l-0.3 -2.3l0.2 -2.3l0.4 -1.6l0.7 -1.5l17.5 -27.9l1.1 -1.6l2.3 -2.3l-0.8 -0.8l-0.8 -0.0l-0.8 -0.8l-0.7 -0.1l-1.6 -1.5l-0.8 -0.0l-1.5 -1.5l-0.8 -0.0l-0.8 -0.8l-0.7 0.1l-2.2 2.3l-0.9 1.3l-13.8 21.9l-1.4 3.1l-1.2 4.7l-0.7 1.5l-0.8 0.8l-1.5 0.8l-0.8 0.1l-1.5 -0.1l-1.6 -0.6l-0.8 -0.5l-0.7 -0.8l-0.9 -1.2l-0.8 -2.3l-0.8 -6.2l-0.2 -3.9l0.2 -21.7l-0.2 -8.5l-10.9 -0.0l-0.6 31.7l0.6 7.0l-0.5 1.6l-0.6 0.7l-0.8 0.6l-1.6 0.3l-1.5 -0.4l-0.8 -0.5l-2.8 -3.1l-2.6 -2.4l-2.7 -3.0l-3.1 -3.9l-8.5 -11.6l-2.3 -2.3l-0.5 -0.0l-1.5 1.4l-0.8 0.0l-2.3 2.3l-0.8 -0.0l-1.6 1.5l-0.7 0.0l-2.4 2.4l-0.7 0.0l-0.9 0.9l-0.1 0.8l1.2 1.5l2.1 3.2l6.2 8.5l13.8 17.8l3.2 4.6l3.4 6.2l5.9 13.2l3.9 7.8l3.4 6.2l3.6 5.9l3.9 5.6l3.8 4.9l4.0 4.5l4.6 4.7l3.8 3.6l3.9 3.3l7.3 5.4l7.5 4.7l9.2 4.6l8.6 3.5l8.8 2.7l9.0 2.0l9.3 1.2z" fill="#ffd5d5" fill-rule="evenodd"/>
<path d="M268.5 364.6l10.1 0.1l9.3 -0.8l9.3 -1.5l9.4 -2.5l9.2 -3.3l9.3 -4.3l8.3 -4.8l7.8 -5.4l7.1 -6.0l7.2 -7.2l6.0 -7.1l5.4 -7.8l4.8 -8.3l4.3 -9.3l3.3 -9.2l2.3 -8.6l1.2 -6.2l0.8 -7.0l0.4 -6.8l-0.1 -6.4l-0.4 -7.0l-0.9 -6.2l-1.2 -6.2l-1.6 -6.2l-3.2 -9.3l-4.1 -9.3l-4.1 -7.7l-11.2 -19.4l-10.1 -20.9l-3.0 -7.8l-1.7 -6.2l-1.0 -6.2l-0.5 -8.5l0.1 -44.2l-0.1 -8.5l-0.3 -5.0l-0.7 -4.3l-0.9 -2.0l-0.8 -1.1l-0.7 -0.6l-2.4 -0.9l-3.1 -0.4l-3.8 -0.1l-3.1 0.4l-1.6 0.6l-1.5 1.0l-0.8 1.0l-0.8 1.8l-0.5 2.6l-0.5 4.7l-0.2 7.0l-0.1 34.8l0.5 9.3l1.7 14.0l0.2 6.2l-0.4 4.6l-0.7 3.9l-3.2 13.2l-0.9 4.6l-0.5 3.9l0.0 3.1l0.3 3.1l0.7 3.1l1.1 3.1l1.8 3.9l3.6 6.2l8.4 12.4l3.3 5.4l3.8 7.0l2.7 6.2l2.2 7.0l1.5 6.9l0.8 7.8l-0.1 7.0l-0.7 6.9l-1.6 7.0l-2.0 6.2l-3.0 7.0l-4.0 7.0l-3.9 5.4l-4.1 4.7l-5.4 5.2l-4.7 3.7l-5.4 3.5l-6.2 3.3l-5.4 2.3l-5.4 1.8l-6.2 1.5l-6.2 0.9l-6.2 0.4l-6.2 -0.2l-6.2 -0.7l-6.2 -1.3l-5.5 -1.5l-6.2 -2.5l-6.2 -3.1l-4.6 -2.8l-5.4 -4.0l-4.7 -4.1l-4.6 -4.8l-3.8 -4.6l-3.7 -5.5l-3.5 -6.2l-2.8 -6.2l-2.2 -6.2l-1.0 -4.6l-0.1 -2.3l0.1 -1.6l0.4 -1.5l0.7 -1.6l3.5 -5.1l4.4 -7.3l9.8 -15.5l1.3 -1.7l2.1 -2.2l-0.6 -0.8l-0.8 0.0l-0.7 -0.8l-0.8 0.0l-1.6 -1.6l-0.7 0.0l-1.6 -1.5l-0.8 0.0l-0.7 -0.7l-0.6 0.0l-2.2 2.3l-14.3 22.5l-1.8 3.9l-1.0 4.6l-0.6 1.6l-1.2 1.3l-1.6 0.6l-2.3 -0.1l-1.6 -0.6l-0.7 -0.5l-0.9 -0.7l-1.0 -1.6l-0.8 -2.3l-0.7 -6.2l-0.2 -3.9l0.2 -21.7l-0.2 -8.5l-10.7 0.0l-0.5 31.8l0.7 7.0l-0.2 0.7l-0.5 1.1l-0.7 0.8l-0.8 0.5l-0.8 0.2l-1.5 -0.1l-1.6 -0.7l-0.8 -0.7l-1.5 -1.9l-3.1 -3.0l-2.8 -3.1l-4.8 -6.2l-6.8 -9.3l-2.3 -2.4l-0.4 0.0l-1.5 1.5l-0.8 -0.0l-2.3 2.3l-0.8 -0.0l-1.5 1.5l-0.8 0.0l-2.3 2.4l-0.8 -0.0l-0.8 0.9l-0.1 0.7l7.9 11.0l15.0 19.3l3.8 5.4l3.4 6.2l6.4 14.1l3.1 6.3l3.9 7.0l3.9 6.2l3.9 5.5l4.0 5.1l4.5 5.0l4.6 4.6l3.9 3.5l3.8 3.1l7.6 5.5l8.0 4.7l9.3 4.5l8.5 3.2l4.9 1.5l5.2 1.3l9.3 1.7l9.3 0.9z" fill="#ffd0d0" fill-rule="evenodd"/>
<path d="M263.1 363.9l10.1 0.5l10.1 -0.3l9.2 -1.1l10.1 -2.2l9.3 -3.0l8.5 -3.5l8.6 -4.4l8.5 -5.5l4.2 -3.0l3.8 -3.1l7.4 -7.0l6.3 -7.1l3.1 -4.0l3.1 -4.4l4.8 -7.8l4.5 -9.3l3.6 -9.3l2.6 -9.1l1.2 -5.6l0.9 -6.2l0.5 -5.4l0.2 -6.2l-0.1 -6.2l-0.4 -5.4l-0.8 -5.5l-1.1 -6.2l-1.4 -5.4l-1.6 -5.4l-2.0 -5.4l-2.4 -5.6l-5.4 -10.7l-9.0 -15.5l-3.8 -7.0l-4.3 -9.1l-5.1 -10.3l-2.3 -5.4l-1.5 -4.6l-0.9 -3.9l-0.7 -3.9l-0.7 -8.5l-0.1 -7.8l0.2 -35.6l-0.1 -8.5l-0.4 -5.5l-0.8 -4.3l-1.1 -2.6l-0.7 -0.8l-1.3 -1.0l-2.3 -0.8l-2.3 -0.3l-3.1 0.1l-2.3 0.4l-1.9 0.8l-1.2 1.0l-0.9 1.3l-0.7 1.8l-0.6 2.9l-0.4 4.6l-0.3 7.8l-0.1 31.0l0.5 9.3l1.9 14.7l0.1 6.2l-0.4 4.7l-0.6 3.8l-3.3 13.2l-1.0 4.7l-0.5 3.8l-0.0 3.9l0.4 3.1l0.7 3.1l1.1 3.1l1.4 3.1l3.6 6.2l7.8 11.6l3.8 6.2l3.4 6.2l3.1 7.0l2.2 7.0l1.5 7.0l0.7 6.9l0.0 7.0l-0.7 7.0l-1.4 7.0l-2.2 6.9l-3.0 7.0l-3.5 6.2l-4.4 6.2l-4.4 5.1l-5.4 5.1l-4.6 3.7l-5.5 3.5l-5.4 2.9l-6.2 2.7l-6.2 2.0l-5.4 1.3l-6.2 0.9l-6.2 0.3l-6.2 -0.1l-6.2 -0.7l-6.2 -1.3l-6.2 -1.8l-5.4 -2.2l-6.2 -3.1l-5.5 -3.3l-4.6 -3.4l-4.7 -4.1l-4.6 -4.8l-3.5 -4.2l-3.7 -5.5l-3.2 -5.4l-3.3 -7.0l-2.3 -6.2l-1.3 -5.4l-0.2 -2.3l0.1 -1.6l0.7 -2.3l4.3 -6.2l4.2 -7.0l10.4 -16.2l0.9 -1.2l1.9 -1.9l-0.4 -0.8l-0.7 -0.0l-0.8 -0.9l-0.8 0.0l-1.5 -1.5l-0.8 -0.0l-1.6 -1.5l-0.7 -0.0l-0.8 -0.8l-0.3 0.0l-2.0 2.1l-0.8 1.0l-13.7 21.7l-1.8 3.9l-1.1 5.4l-0.5 1.2l-1.0 1.2l-2.1 0.7l-2.3 -0.1l-1.5 -0.6l-1.2 -0.8l-1.2 -1.2l-0.6 -1.1l-0.7 -2.4l-0.9 -9.3l0.2 -23.2l-0.1 -7.8l-10.4 0.0l-0.5 31.8l0.7 7.0l-0.4 1.5l-0.4 0.7l-0.8 0.7l-0.8 0.4l-0.8 0.2l-1.5 -0.1l-1.6 -0.7l-0.7 -0.7l-1.6 -2.0l-3.2 -3.1l-2.8 -3.1l-4.3 -5.4l-7.3 -10.1l-2.3 -2.3l-0.2 -0.1l-1.6 1.5l-0.8 -0.0l-2.3 2.3l-0.8 -0.0l-1.5 1.5l-0.8 0.0l-2.3 2.4l-0.8 0.0l-0.8 0.9l0.0 0.7l8.6 11.9l15.0 19.2l3.3 4.6l3.8 7.0l5.8 12.6l3.7 7.5l3.4 6.2l3.7 6.0l3.4 4.9l3.6 4.6l4.1 4.7l4.4 4.6l6.9 6.2l7.1 5.5l7.7 4.9l8.5 4.5l8.6 3.6l8.5 2.8l9.3 2.2l9.3 1.4z" fill="#ffcaca" fill-rule="evenodd"/>
<path d="M266.2 363.8l10.1 0.3l9.3 -0.6l9.3 -1.3l9.4 -2.3l9.2 -3.0l8.9 -4.0l8.6 -4.6l8.1 -5.4l7.6 -6.2l7.2 -7.0l6.1 -7.0l3.1 -4.1l3.0 -4.4l4.9 -8.5l4.4 -9.3l3.1 -8.6l2.4 -9.0l1.1 -5.7l0.8 -5.4l0.4 -5.8l0.2 -5.8l-0.2 -5.9l-0.4 -5.8l-0.8 -5.4l-1.1 -5.6l-1.5 -6.0l-1.6 -5.0l-2.2 -5.9l-2.5 -5.6l-4.6 -9.1l-9.4 -16.3l-3.3 -6.2l-4.4 -9.0l-6.0 -11.9l-2.0 -4.6l-1.6 -4.7l-1.6 -7.0l-0.5 -3.8l-0.3 -4.7l-0.1 -7.7l0.3 -34.1l-0.2 -8.6l-0.4 -5.4l-0.7 -4.5l-0.9 -2.5l-1.2 -1.5l-0.9 -0.8l-2.5 -0.9l-2.3 -0.3l-2.3 0.1l-2.3 0.6l-1.6 1.0l-0.9 1.1l-0.9 1.5l-0.5 1.6l-0.6 3.1l-0.5 5.4l-0.3 7.7l-0.0 27.9l0.5 9.3l2.0 14.8l0.1 6.2l-0.3 3.8l-0.8 4.7l-3.4 13.2l-1.0 4.6l-0.6 4.7l0.0 3.8l0.5 3.1l0.8 3.1l1.1 3.1l1.4 3.1l3.6 6.2l7.3 10.9l3.8 6.2l3.7 7.0l2.7 6.2l2.3 6.9l1.4 7.0l0.8 7.0l-0.0 7.0l-0.8 7.7l-1.5 7.0l-2.3 7.0l-2.8 6.2l-3.4 6.2l-4.3 6.2l-4.8 5.4l-5.4 5.1l-5.4 4.2l-5.4 3.4l-6.2 3.2l-5.5 2.2l-5.4 1.7l-6.2 1.4l-6.2 0.8l-6.2 0.3l-6.2 -0.2l-6.2 -0.7l-6.2 -1.4l-6.2 -1.9l-5.4 -2.2l-6.2 -3.2l-5.4 -3.4l-4.7 -3.5l-4.6 -4.2l-4.5 -4.7l-3.8 -4.7l-3.6 -5.4l-3.5 -6.2l-2.9 -6.2l-2.2 -6.2l-1.2 -5.4l-0.2 -3.1l0.4 -1.6l0.8 -1.5l4.4 -5.8l14.4 -22.9l2.7 -3.1l-0.1 -0.8l-0.7 0.0l-0.8 -0.8l-0.8 -0.0l-1.5 -1.6l-0.8 0.0l-1.6 -1.5l-0.7 0.0l-0.8 -0.7l-2.4 2.3l-13.8 21.7l-1.6 3.1l-0.6 1.6l-0.4 1.5l-0.4 3.9l-0.5 1.5l-1.2 1.3l-1.6 0.6l-1.5 0.1l-1.6 -0.2l-2.3 -1.1l-0.8 -0.7l-1.3 -1.5l-0.9 -2.3l-0.7 -6.2l-0.2 -3.9l0.2 -22.5l-0.1 -8.5l-10.2 -0.0l-0.5 31.8l0.2 2.3l0.6 3.1l0.1 1.5l-0.4 1.6l-0.4 0.8l-1.1 0.9l-1.6 0.5l-1.5 -0.1l-1.6 -0.8l-0.7 -0.7l-1.8 -2.2l-3.2 -3.1l-2.7 -3.1l-4.3 -5.4l-7.3 -10.1l-2.3 -2.3l-1.7 1.5l-0.8 -0.0l-2.3 2.2l-0.8 0.0l-1.5 1.6l-0.8 -0.0l-2.3 2.4l-0.8 -0.0l-0.8 0.8l0.0 0.7l1.4 1.7l1.0 1.6l6.2 8.5l15.8 20.1l3.2 4.6l3.0 5.5l6.6 14.3l3.1 6.2l3.9 7.0l3.9 6.2l3.9 5.4l3.8 4.8l3.9 4.3l4.7 4.7l6.7 6.0l7.3 5.4l7.7 4.7l9.3 4.7l9.3 3.7l8.5 2.5l9.3 1.9l9.3 1.1z" fill="#ffc5c5" fill-rule="evenodd"/>
<path d="M261.5 363.0l10.1 0.7l9.3 -0.2l5.4 -0.4l4.7 -0.6l9.2 -1.9l9.4 -2.7l9.3 -3.7l8.7 -4.4l4.4 -2.6l4.3 -2.8l4.3 -3.1l3.8 -3.1l7.0 -6.5l6.2 -6.7l3.1 -3.9l3.1 -4.2l2.8 -4.3l2.6 -4.4l4.7 -9.3l3.4 -8.8l2.8 -9.4l1.3 -6.1l0.9 -6.2l0.5 -5.4l0.2 -6.2l-0.1 -5.4l-0.4 -6.2l-0.9 -6.2l-1.0 -5.4l-1.4 -5.5l-2.0 -6.2l-1.8 -4.8l-2.6 -6.0l-5.1 -10.1l-9.0 -15.5l-2.9 -5.4l-5.2 -10.6l-6.6 -12.7l-1.7 -3.8l-1.6 -4.7l-0.8 -3.1l-0.8 -3.9l-0.7 -7.7l-0.0 -7.0l0.3 -31.8l-0.2 -8.5l-0.3 -6.2l-0.7 -4.6l-1.2 -3.1l-1.2 -1.5l-0.8 -0.7l-2.3 -0.9l-1.5 -0.2l-2.3 0.1l-1.6 0.6l-1.5 1.0l-1.2 1.6l-0.7 1.5l-0.7 2.3l-0.5 3.1l-0.4 5.5l-0.2 7.7l-0.0 24.8l0.6 8.7l2.0 14.6l0.1 6.2l-0.3 3.8l-0.7 4.7l-3.9 14.7l-0.9 3.9l-0.6 4.6l-0.0 3.9l0.4 3.1l0.7 3.1l1.1 3.1l1.4 3.1l3.5 6.2l7.7 11.6l3.8 6.2l3.6 7.0l2.6 6.2l2.2 7.0l1.2 6.2l0.8 7.0l-0.0 6.9l-0.7 7.0l-1.4 7.0l-2.2 7.0l-3.0 6.9l-3.9 7.0l-3.9 5.4l-4.7 5.5l-5.7 5.4l-4.7 3.6l-5.4 3.5l-6.2 3.3l-5.4 2.3l-5.5 1.7l-6.9 1.6l-6.2 0.9l-6.2 0.3l-7.0 -0.3l-6.2 -0.9l-5.4 -1.1l-6.2 -2.0l-6.2 -2.5l-5.5 -2.8l-5.4 -3.4l-4.6 -3.5l-4.7 -4.1l-4.8 -5.1l-3.7 -4.7l-3.7 -5.4l-3.5 -6.2l-3.1 -7.0l-2.2 -6.2l-1.2 -5.4l-0.1 -3.1l0.4 -1.6l5.6 -6.9l14.3 -22.5l1.1 -1.6l1.7 -1.7l-0.0 -0.6l-0.8 -0.0l-0.8 -0.8l-0.7 -0.0l-1.6 -1.6l-0.8 0.0l-1.5 -1.5l-0.8 -0.0l-0.8 -0.7l-2.2 2.3l-10.9 17.1l-3.7 6.1l-1.0 2.4l-0.5 1.5l-0.5 5.4l-0.5 1.5l-1.0 0.9l-2.1 0.7l-1.6 0.1l-1.5 -0.3l-2.4 -1.0l-1.9 -1.9l-0.8 -1.5l-0.5 -1.6l-0.8 -10.0l0.2 -21.7l-0.2 -9.3l-9.8 -0.0l-0.4 31.0l0.1 3.1l0.7 3.1l0.1 1.5l-0.3 1.6l-0.4 0.7l-1.5 1.3l-1.5 0.4l-1.6 -0.2l-1.5 -0.8l-0.8 -0.7l-1.9 -2.3l-3.1 -3.1l-2.8 -3.1l-4.3 -5.4l-7.3 -10.1l-2.3 -2.3l-1.5 1.4l-0.8 0.0l-2.3 2.3l-0.8 0.0l-1.6 1.6l-0.7 -0.0l-2.4 2.3l-0.7 0.0l-0.9 0.9l0.1 0.6l1.5 1.7l0.8 1.5l7.0 9.5l15.3 19.3l2.8 3.8l3.5 6.2l6.3 13.6l3.9 7.8l3.7 6.5l3.4 5.5l3.7 5.2l3.2 4.1l4.1 4.6l4.3 4.5l6.2 5.6l7.0 5.4l7.2 4.7l8.6 4.6l9.0 3.9l7.8 2.6l8.5 2.1l9.3 1.5z" fill="#ffc0c0" fill-rule="evenodd"/>
<path d="M264.6 363.0l10.1 0.4l9.3 -0.4l5.4 -0.6l4.6 -0.8l9.3 -2.1l8.6 -2.8l9.3 -3.9l8.5 -4.6l8.2 -5.4l4.1 -3.1l3.7 -3.1l7.2 -6.9l6.2 -7.1l5.6 -7.7l5.1 -8.5l4.2 -8.5l3.5 -9.3l2.6 -9.3l1.2 -6.2l0.7 -5.4l0.5 -5.5l0.2 -6.2l-0.2 -6.2l-0.5 -5.4l-0.9 -6.2l-1.1 -5.4l-1.5 -5.7l-1.6 -5.2l-2.3 -5.8l-2.3 -5.3l-4.6 -9.1l-11.1 -19.3l-6.0 -12.1l-6.5 -11.9l-2.5 -5.4l-2.3 -6.2l-1.3 -6.2l-0.6 -7.0l0.4 -36.4l-0.2 -9.3l-0.4 -6.2l-0.8 -4.7l-0.5 -1.5l-0.8 -1.5l-1.5 -1.7l-1.3 -0.7l-1.0 -0.3l-1.6 -0.1l-1.5 0.3l-1.6 0.7l-1.0 0.9l-1.0 1.6l-0.6 1.5l-0.6 2.4l-0.5 3.1l-0.4 5.4l-0.2 7.7l-0.1 13.2l0.1 9.3l0.7 8.5l2.1 14.8l0.1 6.2l-0.4 3.8l-0.8 4.7l-4.1 14.7l-1.0 4.6l-0.6 4.7l0.0 3.9l0.5 3.1l0.8 3.1l1.1 3.1l1.4 3.1l3.6 6.2l6.6 10.1l3.8 6.2l3.3 6.2l3.1 6.9l2.2 7.0l1.3 6.2l0.9 7.0l0.1 7.0l-0.8 7.7l-1.4 7.0l-2.1 7.0l-3.0 6.9l-3.5 6.2l-4.3 6.2l-4.6 5.5l-6.1 5.8l-4.7 3.6l-5.4 3.4l-6.2 3.3l-6.2 2.5l-6.2 1.9l-6.2 1.3l-6.2 0.8l-6.2 0.2l-6.2 -0.3l-7.0 -0.9l-5.4 -1.3l-6.2 -1.9l-6.2 -2.7l-5.4 -2.8l-5.5 -3.5l-4.6 -3.6l-5.4 -5.0l-4.3 -4.7l-4.2 -5.4l-3.4 -5.5l-3.3 -6.2l-3.0 -6.9l-2.3 -7.0l-1.1 -5.4l-0.0 -1.6l0.2 -0.8l0.5 -0.7l3.8 -3.7l1.6 -1.8l14.8 -23.2l1.1 -1.6l1.9 -1.9l-0.0 -0.4l-0.8 0.0l-0.8 -0.8l-0.7 -0.0l-1.6 -1.6l-0.8 0.0l-1.5 -1.5l-0.8 0.0l-0.8 -0.5l-2.0 2.1l-11.9 18.7l-2.7 4.5l-1.2 3.1l-0.4 2.4l0.1 3.8l-0.2 1.6l-0.5 0.8l-0.5 0.3l-2.3 0.8l-1.6 0.1l-1.5 -0.1l-1.6 -0.5l-1.5 -0.7l-1.6 -1.3l-0.7 -1.0l-0.9 -1.5l-0.4 -1.6l-0.7 -10.0l0.2 -21.7l-0.1 -9.3l-9.5 -0.0l-0.2 3.1l-0.3 27.9l0.2 2.9l0.9 4.8l-0.3 1.6l-0.4 0.7l-0.6 0.8l-1.2 0.8l-1.5 0.4l-1.6 -0.2l-1.5 -0.9l-0.8 -0.7l-2.0 -2.5l-3.2 -3.1l-2.7 -3.1l-4.9 -6.2l-6.7 -9.3l-2.2 -2.2l-1.5 1.4l-0.8 -0.0l-2.3 2.2l-0.8 0.0l-1.6 1.6l-0.7 -0.0l-2.4 2.4l-0.7 -0.0l-0.8 0.8l0.0 0.6l1.6 1.7l0.7 1.3l7.0 9.6l15.6 19.4l2.8 3.8l3.5 6.2l6.8 14.6l3.1 6.1l3.8 6.9l3.9 6.1l3.1 4.4l3.9 4.9l3.9 4.4l4.6 4.7l6.9 6.1l7.2 5.4l7.6 4.7l9.0 4.6l8.8 3.6l8.6 2.6l8.5 1.9l9.3 1.2z" fill="#ffbbbb" fill-rule="evenodd"/>
<path d="M270.0 363.0l9.3 -0.0l9.3 -0.9l9.3 -1.6l9.3 -2.5l9.3 -3.5l8.2 -3.9l8.1 -4.7l7.6 -5.4l7.3 -6.2l6.9 -7.0l6.1 -7.2l5.1 -7.5l4.8 -8.5l4.0 -8.7l3.1 -8.7l2.3 -9.0l1.3 -6.9l0.7 -6.2l0.3 -7.0l-0.1 -6.2l-0.5 -7.0l-0.9 -6.2l-1.5 -7.0l-1.8 -6.2l-2.9 -8.0l-3.9 -8.6l-4.6 -8.8l-9.4 -16.4l-6.9 -13.5l-8.0 -14.4l-3.1 -7.0l-1.6 -5.4l-0.8 -4.7l-0.2 -4.6l0.6 -31.8l-0.0 -10.1l-0.4 -6.2l-0.6 -4.6l-0.6 -2.3l-0.6 -1.6l-0.9 -1.5l-0.8 -0.8l-1.6 -0.8l-0.8 -0.2l-1.5 0.2l-1.6 0.7l-0.8 0.9l-0.7 1.0l-0.9 2.1l-0.7 2.8l-0.3 2.6l-0.4 5.0l-0.3 8.2l-0.0 11.6l0.2 8.5l0.8 9.3l2.1 12.4l0.3 3.9l-0.1 3.1l-0.4 3.9l-1.0 4.6l-4.3 14.7l-1.2 5.0l-0.7 5.1l0.1 4.7l0.5 3.1l0.6 2.3l1.1 3.1l1.3 3.1l3.5 6.2l7.1 10.8l3.2 5.5l3.7 6.9l2.7 6.2l2.2 7.0l1.5 7.0l0.7 7.0l0.1 6.9l-0.8 7.8l-1.5 7.0l-2.3 6.9l-3.1 7.0l-3.5 6.2l-4.4 6.2l-4.7 5.4l-5.8 5.4l-4.6 3.6l-4.7 3.0l-5.4 2.9l-6.2 2.7l-5.4 1.9l-5.4 1.3l-6.2 1.0l-6.2 0.5l-6.2 0.0l-6.2 -0.6l-6.2 -1.0l-5.5 -1.5l-5.4 -1.9l-5.4 -2.4l-5.4 -2.9l-4.7 -3.0l-5.5 -4.3l-5.7 -5.4l-4.7 -5.5l-4.5 -6.2l-4.0 -6.9l-2.9 -6.2l-2.4 -6.2l-2.8 -9.3l-0.8 -1.4l-0.8 -0.3l-4.6 0.3l-3.1 -0.7l-1.6 -0.8l-1.3 -1.0l-1.0 -1.1l-0.8 -1.2l-0.6 -1.6l-0.3 -1.5l-0.4 -7.8l0.3 -24.0l-0.2 -8.5l-9.2 -0.0l-0.1 3.1l-0.4 27.9l0.2 2.3l1.0 5.4l-0.2 1.6l-0.3 0.7l-0.6 0.9l-1.6 1.0l-1.5 0.3l-1.6 -0.2l-1.5 -0.9l-0.8 -0.6l-2.2 -2.8l-3.2 -3.2l-2.7 -3.0l-4.8 -6.2l-6.7 -9.3l-2.1 -2.1l-1.6 1.3l-0.7 -0.0l-2.4 2.2l-0.7 0.0l-1.6 1.6l-0.8 -0.0l-2.3 2.4l-0.8 -0.0l-0.8 0.8l0.1 0.5l1.7 1.8l0.6 1.1l7.7 10.6l5.5 6.9l9.7 11.7l2.8 3.8l3.5 6.2l6.4 13.8l3.9 7.7l3.9 6.8l3.9 6.0l3.8 5.3l3.9 4.7l4.7 5.0l4.6 4.5l7.0 5.9l7.7 5.5l8.6 4.9l9.3 4.3l8.9 3.1l8.9 2.4l9.3 1.6l9.3 0.7zM200.3 260.3l1.5 -0.5l1.6 -1.1l1.5 -1.4l1.6 -1.8l15.1 -23.5l2.7 -3.0l0.0 -0.1l-0.7 -0.0l-0.8 -0.8l-0.8 -0.0l-1.5 -1.6l-0.8 0.0l-1.6 -1.5l-0.7 -0.0l-0.8 -0.4l-1.9 2.0l-11.3 17.8l-3.2 5.4l-1.2 3.1l-0.3 2.3l0.1 1.6l0.5 2.3l0.2 0.6l0.8 0.6z" fill="#ffb5b5" fill-rule="evenodd"/>
<path d="M263.8 362.3l10.1 0.5l9.3 -0.4l9.3 -1.1l9.6 -2.1l9.0 -2.9l8.5 -3.5l8.7 -4.5l8.4 -5.4l7.7 -6.0l7.0 -6.5l6.2 -6.9l3.1 -3.9l3.1 -4.4l4.8 -8.0l4.6 -9.3l3.6 -9.3l2.5 -8.9l1.1 -5.8l0.9 -6.2l0.5 -5.4l0.2 -6.2l-0.2 -6.2l-0.5 -5.4l-0.9 -6.2l-1.1 -5.6l-1.6 -5.8l-1.9 -5.7l-2.1 -5.4l-3.0 -6.5l-4.6 -8.9l-9.8 -17.2l-7.3 -14.0l-8.9 -15.4l-3.1 -6.2l-1.4 -3.9l-0.9 -3.9l-0.3 -4.6l1.1 -28.7l-0.0 -10.8l-0.4 -7.8l-0.6 -4.6l-1.0 -3.2l-0.7 -1.4l-0.8 -0.8l-1.6 -0.8l-1.5 0.2l-0.8 0.5l-0.8 0.8l-1.1 2.3l-0.6 2.4l-0.6 3.4l-0.5 8.2l-0.1 13.9l0.4 10.1l1.0 8.3l2.3 11.1l0.3 3.9l-0.2 3.1l-0.6 3.8l-0.9 3.9l-4.8 15.2l-1.5 5.7l-0.9 5.5l0.1 4.6l0.4 3.1l0.8 3.1l1.1 3.1l1.5 3.1l3.0 5.4l7.4 11.7l3.3 5.4l3.6 7.0l2.5 6.2l2.2 6.9l1.3 6.2l0.7 7.0l0.0 7.0l-0.8 7.7l-1.6 7.8l-2.4 7.0l-3.2 6.9l-4.1 7.0l-3.9 5.4l-4.9 5.5l-6.0 5.4l-4.8 3.6l-4.6 2.9l-6.2 3.2l-5.5 2.3l-5.4 1.7l-6.2 1.4l-5.4 0.8l-6.2 0.5l-5.4 -0.1l-6.2 -0.5l-5.5 -1.0l-6.2 -1.5l-5.4 -1.9l-5.4 -2.4l-5.4 -2.9l-5.5 -3.6l-5.1 -4.1l-4.9 -4.6l-4.9 -5.4l-4.0 -5.5l-3.8 -6.2l-3.1 -6.2l-2.3 -5.4l-3.6 -10.3l-0.8 -1.5l-0.8 -0.8l-0.8 -0.3l-4.6 -0.5l-3.1 -1.0l-1.6 -0.9l-1.0 -1.0l-1.7 -2.3l-0.5 -1.5l-0.3 -1.6l-0.2 -7.0l0.2 -24.8l-0.2 -8.5l-8.8 0.0l-0.2 3.1l-0.3 27.9l0.3 3.1l1.0 3.9l0.0 1.5l-0.1 0.8l-0.6 1.1l-0.7 0.9l-0.8 0.6l-1.6 0.5l-1.5 0.0l-1.6 -0.5l-1.5 -1.2l-2.3 -2.9l-3.9 -3.9l-2.6 -3.1l-4.8 -6.2l-6.1 -8.5l-2.0 -2.1l-0.8 0.5l-0.8 0.7l-0.7 0.0l-2.4 2.3l-0.7 -0.0l-1.6 1.5l-0.8 0.0l-2.3 2.4l-0.8 0.0l-0.8 0.9l0.1 0.4l1.8 1.9l0.5 0.9l8.5 11.6l5.4 6.8l9.2 10.9l2.4 3.1l3.6 6.2l9.7 20.2l3.0 5.6l3.1 5.1l3.9 5.8l4.6 5.9l4.7 5.4l4.7 4.7l6.9 6.1l7.0 5.2l7.8 4.8l8.1 4.1l8.1 3.3l9.0 2.9l8.9 1.9l8.5 1.2zM200.3 258.8l0.8 0.3l1.5 -0.4l2.3 -1.8l1.6 -1.8l1.5 -2.2l14.0 -21.9l1.5 -2.1l-0.7 -0.8l-0.8 0.0l-1.6 -1.6l-0.7 0.0l-1.6 -1.5l-1.5 -0.2l-1.7 1.8l-11.5 18.1l-2.6 4.4l-1.3 3.1l-0.4 2.3l0.1 1.6l0.3 1.5l0.8 1.2z" fill="#ffb0b0" fill-rule="evenodd"/>
<path d="M268.5 362.3l9.3 0.1l8.5 -0.6l8.6 -1.3l8.7 -2.1l9.1 -3.0l7.7 -3.3l8.5 -4.5l7.3 -4.7l7.0 -5.4l6.7 -6.1l6.2 -6.6l5.4 -6.9l5.0 -7.5l4.3 -8.0l3.9 -8.8l2.7 -8.0l1.9 -7.5l1.3 -7.3l0.8 -7.7l0.3 -7.8l-0.4 -7.7l-0.8 -7.0l-1.3 -7.0l-2.2 -8.0l-2.3 -6.6l-2.3 -5.5l-3.0 -6.2l-3.2 -6.2l-9.8 -17.1l-8.1 -15.3l-12.4 -19.7l-1.5 -2.3l-1.6 -1.6l-0.7 -0.2l-0.8 0.6l-0.8 1.4l-5.4 14.7l-2.7 7.7l-1.3 4.7l-0.7 3.8l-0.3 3.9l0.3 3.9l0.4 2.3l0.8 3.1l2.2 5.4l3.0 5.5l7.4 11.6l3.6 6.2l3.9 7.7l2.7 7.0l2.0 7.8l0.7 3.8l0.5 4.7l0.2 7.7l-0.3 4.7l-0.5 3.9l-0.8 3.8l-1.1 4.7l-1.6 4.6l-1.5 3.9l-1.8 3.9l-2.5 4.6l-2.0 3.1l-2.7 3.9l-3.2 3.9l-2.9 3.1l-3.2 3.1l-3.3 2.8l-3.1 2.3l-3.8 2.6l-3.9 2.3l-3.9 1.9l-5.4 2.4l-4.7 1.5l-5.4 1.5l-4.6 0.8l-5.5 0.6l-5.4 0.3l-5.4 -0.2l-5.4 -0.6l-5.5 -0.9l-5.4 -1.4l-4.6 -1.6l-4.7 -2.0l-4.6 -2.3l-4.7 -2.7l-4.7 -3.3l-4.0 -3.2l-4.5 -4.3l-3.9 -4.3l-3.6 -4.6l-3.2 -4.7l-2.7 -4.6l-2.7 -5.4l-2.3 -5.5l-3.3 -8.7l-1.1 -2.1l-0.7 -0.8l-1.3 -0.7l-4.6 -0.9l-3.1 -1.2l-2.3 -1.8l-1.6 -2.4l-0.7 -2.3l-0.2 -2.3l-0.0 -8.5l0.3 -21.7l-0.2 -8.6l-8.5 0.0l-0.1 3.1l-0.3 27.9l0.2 2.4l1.1 4.6l0.2 1.6l-0.5 1.5l-0.4 0.8l-0.8 0.8l-1.0 0.6l-1.5 0.4l-1.6 -0.0l-1.5 -0.6l-1.6 -1.2l-2.4 -3.1l-3.8 -3.8l-2.7 -3.2l-5.4 -7.0l-5.5 -7.7l-1.9 -2.0l-0.7 0.4l-0.8 0.7l-0.8 0.0l-2.3 2.3l-0.8 0.0l-1.5 1.6l-0.8 -0.0l-2.3 2.3l-0.8 0.0l-0.8 0.9l0.0 0.3l1.9 2.0l6.7 9.2l4.6 6.1l12.6 14.9l2.3 3.1l2.0 3.1l2.1 3.9l6.6 13.9l3.1 6.1l3.1 5.6l3.1 5.1l3.9 5.7l4.6 5.9l4.7 5.2l5.4 5.4l7.1 6.0l7.6 5.4l8.0 4.7l8.3 3.9l8.5 3.3l9.3 2.6l9.3 1.7l9.3 0.9zM201.1 258.1l0.8 0.1l1.5 -0.6l1.6 -1.2l1.5 -1.7l2.3 -3.4l13.2 -20.8l1.2 -1.6l-0.4 -0.8l-0.8 0.0l-1.5 -1.6l-0.8 0.0l-1.5 -1.5l-1.6 -0.1l-1.5 1.7l-11.7 18.5l-2.3 4.0l-1.3 3.1l-0.3 2.3l0.1 1.0l0.3 1.3l0.4 0.7l0.8 0.6zM329.7 130.5l0.8 0.7l0.8 -0.4l0.7 -2.1l0.8 -4.2l0.8 -9.5l0.4 -13.2l-0.3 -9.3l-0.2 -3.1l-0.6 -3.1l-0.9 -2.7l-0.8 -1.1l-0.7 -0.5l-0.8 0.0l-0.8 0.5l-1.0 1.5l-0.6 1.5l-0.6 3.1l-0.5 6.2l-0.2 9.3l0.1 8.6l0.6 6.9l0.7 4.3l0.8 3.0l0.7 2.1l0.8 1.5z" fill="#ffabab" fill-rule="evenodd"/>
<path d="M263.1 361.5l9.3 0.5l9.3 -0.2l9.3 -1.0l8.3 -1.7l8.2 -2.3l8.3 -3.1l8.3 -3.9l8.0 -4.6l7.7 -5.4l6.5 -5.5l7.0 -6.9l5.9 -7.0l5.4 -7.7l4.6 -7.8l3.9 -8.4l3.0 -7.9l2.2 -7.7l1.6 -7.8l1.0 -7.7l0.4 -7.8l-0.2 -7.7l-0.7 -7.8l-1.4 -7.7l-2.0 -7.8l-3.1 -8.6l-4.6 -10.3l-3.9 -7.3l-9.8 -17.2l-6.5 -12.3l-3.9 -6.2l-6.1 -8.8l-3.1 -3.8l-1.6 -1.2l-0.8 -0.4l-0.7 -0.0l-0.8 0.3l-0.8 0.6l-1.5 2.2l-2.4 4.8l-3.1 7.8l-2.0 6.2l-1.0 4.6l-0.5 4.7l0.2 3.8l0.3 2.4l0.8 3.1l2.2 5.4l2.9 5.4l7.8 12.4l3.6 6.2l3.7 7.8l2.6 6.9l1.3 4.7l0.8 3.9l1.0 7.7l0.0 7.8l-0.2 3.8l-0.7 4.7l-0.9 4.6l-1.3 4.7l-2.9 7.7l-1.9 3.9l-2.1 3.9l-2.4 3.9l-2.9 3.8l-3.0 3.6l-3.1 3.3l-3.3 3.2l-3.6 3.0l-3.9 2.8l-3.9 2.5l-3.9 2.1l-3.8 1.8l-5.5 2.2l-4.6 1.5l-5.4 1.2l-5.5 0.9l-4.6 0.4l-5.4 0.1l-5.5 -0.3l-5.4 -0.6l-4.6 -1.0l-5.5 -1.4l-4.6 -1.7l-5.4 -2.3l-4.7 -2.5l-4.6 -2.8l-3.9 -2.8l-3.9 -3.3l-3.9 -3.7l-4.2 -4.6l-3.7 -4.7l-3.1 -4.6l-2.7 -4.7l-2.3 -4.6l-2.1 -4.7l-3.6 -8.9l-1.5 -2.8l-0.8 -0.8l-1.1 -0.6l-5.1 -1.4l-2.3 -1.0l-1.6 -1.1l-1.2 -1.2l-1.5 -2.3l-0.6 -1.6l-0.2 -2.3l0.4 -26.3l0.0 -10.1l-0.2 -3.1l-8.0 -0.0l-0.3 3.1l-0.2 27.1l0.2 3.1l1.3 4.7l0.2 1.5l-0.4 1.6l-0.4 0.7l-0.7 0.8l-1.5 1.0l-1.6 0.4l-1.5 -0.1l-1.6 -0.6l-1.5 -1.2l-2.6 -3.4l-3.9 -3.8l-3.3 -3.9l-7.0 -9.3l-3.2 -4.7l-1.7 -1.8l-0.8 0.3l-0.8 0.7l-0.8 -0.0l-2.3 2.3l-0.8 -0.0l-1.5 1.5l-0.8 0.0l-2.3 2.4l-0.8 0.0l-0.8 0.8l0.0 0.3l2.1 2.1l7.2 10.1l4.7 5.9l7.0 8.4l5.1 5.8l2.4 3.1l3.7 6.2l9.7 20.1l3.1 5.6l3.1 5.1l3.9 5.7l4.1 5.3l4.4 5.1l4.9 5.0l7.0 6.2l7.4 5.4l7.5 4.7l7.6 3.9l8.2 3.4l8.6 2.7l8.5 2.0l8.5 1.2zM201.1 257.2l0.8 0.3l1.5 -0.4l1.6 -1.1l1.5 -1.7l1.6 -2.1l5.4 -8.5l7.0 -10.9l1.2 -2.3l1.2 -1.5l-0.1 -0.8l-0.8 -0.0l-1.5 -1.6l-0.8 0.0l-1.5 -1.5l-1.6 0.0l-1.2 1.6l-13.6 21.7l-1.5 3.1l-0.4 2.3l0.3 2.3l0.9 1.1zM329.7 111.3l0.8 -0.8l0.4 -4.0l0.2 -3.9l-0.2 -3.9l-0.4 -2.7l-0.8 -0.4l-0.7 3.9l-0.1 3.9l0.1 3.9l0.7 4.0z" fill="#ffa6a6" fill-rule="evenodd"/>
<path d="M267.7 361.5l9.3 0.2l8.5 -0.6l8.5 -1.2l9.3 -2.2l8.6 -2.8l8.2 -3.5l7.4 -3.9l7.4 -4.6l7.2 -5.5l6.2 -5.5l6.2 -6.4l5.4 -6.7l4.8 -6.9l4.5 -8.0l3.9 -8.4l3.1 -8.4l2.1 -7.8l1.5 -7.7l0.8 -7.8l0.3 -7.7l-0.3 -7.8l-0.9 -7.7l-1.3 -7.0l-2.2 -8.1l-3.1 -8.5l-4.5 -9.8l-4.0 -7.4l-9.1 -15.8l-6.4 -12.2l-3.9 -6.1l-5.4 -7.2l-3.1 -3.2l-1.6 -1.1l-0.8 -0.3l-1.5 0.0l-0.8 0.4l-1.5 1.5l-2.3 3.8l-2.4 5.1l-2.3 6.2l-1.4 5.3l-0.7 4.7l0.1 4.6l0.4 2.4l0.7 3.1l1.1 3.1l1.4 3.1l2.9 5.4l7.3 11.6l3.9 7.0l3.4 7.0l2.5 6.9l2.0 7.8l0.7 4.6l0.4 3.9l0.1 4.7l-0.1 3.8l-0.3 3.9l-0.7 4.7l-1.0 4.6l-1.3 4.7l-3.0 7.7l-1.9 3.9l-2.2 3.9l-2.5 3.8l-2.9 3.9l-2.7 3.3l-3.1 3.2l-3.1 2.9l-3.9 3.3l-3.8 2.7l-3.9 2.5l-3.9 2.1l-4.6 2.2l-4.7 1.8l-4.6 1.4l-5.5 1.3l-5.4 0.9l-5.4 0.4l-5.4 0.1l-5.5 -0.4l-5.4 -0.7l-4.7 -1.0l-5.4 -1.5l-4.6 -1.7l-5.5 -2.4l-4.6 -2.5l-4.7 -3.0l-3.8 -2.8l-3.9 -3.3l-4.3 -4.1l-3.4 -3.9l-3.7 -4.7l-3.1 -4.6l-2.2 -3.9l-2.5 -4.6l-2.1 -4.7l-3.5 -8.6l-1.7 -3.0l-0.7 -0.8l-1.5 -1.0l-5.4 -1.8l-2.3 -1.2l-2.5 -2.2l-1.5 -2.3l-0.6 -1.6l-0.2 -2.3l0.2 -4.6l0.4 -17.9l0.1 -13.9l-0.2 -3.1l-7.7 -0.0l-0.2 3.1l-0.3 27.1l0.3 3.1l1.5 4.7l0.2 1.5l-0.1 0.8l-0.6 1.5l-0.6 0.8l-1.4 1.0l-2.3 0.7l-1.6 -0.1l-1.5 -0.6l-1.6 -1.2l-2.7 -3.7l-3.9 -3.8l-3.2 -3.9l-7.1 -9.3l-3.1 -4.7l-1.7 -1.8l-0.8 0.2l-0.7 0.8l-0.8 -0.0l-2.3 2.3l-0.8 -0.0l-1.6 1.5l-0.7 0.0l-2.4 2.4l-0.7 0.0l-0.8 0.8l2.1 2.4l7.2 9.9l5.4 6.9l6.2 7.3l5.5 6.1l2.4 3.1l2.0 3.1l2.1 3.9l6.6 13.9l3.1 6.1l3.1 5.5l3.1 5.1l4.1 5.8l4.4 5.7l4.7 5.1l5.4 5.4l6.5 5.5l7.6 5.4l7.9 4.7l8.2 3.9l8.6 3.3l9.3 2.6l9.3 1.8l8.5 0.8zM201.1 256.2l0.8 0.4l0.8 0.1l0.7 -0.3l1.6 -1.0l1.5 -1.6l6.2 -9.3l7.8 -12.2l0.9 -1.8l1.4 -1.6l0.0 -0.7l-0.8 -0.0l-1.5 -1.6l-0.8 -0.0l-1.5 -1.5l-1.3 -0.0l-1.3 1.5l-13.5 21.7l-1.2 2.4l-0.6 2.3l0.0 1.5l0.8 1.7z" fill="#ffa0a0" fill-rule="evenodd"/>
<path d="M263.1 360.8l9.3 0.6l8.5 -0.2l9.3 -1.0l8.6 -1.6l8.8 -2.5l8.2 -3.1l8.2 -3.9l6.8 -3.9l7.5 -5.1l6.9 -5.7l6.4 -6.2l6.1 -7.0l5.4 -7.4l4.4 -7.3l4.1 -8.2l3.1 -7.8l2.3 -7.4l1.9 -8.4l1.2 -7.7l0.5 -7.8l-0.1 -8.5l-0.8 -7.8l-1.3 -7.7l-2.0 -7.8l-3.2 -9.4l-4.6 -9.9l-4.0 -7.6l-9.0 -15.7l-6.5 -12.0l-3.8 -6.0l-3.9 -5.0l-3.1 -3.2l-1.6 -1.2l-1.5 -0.8l-1.6 -0.1l-0.7 0.2l-0.8 0.4l-1.6 1.5l-2.3 3.6l-2.3 4.8l-2.0 5.4l-1.2 4.7l-0.6 4.6l0.1 4.7l0.6 3.1l0.6 2.3l2.2 5.4l2.9 5.4l7.1 11.7l4.0 6.9l3.6 7.8l2.5 7.0l1.2 4.6l0.8 3.9l0.5 3.9l0.4 4.6l0.1 3.9l-0.2 4.6l-0.6 4.7l-0.6 3.9l-0.9 3.8l-1.4 4.7l-1.7 4.6l-1.8 3.9l-2.0 3.9l-2.2 3.9l-2.7 3.8l-3.0 3.9l-3.4 3.8l-3.1 3.0l-3.1 2.8l-3.9 3.0l-3.8 2.6l-3.9 2.3l-7.8 3.7l-4.6 1.8l-5.4 1.6l-5.5 1.1l-4.6 0.7l-5.4 0.4l-4.7 -0.0l-5.4 -0.3l-5.4 -0.8l-5.5 -1.1l-5.4 -1.6l-4.6 -1.7l-4.7 -2.2l-4.7 -2.4l-4.6 -3.0l-4.7 -3.4l-3.8 -3.3l-3.9 -3.9l-3.5 -3.9l-3.0 -3.8l-3.2 -4.7l-2.3 -3.9l-2.5 -4.6l-2.2 -4.7l-3.5 -8.2l-1.8 -3.4l-1.2 -1.3l-0.8 -0.5l-6.2 -2.4l-2.4 -1.4l-2.2 -2.1l-1.1 -1.6l-0.8 -1.5l-0.4 -2.4l0.6 -6.9l0.3 -11.7l0.1 -18.6l-0.2 -3.1l-7.3 0.0l-0.2 3.1l-0.2 27.2l0.5 3.8l1.5 3.9l0.3 1.6l-0.2 1.5l-0.4 0.8l-1.1 1.2l-1.6 1.0l-1.5 0.5l-2.3 -0.1l-1.6 -0.6l-1.5 -1.3l-3.0 -3.8l-3.8 -3.9l-3.8 -4.6l-7.0 -9.3l-2.6 -3.9l-1.5 -1.7l-0.8 0.1l-0.8 0.7l-0.8 0.0l-2.3 2.3l-0.8 0.0l-1.5 1.6l-0.8 -0.0l-2.3 2.3l-0.8 0.1l-0.8 0.8l2.2 2.3l7.9 10.7l4.7 5.9l6.2 7.3l5.8 6.3l2.4 3.1l2.0 3.1l1.7 3.1l9.8 20.2l3.1 5.5l3.1 5.1l3.9 5.6l4.2 5.5l4.3 4.8l5.1 5.3l6.5 5.6l7.0 5.2l7.5 4.7l7.6 3.8l8.1 3.4l8.6 2.8l8.5 2.0l8.5 1.2zM201.8 255.8l0.8 0.2l1.5 -0.5l1.6 -1.3l1.5 -1.9l13.2 -20.4l0.7 -1.4l1.6 -1.8l0.0 -0.5l-0.7 -0.0l-1.6 -1.6l-0.8 -0.0l-1.5 -1.5l-1.0 -0.0l-1.3 1.6l-13.2 21.1l-1.4 2.9l-0.5 2.3l0.1 1.5l0.4 0.8l0.6 0.5z" fill="#ff9b9b" fill-rule="evenodd"/>
<path d="M266.9 360.7l8.5 0.2l8.6 -0.4l8.5 -1.1l8.5 -1.8l7.8 -2.4l8.5 -3.4l7.7 -3.8l7.8 -4.6l6.9 -5.0l6.6 -5.6l6.6 -6.7l5.4 -6.5l5.0 -7.0l4.3 -7.4l3.9 -7.9l3.1 -7.9l2.3 -7.8l1.6 -7.0l1.1 -7.7l0.5 -7.8l-0.1 -7.7l-0.7 -8.5l-1.4 -7.8l-1.7 -7.0l-3.2 -9.3l-2.3 -5.3l-2.3 -4.9l-3.9 -7.4l-9.0 -15.7l-6.5 -11.8l-3.1 -4.9l-3.8 -4.9l-3.1 -3.1l-1.6 -1.2l-1.5 -0.7l-1.6 -0.3l-0.8 0.1l-1.5 0.8l-0.8 0.6l-2.3 3.1l-2.0 3.7l-1.9 4.7l-1.6 5.4l-0.7 4.6l0.1 4.7l0.5 3.1l0.6 2.3l2.0 5.4l2.9 5.5l7.6 12.4l3.8 6.9l3.6 7.8l2.4 7.0l1.0 3.8l0.8 4.7l0.6 4.6l0.2 3.9l0.1 3.9l-0.3 4.6l-0.5 4.7l-0.8 3.9l-1.1 4.6l-1.2 3.9l-1.8 4.6l-1.8 3.9l-2.0 3.9l-2.4 3.9l-2.7 3.8l-3.0 3.9l-3.2 3.5l-3.6 3.5l-3.4 2.9l-3.8 2.9l-3.9 2.5l-3.9 2.2l-4.6 2.3l-3.9 1.6l-4.7 1.6l-5.4 1.5l-4.6 0.9l-5.5 0.7l-5.4 0.2l-5.4 -0.1l-4.7 -0.4l-5.4 -0.8l-5.4 -1.3l-4.7 -1.4l-4.6 -1.8l-4.7 -2.2l-4.6 -2.5l-4.7 -3.0l-3.8 -2.9l-4.3 -3.7l-3.5 -3.4l-3.2 -3.6l-3.1 -3.8l-3.2 -4.7l-2.4 -3.9l-2.5 -4.6l-2.2 -4.7l-3.8 -8.5l-2.1 -3.5l-1.1 -1.1l-1.2 -0.8l-5.4 -2.2l-2.7 -1.7l-2.5 -2.3l-1.1 -1.6l-0.8 -1.5l-0.3 -0.8l-0.3 -1.5l1.0 -5.5l0.4 -8.5l0.3 -18.6l-0.0 -4.6l-0.2 -3.1l-6.9 -0.0l-0.2 3.1l-0.2 27.1l0.4 3.1l0.7 2.1l1.2 2.5l0.5 2.4l-0.6 1.5l-0.6 0.8l-2.1 1.5l-2.3 0.7l-1.5 0.1l-1.6 -0.4l-0.8 -0.4l-1.5 -1.2l-3.1 -4.2l-4.5 -4.6l-3.8 -4.7l-6.9 -9.3l-2.0 -3.1l-1.4 -1.6l-0.8 0.0l-0.8 0.8l-0.7 -0.0l-2.4 2.3l-0.7 -0.0l-1.6 1.5l-0.8 0.0l-2.3 2.4l-0.8 -0.0l-0.7 0.8l2.3 2.3l7.7 10.6l5.5 6.8l5.4 6.3l6.2 6.6l2.4 3.1l2.0 3.1l2.1 3.8l6.7 13.9l3.1 6.1l3.1 5.5l2.9 4.8l4.0 5.8l4.7 5.8l4.6 5.2l5.0 4.9l6.7 5.6l7.3 5.2l7.8 4.7l8.1 3.9l7.8 3.0l9.3 2.7l9.3 1.9l8.5 0.9zM201.8 254.8l0.8 0.4l0.8 -0.1l0.7 -0.3l0.8 -0.5l1.5 -1.5l4.7 -6.8l9.3 -14.6l0.5 -0.9l1.8 -2.0l0.0 -0.4l-0.8 0.0l-1.5 -1.5l-0.8 -0.0l-1.5 -1.6l-0.3 0.0l-2.0 2.3l-10.9 17.0l-2.3 4.0l-0.8 1.6l-0.6 2.3l0.0 1.5l0.6 1.1z" fill="#ff9696" fill-rule="evenodd"/>
<path d="M262.3 359.9l8.5 0.6l8.6 -0.1l8.5 -0.7l8.5 -1.4l8.7 -2.3l8.3 -2.9l8.6 -3.9l7.3 -4.0l7.0 -4.7l6.9 -5.4l6.7 -6.3l6.2 -6.9l4.7 -6.2l4.6 -7.1l4.0 -7.6l3.7 -8.5l2.4 -7.0l2.2 -8.5l1.3 -7.8l0.7 -7.7l0.1 -8.6l-0.6 -7.7l-1.1 -7.8l-1.9 -7.9l-3.1 -9.4l-2.3 -5.7l-2.3 -4.9l-4.7 -8.9l-14.7 -26.0l-3.1 -4.8l-3.1 -3.8l-3.1 -3.1l-1.5 -1.2l-1.6 -0.8l-1.5 -0.3l-0.8 0.0l-1.6 0.6l-0.7 0.5l-2.4 2.5l-2.0 3.5l-2.1 4.6l-1.4 4.7l-0.8 4.6l0.0 4.7l0.3 2.3l0.7 3.1l2.1 5.4l2.7 5.5l8.0 13.1l3.8 7.0l3.1 7.0l2.4 7.0l1.2 4.6l0.7 3.9l0.5 3.9l0.3 4.6l-0.0 4.7l-0.3 4.6l-0.5 3.9l-0.9 4.6l-1.2 4.7l-1.5 4.6l-1.6 3.9l-2.2 4.7l-2.1 3.8l-2.5 3.9l-2.2 3.1l-3.2 3.9l-3.6 3.9l-3.3 3.1l-3.7 3.0l-3.8 2.9l-3.9 2.4l-3.9 2.2l-4.6 2.2l-3.9 1.5l-7.8 2.4l-6.9 1.4l-7.8 0.8l-7.7 -0.1l-7.8 -0.8l-3.9 -0.7l-4.6 -1.2l-7.0 -2.4l-7.0 -3.1l-6.9 -4.1l-6.2 -4.5l-5.6 -5.0l-5.7 -6.2l-4.1 -5.5l-3.4 -5.4l-4.2 -7.7l-4.9 -10.9l-1.6 -2.6l-1.5 -1.6l-2.2 -1.2l-4.8 -2.2l-2.3 -1.4l-2.1 -1.8l-3.4 -4.4l-0.7 -0.5l-3.7 2.5l-2.5 1.0l-1.6 0.1l-1.5 -0.2l-1.6 -0.6l-0.8 -0.6l-1.5 -1.6l-2.5 -3.5l-3.8 -3.9l-3.2 -3.8l-6.5 -8.6l-3.7 -5.4l-1.3 -1.5l-0.7 -0.1l-0.8 0.8l-0.8 -0.0l-2.3 2.3l-0.8 -0.0l-1.5 1.5l-0.8 0.0l-2.3 2.4l-0.8 -0.0l-0.7 0.8l2.3 2.3l7.7 10.4l5.4 6.8l5.5 6.2l6.5 6.9l2.5 3.1l2.0 3.1l1.7 3.1l9.7 19.9l5.5 9.5l3.8 5.7l4.6 5.9l4.7 5.4l4.7 4.7l6.2 5.5l7.2 5.4l7.4 4.6l7.5 3.9l8.1 3.4l8.5 2.7l7.8 1.9l8.5 1.3zM180.1 254.3l0.8 -0.5l0.7 -1.5l0.7 -2.4l0.3 -2.3l0.5 -17.1l0.1 -12.4l-0.3 -3.1l-6.4 0.0l-0.2 3.1l-0.3 24.1l0.1 3.8l0.3 1.6l0.6 1.9l1.6 2.9l0.7 1.2l0.8 0.7zM202.6 254.3l0.8 0.1l1.5 -0.7l2.3 -2.4l13.5 -20.8l2.0 -2.4l-0.7 0.0l-1.6 -1.5l-0.8 -0.0l-0.7 -0.8l-0.8 -0.4l-2.3 2.4l-10.1 15.8l-3.1 5.4l-0.6 1.6l-0.3 1.6l0.1 1.2l0.8 0.9z" fill="#ff9191" fill-rule="evenodd"/>
<path d="M266.9 360.0l8.5 0.2l8.6 -0.4l8.5 -1.1l8.4 -1.8l7.7 -2.4l7.9 -3.1l7.9 -3.8l7.8 -4.7l6.5 -4.6l6.5 -5.5l6.2 -6.2l6.0 -6.9l5.0 -7.0l4.5 -7.6l3.9 -7.9l2.7 -7.0l2.4 -7.7l1.8 -7.8l1.0 -7.0l0.6 -7.7l-0.0 -8.5l-0.7 -7.8l-1.1 -7.0l-1.9 -7.7l-1.7 -5.4l-1.6 -4.4l-2.3 -5.5l-2.3 -4.9l-4.7 -8.7l-13.2 -23.1l-3.1 -5.0l-3.1 -4.0l-3.1 -3.0l-1.5 -1.2l-1.6 -0.9l-2.3 -0.4l-1.5 0.3l-0.8 0.4l-2.3 2.1l-2.4 3.6l-2.2 5.1l-1.3 4.6l-0.7 4.7l0.2 3.8l0.3 2.4l0.7 3.1l2.1 5.4l2.4 4.6l7.4 12.4l3.8 7.0l3.9 8.5l2.3 7.0l0.9 3.9l0.9 4.6l0.5 4.7l0.2 3.9l-0.1 4.6l-0.3 3.9l-0.4 3.9l-0.9 4.6l-1.2 4.7l-1.2 3.8l-1.5 3.9l-2.2 4.7l-2.5 4.6l-2.5 3.9l-2.8 3.9l-2.7 3.3l-3.1 3.3l-3.6 3.4l-3.3 2.9l-3.9 2.9l-3.9 2.5l-3.9 2.2l-4.6 2.2l-4.7 1.9l-6.9 2.2l-7.8 1.6l-8.5 0.8l-7.8 -0.1l-7.7 -0.9l-7.8 -1.8l-7.7 -2.7l-7.0 -3.2l-6.2 -3.6l-6.2 -4.6l-5.4 -4.8l-5.6 -6.0l-3.6 -4.6l-3.6 -5.5l-3.9 -6.9l-6.6 -13.6l-1.5 -2.2l-1.4 -1.3l-1.7 -1.0l-3.9 -1.8l-2.3 -1.3l-2.7 -2.1l-3.5 -3.5l-0.8 -0.3l-1.5 0.3l-3.1 1.4l-2.4 0.5l-2.3 -0.3l-1.5 -0.6l-0.8 -0.6l-1.6 -1.6l-2.6 -3.8l-3.8 -3.9l-3.9 -4.6l-10.8 -14.8l-0.6 0.0l-0.7 0.8l-0.8 -0.0l-2.3 2.2l-0.8 0.0l-1.6 1.6l-0.7 -0.0l-2.4 2.4l-0.7 -0.0l-0.5 0.8l2.2 2.3l7.6 10.2l6.2 7.7l5.4 6.1l6.2 6.2l2.5 3.1l1.9 3.1l2.1 3.9l6.7 13.8l3.1 6.0l3.1 5.5l3.0 4.9l3.9 5.6l4.2 5.3l4.9 5.4l4.9 4.8l6.2 5.3l7.5 5.4l7.8 4.7l7.9 3.8l7.9 3.1l9.2 2.7l9.3 1.9l8.5 0.9zM202.6 253.2l0.8 0.4l0.8 -0.1l0.7 -0.4l2.3 -2.4l12.7 -19.4l2.8 -3.1l-0.7 -0.0l-1.6 -1.6l-0.8 0.0l-0.7 -0.7l-0.7 -0.0l-2.3 2.3l-11.8 18.6l-1.7 3.9l-0.1 1.5l0.3 1.0zM180.1 252.3l0.8 -0.4l0.7 -1.4l0.5 -2.2l0.3 -2.7l0.5 -16.7l0.0 -10.8l-0.2 -3.1l-5.9 -0.0l-0.3 3.1l-0.2 24.0l0.1 3.1l0.5 3.1l0.9 1.8l1.5 1.9l0.8 0.3z" fill="#ff8b8b" fill-rule="evenodd"/>
<path d="M262.3 359.1l8.5 0.6l8.6 -0.1l8.5 -0.7l8.5 -1.5l8.6 -2.2l8.4 -3.0l8.6 -3.9l7.1 -3.9l7.0 -4.7l6.8 -5.4l6.5 -6.2l5.9 -6.5l5.1 -6.7l4.4 -7.0l4.2 -7.7l3.3 -7.9l2.4 -6.8l2.2 -8.6l1.3 -7.7l0.7 -7.8l0.1 -8.5l-0.6 -7.7l-1.1 -7.8l-1.8 -7.7l-3.2 -9.4l-2.3 -5.7l-2.4 -5.1l-4.6 -8.7l-13.1 -23.0l-3.1 -4.9l-3.1 -3.9l-3.1 -2.9l-1.6 -1.0l-1.5 -0.7l-2.3 -0.3l-1.6 0.5l-0.8 0.4l-2.0 1.9l-1.8 2.6l-2.2 4.4l-1.4 4.6l-0.7 4.7l0.0 3.8l0.3 2.4l0.7 3.1l2.0 5.4l2.8 5.4l7.4 12.4l3.7 7.0l3.4 7.7l2.3 7.0l1.1 4.7l0.7 3.8l0.5 3.9l0.2 4.7l-0.0 4.6l-0.4 4.7l-0.6 4.6l-0.8 3.9l-1.0 3.9l-1.5 4.6l-1.6 3.9l-2.2 4.6l-2.1 3.9l-2.4 3.9l-2.8 3.9l-3.2 3.8l-3.0 3.3l-3.9 3.6l-3.9 3.2l-3.8 2.8l-3.9 2.4l-3.9 2.2l-4.6 2.1l-4.7 1.9l-7.7 2.2l-7.8 1.4l-7.7 0.6l-7.8 -0.2l-7.7 -0.9l-7.8 -1.9l-7.7 -2.7l-7.0 -3.3l-6.2 -3.8l-6.2 -4.6l-5.4 -4.9l-5.3 -5.7l-3.6 -4.6l-4.0 -6.2l-3.9 -7.0l-5.7 -11.8l-1.6 -2.3l-1.5 -1.6l-2.2 -1.4l-5.6 -2.8l-2.5 -1.8l-2.9 -2.5l-1.5 -0.9l-1.6 0.0l-3.1 1.0l-2.3 0.4l-2.3 -0.3l-0.8 -0.3l-1.6 -0.9l-1.5 -1.7l-2.9 -4.1l-3.7 -3.9l-3.9 -4.6l-10.8 -14.8l-0.4 0.0l-0.8 0.8l-0.8 -0.0l-2.3 2.2l-0.8 0.0l-1.5 1.6l-0.8 0.0l-2.3 2.4l-0.8 0.0l-0.3 0.8l2.2 2.3l7.4 10.0l4.7 5.8l6.2 7.1l7.4 7.3l2.5 3.1l1.9 3.1l1.7 3.1l9.7 19.8l5.4 9.4l3.9 5.7l4.2 5.4l4.3 5.1l5.0 5.0l6.1 5.4l7.2 5.5l7.5 4.6l7.4 3.9l7.9 3.3l8.5 2.8l7.8 1.9l8.5 1.3zM203.4 252.5l0.8 0.2l0.7 -0.3l0.8 -0.6l1.6 -1.7l2.3 -3.4l10.4 -16.2l2.2 -2.3l-0.2 -0.0l-1.6 -1.6l-0.7 0.0l-0.8 -0.7l-0.2 -0.0l-2.3 2.3l-0.6 0.8l-9.3 14.6l-2.3 4.0l-0.8 1.7l-0.4 1.4l-0.0 0.7l0.4 1.1zM179.4 250.8l0.8 0.1l0.8 -0.5l0.2 -0.6l0.6 -1.5l0.4 -3.1l0.3 -4.9l0.2 -9.9l0.0 -12.4l-0.2 -3.1l-5.4 0.0l-0.0 0.3l-0.3 2.8l-0.1 26.4l0.3 2.3l0.5 1.6l1.1 1.9l0.8 0.6z" fill="#ff8686" fill-rule="evenodd"/>
<path d="M266.9 359.2l8.5 0.2l8.6 -0.4l8.5 -1.1l7.7 -1.7l8.2 -2.4l7.9 -3.1l7.9 -3.9l6.5 -3.9l6.7 -4.6l6.6 -5.5l6.3 -6.2l5.7 -6.5l4.9 -6.6l4.4 -7.2l3.9 -7.6l3.1 -7.4l2.4 -7.3l1.9 -7.7l1.3 -7.8l0.6 -7.7l0.0 -7.8l-0.5 -7.7l-1.0 -7.0l-1.8 -7.8l-2.2 -6.9l-3.0 -7.9l-3.9 -8.2l-5.4 -9.9l-10.9 -18.7l-3.1 -4.9l-2.3 -2.9l-2.3 -2.4l-2.3 -1.7l-1.6 -0.8l-2.3 -0.4l-1.6 0.3l-0.7 0.3l-2.4 1.9l-2.3 3.3l-1.8 3.9l-1.3 4.6l-0.5 3.9l0.1 3.9l0.8 4.7l2.0 5.4l2.3 4.6l8.1 14.0l3.7 7.0l3.3 7.7l2.2 7.0l0.9 3.9l0.8 4.6l0.5 4.7l0.1 4.6l-0.1 4.7l-0.5 4.6l-0.7 4.7l-0.9 3.8l-1.3 4.7l-1.7 4.6l-1.7 3.9l-2.4 4.7l-2.3 3.8l-2.6 3.9l-3.0 3.9l-2.7 3.1l-3.1 3.1l-3.6 3.3l-3.9 3.1l-3.9 2.7l-3.8 2.3l-3.9 2.1l-4.7 2.1l-4.6 1.8l-7.8 2.1l-6.9 1.3l-8.6 0.6l-7.7 -0.3l-7.8 -1.1l-7.7 -1.9l-7.8 -2.8l-6.9 -3.4l-6.2 -3.8l-6.2 -4.7l-5.4 -5.0l-4.9 -5.4l-3.6 -4.6l-3.6 -5.5l-3.9 -6.9l-5.8 -11.7l-1.5 -2.4l-1.6 -1.6l-1.9 -1.4l-6.6 -3.5l-4.6 -3.5l-1.6 -0.8l-1.5 -0.2l-3.9 0.9l-2.3 0.1l-2.4 -0.6l-1.5 -1.0l-1.6 -1.7l-3.0 -4.4l-4.4 -4.7l-3.8 -4.6l-6.3 -8.5l-2.6 -3.9l-1.3 -1.6l-0.3 0.0l-0.7 0.8l-0.8 -0.0l-2.3 2.2l-0.8 0.0l-1.6 1.6l-0.7 -0.0l-2.4 2.4l-0.8 0.0l-0.1 0.8l2.8 3.1l7.4 9.9l4.7 5.9l6.2 6.9l7.1 6.7l2.5 3.1l1.9 3.1l2.1 3.9l8.9 18.2l3.1 5.6l3.1 5.1l3.8 5.6l4.7 5.9l4.7 5.3l5.4 5.2l6.6 5.7l6.5 4.6l7.8 4.7l8.5 4.1l8.5 3.3l8.6 2.4l8.5 1.7l8.5 0.9zM204.2 251.4l0.8 -0.0l0.7 -0.5l2.4 -2.7l10.4 -16.2l1.6 -2.3l1.5 -1.5l-0.3 -0.8l-0.8 -0.8l-0.8 -0.0l-0.8 -0.5l-2.0 2.1l-1.1 1.5l-9.3 14.6l-1.5 2.7l-1.1 2.9l-0.0 0.7l0.3 0.8zM178.6 249.2l0.8 0.6l0.8 -0.0l0.7 -0.8l0.7 -2.2l0.2 -1.6l0.4 -6.2l0.2 -10.1l0.1 -10.8l-0.4 -3.1l-4.7 -0.0l-0.3 3.1l-0.2 25.6l0.5 3.1l0.4 1.3l0.8 1.1z" fill="#ff8181" fill-rule="evenodd"/>
<path d="M263.1 358.4l8.5 0.5l8.6 -0.1l7.7 -0.7l8.5 -1.5l8.3 -2.1l7.2 -2.5l8.4 -3.7l7.2 -3.9l6.9 -4.4l6.3 -4.9l6.8 -6.2l5.9 -6.2l5.0 -6.4l4.7 -6.9l3.9 -6.9l3.8 -8.5l2.6 -6.9l2.2 -7.8l1.5 -7.7l0.9 -7.8l0.2 -8.5l-0.3 -7.8l-0.9 -6.9l-1.6 -7.8l-2.2 -7.9l-2.9 -7.6l-3.3 -7.3l-4.7 -8.9l-11.6 -20.0l-3.1 -5.0l-2.3 -3.1l-2.4 -2.5l-2.3 -1.8l-1.5 -0.8l-2.4 -0.6l-1.5 0.1l-0.8 0.3l-1.3 0.8l-1.0 0.8l-1.9 2.3l-2.0 3.8l-1.4 3.9l-0.7 4.7l-0.0 3.9l0.4 3.1l0.6 2.3l2.0 5.4l2.3 4.7l7.2 12.4l4.1 7.7l3.0 7.0l2.3 7.0l1.0 3.8l0.8 4.7l0.5 4.6l0.2 4.7l-0.1 4.6l-0.3 3.9l-0.6 4.7l-1.0 4.6l-1.3 4.7l-1.6 4.6l-1.6 3.9l-2.3 4.6l-2.2 3.9l-3.1 4.7l-2.8 3.6l-2.9 3.3l-3.3 3.4l-3.8 3.5l-3.1 2.5l-3.9 2.7l-3.9 2.4l-3.9 2.1l-4.6 2.2l-4.7 1.8l-7.7 2.3l-7.8 1.4l-8.5 0.6l-7.7 -0.3l-7.8 -1.1l-7.7 -1.9l-7.0 -2.5l-7.8 -3.7l-6.9 -4.3l-5.5 -4.1l-5.4 -5.0l-5.3 -5.8l-3.6 -4.7l-3.1 -4.6l-4.0 -7.0l-5.7 -11.5l-1.6 -2.5l-2.2 -2.3l-2.4 -1.5l-5.4 -3.0l-4.7 -3.2l-1.5 -0.8l-1.6 -0.2l-3.8 0.5l-2.4 0.0l-2.3 -0.6l-1.5 -1.0l-1.6 -1.7l-3.1 -4.7l-4.5 -4.7l-4.4 -5.4l-9.6 -13.2l-0.9 0.7l-0.7 0.0l-2.4 2.3l-0.7 -0.0l-1.6 1.5l-0.8 0.0l-2.3 2.4l-0.8 0.1l0.0 0.7l2.9 3.1l7.2 9.8l5.4 6.7l4.7 5.1l7.6 7.1l2.7 3.1l3.3 5.4l9.6 19.7l3.1 5.6l3.1 5.2l3.9 5.7l4.4 5.7l4.8 5.4l4.7 4.7l6.3 5.4l6.9 5.2l7.0 4.3l7.8 4.0l8.5 3.5l7.5 2.4l8.0 1.8l8.5 1.3zM205.7 249.6l0.8 -0.5l0.8 -0.9l1.5 -2.1l10.1 -15.6l1.9 -3.1l-0.4 -0.8l-1.5 -0.1l-1.6 1.7l-10.8 17.2l-0.8 1.4l-0.8 2.3l0.8 0.5zM179.4 248.7l0.8 -0.1l0.8 -1.1l0.7 -4.6l0.3 -7.7l0.2 -11.6l-0.0 -5.5l-0.4 -3.1l-4.0 0.0l-0.4 3.1l-0.1 25.6l0.5 3.1l0.8 1.4l0.8 0.5z" fill="#ff7b7b" fill-rule="evenodd"/>
<path d="M267.7 358.4l8.5 0.2l7.8 -0.4l8.5 -1.2l7.9 -1.7l7.7 -2.3l7.9 -3.1l7.9 -3.9l6.6 -3.9l6.6 -4.6l6.5 -5.5l6.2 -6.1l5.5 -6.2l4.6 -6.3l4.7 -7.4l3.8 -7.6l3.1 -7.4l2.4 -7.1l1.9 -7.7l1.2 -7.2l0.6 -7.5l0.1 -7.7l-0.5 -7.8l-1.0 -7.3l-1.7 -7.4l-2.2 -7.3l-3.2 -8.2l-3.8 -7.9l-5.4 -10.0l-9.3 -15.8l-3.9 -6.0l-2.3 -2.8l-1.5 -1.6l-2.4 -1.7l-1.5 -0.8l-2.3 -0.4l-1.6 0.3l-0.8 0.3l-1.9 1.4l-1.9 2.4l-1.7 3.1l-1.4 4.1l-0.7 4.4l0.0 3.9l0.9 4.6l1.9 5.4l2.5 5.1l7.4 12.8l4.0 7.7l2.9 7.0l2.2 7.0l0.9 3.8l0.8 4.7l0.5 4.6l0.1 4.7l-0.1 4.6l-0.5 4.7l-0.7 4.6l-0.9 3.9l-1.3 4.7l-1.7 4.6l-1.6 3.9l-2.4 4.6l-2.2 3.9l-3.2 4.7l-3.0 3.8l-2.7 3.1l-3.2 3.1l-3.8 3.5l-3.9 3.0l-3.9 2.7l-3.8 2.3l-3.9 2.0l-4.7 2.1l-4.6 1.8l-7.0 2.0l-7.7 1.3l-8.6 0.6l-7.7 -0.2l-7.8 -1.1l-7.7 -1.9l-7.8 -2.8l-6.9 -3.3l-6.2 -3.8l-6.2 -4.6l-5.5 -5.0l-5.1 -5.5l-3.6 -4.7l-3.2 -4.6l-4.0 -7.0l-6.4 -12.4l-1.7 -2.4l-1.5 -1.6l-2.1 -1.4l-4.9 -2.7l-5.4 -3.5l-1.6 -0.7l-1.5 -0.3l-4.7 0.3l-1.5 -0.1l-2.4 -0.6l-1.5 -1.0l-1.6 -1.7l-2.7 -4.5l-5.0 -5.4l-4.4 -5.4l-9.6 -12.9l-0.7 0.5l-0.8 -0.0l-2.3 2.2l-0.8 0.0l-1.6 1.6l-0.7 -0.0l-2.4 2.4l-0.7 -0.0l-0.0 0.6l2.3 2.4l7.7 10.4l6.2 7.6l5.5 5.7l6.6 5.8l2.7 3.1l2.0 3.1l1.7 3.1l9.4 19.5l3.1 5.6l3.1 5.0l3.9 5.7l4.7 5.8l4.6 5.2l5.4 5.3l6.3 5.3l7.7 5.4l8.0 4.7l8.3 3.8l8.4 3.1l8.5 2.4l8.6 1.5l7.8 0.8zM178.6 246.8l0.8 0.6l0.8 -0.3l0.7 -1.7l0.5 -3.3l0.3 -7.0l0.1 -17.1l-0.5 -3.1l-3.1 0.0l-0.5 3.1l-0.1 24.1l0.2 2.7l0.8 2.0zM217.3 230.7l0.1 -0.3l-0.1 -0.2l-0.1 0.2l0.1 0.3zM218.1 229.5l0.0 -0.6l0.0 -0.0l-0.0 0.0l0.0 0.6zM218.9 228.2l0.0 -0.0l0.0 -0.1l-0.1 0.1l0.1 0.0zM219.7 227.4l0.0 -0.0l0.0 -0.2l-0.1 0.2l0.1 0.0zM220.4 226.6l-0.0 -0.0l-0.2 -0.0l0.2 0.0z" fill="#ff7676" fill-rule="evenodd"/>
<path d="M263.8 357.6l8.5 0.5l7.8 -0.1l8.5 -0.9l7.7 -1.3l8.0 -2.1l8.3 -3.0l7.3 -3.2l7.4 -4.0l7.0 -4.6l6.9 -5.4l6.3 -5.8l5.4 -5.9l4.8 -6.1l4.7 -7.0l3.9 -6.9l3.7 -8.1l2.4 -6.7l2.2 -7.8l1.5 -7.7l0.9 -6.9l0.3 -8.6l-0.3 -7.7l-0.8 -7.0l-1.6 -7.8l-2.3 -8.2l-2.7 -7.2l-3.5 -7.8l-4.6 -8.8l-9.3 -15.9l-4.7 -7.4l-2.3 -3.0l-1.6 -1.6l-2.3 -1.9l-1.5 -0.9l-2.4 -0.6l-2.3 0.4l-2.3 1.5l-1.6 1.8l-1.7 3.1l-1.4 3.9l-0.7 3.8l-0.0 3.9l0.3 2.3l0.6 3.1l2.0 5.5l2.3 4.6l7.5 13.2l3.2 6.2l3.1 7.0l2.4 7.7l0.9 3.9l0.8 4.6l0.5 4.7l0.2 4.6l-0.2 4.7l-0.4 4.6l-0.8 4.7l-1.0 4.6l-1.4 4.7l-1.7 4.6l-1.7 3.9l-2.4 4.7l-2.8 4.6l-2.7 3.9l-3.1 3.9l-2.8 3.1l-3.2 3.1l-3.5 3.1l-3.9 3.0l-3.9 2.7l-3.8 2.3l-4.7 2.4l-5.4 2.3l-3.9 1.4l-7.8 2.0l-7.7 1.2l-7.8 0.4l-7.7 -0.3l-7.8 -1.1l-7.7 -2.0l-7.8 -2.9l-6.9 -3.4l-6.2 -3.8l-5.4 -4.1l-5.5 -4.9l-4.9 -5.3l-3.7 -4.7l-3.2 -4.6l-4.2 -7.0l-6.5 -12.4l-1.6 -2.3l-2.2 -2.3l-2.4 -1.5l-4.6 -2.6l-3.9 -2.4l-2.3 -1.2l-2.3 -0.4l-5.4 0.1l-2.4 -0.7l-1.5 -1.0l-1.6 -1.7l-2.9 -4.9l-6.9 -7.8l-3.6 -4.6l-6.7 -9.1l-1.7 -1.8l-1.4 0.0l-2.3 2.3l-0.8 -0.0l-1.6 1.5l-0.7 0.0l-2.4 2.4l-0.8 0.0l0.1 0.4l2.5 2.7l8.3 11.1l6.2 7.5l4.7 4.8l7.2 6.1l2.6 3.1l2.0 3.1l1.7 3.1l9.0 18.6l3.0 5.6l3.1 5.1l3.9 5.7l4.7 5.9l4.6 5.2l4.7 4.6l6.7 5.9l6.4 4.6l7.6 4.7l7.8 3.8l7.6 3.1l7.4 2.4l8.4 1.9l8.5 1.2zM179.4 245.9l0.8 -0.6l0.3 -0.8l0.4 -2.5l0.2 -3.0l0.3 -20.9l-0.6 -3.1l-2.0 0.0l-0.6 3.1l-0.2 23.3l0.3 2.3l0.3 1.4l0.8 0.8z" fill="#ff7171" fill-rule="evenodd"/>
<path d="M270.0 357.6l8.5 0.0l8.6 -0.7l7.7 -1.3l7.8 -1.8l7.2 -2.4l7.4 -3.1l7.6 -3.9l6.4 -3.9l6.4 -4.6l6.4 -5.4l5.8 -5.9l5.5 -6.3l4.6 -6.4l3.9 -6.4l3.9 -7.6l3.1 -7.4l2.3 -7.1l1.7 -7.2l1.3 -7.7l0.6 -7.0l0.1 -7.0l-0.4 -7.7l-1.0 -7.4l-1.6 -7.4l-2.3 -7.5l-3.1 -8.0l-3.9 -8.3l-4.6 -8.6l-7.8 -13.0l-4.6 -7.3l-2.3 -2.9l-1.6 -1.6l-2.3 -1.9l-1.5 -0.7l-2.4 -0.5l-2.3 0.5l-2.3 1.7l-1.6 2.0l-1.5 3.0l-1.1 3.5l-0.5 3.1l0.0 3.9l0.8 4.7l2.0 5.4l2.6 5.4l6.6 11.6l4.0 7.8l2.9 7.0l2.4 7.7l0.9 3.9l0.7 4.6l0.4 4.7l0.1 4.6l-0.2 4.7l-0.4 4.6l-0.8 4.7l-1.1 4.6l-1.2 3.9l-2.0 5.4l-1.8 3.9l-2.4 4.7l-2.4 3.8l-2.7 3.9l-3.1 3.9l-2.9 3.3l-3.1 3.1l-3.9 3.4l-3.9 3.0l-3.9 2.6l-4.6 2.7l-4.7 2.4l-3.8 1.6l-4.7 1.7l-7.7 2.0l-7.8 1.2l-8.5 0.4l-7.8 -0.4l-7.7 -1.2l-7.8 -2.0l-6.9 -2.6l-7.8 -3.9l-6.2 -3.9l-5.4 -4.2l-5.1 -4.6l-5.0 -5.4l-3.7 -4.6l-3.2 -4.7l-3.7 -6.2l-6.4 -12.2l-1.8 -2.5l-2.2 -2.3l-2.2 -1.7l-10.1 -5.6l-2.3 -0.7l-4.7 -0.1l-2.3 -0.3l-1.6 -0.5l-1.5 -1.1l-1.6 -1.7l-3.1 -5.4l-6.9 -7.7l-3.6 -4.7l-6.5 -8.9l-1.9 -1.9l-1.2 -0.1l-2.3 2.3l-0.8 0.0l-1.6 1.6l-0.7 -0.0l-2.4 2.3l-0.8 0.1l0.1 0.2l2.3 2.3l8.5 11.4l6.2 7.5l4.7 4.7l7.1 5.6l2.8 3.1l2.0 3.1l1.7 3.1l6.5 13.7l3.1 6.2l3.1 5.6l3.1 5.0l3.9 5.6l4.6 5.9l5.5 5.9l5.4 5.2l7.0 5.7l7.0 4.8l8.3 4.6l8.7 3.9l8.5 2.9l7.8 2.0l7.7 1.3l9.3 0.8zM179.4 243.4l0.8 -1.3l0.5 -7.0l0.1 -17.0l-0.6 -2.0l-0.8 0.0l-0.6 2.0l-0.2 21.7l0.1 1.5l0.7 2.1z" fill="#ff6c6c" fill-rule="evenodd"/>
<path d="M265.4 356.8l8.5 0.4l8.6 -0.3l7.7 -0.9l7.8 -1.6l7.7 -2.1l7.0 -2.6l8.3 -3.8l6.9 -3.9l7.0 -4.6l5.8 -4.7l6.7 -6.2l5.6 -6.1l4.8 -6.3l4.5 -6.9l3.9 -7.1l3.0 -6.9l2.6 -7.0l2.1 -7.7l1.5 -7.8l0.8 -6.9l0.2 -7.8l-0.2 -7.0l-0.8 -6.9l-1.5 -8.0l-2.1 -7.5l-2.6 -7.1l-3.0 -7.1l-4.7 -9.1l-7.0 -12.0l-6.2 -9.8l-2.3 -3.1l-1.6 -1.8l-2.3 -1.9l-1.5 -0.9l-2.3 -0.7l-2.4 0.3l-1.5 0.9l-0.8 0.6l-1.5 1.8l-1.6 2.8l-1.2 3.7l-0.4 3.1l0.0 3.8l0.9 4.7l1.6 4.6l2.2 4.7l7.4 13.2l3.9 7.7l3.1 7.8l2.0 6.9l1.0 4.7l0.6 4.6l0.3 3.9l0.0 4.7l-0.2 4.6l-0.5 4.7l-0.9 4.6l-0.9 3.9l-1.4 4.6l-1.8 4.7l-2.1 4.6l-2.0 3.9l-2.4 3.9l-2.6 3.9l-3.1 3.8l-3.5 3.9l-3.1 3.1l-3.9 3.4l-3.9 2.9l-3.8 2.6l-3.9 2.3l-4.7 2.4l-5.4 2.3l-4.6 1.6l-7.0 1.8l-8.5 1.2l-8.6 0.4l-7.7 -0.5l-7.8 -1.3l-7.7 -2.1l-7.0 -2.7l-7.7 -3.9l-6.2 -4.0l-5.2 -4.1l-5.1 -4.6l-5.0 -5.4l-3.6 -4.7l-3.2 -4.6l-3.7 -6.2l-6.0 -11.2l-1.8 -2.8l-2.2 -2.3l-3.2 -2.3l-9.1 -5.0l-2.3 -0.7l-5.4 -0.3l-1.6 -0.2l-1.5 -0.6l-1.6 -1.0l-1.5 -1.8l-3.4 -5.9l-6.2 -7.0l-4.8 -6.2l-5.8 -7.9l-2.1 -2.2l-1.0 -0.0l-2.3 2.3l-0.8 -0.0l-1.5 1.5l-0.8 0.0l-2.3 2.4l-0.8 0.0l2.3 2.4l9.3 12.3l6.2 7.3l4.7 4.5l7.1 5.3l2.8 3.1l1.5 2.3l2.0 3.9l9.0 18.8l3.1 5.7l3.1 5.1l3.9 5.7l4.7 5.9l4.7 5.3l5.3 5.2l6.7 5.6l6.6 4.7l6.9 4.1l7.7 3.8l7.3 2.9l8.2 2.6l8.6 1.8l8.5 1.1z" fill="#ff6666" fill-rule="evenodd"/>
<path d="M262.3 356.1l8.5 0.6l8.6 -0.0l7.7 -0.7l8.5 -1.4l8.5 -2.2l7.2 -2.5l7.1 -3.1l7.3 -3.9l7.1 -4.6l6.2 -4.7l6.1 -5.4l5.5 -5.8l4.9 -5.8l4.4 -6.4l4.1 -6.8l3.7 -7.8l3.0 -7.7l2.1 -7.0l1.7 -7.7l1.0 -7.0l0.4 -7.8l-0.1 -7.7l-0.8 -7.8l-1.4 -7.7l-2.1 -7.8l-3.0 -8.5l-3.1 -7.0l-4.7 -9.0l-6.9 -11.9l-6.2 -9.4l-2.4 -2.9l-1.5 -1.5l-1.6 -1.2l-1.5 -0.8l-2.4 -0.5l-1.5 0.1l-1.5 0.7l-0.8 0.6l-1.6 1.6l-1.5 2.7l-1.1 2.9l-0.5 3.1l-0.1 3.8l0.8 4.7l1.6 4.6l2.5 5.5l7.3 13.1l3.1 6.2l3.2 7.8l2.3 7.7l0.9 4.7l0.7 4.6l0.3 4.7l0.0 4.6l-0.3 4.7l-0.5 4.6l-0.9 4.7l-1.2 4.6l-1.5 4.7l-1.6 3.9l-2.1 4.6l-2.6 4.7l-2.4 3.8l-2.8 3.9l-3.2 3.9l-3.5 3.7l-3.8 3.6l-3.9 3.2l-3.9 2.8l-3.9 2.4l-4.6 2.6l-4.7 2.1l-3.9 1.6l-4.6 1.5l-7.8 1.9l-8.5 1.0l-7.7 0.2l-7.8 -0.5l-7.0 -1.2l-7.7 -2.1l-7.8 -3.0l-6.9 -3.6l-6.2 -3.9l-5.5 -4.2l-4.6 -4.3l-5.0 -5.4l-3.8 -4.6l-3.2 -4.7l-3.7 -6.2l-6.8 -12.2l-1.5 -2.2l-1.7 -1.8l-1.9 -1.6l-1.9 -1.2l-8.5 -4.5l-3.1 -0.8l-4.6 -0.3l-1.6 -0.2l-1.5 -0.6l-1.6 -1.0l-1.5 -1.9l-3.6 -6.5l-6.8 -7.8l-9.9 -13.2l-2.2 -2.3l-0.8 -0.0l-2.3 2.3l-0.8 -0.0l-1.5 1.5l-0.8 0.0l-2.3 2.4l-0.6 0.0l2.3 2.3l9.1 12.2l6.2 7.3l4.7 4.4l7.7 5.3l2.4 2.5l1.9 3.2l1.7 3.1l8.8 18.6l3.1 5.7l3.1 5.2l3.8 5.8l4.5 5.8l4.8 5.4l4.7 4.7l6.2 5.3l6.3 4.7l7.5 4.7l7.7 3.9l7.5 3.1l7.2 2.3l8.0 1.9l7.7 1.2z" fill="#ff6161" fill-rule="evenodd"/>
<path d="M267.7 356.0l8.5 0.2l7.8 -0.4l7.7 -1.1l7.8 -1.6l7.7 -2.4l7.0 -2.7l7.7 -3.6l6.7 -3.9l6.5 -4.5l5.9 -4.8l5.8 -5.5l5.5 -6.1l4.8 -6.2l4.4 -6.8l3.9 -7.1l3.1 -7.0l2.5 -7.0l2.1 -7.8l1.3 -7.0l0.8 -6.9l0.2 -7.8l-0.2 -7.0l-0.8 -6.9l-1.5 -7.8l-2.1 -7.7l-3.1 -8.4l-3.3 -7.1l-4.5 -8.6l-6.9 -11.8l-5.5 -8.1l-2.3 -2.8l-1.5 -1.5l-1.6 -1.1l-1.5 -0.8l-2.4 -0.4l-1.5 0.3l-1.6 0.9l-2.0 2.1l-1.3 2.3l-1.0 3.1l-0.5 3.1l0.1 3.1l0.8 4.7l1.6 4.6l2.2 4.7l6.8 12.4l3.9 7.7l3.1 7.8l2.2 7.7l0.9 4.7l0.5 4.6l0.3 3.9l-0.0 4.6l-0.3 4.7l-0.5 4.6l-0.9 4.7l-1.0 3.9l-1.4 4.6l-1.5 3.9l-2.1 4.6l-2.5 4.7l-2.3 3.9l-3.3 4.6l-3.2 3.9l-3.2 3.5l-3.9 3.7l-3.9 3.2l-3.9 2.9l-3.8 2.5l-4.7 2.6l-4.6 2.2l-3.9 1.5l-4.7 1.6l-7.7 1.9l-7.8 1.2l-8.5 0.3l-7.7 -0.5l-8.6 -1.4l-7.7 -2.2l-7.0 -2.8l-7.0 -3.5l-6.2 -3.9l-5.4 -4.2l-5.2 -4.7l-5.0 -5.5l-3.1 -3.8l-3.3 -4.7l-3.8 -6.2l-6.7 -11.9l-2.0 -2.8l-1.9 -2.0l-1.5 -1.3l-2.4 -1.5l-5.4 -2.9l-2.3 -1.0l-3.1 -0.9l-6.2 -0.5l-1.6 -0.4l-1.5 -1.1l-1.6 -1.9l-2.8 -5.9l-0.9 -1.5l-6.8 -7.8l-9.9 -13.2l-2.3 -2.3l-0.5 0.0l-2.3 2.3l-0.8 -0.0l-1.6 1.5l-0.7 0.0l-2.4 2.4l-0.3 0.0l2.3 2.3l10.4 13.9l5.5 6.2l2.3 2.2l2.3 1.9l7.0 4.1l2.3 2.1l1.6 2.4l1.9 3.7l6.6 14.3l3.1 6.3l3.1 5.6l3.1 5.1l4.6 6.6l4.3 5.5l5.0 5.5l5.5 5.2l6.7 5.5l6.8 4.7l6.7 3.9l8.1 3.8l8.3 3.1l8.3 2.3l8.5 1.6l7.8 0.8z" fill="#ff5c5c" fill-rule="evenodd"/>
<path d="M264.6 355.3l7.8 0.4l7.7 -0.1l7.8 -0.7l7.7 -1.4l7.8 -2.0l7.1 -2.4l7.2 -3.1l7.3 -3.9l7.0 -4.5l6.2 -4.7l6.2 -5.5l5.4 -5.7l4.7 -5.6l4.7 -6.6l3.8 -6.6l3.9 -8.0l2.8 -7.1l2.1 -6.9l1.5 -7.0l1.1 -7.8l0.5 -7.7l-0.1 -7.8l-0.8 -7.7l-1.3 -7.0l-1.9 -7.5l-2.5 -7.2l-3.7 -8.5l-3.9 -7.7l-6.2 -10.7l-6.2 -9.5l-2.3 -2.9l-1.6 -1.6l-1.5 -1.2l-1.6 -0.9l-2.3 -0.6l-1.5 0.1l-1.6 0.7l-0.8 0.6l-1.5 1.8l-1.3 2.4l-0.7 2.3l-0.5 3.1l0.1 3.1l0.9 4.7l1.5 4.3l2.3 4.9l7.2 13.3l3.4 6.9l2.7 7.0l2.0 7.0l0.8 3.9l0.8 5.4l0.3 4.6l0.0 4.7l-0.2 4.6l-0.6 4.7l-0.7 3.9l-1.3 5.4l-1.5 4.6l-1.6 3.9l-2.1 4.7l-2.5 4.6l-2.4 3.9l-3.4 4.6l-3.2 3.9l-3.1 3.4l-3.9 3.6l-3.9 3.2l-4.6 3.4l-3.9 2.4l-4.6 2.5l-4.7 2.1l-3.9 1.5l-4.6 1.6l-7.0 1.6l-8.5 1.2l-8.5 0.3l-7.8 -0.6l-7.7 -1.3l-7.8 -2.2l-7.7 -3.1l-7.0 -3.6l-5.4 -3.4l-5.5 -4.2l-5.4 -4.9l-4.7 -5.0l-3.2 -3.9l-3.3 -4.7l-3.9 -6.2l-6.6 -11.6l-2.3 -3.3l-2.0 -2.1l-2.0 -1.6l-2.6 -1.5l-6.6 -3.2l-3.1 -0.8l-7.0 -0.4l-1.5 -0.5l-0.8 -0.6l-0.8 -0.8l-0.7 -1.3l-2.7 -6.4l-1.4 -2.3l-7.9 -9.3l-8.7 -11.6l-2.3 -2.3l-0.3 -0.0l-2.3 2.2l-0.8 0.0l-1.5 1.6l-0.8 -0.0l-2.5 2.4l2.2 2.3l7.3 9.7l3.8 4.8l5.5 6.0l2.3 2.1l2.3 1.7l2.3 1.2l4.7 2.0l1.5 1.1l0.7 0.8l2.9 5.5l5.7 12.9l3.1 6.6l3.1 5.9l3.8 6.3l4.0 6.0l4.6 6.0l4.7 5.2l5.4 5.4l6.3 5.3l6.5 4.7l6.6 4.0l7.7 3.9l7.4 2.9l7.4 2.4l8.5 1.9l8.5 1.2z" fill="#ff5757" fill-rule="evenodd"/>
<path d="M262.3 354.5l8.5 0.6l7.8 0.0l7.9 -0.6l7.6 -1.2l7.7 -1.9l7.2 -2.3l7.4 -3.1l7.6 -3.9l7.3 -4.6l6.2 -4.6l6.2 -5.5l5.3 -5.5l4.8 -5.7l4.6 -6.5l3.9 -6.5l3.8 -7.6l2.5 -6.2l2.4 -7.8l1.8 -7.7l1.1 -7.5l0.5 -7.2l-0.1 -7.8l-0.6 -7.0l-1.4 -7.9l-2.1 -8.3l-2.5 -7.2l-3.3 -7.6l-4.4 -8.8l-6.2 -10.6l-5.5 -8.0l-2.3 -2.9l-1.6 -1.5l-1.5 -1.2l-1.6 -0.8l-2.3 -0.5l-1.5 0.3l-1.6 0.8l-1.5 1.6l-1.2 2.2l-0.8 2.3l-0.4 3.1l0.0 3.1l0.8 3.9l1.6 4.6l2.3 5.0l6.5 12.1l3.4 7.0l2.8 6.9l2.1 7.0l1.0 4.7l0.6 3.8l0.5 7.8l-0.1 4.6l-0.2 3.9l-0.6 4.7l-0.8 3.8l-0.9 3.9l-1.5 4.7l-3.1 7.7l-4.2 7.8l-4.8 6.9l-2.5 3.1l-3.5 3.9l-6.3 5.8l-6.2 4.7l-3.9 2.4l-3.9 2.2l-7.0 3.2l-3.8 1.5l-4.7 1.4l-3.9 1.0l-4.6 0.9l-8.5 0.9l-4.7 0.1l-4.6 -0.1l-8.6 -1.0l-7.7 -1.7l-4.7 -1.5l-3.8 -1.5l-7.0 -3.2l-3.9 -2.1l-3.8 -2.5l-7.0 -5.2l-6.2 -5.8l-4.5 -4.9l-4.2 -5.4l-4.1 -6.2l-8.2 -14.2l-2.3 -3.0l-2.3 -2.2l-2.3 -1.7l-3.1 -1.7l-3.1 -1.4l-3.1 -1.0l-2.3 -0.4l-3.2 0.0l-2.3 0.5l-0.8 0.6l-0.1 0.4l-0.0 0.8l0.6 2.3l5.0 12.1l4.6 10.1l4.7 8.6l4.6 7.3l4.7 6.2l5.3 6.1l5.4 5.4l6.3 5.5l6.4 4.6l6.3 3.9l7.6 3.9l7.4 3.1l7.1 2.3l7.9 1.9l7.7 1.2zM163.9 265.5l0.8 0.1l1.1 -0.2l0.5 -0.8l-0.0 -0.8l-1.6 -5.4l-1.4 -3.1l-1.2 -1.6l-7.3 -8.5l-8.7 -11.6l-2.4 -2.3l-2.3 2.2l-0.7 0.0l-1.6 1.6l-0.8 -0.0l-2.2 2.4l2.2 2.3l7.0 9.4l4.7 5.8l3.8 4.3l3.9 3.4l3.1 1.8l3.1 1.0z" fill="#ff5151" fill-rule="evenodd"/>
<path d="M268.5 354.5l7.8 0.1l7.7 -0.4l7.8 -1.0l7.7 -1.7l7.8 -2.4l6.0 -2.4l6.6 -3.1l6.9 -3.8l6.8 -4.6l5.4 -4.3l5.5 -5.1l5.4 -5.7l4.7 -5.9l4.6 -6.8l3.9 -6.8l3.1 -6.6l2.3 -6.2l2.4 -7.7l1.5 -7.0l1.0 -7.7l0.5 -7.8l-0.2 -7.0l-0.7 -6.9l-1.4 -7.8l-2.0 -7.7l-2.7 -7.6l-3.1 -7.2l-4.6 -9.1l-5.4 -9.1l-5.5 -8.0l-2.3 -2.8l-1.6 -1.5l-1.5 -1.1l-1.6 -0.8l-1.5 -0.3l-1.8 0.2l-1.5 0.8l-1.5 1.5l-1.2 2.3l-0.7 2.4l-0.3 2.3l0.1 3.1l0.8 3.9l1.6 4.6l2.2 4.7l6.6 12.4l3.0 6.2l2.5 6.2l2.2 6.9l1.5 7.8l0.8 8.5l-0.0 4.7l-0.3 3.8l-0.4 3.9l-0.8 4.7l-0.9 3.8l-1.4 4.7l-3.0 7.7l-4.0 7.8l-4.7 7.0l-3.0 3.8l-2.8 3.1l-6.2 6.0l-3.9 3.1l-3.1 2.3l-3.8 2.5l-3.9 2.2l-7.8 3.6l-7.7 2.6l-4.7 1.2l-3.8 0.8l-8.6 1.0l-4.6 0.1l-4.7 -0.1l-8.5 -0.9l-7.7 -1.6l-4.7 -1.4l-3.9 -1.4l-7.7 -3.5l-3.9 -2.1l-3.9 -2.5l-6.9 -5.2l-6.2 -5.7l-4.5 -4.8l-4.2 -5.5l-4.6 -6.9l-7.7 -13.0l-2.3 -3.2l-2.5 -2.4l-2.1 -1.6l-3.1 -1.7l-3.1 -1.4l-3.1 -0.9l-2.4 -0.2l-2.3 0.2l-1.5 0.8l-0.5 0.9l-0.0 1.5l0.5 2.4l3.8 10.0l4.7 10.1l4.7 8.5l4.6 7.2l5.4 7.1l5.4 6.1l6.3 6.0l6.8 5.4l6.9 4.7l7.2 4.0l8.1 3.7l7.4 2.6l7.7 2.1l8.3 1.5l8.0 0.8zM160.8 264.0l2.3 0.6l0.8 -0.1l0.8 -0.3l0.3 -0.4l0.2 -1.5l-0.2 -1.6l-0.6 -2.3l-1.0 -2.3l-1.5 -2.4l-4.7 -5.4l-3.8 -4.6l-7.3 -9.9l-2.4 -2.4l-2.3 2.1l-0.8 0.0l-1.5 1.6l-0.8 -0.0l-1.5 1.6l-0.4 0.8l1.9 2.0l8.5 11.4l5.5 6.5l2.3 2.3l2.3 2.0l2.3 1.6l1.6 0.7z" fill="#ff4c4c" fill-rule="evenodd"/>
<path d="M266.2 353.7l8.5 0.3l7.8 -0.3l6.9 -0.8l8.0 -1.6l7.6 -2.1l6.8 -2.5l6.9 -3.1l7.0 -3.9l5.9 -3.9l6.1 -4.6l6.0 -5.4l5.4 -5.8l4.8 -5.9l4.5 -6.6l3.9 -6.8l3.1 -6.5l2.3 -5.8l2.4 -7.6l1.6 -7.0l1.1 -7.7l0.5 -7.0l-0.1 -7.7l-0.6 -7.0l-1.2 -7.0l-2.1 -8.4l-2.3 -6.9l-3.1 -7.4l-3.9 -7.8l-5.4 -9.4l-5.5 -8.1l-2.3 -2.9l-1.6 -1.6l-1.5 -1.3l-1.5 -0.8l-1.6 -0.5l-1.5 -0.0l-1.6 0.6l-1.5 1.4l-1.2 2.0l-0.8 2.3l-0.3 2.3l0.1 3.1l0.8 3.9l1.4 3.9l2.3 5.0l6.7 12.8l3.0 6.2l2.4 6.2l2.1 7.0l0.9 3.8l0.7 4.7l0.5 7.7l-0.3 8.6l-1.2 7.7l-2.0 7.8l-1.6 4.6l-1.6 3.9l-2.3 4.6l-2.2 3.9l-4.7 7.0l-3.1 3.9l-2.7 3.0l-6.2 5.9l-3.9 3.1l-3.1 2.2l-3.9 2.5l-3.9 2.2l-4.6 2.3l-3.9 1.6l-7.7 2.5l-8.6 1.9l-8.5 0.9l-8.5 -0.0l-8.5 -0.9l-8.6 -1.9l-7.7 -2.5l-3.9 -1.6l-4.6 -2.3l-7.0 -4.1l-7.0 -5.2l-6.2 -5.6l-4.4 -4.8l-4.4 -5.4l-4.7 -7.0l-8.2 -13.8l-2.3 -2.9l-2.0 -1.9l-2.2 -1.6l-2.8 -1.5l-4.6 -1.7l-2.4 -0.4l-1.5 0.1l-1.6 0.4l-0.8 0.8l-0.4 1.6l0.3 2.3l0.9 3.1l1.4 3.9l4.1 9.4l2.3 4.7l3.1 5.6l4.6 7.3l4.7 6.3l5.4 6.3l6.2 6.1l6.5 5.4l6.6 4.7l6.6 3.8l8.0 3.9l8.1 3.1l7.6 2.2l7.8 1.6l7.7 0.9zM160.0 263.2l2.3 0.6l0.8 -0.1l1.0 -0.7l0.4 -1.5l-0.2 -1.6l-0.5 -2.3l-0.7 -1.7l-1.5 -2.2l-4.0 -4.6l-4.4 -5.5l-7.2 -9.6l-2.3 -2.3l-0.8 0.3l-1.5 1.5l-0.8 0.0l-1.5 1.6l-0.8 -0.0l-1.6 1.6l-0.1 0.7l1.7 1.8l8.5 11.4l4.7 5.6l2.3 2.5l2.3 2.1l2.3 1.6l1.6 0.8z" fill="#ff4747" fill-rule="evenodd"/>
<path d="M264.6 353.0l7.8 0.4l7.7 -0.1l7.0 -0.7l7.4 -1.2l7.3 -1.8l7.8 -2.6l7.6 -3.3l5.9 -3.1l6.3 -3.9l6.3 -4.7l5.6 -4.8l5.4 -5.5l4.7 -5.4l4.6 -6.3l3.9 -6.2l3.9 -7.5l3.1 -7.5l2.3 -7.1l1.6 -6.7l1.0 -6.5l0.7 -7.0l0.1 -7.7l-0.5 -7.0l-1.1 -7.8l-1.8 -7.7l-2.3 -7.4l-3.1 -7.7l-3.9 -8.0l-5.4 -9.5l-4.7 -7.0l-3.8 -4.6l-1.6 -1.4l-1.5 -1.0l-1.6 -0.6l-1.5 -0.1l-1.6 0.5l-1.5 1.2l-0.9 1.4l-0.8 2.3l-0.4 2.4l0.1 3.1l1.1 4.6l1.6 4.4l8.9 17.3l3.2 7.0l2.2 6.2l1.5 5.4l0.9 4.7l0.6 3.8l0.4 7.8l-0.3 7.7l-0.6 4.7l-0.7 3.9l-1.0 3.8l-1.4 4.7l-3.0 7.7l-4.1 7.8l-4.7 7.0l-3.0 3.8l-2.7 3.0l-6.2 6.0l-7.0 5.4l-3.9 2.5l-3.9 2.3l-7.7 3.6l-4.7 1.7l-3.8 1.2l-3.9 1.0l-4.7 1.0l-8.5 0.9l-4.6 0.2l-4.7 -0.1l-8.5 -0.9l-8.5 -1.8l-7.8 -2.6l-7.7 -3.4l-7.0 -4.0l-7.0 -5.0l-3.1 -2.6l-3.9 -3.6l-4.5 -4.8l-4.3 -5.4l-4.8 -7.0l-8.1 -13.3l-2.3 -3.0l-2.3 -2.3l-2.2 -1.5l-1.7 -1.0l-2.3 -1.0l-2.3 -0.7l-1.6 -0.3l-1.5 0.1l-1.6 0.5l-0.8 0.8l-0.3 1.6l0.0 1.5l0.5 2.4l1.4 4.1l3.9 9.3l4.7 9.0l4.6 7.4l5.4 7.3l5.4 6.3l6.2 6.0l5.8 4.8l6.5 4.7l6.5 3.8l7.9 3.9l8.0 3.1l7.2 2.1l7.7 1.7l7.0 0.9zM161.5 263.1l0.8 -0.0l0.7 -0.4l0.5 -0.4l0.3 -0.9l0.1 -1.5l-0.3 -1.5l-0.4 -1.6l-0.8 -1.5l-1.1 -1.6l-7.2 -8.5l-8.1 -10.9l-2.3 -2.4l-0.8 0.1l-1.5 1.5l-0.8 0.0l-1.6 1.6l-0.7 -0.0l-1.6 1.6l0.2 0.8l1.4 1.4l6.9 9.4l3.9 5.0l3.9 4.3l3.1 2.9l3.1 1.9l2.3 0.7z" fill="#ff4242" fill-rule="evenodd"/>
<path d="M263.8 352.2l7.8 0.5l7.7 -0.1l7.8 -0.7l7.7 -1.3l6.3 -1.6l7.1 -2.3l7.4 -3.1l6.3 -3.2l6.2 -3.8l6.5 -4.6l5.9 -5.1l5.4 -5.4l4.7 -5.3l4.7 -6.3l3.8 -6.2l3.9 -7.4l3.1 -7.4l2.3 -7.1l1.6 -6.4l1.2 -7.0l0.6 -6.9l0.1 -7.8l-0.4 -7.0l-1.0 -6.9l-1.4 -6.2l-2.2 -7.8l-3.1 -8.0l-3.9 -8.2l-4.7 -8.4l-5.4 -8.2l-2.3 -2.9l-1.6 -1.6l-1.5 -1.4l-1.6 -0.9l-1.5 -0.5l-1.6 0.1l-1.1 0.5l-1.2 1.0l-0.8 1.3l-0.8 2.3l-0.2 2.4l0.1 2.3l0.8 3.9l1.4 3.8l1.8 4.0l6.0 11.5l3.0 6.2l3.0 7.8l1.8 6.2l1.5 7.7l0.5 4.7l0.2 3.9l-0.1 4.6l-0.3 3.9l-0.4 3.9l-0.9 4.6l-0.9 3.9l-1.4 4.6l-3.0 7.8l-4.0 7.7l-2.5 3.9l-2.7 3.9l-3.2 3.9l-2.8 3.0l-6.2 5.9l-6.9 5.4l-3.9 2.5l-3.9 2.2l-7.7 3.6l-7.8 2.7l-4.6 1.2l-4.7 0.9l-8.5 1.0l-4.7 0.1l-4.6 -0.1l-8.5 -0.9l-8.6 -1.8l-4.6 -1.4l-3.9 -1.4l-3.9 -1.6l-4.6 -2.3l-7.0 -4.2l-6.2 -4.5l-6.4 -5.7l-5.1 -5.4l-4.3 -5.4l-4.7 -7.0l-7.4 -12.0l-2.3 -3.1l-2.3 -2.4l-1.6 -1.1l-2.3 -1.4l-2.3 -0.9l-1.6 -0.5l-1.5 -0.2l-1.6 0.2l-0.8 0.5l-0.7 0.7l-0.4 1.6l0.2 2.3l0.8 3.1l0.9 2.9l3.1 7.4l4.7 9.0l4.6 7.4l4.7 6.3l5.6 6.5l6.3 6.2l5.5 4.7l6.5 4.6l6.5 3.9l7.8 3.9l7.8 3.1l6.7 2.0l7.7 1.7l7.0 1.0zM160.0 262.3l1.6 0.2l0.7 -0.2l0.8 -0.8l0.3 -1.6l-0.1 -1.5l-0.4 -1.6l-0.6 -1.3l-1.2 -1.8l-7.7 -9.3l-7.6 -10.0l-2.2 -2.4l-0.7 0.0l-1.5 1.6l-0.8 -0.0l-1.5 1.5l-0.8 0.0l-1.3 1.6l10.6 14.4l3.9 4.6l3.1 3.1l3.1 2.4l2.3 1.1z" fill="#ff3c3c" fill-rule="evenodd"/>
<path d="M263.1 351.4l7.8 0.6l6.9 -0.0l7.8 -0.6l6.9 -1.1l6.3 -1.3l7.4 -2.3l7.8 -3.1l6.3 -3.1l6.6 -3.9l6.6 -4.6l5.6 -4.7l5.4 -5.2l4.6 -5.1l4.7 -6.1l3.8 -5.9l3.9 -7.1l3.1 -7.0l2.3 -6.5l1.9 -6.7l1.4 -6.9l0.8 -7.0l0.3 -7.8l-0.3 -7.7l-0.9 -7.3l-1.6 -7.4l-2.3 -7.9l-3.1 -8.0l-3.1 -6.7l-4.7 -8.4l-4.6 -7.2l-3.9 -4.7l-1.6 -1.4l-1.5 -1.0l-1.5 -0.6l-1.6 -0.1l-1.5 0.7l-0.8 0.8l-0.8 1.3l-0.6 2.1l-0.1 1.5l0.1 2.4l0.6 3.2l1.6 4.5l2.3 4.9l6.6 12.9l3.0 7.0l1.7 4.7l1.7 6.2l0.8 3.8l0.7 4.7l0.5 8.5l-0.5 8.5l-1.5 8.6l-1.0 3.8l-1.4 4.7l-3.3 7.7l-2.3 4.7l-2.3 3.9l-4.9 6.9l-2.6 3.1l-3.6 3.9l-6.3 5.8l-6.2 4.7l-3.9 2.4l-3.9 2.2l-7.0 3.3l-3.8 1.5l-4.7 1.5l-5.4 1.3l-3.9 0.8l-8.5 0.9l-4.7 0.2l-4.6 -0.1l-8.6 -0.9l-7.7 -1.6l-4.6 -1.3l-4.7 -1.7l-3.9 -1.6l-4.6 -2.3l-7.0 -4.1l-6.2 -4.5l-6.5 -5.7l-5.2 -5.4l-4.4 -5.5l-4.3 -6.2l-8.3 -13.2l-2.3 -2.9l-1.5 -1.6l-1.6 -1.2l-2.1 -1.2l-1.8 -0.7l-1.5 -0.4l-1.6 -0.1l-0.7 0.1l-0.8 0.4l-0.8 1.0l-0.3 1.2l0.1 2.4l0.7 3.1l1.1 3.0l3.1 7.2l4.6 8.7l4.7 7.2l4.6 6.1l5.4 6.1l6.0 5.8l5.7 4.7l6.6 4.6l6.6 3.9l6.4 3.1l7.5 3.0l6.2 1.9l7.7 1.8l7.0 1.1zM159.2 261.6l1.6 0.3l0.7 -0.1l0.8 -0.5l0.4 -0.6l0.2 -0.7l0.0 -1.6l-0.6 -2.3l-1.5 -2.3l-6.5 -7.8l-8.7 -11.6l-2.3 -2.3l-0.4 -0.0l-1.5 1.5l-0.8 -0.0l-1.5 1.5l-0.8 0.0l-0.8 0.8l-0.2 0.8l1.2 1.6l1.3 2.1l7.8 10.4l3.9 4.6l3.1 3.1l2.3 1.9l2.3 1.2z" fill="#ff3737" fill-rule="evenodd"/>
<path d="M263.1 350.6l7.8 0.6l6.9 -0.0l7.8 -0.6l6.2 -0.9l6.5 -1.5l7.7 -2.3l7.8 -3.1l6.3 -3.1l6.6 -3.9l5.5 -3.8l5.7 -4.7l5.8 -5.5l4.8 -5.3l4.5 -5.9l3.9 -5.9l3.8 -7.0l3.1 -7.0l2.4 -6.4l1.8 -6.6l1.4 -7.0l0.8 -6.9l0.3 -7.8l-0.3 -7.7l-0.9 -7.0l-1.6 -7.7l-2.3 -7.8l-3.1 -8.1l-3.1 -6.6l-3.9 -7.1l-4.6 -7.1l-2.3 -3.0l-1.6 -1.6l-1.5 -1.3l-1.6 -1.0l-1.5 -0.4l-0.8 -0.0l-1.4 0.5l-0.9 1.0l-0.7 1.4l-0.4 1.5l-0.1 1.6l0.2 2.3l1.0 3.9l1.5 3.9l7.3 14.7l3.2 6.9l2.3 6.2l1.7 6.2l1.4 7.8l0.6 8.5l-0.4 8.5l-1.2 7.8l-2.0 7.7l-1.6 4.7l-1.7 3.9l-3.9 7.7l-2.4 3.9l-2.7 3.9l-2.4 3.1l-3.3 3.8l-3.4 3.5l-3.1 2.9l-3.1 2.6l-3.9 2.8l-3.9 2.6l-3.9 2.3l-4.6 2.3l-3.9 1.7l-7.7 2.8l-7.8 1.9l-4.6 0.7l-4.7 0.5l-4.6 0.2l-4.7 0.0l-8.5 -0.7l-8.5 -1.6l-8.6 -2.6l-6.9 -2.9l-6.2 -3.2l-6.2 -3.9l-6.2 -4.8l-3.1 -2.7l-3.7 -3.6l-6.1 -7.0l-4.5 -6.2l-9.0 -14.0l-3.1 -3.8l-1.5 -1.4l-1.6 -1.0l-1.5 -0.8l-1.6 -0.5l-1.5 -0.2l-0.8 0.2l-0.8 0.4l-0.7 1.0l-0.3 1.5l0.2 2.3l1.6 5.2l3.1 7.2l4.6 8.4l4.7 7.0l4.6 5.9l5.4 5.9l5.7 5.4l5.8 4.7l5.6 3.8l6.6 3.9l6.2 3.1l5.7 2.3l7.1 2.4l7.7 1.9l7.8 1.2zM158.4 260.8l1.6 0.4l0.7 0.0l0.8 -0.3l0.8 -1.0l0.1 -0.8l-0.0 -1.5l-0.8 -2.3l-1.7 -2.4l-7.1 -8.5l-7.5 -10.1l-2.4 -2.3l-1.5 1.5l-0.8 0.0l-1.6 1.6l-0.7 -0.0l-0.8 0.8l-0.0 0.7l7.7 10.8l5.5 6.8l3.8 4.0l2.4 1.8l1.5 0.8z" fill="#ff3232" fill-rule="evenodd"/>
<path d="M263.8 349.8l7.8 0.5l6.9 -0.0l6.3 -0.5l7.7 -1.2l5.4 -1.2l7.6 -2.3l7.8 -3.1l6.3 -3.1l6.6 -3.8l5.5 -3.9l5.7 -4.7l4.9 -4.6l4.4 -4.8l4.7 -5.8l3.9 -5.7l3.8 -6.8l3.1 -6.6l2.3 -6.0l2.4 -7.9l1.5 -7.6l0.8 -6.2l0.4 -7.7l-0.3 -7.0l-0.7 -7.0l-1.3 -6.9l-2.0 -7.5l-3.1 -8.6l-3.1 -6.9l-3.8 -7.3l-3.9 -6.1l-3.9 -4.7l-1.5 -1.5l-1.6 -1.0l-1.5 -0.5l-0.8 0.0l-0.8 0.3l-0.8 0.5l-0.7 1.2l-0.4 1.0l-0.2 1.5l0.1 2.4l0.9 3.8l1.9 4.7l7.3 14.7l3.0 7.0l2.4 7.0l1.4 5.4l1.2 7.7l0.4 8.6l-0.6 8.5l-1.3 7.7l-1.0 3.9l-1.4 4.7l-3.2 7.7l-4.1 7.8l-2.4 3.8l-2.8 3.9l-3.1 3.9l-2.8 3.0l-6.2 5.9l-7.0 5.4l-3.8 2.5l-3.9 2.3l-7.8 3.7l-3.8 1.5l-4.7 1.5l-7.7 1.9l-4.7 0.7l-4.6 0.5l-4.7 0.2l-4.6 0.0l-8.6 -0.7l-8.5 -1.6l-8.5 -2.5l-7.0 -2.9l-6.2 -3.2l-6.2 -3.8l-7.0 -5.4l-6.3 -5.9l-6.2 -7.0l-5.1 -7.0l-7.9 -12.2l-3.1 -3.9l-2.4 -1.9l-2.3 -1.2l-0.8 -0.2l-1.2 0.1l-1.2 0.7l-0.6 1.6l0.1 1.5l0.4 2.4l1.0 3.1l3.1 7.1l3.9 7.0l4.6 7.0l4.7 5.9l5.4 5.9l6.2 5.8l5.9 4.7l5.7 3.8l6.9 3.9l6.6 3.1l6.0 2.3l7.8 2.4l7.3 1.5l5.7 0.8zM157.7 260.0l1.5 0.6l1.6 -0.1l0.8 -0.5l0.4 -0.9l0.1 -0.8l-0.2 -1.5l-0.6 -1.6l-1.0 -1.5l-7.6 -9.3l-7.5 -10.1l-2.2 -2.2l-1.6 1.4l-0.8 0.0l-1.5 1.6l-0.8 -0.0l-0.8 0.8l0.0 0.6l1.6 1.7l0.8 1.5l6.9 9.4l3.1 3.8l3.1 3.4l2.4 2.2l2.3 1.5z" fill="#ff2d2d" fill-rule="evenodd"/>
<path d="M266.9 349.1l7.0 0.3l6.9 -0.2l7.0 -0.8l5.5 -0.9l6.3 -1.5l7.2 -2.4l7.4 -3.1l6.1 -3.1l6.4 -3.8l5.4 -3.9l5.5 -4.7l4.8 -4.6l4.3 -4.8l4.7 -6.0l3.9 -5.9l3.1 -5.6l3.1 -6.7l2.3 -6.1l2.3 -8.1l1.1 -5.6l1.0 -7.0l0.3 -7.0l-0.1 -7.0l-0.7 -6.9l-1.4 -7.8l-1.8 -6.7l-2.3 -6.8l-3.1 -7.4l-3.8 -7.5l-3.9 -6.1l-3.1 -3.9l-1.6 -1.5l-1.5 -1.1l-1.6 -0.5l-0.7 0.1l-0.8 0.3l-0.8 0.9l-0.4 1.5l-0.2 1.5l0.6 3.6l0.8 2.6l1.5 3.6l7.4 15.0l2.9 7.0l2.4 7.7l1.6 7.8l0.7 7.0l0.1 6.9l-0.7 7.8l-1.3 7.0l-1.0 3.8l-1.5 4.7l-3.2 7.7l-2.3 4.7l-2.3 3.9l-4.8 6.9l-5.7 6.7l-6.2 6.0l-7.0 5.4l-3.9 2.5l-3.8 2.3l-4.7 2.3l-3.9 1.7l-3.8 1.5l-4.7 1.5l-5.4 1.4l-3.9 0.8l-7.8 0.9l-4.6 0.2l-4.6 0.0l-4.7 -0.2l-4.6 -0.6l-8.6 -1.6l-7.7 -2.4l-7.8 -3.2l-6.2 -3.2l-6.9 -4.4l-6.2 -4.8l-6.2 -5.8l-6.2 -7.0l-3.5 -4.6l-8.2 -12.2l-3.1 -4.1l-2.3 -2.2l-1.6 -0.9l-1.5 -0.2l-0.8 0.2l-0.5 0.8l-0.3 1.5l0.2 1.6l1.4 4.8l3.1 6.7l4.7 7.9l3.8 5.4l5.5 6.5l5.4 5.6l5.6 4.9l6.3 4.7l6.1 3.9l5.8 3.1l7.1 3.1l6.6 2.3l5.9 1.6l7.5 1.5l7.2 0.8zM159.2 260.1l0.8 -0.0l0.8 -0.3l0.4 -0.6l0.3 -0.8l-0.0 -1.5l-0.6 -1.6l-1.6 -2.3l-8.2 -10.1l-6.2 -8.5l-2.0 -2.1l-1.5 1.3l-0.8 -0.0l-1.6 1.5l-0.7 0.0l-0.8 0.8l-0.0 0.5l1.7 1.9l0.6 1.1l5.4 7.3l4.7 5.9l3.1 3.5l2.3 2.0l2.3 1.5l1.6 0.5z" fill="#ff2727" fill-rule="evenodd"/>
<path d="M263.8 347.5l7.0 0.5l6.2 0.0l7.7 -0.5l5.6 -0.8l7.2 -1.5l7.7 -2.4l5.9 -2.3l6.5 -3.1l5.5 -3.1l5.8 -3.9l5.9 -4.6l5.0 -4.6l4.6 -4.9l4.6 -5.7l3.9 -5.6l3.1 -5.3l3.1 -6.2l2.3 -5.5l2.4 -7.0l1.5 -6.1l1.1 -6.5l0.7 -6.9l0.2 -7.0l-0.4 -7.5l-0.8 -6.0l-1.6 -7.5l-2.3 -7.9l-3.1 -8.0l-3.1 -6.5l-3.8 -6.5l-3.1 -4.1l-1.6 -1.5l-1.5 -1.1l-1.6 -0.4l-0.8 0.3l-0.7 0.9l-0.3 2.3l0.6 3.1l2.0 5.3l6.5 13.3l3.3 7.8l2.3 6.9l1.6 7.8l0.8 7.0l0.1 7.7l-0.4 6.2l-1.3 7.8l-0.9 3.8l-1.4 4.7l-1.8 4.6l-1.6 3.9l-2.4 4.7l-2.2 3.8l-4.7 7.0l-5.1 6.2l-3.0 3.1l-3.8 3.6l-6.9 5.5l-7.0 4.5l-7.8 4.0l-5.4 2.2l-3.9 1.3l-3.9 1.2l-5.4 1.2l-7.7 1.2l-4.7 0.3l-4.6 0.1l-4.7 -0.1l-4.6 -0.4l-5.5 -0.8l-3.8 -0.8l-8.6 -2.3l-7.7 -3.1l-7.8 -4.0l-6.2 -3.9l-6.2 -4.7l-6.2 -5.6l-5.8 -6.4l-4.8 -6.2l-6.4 -9.3l-3.1 -4.0l-1.6 -1.6l-1.5 -1.0l-0.8 -0.1l-0.8 0.5l-0.1 1.6l0.1 1.2l1.6 4.6l3.1 6.2l4.6 7.2l4.7 6.1l4.4 4.9l4.8 4.7l5.5 4.6l5.3 3.9l4.9 3.1l5.7 3.1l6.8 3.1l6.4 2.3l5.3 1.6l7.3 1.5l5.6 0.8zM158.4 259.4l1.6 -0.0l0.9 -1.0l0.1 -1.5l-0.2 -0.8l-0.7 -1.6l-9.9 -12.4l-5.5 -7.7l-1.8 -1.9l-0.8 0.3l-0.7 0.8l-0.8 -0.0l-1.6 1.5l-0.7 0.0l-0.8 0.8l-0.0 0.3l1.9 2.1l6.6 9.1l3.9 4.9l2.3 2.6l2.3 2.2l2.3 1.7l1.6 0.6z" fill="#ff2222" fill-rule="evenodd"/>
<path d="M270.8 346.0l7.0 0.0l5.4 -0.4l3.9 -0.4l8.2 -1.5l5.7 -1.6l6.7 -2.3l7.0 -3.1l5.7 -3.1l6.1 -3.9l4.1 -3.1l4.6 -3.9l4.6 -4.4l3.9 -4.2l4.6 -5.9l3.1 -4.6l3.1 -5.3l3.1 -6.3l2.3 -5.7l1.6 -4.6l1.5 -5.7l1.6 -8.5l0.5 -6.0l0.3 -7.0l-0.3 -6.2l-0.5 -5.8l-1.6 -8.5l-1.5 -5.9l-2.4 -6.8l-3.1 -7.2l-3.1 -5.6l-3.1 -4.3l-2.3 -2.0l-0.8 -0.4l-0.7 0.1l-0.6 0.7l-0.1 1.6l0.6 3.1l1.6 4.0l6.0 12.2l3.0 7.0l2.2 6.2l1.7 7.0l0.9 6.2l0.4 4.6l0.1 3.9l-0.5 8.5l-1.0 6.2l-2.2 8.6l-2.5 6.9l-3.7 7.8l-4.7 7.7l-5.2 7.0l-3.4 3.9l-3.5 3.5l-6.2 5.4l-3.1 2.3l-4.6 3.1l-7.0 4.0l-4.7 2.2l-3.8 1.6l-4.7 1.6l-4.6 1.4l-7.8 1.6l-8.5 1.0l-4.6 0.1l-5.5 -0.0l-4.6 -0.4l-4.7 -0.6l-7.7 -1.5l-7.8 -2.3l-7.7 -3.2l-7.8 -4.0l-6.9 -4.5l-7.0 -5.5l-5.3 -5.0l-5.0 -5.5l-9.1 -11.4l-1.5 -1.3l-0.3 0.3l0.3 1.4l0.7 1.7l2.4 4.1l3.1 4.4l3.8 4.8l5.1 5.3l5.0 4.7l3.8 3.1l5.5 3.9l5.2 3.1l6.0 3.1l5.4 2.3l6.6 2.3l5.7 1.6l3.6 0.7l4.8 0.8l9.2 0.8zM157.7 258.6l1.5 0.2l0.8 -0.4l0.5 -0.8l-0.1 -1.6l-0.7 -1.5l-10.3 -13.2l-4.9 -7.0l-1.5 -1.6l-0.8 0.1l-0.8 0.8l-0.7 -0.0l-1.6 1.5l-0.8 0.0l-0.8 0.9l2.2 2.2l9.5 12.7l4.6 5.1l2.4 1.8l1.5 0.8z" fill="#ff1d1d" fill-rule="evenodd"/>
<path d="M156.9 257.8l1.5 0.4l0.8 -0.2l0.4 -0.4l0.3 -0.7l-0.1 -0.8l-0.5 -1.6l-1.6 -2.3l-8.1 -10.1l-6.1 -8.5l-0.7 -0.8l-0.6 0.0l-0.8 0.8l-0.8 0.0l-1.5 1.6l-0.8 -0.0l-0.7 0.7l2.3 2.4l10.0 13.1l3.9 4.2l1.5 1.3l1.6 0.9zM354.5 218.9l0.1 -0.8l-0.1 -0.8l-1.6 -3.3l-0.7 -1.1l-0.5 0.5l0.5 1.6l0.7 1.5l1.6 2.4zM351.4 212.7l0.1 -0.1l-0.1 -0.0l-0.0 0.0l0.0 0.1z" fill="#ff1818" fill-rule="evenodd"/>
<path d="M156.9 257.2l0.8 0.2l0.7 -0.1l0.6 -0.4l0.2 -0.8l-0.1 -0.8l-0.8 -1.5l-9.6 -12.4l-5.5 -7.8l-0.7 -0.7l-0.3 -0.1l-0.8 0.8l-0.8 0.0l-1.5 1.6l-0.8 -0.0l-0.2 0.8l2.2 2.3l9.6 12.6l3.9 4.2l1.6 1.2l1.5 0.9z" fill="#ff1212" fill-rule="evenodd"/>
<path d="M156.1 256.2l0.8 0.3l0.8 -0.0l0.5 -0.4l0.1 -0.8l-0.6 -1.5l-1.6 -2.3l-7.3 -9.3l-5.1 -7.1l-1.6 -1.9l-0.7 0.4l-0.8 0.0l-1.6 1.6l-0.7 -0.0l-0.0 0.5l2.3 2.5l7.0 9.3l3.1 3.8l3.1 3.3l2.3 1.6z" fill="#ff0d0d" fill-rule="evenodd"/>
<path d="M156.1 255.3l0.8 -0.0l0.3 -0.8l-0.2 -0.8l-0.9 -1.5l-7.3 -9.3l-5.1 -7.1l-2.2 -2.2l-0.9 -0.0l-1.6 1.5l-0.6 0.0l2.2 2.3l10.1 13.2l3.1 3.2l2.3 1.5z" fill="#ff0808" fill-rule="evenodd"/>
<path d="M154.6 253.3l0.8 0.2l0.1 -0.6l-0.9 -1.7l-8.2 -10.7l-3.3 -4.6l-2.4 -2.4l-0.8 0.8l-0.0 0.7l1.3 1.6l0.2 0.8l9.3 12.3l2.4 2.5l1.5 1.1z" fill="#ff0303" fill-rule="evenodd"/>
<path d="M268.5 376.2l8.5 0.1l9.3 -0.6l6.2 -0.8l7.0 -1.3l9.3 -2.3l9.3 -3.2l4.9 -2.0l5.2 -2.4l9.3 -5.1l8.5 -5.7l8.6 -6.9l6.6 -6.2l4.2 -4.6l3.3 -4.0l5.7 -7.7l5.4 -8.5l4.2 -8.0l2.0 -4.4l2.1 -5.5l3.2 -10.0l1.7 -7.0l1.4 -7.8l0.9 -6.9l0.4 -9.3l-0.1 -5.5l-0.5 -7.7l-1.4 -9.3l-1.7 -7.8l-1.8 -6.5l-2.3 -6.6l-2.5 -6.2l-3.0 -6.2l-3.0 -5.5l-4.7 -7.6l-13.2 -18.4l-1.3 -2.6l-0.6 -2.4l-0.4 -2.3l-0.7 -9.3l-0.4 -13.9l0.0 -55.8l0.6 -16.3l0.8 -9.3l1.4 -11.6l0.1 -3.9l-0.3 -0.3l-61.2 0.0l-0.3 0.3l0.1 3.9l1.3 10.8l0.8 8.5l0.6 16.3l0.1 22.5l-0.2 17.8l-0.3 6.2l-0.7 7.0l-0.3 1.5l-1.1 2.4l-1.6 1.5l-1.5 0.6l-1.6 -0.1l-1.5 -0.7l-3.2 -2.1l-2.9 -1.6l-12.0 -4.6l-0.6 -0.0l0.0 61.2l0.6 0.0l2.6 -1.0l3.1 -0.9l3.1 -0.7l3.1 -0.0l3.9 0.7l3.8 1.4l4.7 2.4l4.6 2.9l6.2 4.5l6.2 5.2l3.1 3.1l3.1 3.6l4.5 5.9l3.7 6.2l2.1 4.7l2.0 5.4l1.5 5.4l0.9 4.7l0.4 3.9l0.2 3.8l-0.1 4.7l-0.4 4.6l-0.8 4.7l-1.9 7.0l-1.3 3.8l-1.7 3.9l-1.6 3.1l-2.8 4.7l-1.7 2.3l-3.6 4.6l-3.0 3.1l-2.6 2.5l-4.6 3.6l-4.7 3.2l-3.8 2.1l-5.5 2.5l-6.2 2.0l-4.6 1.2l-4.7 0.8l-6.9 0.5l-5.5 -0.1l-4.6 -0.5l-5.4 -1.0l-7.0 -2.1l-4.7 -1.8l-4.6 -2.3l-4.7 -2.8l-5.2 -3.9l-4.3 -3.9l-3.6 -3.8l-4.7 -6.2l-2.9 -4.7l-3.0 -6.2l-1.9 -5.4l-1.4 -5.4l-0.5 -4.7l0.1 -3.9l0.7 -2.3l0.7 -1.5l13.1 -21.0l2.9 -3.1l-0.8 -0.1l-1.6 -1.7l-0.7 0.0l-1.6 -1.6l-0.8 0.0l-0.7 -0.8l-0.8 0.0l-1.6 -1.5l-0.7 -0.0l-1.6 -1.6l-0.8 0.0l-0.7 -0.7l-0.8 -0.0l-1.6 -1.5l-0.7 -0.1l-0.8 -0.6l-0.8 0.2l-2.2 2.3l-13.7 21.7l-4.0 6.2l-1.0 1.2l-0.7 -1.2l-0.2 -0.8l-0.4 -4.6l0.0 -28.7l0.5 -1.3l0.0 -1.9l-3.9 -0.2l-10.0 -0.0l-4.7 0.0l-2.4 0.3l0.1 1.8l0.5 1.3l-0.1 27.1l-0.3 6.2l-0.9 0.7l-0.9 -0.7l-0.7 -0.8l-4.2 -5.4l-10.7 -14.7l-2.9 -3.0l-1.5 1.1l-0.8 0.0l-2.3 2.3l-0.8 0.0l-2.3 2.3l-0.8 0.0l-1.5 1.6l-0.8 -0.0l-2.3 2.3l-0.8 0.0l-2.3 2.4l-0.8 0.0l-1.6 1.8l0.9 0.8l0.7 0.4l0.8 0.8l9.3 12.9l5.1 6.8l3.7 5.5l1.7 3.8l4.1 14.8l3.2 9.3l3.1 7.7l2.6 5.4l3.0 5.5l4.3 6.9l3.9 5.5l6.3 7.9l5.7 6.0l5.0 4.7l4.1 3.3l8.5 6.3l8.5 5.3l5.4 2.8l5.2 2.4l5.8 2.3l6.1 2.1l10.1 2.8l9.3 1.7l6.2 0.8l5.4 0.4M263.8 373.1l10.1 0.5l10.9 -0.5l10.0 -1.4l8.6 -1.8l10.0 -3.0l9.3 -3.7l9.7 -4.8l8.2 -5.1l7.9 -5.8l3.7 -3.1l3.9 -3.5l7.0 -7.3l6.3 -7.8l6.0 -8.8l4.7 -8.4l3.9 -8.4l2.3 -6.1l1.5 -4.8l2.3 -8.4l1.3 -7.0l1.0 -7.8l0.5 -7.7l-0.0 -6.2l-0.6 -8.5l-0.9 -7.0l-1.4 -7.0l-1.8 -7.0l-2.0 -6.2l-3.0 -7.5l-2.6 -5.6l-2.9 -5.5l-2.7 -4.6l-12.0 -18.1l-2.9 -5.2l-1.9 -4.6l-0.9 -3.1l-0.8 -3.9l-0.7 -5.4l-0.8 -10.1l-0.3 -13.2l-0.0 -35.6l0.3 -16.3l0.5 -7.7l0.8 -7.0l1.6 -7.8l2.8 -9.8l0.2 -4.1l-0.2 -0.2l-59.7 0.0l-1.5 0.0l-0.2 0.2l0.2 4.1l2.6 9.1l1.6 7.7l0.9 6.2l0.5 6.2l0.3 11.6l0.1 18.6l-0.2 14.0l-0.5 10.8l-0.1 7.8l-0.7 4.6l-1.5 3.9l-2.2 3.6l-5.8 7.3l-1.3 2.3l-0.9 2.3l-1.1 3.9l-0.9 4.6l-0.4 4.7l0.1 3.1l0.8 2.3l1.7 2.3l2.4 2.4l15.4 13.5l7.0 6.7l6.3 6.9l4.6 6.2l1.9 3.1l2.6 4.6l2.1 4.7l1.5 3.9l1.4 4.6l0.9 3.9l0.7 3.9l0.4 4.6l0.1 6.2l-0.8 7.8l-1.7 7.7l-2.5 7.0l-3.0 6.2l-3.8 6.2l-4.5 5.8l-6.2 6.1l-4.6 3.6l-3.9 2.6l-5.4 3.1l-5.5 2.3l-4.6 1.6l-6.2 1.6l-4.7 0.7l-6.9 0.6l-4.7 -0.1l-6.2 -0.7l-5.4 -1.0l-6.2 -1.8l-5.4 -2.2l-4.7 -2.3l-4.8 -2.9l-5.3 -3.8l-3.1 -2.7l-4.6 -4.7l-3.4 -4.3l-2.8 -3.8l-2.7 -4.7l-2.3 -4.6l-1.8 -4.7l-1.4 -4.6l-0.6 -3.9l-0.2 -3.9l0.7 -3.9l1.0 -3.1l3.0 -5.4l10.5 -16.6l0.8 -1.2l1.6 -1.6l-0.1 -0.7l-0.8 -1.0l-0.7 0.0l-1.6 -1.6l-0.8 0.0l-0.7 -0.8l-0.8 0.0l-1.6 -1.5l-0.7 -0.1l-1.6 -1.5l-0.8 0.0l-0.7 -0.7l-0.8 -0.0l-1.6 -1.5l-0.7 -0.0l-0.8 -0.3l-1.9 2.0l-15.2 24.0l-3.5 5.4l-0.3 0.4l-0.8 0.4l-0.8 -0.6l-0.6 -1.7l-0.6 -2.3l-0.2 -2.4l-0.0 -32.5l-8.7 -0.3l-6.2 0.1l-3.2 0.2l0.1 17.8l-0.2 12.4l-0.5 7.0l-0.8 0.8l-0.8 -0.2l-2.3 -2.1l-2.1 -2.4l-13.2 -17.8l-2.3 -2.3l-0.2 -0.1l-0.8 0.6l-0.8 0.0l-2.3 2.3l-0.8 -0.0l-2.3 2.3l-0.8 -0.0l-1.5 1.6l-0.8 -0.1l-2.3 2.4l-0.8 -0.0l-2.3 2.4l-1.0 0.2l0.2 0.8l1.2 1.5l1.4 2.3l15.4 21.0l2.4 3.8l2.4 5.5l5.1 14.7l3.1 8.1l3.9 8.5l4.6 8.6l3.9 6.1l4.8 6.7l4.5 5.5l5.0 5.3l7.5 7.0l3.8 3.1l4.6 3.4l5.3 3.6l3.8 2.3l9.0 4.6l4.4 2.0l5.4 2.1l9.0 2.9l10.4 2.4l10.8 1.5M263.1 370.0l10.0 0.6l10.1 -0.4l10.1 -1.2l9.3 -2.0l9.3 -2.7l9.2 -3.6l9.3 -4.7l7.8 -4.7l7.8 -5.6l7.0 -6.0l7.7 -7.9l6.2 -7.5l5.8 -8.6l4.8 -8.5l4.1 -9.2l3.4 -9.4l2.0 -7.7l1.4 -7.0l1.0 -7.5l0.4 -7.2l0.0 -7.0l-0.5 -7.8l-0.9 -6.9l-1.4 -7.0l-1.6 -6.2l-2.0 -6.2l-2.4 -6.2l-2.5 -5.4l-3.1 -6.0l-2.7 -4.9l-11.6 -18.6l-1.6 -3.1l-1.4 -3.1l-3.1 -7.7l-1.1 -3.9l-1.4 -6.2l-1.0 -7.8l-0.7 -10.8l-0.2 -15.5l0.2 -31.0l0.2 -7.8l0.4 -6.2l0.9 -6.9l1.2 -5.5l1.3 -3.8l1.5 -3.9l4.4 -9.2l0.0 -3.3l-61.3 0.1l0.1 3.2l3.4 6.9l1.7 3.8l1.6 4.7l1.2 4.6l0.7 3.9l0.6 4.7l0.6 12.4l0.1 20.1l-0.4 21.7l0.6 10.9l-0.1 4.6l-0.4 3.9l-1.1 4.6l-4.0 12.4l-1.4 5.5l-0.5 3.1l-0.1 2.3l0.1 2.3l0.3 2.3l0.7 2.4l0.9 2.3l1.3 2.3l2.1 3.1l3.6 4.7l8.6 9.9l5.9 7.1l4.4 6.2l3.3 5.4l3.4 7.0l2.3 6.2l1.9 7.8l0.9 7.7l0.1 7.0l-0.8 7.7l-1.8 7.8l-2.5 7.0l-3.4 6.9l-3.9 6.2l-4.3 5.6l-6.2 6.2l-5.5 4.2l-4.6 3.0l-5.4 2.9l-5.5 2.3l-5.4 1.8l-6.2 1.4l-5.4 0.8l-5.4 0.3l-5.5 -0.1l-6.2 -0.7l-5.4 -1.1l-5.4 -1.5l-5.4 -2.1l-5.5 -2.6l-4.6 -2.8l-5.4 -3.9l-3.9 -3.3l-4.7 -4.7l-3.3 -4.1l-2.8 -3.9l-3.2 -5.4l-2.7 -5.4l-1.8 -4.7l-1.2 -4.6l-0.6 -3.9l0.2 -3.9l1.1 -3.9l1.5 -3.8l3.0 -5.5l9.4 -14.7l1.7 -3.1l1.8 -1.9l0.1 -0.4l-0.8 -0.1l-1.6 -1.6l-0.8 -0.0l-0.7 -0.8l-0.8 -0.0l-1.6 -1.6l-0.7 0.0l-1.6 -1.5l-0.8 -0.0l-0.7 -0.8l-0.8 0.0l-1.6 -1.4l-0.9 0.0l-1.4 1.9l-5.0 8.2l-11.9 18.6l-2.2 3.9l-1.0 0.8l-0.8 0.1l-0.8 -0.3l-0.8 -0.9l-1.1 -3.6l-0.6 -3.1l-0.2 -4.6l0.0 -28.7l-7.4 -0.2l-8.1 0.2l-0.2 22.5l-0.4 14.7l-0.1 0.8l-0.5 0.6l-0.7 0.5l-0.8 -0.0l-0.8 -0.4l-3.3 -3.1l-1.4 -1.5l-6.7 -8.5l-6.4 -8.9l-0.7 -1.2l-1.6 -1.8l-1.6 0.1l-2.3 2.3l-0.8 -0.1l-2.3 2.3l-0.8 0.0l-1.5 1.6l-0.8 -0.0l-2.3 2.4l-0.8 -0.0l-2.3 2.4l-0.8 0.1l2.1 2.3l7.8 10.9l8.3 10.8l4.0 6.2l2.0 3.9l1.8 3.9l5.8 14.5l3.8 8.7l3.9 7.8l3.6 6.2l4.1 6.2l4.1 5.4l4.5 5.3l4.6 4.9l7.5 6.8l8.0 6.1l8.6 5.4l8.5 4.5l9.3 3.9l8.5 2.7l10.1 2.4l10.1 1.4M265.4 366.9l9.3 0.4l10.1 -0.5l9.3 -1.3l9.3 -2.0l8.9 -2.8l9.4 -3.9l8.8 -4.6l7.7 -4.9l7.8 -5.8l7.0 -6.3l6.6 -7.1l5.8 -7.3l5.4 -8.2l4.5 -8.5l4.0 -9.1l2.9 -8.7l1.8 -7.0l1.3 -7.0l0.9 -6.9l0.3 -7.0l-0.0 -7.0l-0.5 -7.0l-1.0 -6.9l-1.5 -7.0l-1.4 -5.4l-1.8 -5.5l-1.8 -4.6l-2.4 -5.4l-5.3 -10.4l-9.1 -15.2l-3.0 -5.4l-2.3 -4.7l-4.6 -10.8l-1.8 -4.7l-1.6 -5.4l-1.2 -5.4l-0.8 -6.2l-0.5 -6.2l-0.2 -7.0l0.0 -25.6l0.3 -21.7l0.3 -6.2l0.5 -5.4l0.5 -3.1l0.8 -3.9l0.8 -2.3l1.3 -3.1l1.7 -3.1l1.1 -1.6l5.4 -6.3l-0.8 -0.1l-1.0 0.2l-10.6 4.4l-6.2 2.1l-4.7 1.1l-4.6 0.3l-4.7 -0.2l-5.4 -1.2l-6.2 -2.1l-10.6 -4.4l-1.0 -0.2l-0.8 0.2l3.5 3.9l2.4 3.1l1.5 2.3l1.5 3.1l1.1 3.1l1.0 3.9l0.6 3.9l0.5 5.4l0.4 15.5l-0.1 34.1l0.3 5.4l1.1 10.9l0.1 5.4l-0.2 3.9l-0.7 4.6l-3.2 14.0l-0.9 4.6l-0.3 4.7l0.6 4.6l0.6 2.4l1.1 3.1l2.9 5.4l3.6 5.4l8.6 11.6l3.2 4.7l2.9 4.6l3.3 6.2l2.7 6.2l2.0 6.2l1.3 6.2l0.8 7.0l0.2 3.9l-0.1 3.9l-0.9 7.7l-1.8 7.8l-1.2 3.8l-1.6 3.9l-1.8 3.9l-2.1 3.9l-4.0 6.2l-4.9 5.8l-6.2 6.0l-5.4 4.2l-4.6 2.9l-6.2 3.2l-5.5 2.3l-5.4 1.6l-6.2 1.4l-5.4 0.7l-6.2 0.4l-6.2 -0.3l-6.2 -0.8l-6.2 -1.3l-5.4 -1.7l-5.5 -2.3l-6.2 -3.2l-4.6 -2.9l-4.7 -3.5l-4.4 -4.0l-4.1 -4.3l-3.4 -4.2l-3.3 -4.7l-3.1 -5.4l-3.0 -6.2l-1.7 -4.7l-1.1 -4.6l-0.3 -3.1l0.1 -2.3l0.5 -2.4l0.9 -2.3l3.1 -6.2l2.2 -3.9l9.9 -15.6l1.7 -3.0l1.4 -1.6l0.0 -0.7l-0.8 -0.8l-0.8 -0.0l-0.7 -0.9l-0.8 0.0l-1.6 -1.5l-0.7 -0.0l-1.6 -1.5l-0.8 -0.1l-0.7 -0.7l-0.8 0.0l-0.8 -0.7l-0.5 0.0l-1.3 1.6l-15.1 24.0l-1.8 3.1l-1.8 4.6l-1.2 1.3l-1.5 0.6l-1.6 -0.3l-0.8 -0.4l-1.0 -1.2l-0.9 -2.3l-1.0 -5.4l-0.3 -5.4l0.1 -20.1l-0.1 -8.6l-6.1 -0.2l-6.8 0.2l-0.2 21.7l-0.4 11.6l0.3 4.7l-0.5 1.5l-0.9 0.8l-0.8 0.3l-0.7 0.0l-1.6 -0.6l-5.2 -5.1l-6.3 -7.8l-7.9 -10.9l-2.2 -2.3l-2.4 2.2l-0.8 0.0l-2.3 2.3l-0.8 -0.0l-1.5 1.5l-0.8 0.0l-2.3 2.4l-0.8 0.0l-1.6 1.7l-0.3 0.8l1.9 2.0l7.7 10.6l8.9 11.4l6.3 9.3l3.6 7.0l6.0 13.8l3.9 8.1l3.9 7.2l3.9 6.3l3.8 5.6l3.9 4.9l3.9 4.5l5.3 5.4l7.1 6.3l8.3 6.1l8.0 4.8l8.9 4.5l8.9 3.5l9.0 2.7l9.6 2.0l9.3 1.1M263.8 363.1l10.1 0.5l10.1 -0.5l9.3 -1.2l9.3 -2.1l9.5 -3.0l9.1 -3.9l8.7 -4.6l8.3 -5.4l7.7 -6.2l7.1 -6.8l6.2 -7.1l5.4 -7.4l4.6 -7.6l4.7 -9.4l3.5 -9.0l2.7 -9.5l1.2 -6.0l0.9 -6.2l0.4 -5.4l0.2 -6.2l-0.2 -6.2l-0.4 -5.5l-0.8 -5.4l-1.2 -6.2l-1.7 -6.2l-1.5 -4.8l-2.3 -6.0l-2.4 -5.3l-4.6 -9.0l-11.3 -19.8l-5.8 -11.7l-5.8 -10.8l-2.9 -6.2l-2.0 -5.4l-1.4 -6.2l-0.7 -7.8l0.4 -38.0l-0.2 -8.5l-0.4 -6.2l-0.6 -3.9l-1.1 -3.1l-0.8 -1.2l-0.7 -0.8l-0.8 -0.6l-1.6 -0.7l-1.5 -0.3l-1.6 0.1l-1.5 0.4l-1.6 1.0l-1.1 1.4l-0.8 1.5l-0.7 2.3l-0.6 3.1l-0.4 5.5l-0.3 6.9l-0.1 14.8l0.2 10.0l0.6 9.3l2.0 14.0l0.2 6.2l-0.3 3.9l-0.9 4.6l-4.0 14.6l-1.0 4.8l-0.6 4.6l0.1 3.9l0.5 3.1l0.8 3.1l1.1 3.1l1.5 3.1l3.1 5.4l8.1 12.4l3.2 5.5l3.3 6.2l2.7 6.2l2.2 6.9l1.5 7.0l0.7 7.0l0.0 7.0l-0.6 6.9l-1.4 7.0l-2.2 7.0l-3.0 7.0l-3.5 6.2l-4.3 6.2l-4.6 5.4l-6.0 5.6l-4.7 3.7l-5.4 3.5l-6.2 3.2l-5.4 2.3l-6.2 1.9l-6.2 1.4l-6.2 0.8l-7.0 0.3l-7.0 -0.3l-6.2 -0.9l-6.2 -1.5l-5.4 -1.7l-5.4 -2.3l-6.2 -3.2l-4.7 -3.0l-5.4 -4.1l-5.3 -4.9l-4.3 -4.7l-4.1 -5.4l-3.5 -5.4l-3.3 -6.2l-3.0 -7.0l-2.2 -7.0l-1.0 -4.6l0.1 -2.4l0.8 -1.5l3.3 -3.5l2.4 -3.0l14.1 -22.2l1.1 -1.5l1.8 -1.9l0.0 -0.5l-0.8 0.0l-0.7 -0.8l-0.8 0.0l-1.6 -1.6l-0.7 0.0l-1.6 -1.5l-0.8 0.0l-0.7 -0.5l-2.1 2.1l-11.9 18.6l-2.3 3.9l-1.6 3.4l-0.5 2.8l-0.0 3.9l-0.5 1.5l-0.6 0.8l-0.7 0.4l-1.5 0.5l-1.6 0.2l-1.5 -0.2l-1.6 -0.4l-1.5 -0.8l-1.6 -1.3l-0.6 -0.7l-0.8 -1.6l-0.5 -1.5l-0.7 -10.1l0.2 -21.7l-0.1 -9.3l-9.6 -0.0l-0.2 3.1l-0.3 27.9l0.2 3.1l0.6 3.1l0.2 1.5l-0.3 1.6l-0.4 0.8l-0.7 0.7l-0.9 0.7l-1.6 0.4l-1.5 -0.2l-0.8 -0.3l-1.6 -1.2l-1.9 -2.5l-3.2 -3.1l-2.8 -3.1l-4.8 -6.2l-6.7 -9.3l-2.3 -2.2l-1.5 1.4l-0.8 -0.0l-2.3 2.2l-0.8 0.0l-1.5 1.6l-0.8 -0.0l-2.3 2.4l-0.8 -0.0l-0.8 0.8l0.0 0.6l1.6 1.8l0.7 1.3l7.0 9.6l14.9 18.5l3.4 4.7l3.9 6.9l5.7 12.4l3.9 7.8l3.9 6.9l3.8 6.1l3.5 4.8l3.7 4.7l4.2 4.6l4.1 4.2l6.7 5.9l7.3 5.5l7.7 4.8l8.7 4.4l8.4 3.5l8.5 2.6l8.5 2.0l9.3 1.3M262.3 358.4l8.5 0.6l8.5 -0.0l8.6 -0.8l8.3 -1.4l7.9 -2.0l7.8 -2.7l8.5 -3.7l7.3 -4.0l7.1 -4.6l6.5 -5.1l6.4 -5.8l6.0 -6.5l4.7 -5.9l4.7 -7.0l3.9 -6.9l3.9 -8.6l2.8 -7.7l1.9 -7.0l1.6 -7.7l0.8 -7.8l0.3 -8.5l-0.4 -7.8l-0.9 -7.5l-1.6 -7.5l-2.3 -7.9l-2.7 -7.3l-3.5 -7.6l-4.6 -8.8l-11.7 -20.0l-3.1 -5.0l-2.3 -3.2l-2.3 -2.5l-2.3 -1.8l-1.6 -0.9l-2.3 -0.6l-1.6 0.1l-0.7 0.3l-2.4 1.5l-2.3 3.0l-1.8 3.7l-1.3 3.8l-0.8 4.7l0.1 3.9l0.3 2.3l0.7 3.1l2.0 5.4l2.3 4.7l7.3 12.4l4.1 7.7l3.0 7.0l2.5 7.7l0.9 3.9l0.8 4.7l0.4 4.6l0.2 4.7l-0.1 4.6l-0.5 4.7l-0.6 3.8l-1.0 4.7l-1.1 3.9l-1.6 4.6l-2.0 4.7l-2.4 4.6l-2.2 3.9l-2.7 3.9l-2.9 3.8l-2.8 3.2l-3.1 3.2l-3.9 3.5l-3.9 3.1l-3.1 2.1l-3.8 2.4l-4.7 2.5l-4.6 2.1l-4.7 1.8l-7.7 2.2l-7.8 1.3l-7.7 0.5l-7.8 -0.3l-7.7 -1.1l-7.8 -1.9l-7.0 -2.5l-7.7 -3.7l-6.2 -3.8l-6.2 -4.6l-5.4 -5.0l-5.2 -5.7l-3.6 -4.7l-3.1 -4.6l-4.0 -7.0l-5.8 -11.7l-1.6 -2.4l-2.0 -2.2l-2.3 -1.5l-5.0 -2.7l-5.4 -3.8l-1.6 -0.7l-1.5 -0.2l-3.9 0.6l-2.3 0.0l-2.3 -0.6l-1.6 -1.0l-1.5 -1.7l-3.2 -4.7l-4.4 -4.6l-4.4 -5.4l-9.6 -13.2l-0.9 0.7l-0.8 0.0l-2.3 2.3l-0.8 -0.0l-1.5 1.5l-0.8 0.0l-2.3 2.4l-0.8 0.1l-0.0 0.7l2.8 3.1l7.3 9.8l5.4 6.8l4.6 5.1l7.6 7.0l2.6 3.1l3.4 5.4l9.7 19.9l3.1 5.7l3.1 5.1l3.9 5.6l4.3 5.6l4.2 4.8l5.2 5.3l6.2 5.4l6.4 4.8l7.2 4.5l7.5 3.9l7.8 3.3l8.5 2.8l7.8 1.9l8.5 1.3M204.9 250.2l0.8 -0.2l0.8 -0.6l1.5 -1.9l11.7 -17.9l1.2 -1.4l0.3 -0.8l-0.8 -0.8l-1.5 -0.2l-2.2 2.5l-11.0 17.6l-1.0 2.6l-0.0 0.8l0.2 0.3M178.6 248.4l0.8 0.6l0.7 -0.1l0.5 -0.6l0.6 -1.5l0.5 -2.6l0.3 -6.7l0.2 -10.1l0.0 -9.3l-0.3 -3.1l-4.3 -0.0l-0.3 3.1l-0.2 24.8l0.2 2.3l0.4 1.6l0.9 1.6M263.1 352.2l7.7 0.6l7.8 -0.0l7.7 -0.6l7.0 -1.2l8.2 -1.9l7.0 -2.4l7.4 -3.1l6.1 -3.1l6.4 -3.8l6.4 -4.7l5.8 -4.9l5.4 -5.4l4.6 -5.3l4.7 -6.3l3.9 -6.1l3.8 -7.4l3.1 -7.4l2.4 -7.0l1.5 -6.2l1.3 -7.5l0.6 -7.0l0.1 -7.8l-0.4 -6.9l-1.0 -7.0l-1.4 -6.4l-2.3 -7.8l-3.1 -8.0l-3.9 -8.2l-4.6 -8.4l-5.4 -8.2l-3.9 -4.5l-1.6 -1.3l-1.5 -1.0l-1.6 -0.5l-1.5 0.0l-1.6 0.7l-0.9 0.9l-0.9 1.5l-0.7 2.4l-0.2 2.3l0.1 2.3l0.6 3.1l1.3 3.9l2.3 5.0l5.9 11.3l2.9 6.2l3.1 7.7l1.8 6.2l1.5 7.8l0.6 8.5l-0.0 4.6l-0.3 3.9l-0.5 3.9l-0.8 4.6l-1.1 4.7l-1.2 3.9l-3.1 7.7l-2.3 4.7l-2.2 3.8l-4.7 7.0l-3.1 3.9l-2.7 3.0l-6.2 5.9l-7.0 5.3l-3.9 2.5l-3.8 2.2l-7.0 3.3l-3.9 1.5l-4.6 1.5l-5.5 1.4l-3.8 0.8l-8.6 0.9l-4.6 0.2l-4.7 -0.1l-8.5 -0.9l-8.5 -1.8l-3.9 -1.2l-4.6 -1.6l-7.0 -3.2l-7.8 -4.4l-6.9 -5.1l-6.3 -5.6l-5.1 -5.4l-4.3 -5.4l-4.8 -7.0l-7.4 -12.2l-2.4 -3.1l-2.3 -2.3l-1.5 -1.2l-2.4 -1.3l-3.8 -1.4l-1.6 -0.3l-1.5 0.2l-1.4 0.7l-0.5 0.8l-0.3 1.5l0.2 2.3l0.6 2.4l1.3 3.8l3.2 7.5l4.6 8.9l4.7 7.4l4.7 6.5l5.4 6.2l6.3 6.2l5.5 4.6l6.5 4.7l6.4 3.9l7.8 3.8l7.7 3.1l6.2 1.9l7.8 1.8l7.0 1.0M160.0 262.4l1.5 0.2l0.8 -0.2l0.9 -0.9l0.3 -1.6l-0.2 -1.5l-0.4 -1.6l-0.6 -1.4l-1.2 -1.7l-7.7 -9.3l-7.5 -10.0l-2.3 -2.4l-0.7 0.0l-1.5 1.5l-0.8 0.0l-1.5 1.6l-0.8 -0.0l-1.4 1.6l10.7 14.4l3.9 4.6l3.1 3.2l3.1 2.4l2.3 1.1" fill="none" stroke="#000" stroke-width="0.8"/>
</g>
<path d="M299.10 44.10 L361.10 44.10 L361.10 166.35 L361.66 166.90 L362.22 167.46 L362.78 168.02 L363.33 168.59 L363.87 169.15 L364.42 169.73 L364.96 170.30 L365.50 170.88 L366.03 171.46 L366.56 172.05 L367.08 172.64 L367.61 173.23 L368.12 173.83 L368.64 174.42 L369.15 175.03 L369.66 175.63 L370.16 176.24 L370.66 176.85 L371.15 177.47 L371.64 178.09 L372.13 178.71 L372.61 179.33 L373.09 179.96 L373.57 180.59 L374.04 181.22 L374.51 181.86 L374.97 182.50 L375.43 183.14 L375.88 183.79 L376.33 184.44 L376.78 185.09 L377.22 185.74 L377.66 186.40 L378.09 187.06 L378.52 187.72 L378.95 188.38 L379.37 189.05 L379.79 189.72 L380.20 190.40 L380.61 191.07 L381.01 191.75 L381.41 192.43 L381.81 193.11 L382.20 193.80 L382.59 194.49 L382.97 195.18 L383.35 195.87 L383.72 196.57 L384.09 197.26 L384.46 197.96 L384.82 198.67 L385.17 199.37 L385.52 200.08 L385.87 200.79 L386.21 201.50 L386.55 202.21 L386.88 202.93 L387.21 203.65 L387.54 204.37 L387.86 205.09 L388.17 205.81 L388.48 206.54 L388.79 207.27 L389.09 208.00 L389.38 208.73 L389.67 209.46 L389.96 210.20 L390.24 210.93 L390.52 211.67 L390.79 212.41 L391.06 213.16 L391.33 213.90 L391.58 214.65 L391.84 215.39 L392.09 216.14 L392.33 216.89 L392.57 217.65 L392.81 218.40 L393.04 219.16 L393.26 219.91 L393.48 220.67 L393.70 221.43 L393.91 222.19 L394.11 222.95 L394.32 223.72 L394.51 224.48 L394.70 225.25 L394.89 226.01 L395.07 226.78 L395.25 227.55 L395.42 228.32 L395.59 229.10 L395.75 229.87 L395.90 230.64 L396.06 231.42 L396.20 232.19 L396.35 232.97 L396.48 233.75 L396.61 234.52 L396.74 235.30 L396.86 236.08 L396.98 236.86 L397.09 237.65 L397.20 238.43 L397.30 239.21 L397.40 239.99 L397.49 240.78 L397.58 241.56 L397.66 242.35 L397.74 243.13 L397.81 243.92 L397.88 244.71 L397.94 245.49 L398.00 246.28 L398.05 247.07 L398.10 247.86 L398.14 248.65 L398.18 249.43 L398.21 250.22 L398.24 251.01 L398.26 251.80 L398.28 252.59 L398.29 253.38 L398.30 254.17 L398.30 254.96 L398.30 255.75 L398.29 256.54 L398.28 257.33 L398.26 258.12 L398.24 258.91 L398.21 259.69 L398.17 260.48 L398.14 261.27 L398.09 262.06 L398.04 262.85 L397.99 263.64 L397.93 264.42 L397.87 265.21 L397.80 266.00 L397.73 266.78 L397.65 267.57 L397.57 268.35 L397.48 269.14 L397.39 269.92 L397.29 270.71 L397.19 271.49 L397.08 272.27 L396.96 273.05 L396.85 273.83 L396.72 274.61 L396.60 275.39 L396.46 276.17 L396.32 276.95 L396.18 277.72 L396.03 278.50 L395.88 279.27 L395.72 280.05 L395.56 280.82 L395.39 281.59 L395.22 282.36 L395.04 283.13 L394.86 283.90 L394.67 284.67 L394.48 285.43 L394.29 286.20 L394.08 286.96 L393.88 287.72 L393.67 288.48 L393.45 289.24 L393.23 290.00 L393.00 290.76 L392.77 291.51 L392.54 292.27 L392.30 293.02 L392.05 293.77 L391.80 294.52 L391.55 295.26 L391.29 296.01 L391.02 296.75 L390.75 297.50 L390.48 298.24 L390.20 298.98 L389.92 299.71 L389.63 300.45 L389.34 301.18 L389.04 301.91 L388.74 302.64 L388.43 303.37 L388.12 304.10 L387.81 304.82 L387.49 305.54 L387.16 306.26 L386.83 306.98 L386.50 307.69 L386.16 308.41 L385.82 309.12 L385.47 309.83 L385.12 310.53 L384.76 311.24 L384.40 311.94 L384.04 312.64 L383.67 313.34 L383.29 314.03 L382.91 314.73 L382.53 315.42 L382.14 316.10 L381.75 316.79 L381.35 317.47 L380.95 318.15 L380.55 318.83 L380.14 319.51 L379.73 320.18 L379.31 320.85 L378.89 321.52 L378.46 322.18 L378.03 322.84 L377.60 323.50 L377.16 324.16 L376.71 324.81 L376.27 325.46 L375.82 326.11 L375.36 326.75 L374.90 327.40 L374.44 328.03 L373.97 328.67 L373.50 329.30 L373.02 329.93 L372.54 330.56 L372.06 331.19 L371.57 331.81 L371.08 332.42 L370.58 333.04 L370.08 333.65 L369.58 334.26 L369.07 334.86 L368.56 335.46 L368.05 336.06 L367.53 336.66 L367.01 337.25 L366.48 337.84 L365.95 338.42 L365.42 339.01 L364.88 339.58 L364.34 340.16 L363.79 340.73 L363.24 341.30 L362.69 341.86 L362.14 342.42 L361.58 342.98 L361.02 343.54 L360.45 344.09 L359.88 344.63 L359.31 345.18 L358.73 345.72 L358.15 346.25 L357.57 346.78 L356.98 347.31 L356.39 347.84 L355.80 348.36 L355.20 348.87 L354.60 349.39 L354.00 349.90 L353.39 350.40 L352.78 350.90 L352.17 351.40 L351.55 351.90 L350.93 352.39 L350.31 352.87 L349.69 353.35 L349.06 353.83 L348.43 354.30 L347.79 354.77 L347.15 355.24 L346.51 355.70 L345.87 356.16 L345.22 356.61 L344.58 357.06 L343.92 357.51 L343.27 357.95 L342.61 358.39 L341.95 358.82 L341.29 359.25 L340.62 359.67 L339.95 360.09 L339.28 360.51 L338.61 360.92 L337.93 361.33 L337.25 361.73 L336.57 362.13 L335.89 362.52 L335.20 362.91 L334.51 363.30 L333.82 363.68 L333.13 364.06 L332.43 364.43 L331.73 364.80 L331.03 365.16 L330.33 365.52 L329.62 365.87 L328.92 366.22 L328.21 366.57 L327.49 366.91 L326.78 367.25 L326.06 367.58 L325.34 367.91 L324.62 368.23 L323.90 368.55 L323.18 368.86 L322.45 369.17 L321.72 369.47 L320.99 369.77 L320.26 370.07 L319.52 370.36 L318.79 370.64 L318.05 370.93 L317.31 371.20 L316.57 371.47 L315.83 371.74 L315.08 372.00 L314.34 372.26 L313.59 372.51 L312.84 372.76 L312.09 373.00 L311.33 373.24 L310.58 373.47 L309.82 373.70 L309.07 373.93 L308.31 374.15 L307.55 374.36 L306.79 374.57 L306.02 374.77 L305.26 374.97 L304.50 375.17 L303.73 375.36 L302.96 375.54 L302.19 375.72 L301.42 375.90 L300.65 376.07 L299.88 376.23 L299.11 376.39 L298.33 376.55 L297.56 376.70 L296.78 376.84 L296.01 376.99 L295.23 377.12 L294.45 377.25 L293.67 377.38 L292.89 377.50 L292.11 377.61 L291.33 377.73 L290.54 377.83 L289.76 377.93 L288.98 378.03 L288.19 378.12 L287.41 378.21 L286.62 378.29 L285.84 378.36 L285.05 378.43 L284.26 378.50 L283.48 378.56 L282.69 378.62 L281.90 378.67 L281.11 378.71 L280.33 378.75 L279.54 378.79 L278.75 378.82 L277.96 378.85 L277.17 378.87 L276.38 378.88 L275.59 378.89 L274.80 378.90 L274.01 378.90 L273.22 378.90 L272.43 378.89 L271.64 378.87 L270.85 378.85 L270.06 378.83 L269.28 378.80 L268.49 378.76 L267.70 378.72 L266.91 378.68 L266.12 378.63 L265.33 378.58 L264.55 378.52 L263.76 378.45 L262.97 378.38 L262.19 378.31 L261.40 378.23 L260.62 378.14 L259.83 378.05 L259.05 377.96 L258.27 377.86 L257.48 377.75 L256.70 377.64 L255.92 377.53 L255.14 377.41 L254.36 377.29 L253.58 377.16 L252.80 377.02 L252.03 376.88 L251.25 376.74 L250.48 376.59 L249.70 376.44 L248.93 376.28 L248.16 376.11 L247.38 375.94 L246.61 375.77 L245.85 375.59 L245.08 375.41 L244.31 375.22 L243.55 375.03 L242.78 374.83 L242.02 374.62 L241.26 374.42 L240.50 374.20 L239.74 373.99 L238.98 373.76 L238.22 373.54 L237.47 373.30 L236.72 373.07 L235.96 372.83 L235.21 372.58 L234.47 372.33 L233.72 372.07 L232.97 371.81 L232.23 371.55 L231.49 371.28 L230.75 371.00 L230.01 370.72 L229.27 370.44 L228.54 370.15 L227.81 369.85 L227.08 369.56 L226.35 369.25 L225.62 368.94 L224.89 368.63 L224.17 368.32 L223.45 367.99 L222.73 367.67 L222.01 367.34 L221.30 367.00 L220.59 366.66 L219.88 366.32 L219.17 365.97 L218.46 365.62 L217.76 365.26 L217.06 364.90 L216.36 364.53 L215.66 364.16 L214.97 363.78 L214.27 363.40 L213.58 363.02 L212.90 362.63 L212.21 362.24 L211.53 361.84 L210.85 361.44 L210.17 361.03 L209.50 360.62 L208.83 360.21 L208.16 359.79 L207.49 359.36 L206.83 358.94 L206.17 358.50 L205.51 358.07 L204.85 357.63 L204.20 357.18 L203.55 356.74 L202.90 356.28 L202.26 355.83 L201.62 355.37 L200.98 354.90 L200.34 354.43 L199.71 353.96 L199.08 353.48 L198.46 353.00 L197.83 352.52 L197.21 352.03 L196.60 351.53 L195.98 351.04 L195.37 350.54 L194.77 350.03 L194.16 349.52 L193.56 349.01 L192.96 348.50 L192.37 347.98 L191.78 347.45 L191.19 346.93 L190.61 346.40 L190.03 345.86 L189.45 345.32 L188.87 344.78 L188.30 344.23 L187.74 343.68 L187.17 343.13 L186.61 342.58 L186.06 342.02 L185.50 341.45 L184.95 340.88 L184.41 340.31 L183.87 339.74 L183.33 339.16 L182.79 338.58 L182.26 338.00 L181.74 337.41 L181.21 336.82 L180.69 336.22 L180.18 335.63 L179.66 335.03 L179.16 334.42 L178.65 333.81 L178.15 333.20 L177.65 332.59 L177.16 331.97 L176.67 331.35 L176.19 330.73 L175.71 330.10 L175.23 329.47 L174.76 328.84 L174.29 328.21 L173.82 327.57 L173.36 326.93 L172.91 326.28 L172.45 325.64 L172.01 324.99 L171.56 324.33 L171.12 323.68 L170.69 323.02 L170.26 322.36 L169.83 321.69 L169.40 321.03 L168.99 320.36 L168.57 319.69 L168.16 319.01 L167.75 318.34 L167.35 317.66 L166.96 316.97 L166.56 316.29 L166.17 315.60 L165.79 314.91 L165.41 314.22 L165.03 313.53 L164.66 312.83 L164.30 312.13 L163.93 311.43 L163.58 310.72 L163.22 310.02 L162.87 309.31 L162.53 308.60 L162.19 307.89 L161.86 307.17 L161.53 306.45 L161.20 305.74 L160.88 305.01 L160.56 304.29 L160.25 303.57 L159.94 302.84 L159.64 302.11 L159.34 301.38 L159.05 300.65 L158.76 299.91 L158.47 299.17 L158.19 298.44 L157.92 297.70 L157.65 296.95 L157.38 296.21 L157.12 295.47 L156.87 294.72 L156.62 293.97 L156.37 293.22 L156.13 292.47 L155.89 291.72 L155.66 290.96 L155.43 290.20 L155.21 289.45 L154.99 288.69 L154.78 287.93 L154.57 287.17 L154.37 286.40 L154.17 285.64 L153.98 284.87 L153.79 284.11 L153.61 283.34 L153.43 282.57 L153.25 281.80 L153.08 281.03 L152.92 280.26 L152.76 279.48 L152.61 278.71 L152.46 277.93 L152.31 277.16 L152.17 276.38 L152.04 275.60 L151.91 274.82 L151.79 274.04 L151.67 273.26 L151.55 272.48 L151.44 271.70 L151.34 270.92 L151.24 270.13 L131.93 243.56 L152.00 228.98 L169.02 252.42 L169.02 217.70 L190.85 217.70 L190.85 252.42 L209.17 223.09 L227.58 234.59 L212.43 258.84 L212.46 259.32 L212.49 259.80 L212.53 260.28 L212.58 260.76 L212.62 261.24 L212.68 261.71 L212.73 262.19 L212.79 262.67 L212.85 263.15 L212.92 263.62 L212.99 264.10 L213.06 264.58 L213.14 265.05 L213.22 265.53 L213.30 266.00 L213.39 266.47 L213.48 266.94 L213.58 267.42 L213.68 267.89 L213.78 268.36 L213.88 268.83 L213.99 269.29 L214.11 269.76 L214.22 270.23 L214.35 270.69 L214.47 271.16 L214.60 271.62 L214.73 272.09 L214.86 272.55 L215.00 273.01 L215.15 273.47 L215.29 273.93 L215.44 274.38 L215.59 274.84 L215.75 275.30 L215.91 275.75 L216.07 276.20 L216.24 276.65 L216.41 277.10 L216.59 277.55 L216.76 278.00 L216.94 278.44 L217.13 278.89 L217.32 279.33 L217.51 279.77 L217.70 280.21 L217.90 280.65 L218.10 281.09 L218.31 281.52 L218.52 281.96 L218.73 282.39 L218.94 282.82 L219.16 283.25 L219.38 283.68 L219.61 284.10 L219.84 284.53 L220.07 284.95 L220.30 285.37 L220.54 285.79 L220.78 286.20 L221.03 286.62 L221.27 287.03 L221.53 287.44 L221.78 287.85 L222.04 288.25 L222.30 288.66 L222.56 289.06 L222.83 289.46 L223.10 289.86 L223.37 290.26 L223.65 290.65 L223.92 291.04 L224.21 291.43 L224.49 291.82 L224.78 292.21 L225.07 292.59 L225.36 292.97 L225.66 293.35 L225.96 293.73 L226.26 294.10 L226.57 294.47 L226.88 294.84 L227.19 295.21 L227.50 295.57 L227.82 295.93 L228.14 296.29 L228.46 296.65 L228.79 297.00 L229.12 297.36 L229.45 297.71 L229.78 298.05 L230.12 298.40 L230.46 298.74 L230.80 299.08 L231.14 299.41 L231.49 299.75 L231.84 300.08 L232.19 300.41 L232.55 300.73 L232.90 301.05 L233.26 301.37 L233.62 301.69 L233.99 302.01 L234.35 302.32 L234.72 302.63 L235.10 302.93 L235.47 303.23 L235.85 303.53 L236.22 303.83 L236.61 304.12 L236.99 304.42 L237.37 304.70 L237.76 304.99 L238.15 305.27 L238.54 305.55 L238.94 305.83 L239.33 306.10 L239.73 306.37 L240.13 306.64 L240.53 306.90 L240.94 307.16 L241.35 307.42 L241.75 307.67 L242.17 307.92 L242.58 308.17 L242.99 308.41 L243.41 308.66 L243.83 308.89 L244.25 309.13 L244.67 309.36 L245.09 309.59 L245.52 309.81 L245.94 310.04 L246.37 310.25 L246.80 310.47 L247.24 310.68 L247.67 310.89 L248.10 311.09 L248.54 311.30 L248.98 311.49 L249.42 311.69 L249.86 311.88 L250.30 312.07 L250.75 312.25 L251.19 312.43 L251.64 312.61 L252.09 312.79 L252.54 312.96 L252.99 313.12 L253.44 313.29 L253.90 313.45 L254.35 313.60 L254.81 313.76 L255.27 313.91 L255.72 314.05 L256.18 314.19 L256.65 314.33 L257.11 314.47 L257.57 314.60 L258.03 314.73 L258.50 314.85 L258.96 314.97 L259.43 315.09 L259.90 315.20 L260.37 315.31 L260.84 315.42 L261.31 315.52 L261.78 315.62 L262.25 315.72 L262.72 315.81 L263.19 315.90 L263.67 315.98 L264.14 316.06 L264.62 316.14 L265.09 316.21 L265.57 316.28 L266.05 316.35 L266.52 316.41 L267.00 316.47 L267.48 316.52 L267.96 316.57 L268.44 316.62 L268.91 316.67 L269.39 316.71 L269.87 316.74 L270.35 316.77 L270.83 316.80 L271.32 316.83 L271.80 316.85 L272.28 316.87 L272.76 316.88 L273.24 316.89 L273.72 316.90 L274.20 316.90 L274.68 316.90 L275.16 316.89 L275.64 316.89 L276.13 316.87 L276.61 316.86 L277.09 316.84 L277.57 316.81 L278.05 316.79 L278.53 316.76 L279.01 316.72 L279.49 316.68 L279.97 316.64 L280.45 316.59 L280.92 316.55 L281.40 316.49 L281.88 316.43 L282.36 316.37 L282.84 316.31 L283.31 316.24 L283.79 316.17 L284.26 316.09 L284.74 316.02 L285.21 315.93 L285.68 315.85 L286.16 315.76 L286.63 315.66 L287.10 315.56 L287.57 315.46 L288.04 315.36 L288.51 315.25 L288.98 315.14 L289.44 315.02 L289.91 314.90 L290.38 314.78 L290.84 314.65 L291.30 314.52 L291.76 314.39 L292.23 314.25 L292.69 314.11 L293.15 313.97 L293.60 313.82 L294.06 313.67 L294.52 313.51 L294.97 313.35 L295.42 313.19 L295.87 313.03 L296.32 312.86 L296.77 312.68 L297.22 312.51 L297.67 312.33 L298.11 312.14 L298.56 311.96 L299.00 311.77 L299.44 311.57 L299.88 311.38 L300.32 311.18 L300.75 310.97 L301.19 310.77 L301.62 310.56 L302.05 310.34 L302.48 310.13 L302.91 309.91 L303.33 309.68 L303.76 309.45 L304.18 309.22 L304.60 308.99 L305.02 308.75 L305.44 308.51 L305.85 308.27 L306.27 308.02 L306.68 307.77 L307.09 307.52 L307.49 307.27 L307.90 307.01 L308.30 306.74 L308.70 306.48 L309.10 306.21 L309.50 305.94 L309.89 305.66 L310.29 305.39 L310.68 305.11 L311.07 304.82 L311.45 304.53 L311.84 304.25 L312.22 303.95 L312.60 303.66 L312.98 303.36 L313.35 303.06 L313.72 302.75 L314.09 302.44 L314.46 302.13 L314.83 301.82 L315.19 301.50 L315.55 301.19 L315.91 300.86 L316.26 300.54 L316.62 300.21 L316.97 299.88 L317.31 299.55 L317.66 299.22 L318.00 298.88 L318.34 298.54 L318.68 298.19 L319.01 297.85 L319.35 297.50 L319.68 297.15 L320.00 296.80 L320.33 296.44 L320.65 296.08 L320.97 295.72 L321.28 295.36 L321.59 294.99 L321.90 294.62 L322.21 294.25 L322.51 293.88 L322.82 293.50 L323.11 293.13 L323.41 292.75 L323.70 292.36 L323.99 291.98 L324.28 291.59 L324.56 291.20 L324.84 290.81 L325.12 290.42 L325.39 290.02 L325.66 289.63 L325.93 289.23 L326.19 288.83 L326.46 288.42 L326.72 288.02 L326.97 287.61 L327.22 287.20 L327.47 286.79 L327.72 286.37 L327.96 285.96 L328.20 285.54 L328.44 285.12 L328.67 284.70 L328.90 284.28 L329.13 283.85 L329.35 283.43 L329.57 283.00 L329.78 282.57 L330.00 282.14 L330.21 281.70 L330.41 281.27 L330.62 280.83 L330.82 280.39 L331.01 279.96 L331.20 279.51 L331.39 279.07 L331.58 278.63 L331.76 278.18 L331.94 277.74 L332.12 277.29 L332.29 276.84 L332.46 276.39 L332.62 275.94 L332.78 275.48 L332.94 275.03 L333.10 274.57 L333.25 274.12 L333.39 273.66 L333.54 273.20 L333.68 272.74 L333.82 272.28 L333.95 271.81 L334.08 271.35 L334.20 270.89 L334.33 270.42 L334.44 269.95 L334.56 269.49 L334.67 269.02 L334.78 268.55 L334.88 268.08 L334.98 267.61 L335.08 267.14 L335.17 266.67 L335.26 266.19 L335.35 265.72 L335.43 265.25 L335.51 264.77 L335.58 264.30 L335.65 263.82 L335.72 263.34 L335.79 262.87 L335.85 262.39 L335.90 261.91 L335.95 261.43 L336.00 260.95 L336.05 260.48 L336.09 260.00 L336.13 259.52 L336.16 259.04 L336.19 258.56 L336.22 258.08 L336.24 257.60 L336.26 257.11 L336.28 256.63 L336.29 256.15 L336.30 255.67 L336.30 255.19 L336.30 254.71 L336.30 254.23 L336.29 253.75 L336.28 253.27 L336.26 252.78 L336.25 252.30 L336.22 251.82 L336.20 251.34 L336.17 250.86 L336.14 250.38 L336.10 249.90 L336.06 249.42 L336.01 248.94 L335.97 248.47 L335.91 247.99 L335.86 247.51 L335.80 247.03 L335.74 246.55 L335.67 246.08 L335.60 245.60 L335.52 245.13 L335.45 244.65 L335.37 244.18 L335.28 243.70 L335.19 243.23 L335.10 242.76 L335.00 242.29 L334.90 241.82 L334.80 241.35 L334.69 240.88 L334.58 240.41 L334.47 239.94 L334.35 239.47 L334.23 239.01 L334.10 238.54 L333.98 238.08 L333.84 237.62 L333.71 237.16 L333.57 236.70 L333.42 236.24 L333.28 235.78 L333.13 235.32 L332.97 234.87 L332.82 234.41 L332.66 233.96 L332.49 233.50 L332.32 233.05 L332.15 232.60 L331.98 232.16 L331.80 231.71 L331.62 231.26 L331.43 230.82 L331.24 230.38 L331.05 229.94 L330.86 229.50 L330.66 229.06 L330.46 228.62 L330.25 228.19 L330.04 227.75 L329.83 227.32 L329.61 226.89 L329.39 226.46 L329.17 226.04 L328.95 225.61 L328.72 225.19 L328.48 224.77 L328.25 224.35 L328.01 223.93 L327.77 223.51 L327.52 223.10 L327.27 222.69 L327.02 222.28 L326.77 221.87 L326.51 221.46 L326.25 221.06 L325.98 220.66 L325.72 220.26 L325.45 219.86 L325.17 219.46 L324.90 219.07 L324.62 218.68 L324.33 218.29 L324.05 217.90 L323.76 217.51 L323.47 217.13 L323.17 216.75 L322.88 216.37 L322.58 216.00 L322.27 215.62 L321.97 215.25 L321.66 214.88 L321.35 214.52 L321.03 214.15 L320.71 213.79 L320.39 213.43 L320.07 213.08 L319.74 212.72 L319.41 212.37 L319.08 212.02 L318.75 211.68 L318.41 211.33 L318.07 210.99 L317.73 210.65 L317.39 210.32 L317.04 209.98 L316.69 209.65 L316.34 209.33 L315.98 209.00 L315.62 208.68 L315.26 208.36 L314.90 208.04 L314.54 207.73 L314.17 207.42 L313.80 207.11 L313.43 206.81 L313.05 206.50 L312.68 206.20 L312.30 205.91 L311.92 205.61 L311.53 205.32 L311.15 205.04 L310.76 204.75 L310.37 204.47 L309.98 204.19 L309.58 203.92 L309.18 203.65 L308.79 203.38 L308.38 203.11 L307.98 202.85 L307.58 202.59 L307.17 202.33 L306.76 202.08 L306.35 201.83 L305.94 201.58 L305.52 201.34 L305.11 201.09 L304.69 200.86 L304.27 200.62 L303.84 200.39 L303.42 200.16 L303.00 199.94 L302.57 199.72 L302.14 199.50 L301.71 199.29 L301.28 199.08 L300.84 198.87 L300.41 198.66 L299.97 198.46 L299.53 198.27 L299.09 198.07 L298.65 197.88 L298.20 197.69 L297.76 197.51 L297.31 197.33 L296.87 197.15 L296.42 196.98 L295.97 196.81 L295.52 196.64 L295.06 196.48 L294.61 196.32 L294.15 196.16 L293.70 196.01 L293.24 195.86 L292.78 195.72 L292.32 195.58 L291.86 195.44 L291.40 195.30 L290.93 195.17 L290.47 195.05 L290.01 194.92 L289.54 194.80 L289.07 194.69 L288.61 194.57 L288.14 194.46 L287.67 194.36 L287.20 194.26 L286.73 194.16 L286.25 194.06 L285.78 193.97 L285.31 193.89 L284.83 193.80 L284.36 193.72 L283.88 193.65 L283.41 193.57 L282.93 193.50 L282.46 193.44 L281.98 193.38 L281.50 193.32 L281.02 193.27 L280.54 193.22 L280.07 193.17 L279.59 193.13 L279.11 193.09 L278.63 193.05 L278.15 193.02 L277.67 192.99 L277.19 192.97 L276.71 192.95 L276.22 192.93 L275.74 192.92 L275.26 192.91 L274.78 192.90 L274.30 192.90 L274.30 130.90 L299.10 130.90Z" fill="none" stroke="#000" stroke-width="1.1" stroke-linejoin="round"/>
<path d="M278.92 206.87 A48.30 48.30 0 1 1 237.28 288.07 L228.24 296.71 L231.80 272.60 L253.40 272.66 L244.87 280.82 A37.80 37.80 0 1 0 277.46 217.27 Z" fill="#ff0000" stroke="#3a4fc0" stroke-width="0.7" stroke-linejoin="miter"/>
<rect x="57.00" y="27.40" width="415.00" height="367.60" fill="none" stroke="#3a3a3a" stroke-width="1.3"/>
<path d="M57.00 378.90h4.3M472.00 378.90h-4.3M57.00 347.90h4.3M472.00 347.90h-4.3M57.00 316.90h4.3M472.00 316.90h-4.3M57.00 285.90h4.3M472.00 285.90h-4.3M57.00 254.90h4.3M472.00 254.90h-4.3M57.00 223.90h4.3M472.00 223.90h-4.3M57.00 192.90h4.3M472.00 192.90h-4.3M57.00 161.90h4.3M472.00 161.90h-4.3M57.00 130.90h4.3M472.00 130.90h-4.3M57.00 99.90h4.3M472.00 99.90h-4.3M57.00 68.90h4.3M472.00 68.90h-4.3M57.00 37.90h4.3M472.00 37.90h-4.3M150.30 395.00v-4.5M150.30 27.40v4.5M274.30 395.00v-4.5M274.30 27.40v4.5M398.30 395.00v-4.5M398.30 27.40v4.5" stroke="#3a3a3a" stroke-width="1.3" fill="none"/>
<text x="90.30" y="19.05" font-size="17.20" text-anchor="start" textLength="59.97" lengthAdjust="spacingAndGlyphs">Surface</text>
<text x="151.40" y="19.05" font-size="17.20" text-anchor="start" textLength="5.40" lengthAdjust="spacingAndGlyphs">/</text>
<text x="156.78" y="19.05" font-size="17.20" text-anchor="start" textLength="68.84" lengthAdjust="spacingAndGlyphs">Contour:</text>
<text x="231.21" y="19.05" font-size="17.20" text-anchor="start" textLength="62.93" lengthAdjust="spacingAndGlyphs">Velocity</text>
<text x="299.29" y="19.05" font-size="17.20" text-anchor="start" textLength="85.62" lengthAdjust="spacingAndGlyphs">magnitude</text>
<text x="391.51" y="19.05" font-size="17.20" text-anchor="start" textLength="40.08" lengthAdjust="spacingAndGlyphs">(m/s)</text>
<text x="13.68" y="76.92" font-size="18.40" text-anchor="start" textLength="31.56" lengthAdjust="spacingAndGlyphs">300</text>
<text x="13.55" y="108.42" font-size="18.40" text-anchor="start" textLength="31.80" lengthAdjust="spacingAndGlyphs">250</text>
<text x="13.53" y="139.52" font-size="18.40" text-anchor="start" textLength="32.22" lengthAdjust="spacingAndGlyphs">200</text>
<text x="12.43" y="173.52" font-size="18.40" text-anchor="start" textLength="32.22" lengthAdjust="spacingAndGlyphs">150</text>
<text x="12.12" y="202.12" font-size="18.40" text-anchor="start" textLength="32.54" lengthAdjust="spacingAndGlyphs">100</text>
<text x="18.65" y="232.52" font-size="18.40" text-anchor="start" textLength="20.88" lengthAdjust="spacingAndGlyphs">50</text>
<text x="23.12" y="264.52" font-size="18.40" text-anchor="start" textLength="11.17" lengthAdjust="spacingAndGlyphs">0</text>
<text x="21.53" y="295.72" font-size="18.40" text-anchor="start" textLength="21.31" lengthAdjust="spacingAndGlyphs">50</text>
<rect x="9.10" y="288.85" width="9.00" height="1.30" fill="#000"/>
<text x="16.65" y="324.72" font-size="18.40" text-anchor="start" textLength="31.90" lengthAdjust="spacingAndGlyphs">100</text>
<rect x="4.20" y="317.95" width="9.70" height="1.30" fill="#000"/>
<text x="15.58" y="354.62" font-size="18.40" text-anchor="start" textLength="31.15" lengthAdjust="spacingAndGlyphs">150</text>
<rect x="2.80" y="347.75" width="10.40" height="1.30" fill="#000"/>
<text x="17.85" y="387.22" font-size="18.40" text-anchor="start" textLength="31.59" lengthAdjust="spacingAndGlyphs">200</text>
<rect x="5.60" y="380.30" width="9.70" height="1.30" fill="#000"/>
<text x="139.75" y="424.52" font-size="18.40" text-anchor="start" textLength="31.69" lengthAdjust="spacingAndGlyphs">200</text>
<rect x="127.10" y="417.55" width="10.40" height="1.30" fill="#000"/>
<text x="269.38" y="424.52" font-size="18.40" text-anchor="start" textLength="11.63" lengthAdjust="spacingAndGlyphs">0</text>
<text x="382.17" y="424.52" font-size="18.40" text-anchor="start" textLength="31.06" lengthAdjust="spacingAndGlyphs">200</text>
<path transform="translate(0.00 0.00)" d="M8.7 26.8Q6.8 33.5 4.3 40.2M7.1 32.6Q7.0 36.6 9.7 36.4Q12.4 36.1 13.9 32.0M14.9 26.8L13.95 34.4Q13.8 36.6 15.3 36.4Q16.2 36.2 16.8 35.3" fill="none" stroke="#000" stroke-width="1.35" stroke-linecap="round" stroke-linejoin="round"/><text x="16.21" y="36.70" font-size="13.60" text-anchor="start" textLength="13.78" lengthAdjust="spacingAndGlyphs">m</text>
<path transform="translate(445.20 373.80)" d="M8.7 26.8Q6.8 33.5 4.3 40.2M7.1 32.6Q7.0 36.6 9.7 36.4Q12.4 36.1 13.9 32.0M14.9 26.8L13.95 34.4Q13.8 36.6 15.3 36.4Q16.2 36.2 16.8 35.3" fill="none" stroke="#000" stroke-width="1.35" stroke-linecap="round" stroke-linejoin="round"/><text x="461.55" y="410.30" font-size="13.40" text-anchor="start" textLength="13.31" lengthAdjust="spacingAndGlyphs">m</text>
<defs><linearGradient id="cb" x1="0" y1="1" x2="0" y2="0"><stop offset="0" stop-color="#0000ff"/><stop offset="0.5000" stop-color="#ffffff"/><stop offset="1" stop-color="#ff0000"/></linearGradient></defs>
<rect x="489.80" y="60.70" width="13.00" height="329.10" fill="url(#cb)" stroke="#333" stroke-width="1.1"/>
<text x="509.24" y="396.03" font-size="16.60" text-anchor="start" textLength="9.42" lengthAdjust="spacingAndGlyphs">0</text>
<text x="509.22" y="362.10" font-size="16.60" text-anchor="start" textLength="9.50" lengthAdjust="spacingAndGlyphs">5</text>
<text x="508.21" y="328.17" font-size="16.60" text-anchor="start" textLength="20.30" lengthAdjust="spacingAndGlyphs">10</text>
<text x="508.21" y="294.23" font-size="16.60" text-anchor="start" textLength="20.36" lengthAdjust="spacingAndGlyphs">15</text>
<text x="508.71" y="260.30" font-size="16.60" text-anchor="start" textLength="19.78" lengthAdjust="spacingAndGlyphs">20</text>
<text x="508.71" y="226.37" font-size="16.60" text-anchor="start" textLength="19.84" lengthAdjust="spacingAndGlyphs">25</text>
<text x="508.93" y="192.43" font-size="16.60" text-anchor="start" textLength="19.55" lengthAdjust="spacingAndGlyphs">30</text>
<text x="508.93" y="158.50" font-size="16.60" text-anchor="start" textLength="19.61" lengthAdjust="spacingAndGlyphs">35</text>
<text x="509.20" y="124.57" font-size="16.60" text-anchor="start" textLength="19.27" lengthAdjust="spacingAndGlyphs">40</text>
<text x="509.20" y="90.63" font-size="16.60" text-anchor="start" textLength="19.33" lengthAdjust="spacingAndGlyphs">45</text>
<path d="M489.80 389.80h2.2M502.80 389.80h-2.2M489.80 355.87h2.2M502.80 355.87h-2.2M489.80 321.93h2.2M502.80 321.93h-2.2M489.80 288.00h2.2M502.80 288.00h-2.2M489.80 254.07h2.2M502.80 254.07h-2.2M489.80 220.13h2.2M502.80 220.13h-2.2M489.80 186.20h2.2M502.80 186.20h-2.2M489.80 152.27h2.2M502.80 152.27h-2.2M489.80 118.33h2.2M502.80 118.33h-2.2M489.80 84.40h2.2M502.80 84.40h-2.2" stroke="#222" stroke-width="1.2"/>
<path d="M503.8 42.3L512.2 50.3M512.2 42.3L503.8 50.3" stroke="#000" stroke-width="1.15" fill="none"/>
<text x="514.88" y="51.63" font-size="16.60" text-anchor="start" textLength="19.30" lengthAdjust="spacingAndGlyphs">10</text>
<rect x="536.00" y="38.80" width="3.60" height="1.00" fill="#000"/>
<text x="540.20" y="43.50" font-size="10.20" text-anchor="start" textLength="7.17" lengthAdjust="spacingAndGlyphs">4</text>
</svg>
</body></html>
